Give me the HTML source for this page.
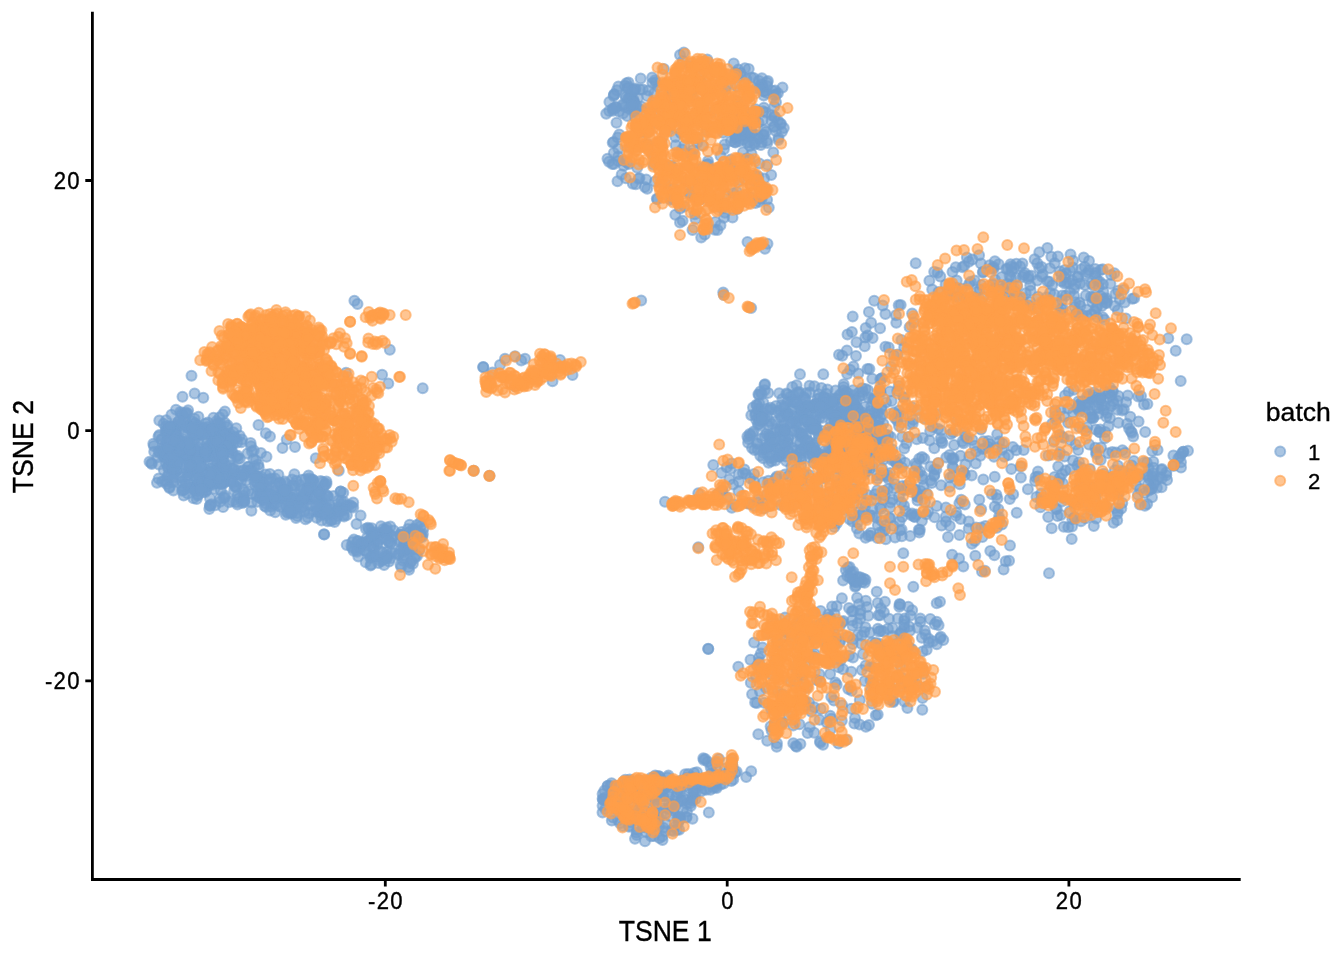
<!DOCTYPE html>
<html><head><meta charset="utf-8"><title>TSNE batch</title>
<style>
html,body{margin:0;padding:0;background:#fff;overflow:hidden;}
svg{display:block;}
text{font-family:"Liberation Sans",sans-serif;fill:#000;stroke:#000;stroke-width:0.35px;}
.tick{font-size:22.1px;}
.title{font-size:26.6px;}
</style></head><body>
<svg width="1344" height="960" viewBox="0 0 1344 960">
<rect width="1344" height="960" fill="#fff"/>
<g fill="#729ECE" fill-opacity="0.6" stroke="#729ECE" stroke-opacity="0.6" stroke-width="2"><circle cx="663.9" cy="68.9" r="5"/><circle cx="682.9" cy="61.1" r="5"/><circle cx="690.0" cy="66.0" r="5"/><circle cx="699.9" cy="75.9" r="5"/><circle cx="707.3" cy="59.6" r="5"/><circle cx="724.3" cy="76.8" r="5"/><circle cx="628.5" cy="82.4" r="5"/><circle cx="655.9" cy="82.3" r="5"/><circle cx="676.5" cy="83.0" r="5"/><circle cx="680.8" cy="84.3" r="5"/><circle cx="701.9" cy="86.0" r="5"/><circle cx="706.4" cy="69.9" r="5"/><circle cx="726.3" cy="86.7" r="5"/><circle cx="740.6" cy="72.9" r="5"/><circle cx="753.7" cy="77.9" r="5"/><circle cx="748.7" cy="68.9" r="5"/><circle cx="767.9" cy="80.9" r="5"/><circle cx="625.0" cy="85.7" r="5"/><circle cx="630.8" cy="95.7" r="5"/><circle cx="635.4" cy="88.4" r="5"/><circle cx="655.0" cy="80.3" r="5"/><circle cx="670.5" cy="89.2" r="5"/><circle cx="670.2" cy="97.4" r="5"/><circle cx="700.3" cy="88.3" r="5"/><circle cx="701.6" cy="82.8" r="5"/><circle cx="707.7" cy="90.8" r="5"/><circle cx="736.9" cy="86.6" r="5"/><circle cx="749.0" cy="97.3" r="5"/><circle cx="756.2" cy="88.2" r="5"/><circle cx="774.0" cy="95.3" r="5"/><circle cx="775.1" cy="90.5" r="5"/><circle cx="609.4" cy="102.1" r="5"/><circle cx="615.9" cy="107.5" r="5"/><circle cx="629.0" cy="108.8" r="5"/><circle cx="652.6" cy="106.1" r="5"/><circle cx="653.5" cy="105.1" r="5"/><circle cx="669.8" cy="91.9" r="5"/><circle cx="692.0" cy="90.8" r="5"/><circle cx="693.4" cy="98.8" r="5"/><circle cx="702.9" cy="103.7" r="5"/><circle cx="725.4" cy="90.1" r="5"/><circle cx="737.3" cy="100.9" r="5"/><circle cx="739.3" cy="106.0" r="5"/><circle cx="763.8" cy="95.4" r="5"/><circle cx="776.0" cy="102.2" r="5"/><circle cx="774.3" cy="106.4" r="5"/><circle cx="622.7" cy="104.4" r="5"/><circle cx="635.2" cy="118.1" r="5"/><circle cx="641.4" cy="106.5" r="5"/><circle cx="662.2" cy="108.2" r="5"/><circle cx="664.4" cy="100.7" r="5"/><circle cx="676.0" cy="113.5" r="5"/><circle cx="694.7" cy="119.0" r="5"/><circle cx="703.4" cy="118.0" r="5"/><circle cx="711.2" cy="112.6" r="5"/><circle cx="727.8" cy="118.5" r="5"/><circle cx="733.6" cy="118.4" r="5"/><circle cx="755.5" cy="109.2" r="5"/><circle cx="755.9" cy="112.2" r="5"/><circle cx="616.5" cy="122.7" r="5"/><circle cx="627.3" cy="115.9" r="5"/><circle cx="645.2" cy="125.8" r="5"/><circle cx="654.7" cy="116.1" r="5"/><circle cx="667.8" cy="127.0" r="5"/><circle cx="679.4" cy="119.9" r="5"/><circle cx="690.4" cy="117.7" r="5"/><circle cx="710.5" cy="127.8" r="5"/><circle cx="730.2" cy="124.2" r="5"/><circle cx="732.8" cy="116.0" r="5"/><circle cx="749.8" cy="117.7" r="5"/><circle cx="751.1" cy="122.0" r="5"/><circle cx="771.9" cy="115.3" r="5"/><circle cx="619.3" cy="134.4" r="5"/><circle cx="638.2" cy="128.0" r="5"/><circle cx="646.6" cy="132.7" r="5"/><circle cx="649.9" cy="125.3" r="5"/><circle cx="675.4" cy="136.9" r="5"/><circle cx="669.9" cy="127.6" r="5"/><circle cx="693.6" cy="137.9" r="5"/><circle cx="706.7" cy="130.2" r="5"/><circle cx="722.1" cy="121.7" r="5"/><circle cx="723.1" cy="132.7" r="5"/><circle cx="735.4" cy="136.1" r="5"/><circle cx="758.7" cy="138.4" r="5"/><circle cx="763.8" cy="134.8" r="5"/><circle cx="781.9" cy="131.7" r="5"/><circle cx="617.7" cy="137.6" r="5"/><circle cx="641.9" cy="132.1" r="5"/><circle cx="642.9" cy="146.3" r="5"/><circle cx="661.5" cy="141.7" r="5"/><circle cx="680.7" cy="133.1" r="5"/><circle cx="693.5" cy="149.9" r="5"/><circle cx="697.9" cy="138.0" r="5"/><circle cx="702.5" cy="145.2" r="5"/><circle cx="723.9" cy="149.2" r="5"/><circle cx="730.9" cy="141.1" r="5"/><circle cx="743.2" cy="139.5" r="5"/><circle cx="749.8" cy="146.1" r="5"/><circle cx="767.3" cy="143.0" r="5"/><circle cx="778.3" cy="140.0" r="5"/><circle cx="609.0" cy="161.7" r="5"/><circle cx="618.3" cy="148.8" r="5"/><circle cx="629.9" cy="147.0" r="5"/><circle cx="648.0" cy="144.4" r="5"/><circle cx="653.2" cy="154.9" r="5"/><circle cx="675.7" cy="145.2" r="5"/><circle cx="681.9" cy="149.5" r="5"/><circle cx="684.5" cy="145.1" r="5"/><circle cx="697.2" cy="142.8" r="5"/><circle cx="724.7" cy="144.6" r="5"/><circle cx="730.8" cy="159.4" r="5"/><circle cx="743.1" cy="152.2" r="5"/><circle cx="749.4" cy="159.3" r="5"/><circle cx="773.3" cy="152.4" r="5"/><circle cx="618.2" cy="156.4" r="5"/><circle cx="627.0" cy="162.6" r="5"/><circle cx="657.9" cy="160.8" r="5"/><circle cx="653.5" cy="164.8" r="5"/><circle cx="672.3" cy="167.0" r="5"/><circle cx="690.1" cy="154.1" r="5"/><circle cx="691.9" cy="154.2" r="5"/><circle cx="708.0" cy="161.0" r="5"/><circle cx="720.5" cy="155.8" r="5"/><circle cx="731.1" cy="164.1" r="5"/><circle cx="745.7" cy="158.8" r="5"/><circle cx="751.5" cy="153.9" r="5"/><circle cx="767.4" cy="164.8" r="5"/><circle cx="621.7" cy="174.5" r="5"/><circle cx="637.2" cy="167.7" r="5"/><circle cx="655.0" cy="181.4" r="5"/><circle cx="671.4" cy="165.8" r="5"/><circle cx="685.6" cy="181.9" r="5"/><circle cx="691.7" cy="183.0" r="5"/><circle cx="702.1" cy="179.7" r="5"/><circle cx="720.6" cy="173.0" r="5"/><circle cx="723.2" cy="178.2" r="5"/><circle cx="732.5" cy="167.7" r="5"/><circle cx="753.7" cy="180.8" r="5"/><circle cx="759.4" cy="163.6" r="5"/><circle cx="646.2" cy="179.6" r="5"/><circle cx="639.5" cy="178.0" r="5"/><circle cx="665.2" cy="183.9" r="5"/><circle cx="674.2" cy="188.7" r="5"/><circle cx="689.7" cy="192.9" r="5"/><circle cx="689.1" cy="193.4" r="5"/><circle cx="705.7" cy="183.1" r="5"/><circle cx="713.3" cy="177.7" r="5"/><circle cx="736.9" cy="191.9" r="5"/><circle cx="739.3" cy="180.5" r="5"/><circle cx="754.7" cy="175.4" r="5"/><circle cx="764.2" cy="178.4" r="5"/><circle cx="644.9" cy="186.9" r="5"/><circle cx="647.2" cy="188.7" r="5"/><circle cx="670.4" cy="199.7" r="5"/><circle cx="672.3" cy="198.8" r="5"/><circle cx="700.3" cy="199.6" r="5"/><circle cx="705.2" cy="197.3" r="5"/><circle cx="725.4" cy="195.4" r="5"/><circle cx="733.3" cy="193.2" r="5"/><circle cx="742.0" cy="201.4" r="5"/><circle cx="750.7" cy="197.5" r="5"/><circle cx="759.4" cy="194.4" r="5"/><circle cx="675.3" cy="214.7" r="5"/><circle cx="680.1" cy="208.6" r="5"/><circle cx="696.4" cy="197.7" r="5"/><circle cx="718.8" cy="201.3" r="5"/><circle cx="721.7" cy="208.2" r="5"/><circle cx="724.9" cy="212.7" r="5"/><circle cx="737.4" cy="209.0" r="5"/><circle cx="761.7" cy="198.9" r="5"/><circle cx="684.4" cy="206.6" r="5"/><circle cx="694.9" cy="214.3" r="5"/><circle cx="695.6" cy="219.0" r="5"/><circle cx="724.0" cy="217.8" r="5"/><circle cx="720.5" cy="225.2" r="5"/><circle cx="682.6" cy="220.7" r="5"/><circle cx="704.8" cy="234.6" r="5"/><circle cx="715.4" cy="222.0" r="5"/><circle cx="714.6" cy="229.8" r="5"/><circle cx="633.7" cy="112.3" r="5"/><circle cx="625.0" cy="95.1" r="5"/><circle cx="647.3" cy="96.1" r="5"/><circle cx="637.7" cy="98.3" r="5"/><circle cx="616.0" cy="106.9" r="5"/><circle cx="652.4" cy="83.0" r="5"/><circle cx="633.0" cy="98.8" r="5"/><circle cx="634.4" cy="111.1" r="5"/><circle cx="625.9" cy="97.0" r="5"/><circle cx="634.0" cy="101.3" r="5"/><circle cx="641.9" cy="110.4" r="5"/><circle cx="613.0" cy="110.7" r="5"/><circle cx="629.5" cy="97.8" r="5"/><circle cx="613.7" cy="95.9" r="5"/><circle cx="618.9" cy="111.5" r="5"/><circle cx="627.7" cy="88.6" r="5"/><circle cx="609.2" cy="111.1" r="5"/><circle cx="630.5" cy="99.5" r="5"/><circle cx="612.7" cy="108.8" r="5"/><circle cx="634.0" cy="89.7" r="5"/><circle cx="626.4" cy="83.2" r="5"/><circle cx="623.2" cy="105.5" r="5"/><circle cx="616.9" cy="90.3" r="5"/><circle cx="613.5" cy="108.5" r="5"/><circle cx="642.8" cy="89.4" r="5"/><circle cx="634.0" cy="102.5" r="5"/><circle cx="639.9" cy="89.6" r="5"/><circle cx="628.4" cy="87.1" r="5"/><circle cx="624.8" cy="107.0" r="5"/><circle cx="632.1" cy="107.4" r="5"/><circle cx="628.0" cy="98.8" r="5"/><circle cx="652.2" cy="77.6" r="5"/><circle cx="634.1" cy="103.8" r="5"/><circle cx="648.5" cy="90.5" r="5"/><circle cx="658.3" cy="86.9" r="5"/><circle cx="618.4" cy="86.5" r="5"/><circle cx="623.0" cy="113.5" r="5"/><circle cx="614.2" cy="94.2" r="5"/><circle cx="654.2" cy="93.2" r="5"/><circle cx="634.8" cy="89.7" r="5"/><circle cx="640.7" cy="78.5" r="5"/><circle cx="614.1" cy="94.8" r="5"/><circle cx="632.7" cy="102.2" r="5"/><circle cx="632.5" cy="91.0" r="5"/><circle cx="636.3" cy="107.1" r="5"/><circle cx="636.9" cy="106.6" r="5"/><circle cx="631.8" cy="105.7" r="5"/><circle cx="758.8" cy="80.8" r="5"/><circle cx="763.8" cy="91.2" r="5"/><circle cx="761.9" cy="78.3" r="5"/><circle cx="746.4" cy="79.2" r="5"/><circle cx="737.0" cy="74.4" r="5"/><circle cx="740.9" cy="76.1" r="5"/><circle cx="761.5" cy="84.2" r="5"/><circle cx="738.3" cy="69.5" r="5"/><circle cx="775.9" cy="94.9" r="5"/><circle cx="762.3" cy="87.3" r="5"/><circle cx="734.9" cy="72.5" r="5"/><circle cx="733.7" cy="63.4" r="5"/><circle cx="766.9" cy="82.6" r="5"/><circle cx="764.0" cy="91.4" r="5"/><circle cx="762.3" cy="85.6" r="5"/><circle cx="767.3" cy="86.3" r="5"/><circle cx="772.7" cy="91.1" r="5"/><circle cx="736.3" cy="74.0" r="5"/><circle cx="759.2" cy="87.9" r="5"/><circle cx="751.2" cy="77.5" r="5"/><circle cx="767.3" cy="93.1" r="5"/><circle cx="777.9" cy="93.2" r="5"/><circle cx="744.9" cy="68.3" r="5"/><circle cx="774.0" cy="126.7" r="5"/><circle cx="733.7" cy="111.8" r="5"/><circle cx="747.2" cy="143.0" r="5"/><circle cx="744.5" cy="110.5" r="5"/><circle cx="742.9" cy="134.6" r="5"/><circle cx="735.6" cy="119.4" r="5"/><circle cx="737.7" cy="131.4" r="5"/><circle cx="732.7" cy="125.2" r="5"/><circle cx="739.1" cy="141.3" r="5"/><circle cx="750.5" cy="116.3" r="5"/><circle cx="735.4" cy="142.5" r="5"/><circle cx="766.0" cy="131.8" r="5"/><circle cx="762.7" cy="120.1" r="5"/><circle cx="740.2" cy="135.3" r="5"/><circle cx="744.8" cy="131.5" r="5"/><circle cx="774.6" cy="117.2" r="5"/><circle cx="765.7" cy="112.5" r="5"/><circle cx="749.5" cy="123.8" r="5"/><circle cx="734.8" cy="142.0" r="5"/><circle cx="744.4" cy="118.6" r="5"/><circle cx="751.5" cy="132.0" r="5"/><circle cx="755.4" cy="134.6" r="5"/><circle cx="739.7" cy="133.8" r="5"/><circle cx="749.6" cy="136.3" r="5"/><circle cx="750.4" cy="125.4" r="5"/><circle cx="741.0" cy="119.1" r="5"/><circle cx="752.5" cy="119.0" r="5"/><circle cx="763.0" cy="135.2" r="5"/><circle cx="754.2" cy="143.1" r="5"/><circle cx="777.9" cy="120.7" r="5"/><circle cx="747.8" cy="133.7" r="5"/><circle cx="747.1" cy="135.9" r="5"/><circle cx="735.5" cy="137.7" r="5"/><circle cx="755.2" cy="117.8" r="5"/><circle cx="734.4" cy="130.6" r="5"/><circle cx="763.0" cy="111.3" r="5"/><circle cx="735.7" cy="139.0" r="5"/><circle cx="739.5" cy="137.0" r="5"/><circle cx="739.6" cy="124.0" r="5"/><circle cx="754.8" cy="144.6" r="5"/><circle cx="732.9" cy="121.7" r="5"/><circle cx="736.9" cy="135.3" r="5"/><circle cx="747.2" cy="130.9" r="5"/><circle cx="749.6" cy="118.6" r="5"/><circle cx="774.8" cy="116.4" r="5"/><circle cx="742.2" cy="130.9" r="5"/><circle cx="740.7" cy="110.3" r="5"/><circle cx="758.6" cy="122.6" r="5"/><circle cx="752.1" cy="134.2" r="5"/><circle cx="758.9" cy="138.6" r="5"/><circle cx="749.4" cy="142.2" r="5"/><circle cx="778.5" cy="137.7" r="5"/><circle cx="774.6" cy="126.7" r="5"/><circle cx="776.0" cy="131.3" r="5"/><circle cx="751.7" cy="131.8" r="5"/><circle cx="771.5" cy="121.1" r="5"/><circle cx="766.8" cy="140.8" r="5"/><circle cx="761.8" cy="142.2" r="5"/><circle cx="763.9" cy="107.8" r="5"/><circle cx="745.8" cy="129.6" r="5"/><circle cx="747.3" cy="131.5" r="5"/><circle cx="780.1" cy="123.5" r="5"/><circle cx="760.7" cy="145.0" r="5"/><circle cx="781.1" cy="124.0" r="5"/><circle cx="740.7" cy="129.2" r="5"/><circle cx="737.0" cy="119.4" r="5"/><circle cx="764.4" cy="129.7" r="5"/><circle cx="713.2" cy="170.3" r="5"/><circle cx="706.1" cy="167.7" r="5"/><circle cx="708.1" cy="170.2" r="5"/><circle cx="708.0" cy="164.0" r="5"/><circle cx="712.8" cy="173.4" r="5"/><circle cx="712.9" cy="170.2" r="5"/><circle cx="707.1" cy="164.7" r="5"/><circle cx="702.0" cy="168.1" r="5"/><circle cx="705.6" cy="168.8" r="5"/><circle cx="612.7" cy="142.8" r="5"/><circle cx="613.6" cy="142.1" r="5"/><circle cx="613.8" cy="152.9" r="5"/><circle cx="623.1" cy="160.6" r="5"/><circle cx="618.1" cy="161.0" r="5"/><circle cx="628.7" cy="163.9" r="5"/><circle cx="614.0" cy="164.0" r="5"/><circle cx="612.3" cy="163.9" r="5"/><circle cx="623.7" cy="165.8" r="5"/><circle cx="625.8" cy="178.2" r="5"/><circle cx="635.9" cy="184.3" r="5"/><circle cx="632.8" cy="183.8" r="5"/><circle cx="638.6" cy="178.8" r="5"/><circle cx="656.8" cy="198.8" r="5"/><circle cx="657.5" cy="199.3" r="5"/><circle cx="758.4" cy="176.6" r="5"/><circle cx="758.6" cy="183.3" r="5"/><circle cx="758.5" cy="187.1" r="5"/><circle cx="760.8" cy="190.9" r="5"/><circle cx="766.4" cy="189.2" r="5"/><circle cx="759.2" cy="201.7" r="5"/><circle cx="760.9" cy="197.6" r="5"/><circle cx="755.3" cy="202.9" r="5"/><circle cx="767.1" cy="199.8" r="5"/><circle cx="747.5" cy="242.0" r="5"/><circle cx="767.5" cy="243.8" r="5"/><circle cx="765.0" cy="248.8" r="5"/><circle cx="680.0" cy="55.0" r="5"/><circle cx="683.8" cy="52.5" r="5"/><circle cx="606.2" cy="113.8" r="5"/><circle cx="607.5" cy="158.8" r="5"/><circle cx="617.5" cy="181.2" r="5"/><circle cx="783.8" cy="128.0" r="5"/><circle cx="782.5" cy="87.5" r="5"/><circle cx="680.0" cy="222.5" r="5"/><circle cx="692.5" cy="230.0" r="5"/><circle cx="701.2" cy="237.5" r="5"/><circle cx="717.5" cy="230.0" r="5"/><circle cx="732.5" cy="217.5" r="5"/><circle cx="768.8" cy="207.5" r="5"/><circle cx="771.2" cy="175.0" r="5"/><circle cx="322.9" cy="482.0" r="5"/><circle cx="187.4" cy="413.7" r="5"/><circle cx="175.9" cy="430.9" r="5"/><circle cx="262.1" cy="489.2" r="5"/><circle cx="256.5" cy="496.0" r="5"/><circle cx="298.4" cy="504.1" r="5"/><circle cx="221.3" cy="484.1" r="5"/><circle cx="287.0" cy="489.5" r="5"/><circle cx="206.6" cy="478.9" r="5"/><circle cx="172.6" cy="461.3" r="5"/><circle cx="222.6" cy="458.4" r="5"/><circle cx="326.4" cy="481.4" r="5"/><circle cx="209.2" cy="456.3" r="5"/><circle cx="320.4" cy="515.3" r="5"/><circle cx="292.0" cy="499.8" r="5"/><circle cx="292.8" cy="485.2" r="5"/><circle cx="232.4" cy="476.7" r="5"/><circle cx="206.7" cy="443.3" r="5"/><circle cx="168.0" cy="434.0" r="5"/><circle cx="177.1" cy="423.7" r="5"/><circle cx="264.0" cy="486.4" r="5"/><circle cx="275.1" cy="478.6" r="5"/><circle cx="235.1" cy="474.3" r="5"/><circle cx="182.6" cy="448.7" r="5"/><circle cx="234.2" cy="490.5" r="5"/><circle cx="233.9" cy="468.5" r="5"/><circle cx="196.0" cy="438.1" r="5"/><circle cx="243.3" cy="469.9" r="5"/><circle cx="192.9" cy="434.4" r="5"/><circle cx="229.5" cy="433.3" r="5"/><circle cx="164.4" cy="446.3" r="5"/><circle cx="176.8" cy="470.7" r="5"/><circle cx="192.5" cy="465.9" r="5"/><circle cx="221.9" cy="431.1" r="5"/><circle cx="222.3" cy="460.3" r="5"/><circle cx="340.6" cy="491.4" r="5"/><circle cx="174.1" cy="453.1" r="5"/><circle cx="222.7" cy="414.5" r="5"/><circle cx="263.0" cy="479.0" r="5"/><circle cx="161.6" cy="439.2" r="5"/><circle cx="248.0" cy="466.7" r="5"/><circle cx="275.2" cy="512.3" r="5"/><circle cx="202.0" cy="466.5" r="5"/><circle cx="218.2" cy="467.9" r="5"/><circle cx="168.3" cy="467.2" r="5"/><circle cx="223.0" cy="482.4" r="5"/><circle cx="239.7" cy="435.8" r="5"/><circle cx="190.4" cy="466.6" r="5"/><circle cx="286.9" cy="499.5" r="5"/><circle cx="316.6" cy="511.5" r="5"/><circle cx="233.3" cy="432.3" r="5"/><circle cx="171.6" cy="482.1" r="5"/><circle cx="163.8" cy="470.0" r="5"/><circle cx="268.8" cy="486.4" r="5"/><circle cx="285.4" cy="492.2" r="5"/><circle cx="329.1" cy="512.8" r="5"/><circle cx="224.9" cy="411.6" r="5"/><circle cx="182.6" cy="450.5" r="5"/><circle cx="211.4" cy="504.2" r="5"/><circle cx="220.7" cy="477.3" r="5"/><circle cx="219.7" cy="480.2" r="5"/><circle cx="337.9" cy="512.1" r="5"/><circle cx="196.7" cy="499.0" r="5"/><circle cx="222.1" cy="467.6" r="5"/><circle cx="282.1" cy="492.2" r="5"/><circle cx="253.5" cy="459.1" r="5"/><circle cx="167.2" cy="432.7" r="5"/><circle cx="196.5" cy="453.6" r="5"/><circle cx="296.0" cy="505.0" r="5"/><circle cx="221.5" cy="433.2" r="5"/><circle cx="224.9" cy="479.3" r="5"/><circle cx="239.8" cy="458.8" r="5"/><circle cx="327.6" cy="521.3" r="5"/><circle cx="248.3" cy="466.9" r="5"/><circle cx="194.0" cy="486.8" r="5"/><circle cx="310.8" cy="487.5" r="5"/><circle cx="278.0" cy="493.0" r="5"/><circle cx="242.1" cy="439.5" r="5"/><circle cx="198.6" cy="448.8" r="5"/><circle cx="220.1" cy="427.1" r="5"/><circle cx="241.3" cy="442.2" r="5"/><circle cx="209.3" cy="509.0" r="5"/><circle cx="185.3" cy="457.1" r="5"/><circle cx="316.6" cy="517.7" r="5"/><circle cx="227.6" cy="435.4" r="5"/><circle cx="292.3" cy="497.9" r="5"/><circle cx="247.0" cy="475.8" r="5"/><circle cx="232.5" cy="453.1" r="5"/><circle cx="174.4" cy="458.7" r="5"/><circle cx="257.6" cy="484.2" r="5"/><circle cx="217.3" cy="481.3" r="5"/><circle cx="199.8" cy="476.8" r="5"/><circle cx="175.7" cy="432.6" r="5"/><circle cx="266.1" cy="503.4" r="5"/><circle cx="259.3" cy="478.0" r="5"/><circle cx="276.5" cy="503.0" r="5"/><circle cx="330.4" cy="512.8" r="5"/><circle cx="337.6" cy="516.0" r="5"/><circle cx="211.6" cy="451.6" r="5"/><circle cx="177.0" cy="470.2" r="5"/><circle cx="236.4" cy="502.2" r="5"/><circle cx="322.5" cy="506.5" r="5"/><circle cx="203.8" cy="456.1" r="5"/><circle cx="282.3" cy="496.0" r="5"/><circle cx="164.6" cy="480.7" r="5"/><circle cx="199.0" cy="479.9" r="5"/><circle cx="188.1" cy="410.3" r="5"/><circle cx="262.0" cy="487.5" r="5"/><circle cx="186.4" cy="412.6" r="5"/><circle cx="287.8" cy="489.4" r="5"/><circle cx="190.8" cy="429.0" r="5"/><circle cx="353.2" cy="502.5" r="5"/><circle cx="260.6" cy="498.6" r="5"/><circle cx="222.4" cy="439.9" r="5"/><circle cx="270.2" cy="494.1" r="5"/><circle cx="342.5" cy="509.4" r="5"/><circle cx="164.4" cy="451.1" r="5"/><circle cx="184.9" cy="421.1" r="5"/><circle cx="317.8" cy="490.2" r="5"/><circle cx="215.1" cy="440.5" r="5"/><circle cx="236.3" cy="428.2" r="5"/><circle cx="192.6" cy="455.5" r="5"/><circle cx="217.6" cy="423.0" r="5"/><circle cx="317.6" cy="491.2" r="5"/><circle cx="230.6" cy="459.0" r="5"/><circle cx="231.2" cy="480.1" r="5"/><circle cx="200.2" cy="478.6" r="5"/><circle cx="189.5" cy="484.1" r="5"/><circle cx="310.8" cy="479.7" r="5"/><circle cx="338.0" cy="510.1" r="5"/><circle cx="183.0" cy="490.1" r="5"/><circle cx="186.0" cy="446.4" r="5"/><circle cx="168.1" cy="436.7" r="5"/><circle cx="192.8" cy="427.4" r="5"/><circle cx="173.3" cy="482.2" r="5"/><circle cx="279.5" cy="482.4" r="5"/><circle cx="212.4" cy="441.3" r="5"/><circle cx="174.6" cy="471.9" r="5"/><circle cx="217.7" cy="445.5" r="5"/><circle cx="203.7" cy="453.8" r="5"/><circle cx="256.3" cy="481.8" r="5"/><circle cx="189.2" cy="445.6" r="5"/><circle cx="190.6" cy="469.7" r="5"/><circle cx="238.0" cy="458.8" r="5"/><circle cx="340.6" cy="491.6" r="5"/><circle cx="310.5" cy="483.0" r="5"/><circle cx="291.6" cy="512.6" r="5"/><circle cx="215.3" cy="505.2" r="5"/><circle cx="208.1" cy="481.5" r="5"/><circle cx="242.4" cy="475.5" r="5"/><circle cx="330.5" cy="506.9" r="5"/><circle cx="220.1" cy="501.7" r="5"/><circle cx="333.5" cy="496.1" r="5"/><circle cx="228.8" cy="480.4" r="5"/><circle cx="233.2" cy="443.7" r="5"/><circle cx="191.1" cy="488.0" r="5"/><circle cx="254.5" cy="466.2" r="5"/><circle cx="280.5" cy="506.7" r="5"/><circle cx="223.1" cy="507.1" r="5"/><circle cx="275.6" cy="483.6" r="5"/><circle cx="226.4" cy="469.1" r="5"/><circle cx="175.4" cy="437.5" r="5"/><circle cx="260.8" cy="488.8" r="5"/><circle cx="237.6" cy="495.6" r="5"/><circle cx="212.9" cy="464.7" r="5"/><circle cx="255.7" cy="475.6" r="5"/><circle cx="226.7" cy="426.9" r="5"/><circle cx="291.4" cy="513.8" r="5"/><circle cx="304.0" cy="498.9" r="5"/><circle cx="247.0" cy="470.6" r="5"/><circle cx="159.4" cy="434.9" r="5"/><circle cx="330.2" cy="509.1" r="5"/><circle cx="235.6" cy="486.6" r="5"/><circle cx="215.7" cy="454.2" r="5"/><circle cx="224.4" cy="482.5" r="5"/><circle cx="164.4" cy="457.7" r="5"/><circle cx="191.2" cy="472.9" r="5"/><circle cx="275.1" cy="490.6" r="5"/><circle cx="201.9" cy="488.6" r="5"/><circle cx="349.8" cy="505.0" r="5"/><circle cx="179.8" cy="423.9" r="5"/><circle cx="205.1" cy="455.8" r="5"/><circle cx="220.8" cy="490.4" r="5"/><circle cx="296.0" cy="518.0" r="5"/><circle cx="185.6" cy="444.7" r="5"/><circle cx="195.9" cy="431.4" r="5"/><circle cx="237.8" cy="474.1" r="5"/><circle cx="166.6" cy="481.3" r="5"/><circle cx="153.3" cy="443.8" r="5"/><circle cx="251.6" cy="502.4" r="5"/><circle cx="237.6" cy="455.7" r="5"/><circle cx="251.6" cy="470.1" r="5"/><circle cx="242.9" cy="471.2" r="5"/><circle cx="246.0" cy="480.6" r="5"/><circle cx="193.5" cy="455.7" r="5"/><circle cx="301.6" cy="508.1" r="5"/><circle cx="278.4" cy="474.8" r="5"/><circle cx="176.2" cy="451.3" r="5"/><circle cx="243.4" cy="498.4" r="5"/><circle cx="308.9" cy="513.2" r="5"/><circle cx="185.6" cy="441.4" r="5"/><circle cx="336.1" cy="518.9" r="5"/><circle cx="236.4" cy="486.8" r="5"/><circle cx="217.8" cy="424.0" r="5"/><circle cx="219.4" cy="456.3" r="5"/><circle cx="320.6" cy="499.8" r="5"/><circle cx="251.8" cy="494.1" r="5"/><circle cx="211.6" cy="433.0" r="5"/><circle cx="188.2" cy="440.8" r="5"/><circle cx="247.5" cy="453.5" r="5"/><circle cx="173.0" cy="431.0" r="5"/><circle cx="237.4" cy="504.4" r="5"/><circle cx="217.6" cy="432.4" r="5"/><circle cx="258.3" cy="464.6" r="5"/><circle cx="168.8" cy="453.8" r="5"/><circle cx="351.5" cy="506.6" r="5"/><circle cx="242.2" cy="502.9" r="5"/><circle cx="314.2" cy="497.6" r="5"/><circle cx="310.7" cy="483.6" r="5"/><circle cx="250.6" cy="443.0" r="5"/><circle cx="217.0" cy="463.4" r="5"/><circle cx="292.2" cy="512.5" r="5"/><circle cx="343.3" cy="492.8" r="5"/><circle cx="239.3" cy="498.1" r="5"/><circle cx="287.9" cy="508.4" r="5"/><circle cx="222.7" cy="483.9" r="5"/><circle cx="223.9" cy="469.8" r="5"/><circle cx="338.1" cy="511.6" r="5"/><circle cx="275.7" cy="495.7" r="5"/><circle cx="286.7" cy="501.2" r="5"/><circle cx="304.3" cy="511.6" r="5"/><circle cx="192.8" cy="441.8" r="5"/><circle cx="213.1" cy="454.4" r="5"/><circle cx="201.1" cy="487.9" r="5"/><circle cx="343.6" cy="501.6" r="5"/><circle cx="173.4" cy="490.4" r="5"/><circle cx="176.0" cy="409.8" r="5"/><circle cx="299.7" cy="501.2" r="5"/><circle cx="163.6" cy="423.7" r="5"/><circle cx="207.3" cy="472.8" r="5"/><circle cx="224.8" cy="469.3" r="5"/><circle cx="235.0" cy="486.7" r="5"/><circle cx="222.3" cy="474.9" r="5"/><circle cx="347.1" cy="505.5" r="5"/><circle cx="232.1" cy="438.7" r="5"/><circle cx="285.9" cy="496.1" r="5"/><circle cx="232.5" cy="481.4" r="5"/><circle cx="187.7" cy="447.4" r="5"/><circle cx="257.2" cy="477.3" r="5"/><circle cx="325.3" cy="484.5" r="5"/><circle cx="271.1" cy="506.5" r="5"/><circle cx="216.1" cy="470.3" r="5"/><circle cx="229.0" cy="441.4" r="5"/><circle cx="258.8" cy="467.4" r="5"/><circle cx="182.3" cy="485.9" r="5"/><circle cx="186.8" cy="450.5" r="5"/><circle cx="217.3" cy="427.9" r="5"/><circle cx="319.7" cy="512.6" r="5"/><circle cx="307.5" cy="495.6" r="5"/><circle cx="158.7" cy="478.6" r="5"/><circle cx="197.9" cy="494.2" r="5"/><circle cx="308.6" cy="475.4" r="5"/><circle cx="346.9" cy="515.0" r="5"/><circle cx="250.3" cy="472.0" r="5"/><circle cx="197.7" cy="495.6" r="5"/><circle cx="206.3" cy="490.5" r="5"/><circle cx="212.1" cy="452.5" r="5"/><circle cx="178.4" cy="421.7" r="5"/><circle cx="200.9" cy="477.2" r="5"/><circle cx="205.6" cy="423.7" r="5"/><circle cx="172.1" cy="468.2" r="5"/><circle cx="211.9" cy="435.6" r="5"/><circle cx="173.8" cy="433.7" r="5"/><circle cx="158.9" cy="464.5" r="5"/><circle cx="313.3" cy="511.5" r="5"/><circle cx="300.7" cy="497.8" r="5"/><circle cx="184.1" cy="489.5" r="5"/><circle cx="226.8" cy="434.3" r="5"/><circle cx="177.6" cy="442.8" r="5"/><circle cx="180.8" cy="442.6" r="5"/><circle cx="309.6" cy="499.3" r="5"/><circle cx="157.0" cy="482.8" r="5"/><circle cx="259.3" cy="497.0" r="5"/><circle cx="251.4" cy="510.7" r="5"/><circle cx="210.2" cy="468.0" r="5"/><circle cx="187.5" cy="451.7" r="5"/><circle cx="294.7" cy="486.3" r="5"/><circle cx="271.9" cy="503.1" r="5"/><circle cx="321.7" cy="520.4" r="5"/><circle cx="248.4" cy="491.3" r="5"/><circle cx="256.0" cy="476.8" r="5"/><circle cx="329.6" cy="514.4" r="5"/><circle cx="297.3" cy="512.9" r="5"/><circle cx="177.2" cy="465.5" r="5"/><circle cx="271.7" cy="478.7" r="5"/><circle cx="254.4" cy="481.5" r="5"/><circle cx="280.6" cy="483.5" r="5"/><circle cx="271.2" cy="498.7" r="5"/><circle cx="151.8" cy="464.0" r="5"/><circle cx="296.4" cy="480.8" r="5"/><circle cx="195.5" cy="487.6" r="5"/><circle cx="224.6" cy="433.1" r="5"/><circle cx="278.9" cy="496.2" r="5"/><circle cx="185.8" cy="458.9" r="5"/><circle cx="196.3" cy="460.5" r="5"/><circle cx="173.7" cy="444.7" r="5"/><circle cx="192.2" cy="421.5" r="5"/><circle cx="224.7" cy="495.6" r="5"/><circle cx="236.3" cy="456.9" r="5"/><circle cx="269.0" cy="496.5" r="5"/><circle cx="200.7" cy="431.8" r="5"/><circle cx="273.9" cy="504.2" r="5"/><circle cx="321.8" cy="502.1" r="5"/><circle cx="211.9" cy="456.6" r="5"/><circle cx="167.4" cy="450.6" r="5"/><circle cx="304.0" cy="498.6" r="5"/><circle cx="313.1" cy="488.3" r="5"/><circle cx="187.7" cy="493.6" r="5"/><circle cx="207.8" cy="427.1" r="5"/><circle cx="319.1" cy="511.5" r="5"/><circle cx="183.1" cy="455.6" r="5"/><circle cx="190.1" cy="472.2" r="5"/><circle cx="240.9" cy="481.4" r="5"/><circle cx="297.2" cy="516.1" r="5"/><circle cx="194.5" cy="451.9" r="5"/><circle cx="323.4" cy="514.0" r="5"/><circle cx="184.4" cy="456.5" r="5"/><circle cx="258.2" cy="489.4" r="5"/><circle cx="197.4" cy="484.7" r="5"/><circle cx="165.8" cy="462.7" r="5"/><circle cx="285.9" cy="506.3" r="5"/><circle cx="244.4" cy="474.6" r="5"/><circle cx="167.6" cy="430.8" r="5"/><circle cx="168.2" cy="428.5" r="5"/><circle cx="344.1" cy="516.5" r="5"/><circle cx="243.2" cy="495.7" r="5"/><circle cx="271.4" cy="493.9" r="5"/><circle cx="263.5" cy="499.7" r="5"/><circle cx="196.6" cy="450.5" r="5"/><circle cx="261.4" cy="476.7" r="5"/><circle cx="168.6" cy="465.3" r="5"/><circle cx="186.8" cy="443.7" r="5"/><circle cx="213.0" cy="484.8" r="5"/><circle cx="192.8" cy="429.0" r="5"/><circle cx="213.4" cy="432.8" r="5"/><circle cx="206.6" cy="455.5" r="5"/><circle cx="162.8" cy="451.0" r="5"/><circle cx="281.8" cy="491.0" r="5"/><circle cx="295.0" cy="497.3" r="5"/><circle cx="224.3" cy="470.0" r="5"/><circle cx="170.6" cy="426.4" r="5"/><circle cx="269.2" cy="479.3" r="5"/><circle cx="278.9" cy="498.4" r="5"/><circle cx="323.3" cy="487.1" r="5"/><circle cx="211.7" cy="483.9" r="5"/><circle cx="234.3" cy="436.7" r="5"/><circle cx="210.3" cy="451.5" r="5"/><circle cx="233.5" cy="439.2" r="5"/><circle cx="321.8" cy="504.1" r="5"/><circle cx="261.8" cy="482.7" r="5"/><circle cx="226.5" cy="447.4" r="5"/><circle cx="182.3" cy="414.8" r="5"/><circle cx="223.7" cy="497.8" r="5"/><circle cx="292.6" cy="485.2" r="5"/><circle cx="289.6" cy="497.0" r="5"/><circle cx="341.4" cy="504.3" r="5"/><circle cx="294.2" cy="498.7" r="5"/><circle cx="154.2" cy="451.7" r="5"/><circle cx="229.6" cy="465.4" r="5"/><circle cx="188.6" cy="467.9" r="5"/><circle cx="266.2" cy="507.0" r="5"/><circle cx="322.4" cy="497.1" r="5"/><circle cx="306.9" cy="499.0" r="5"/><circle cx="207.3" cy="486.0" r="5"/><circle cx="193.6" cy="470.9" r="5"/><circle cx="194.6" cy="418.7" r="5"/><circle cx="212.0" cy="481.3" r="5"/><circle cx="193.4" cy="498.3" r="5"/><circle cx="318.6" cy="492.8" r="5"/><circle cx="177.9" cy="426.3" r="5"/><circle cx="189.4" cy="487.6" r="5"/><circle cx="200.5" cy="485.6" r="5"/><circle cx="341.3" cy="510.6" r="5"/><circle cx="190.9" cy="464.1" r="5"/><circle cx="151.4" cy="463.1" r="5"/><circle cx="251.9" cy="451.4" r="5"/><circle cx="243.9" cy="500.8" r="5"/><circle cx="303.3" cy="489.6" r="5"/><circle cx="223.6" cy="446.4" r="5"/><circle cx="167.8" cy="449.8" r="5"/><circle cx="230.6" cy="446.5" r="5"/><circle cx="187.1" cy="425.3" r="5"/><circle cx="287.2" cy="512.7" r="5"/><circle cx="279.3" cy="484.4" r="5"/><circle cx="166.8" cy="483.9" r="5"/><circle cx="167.9" cy="467.7" r="5"/><circle cx="207.7" cy="422.4" r="5"/><circle cx="304.2" cy="495.1" r="5"/><circle cx="162.8" cy="455.0" r="5"/><circle cx="266.5" cy="487.7" r="5"/><circle cx="192.6" cy="455.0" r="5"/><circle cx="157.6" cy="457.3" r="5"/><circle cx="175.4" cy="460.8" r="5"/><circle cx="291.8" cy="503.4" r="5"/><circle cx="169.4" cy="487.0" r="5"/><circle cx="158.5" cy="436.6" r="5"/><circle cx="238.8" cy="479.6" r="5"/><circle cx="181.9" cy="481.6" r="5"/><circle cx="229.1" cy="438.7" r="5"/><circle cx="251.0" cy="446.2" r="5"/><circle cx="194.8" cy="423.3" r="5"/><circle cx="217.7" cy="441.7" r="5"/><circle cx="311.1" cy="505.3" r="5"/><circle cx="174.2" cy="432.4" r="5"/><circle cx="290.5" cy="505.2" r="5"/><circle cx="303.2" cy="507.1" r="5"/><circle cx="166.1" cy="420.2" r="5"/><circle cx="172.2" cy="457.3" r="5"/><circle cx="213.5" cy="417.7" r="5"/><circle cx="211.7" cy="431.1" r="5"/><circle cx="317.8" cy="500.8" r="5"/><circle cx="244.3" cy="500.8" r="5"/><circle cx="280.6" cy="484.1" r="5"/><circle cx="313.2" cy="480.1" r="5"/><circle cx="171.5" cy="414.8" r="5"/><circle cx="230.7" cy="446.6" r="5"/><circle cx="257.9" cy="477.3" r="5"/><circle cx="327.8" cy="496.2" r="5"/><circle cx="197.1" cy="488.8" r="5"/><circle cx="169.4" cy="487.9" r="5"/><circle cx="331.7" cy="519.4" r="5"/><circle cx="265.7" cy="474.5" r="5"/><circle cx="312.8" cy="480.0" r="5"/><circle cx="209.9" cy="505.6" r="5"/><circle cx="292.1" cy="479.6" r="5"/><circle cx="270.2" cy="510.5" r="5"/><circle cx="329.3" cy="504.7" r="5"/><circle cx="187.4" cy="434.0" r="5"/><circle cx="303.6" cy="495.1" r="5"/><circle cx="153.8" cy="445.9" r="5"/><circle cx="195.4" cy="434.2" r="5"/><circle cx="196.2" cy="468.3" r="5"/><circle cx="229.1" cy="448.6" r="5"/><circle cx="320.7" cy="481.0" r="5"/><circle cx="341.3" cy="501.2" r="5"/><circle cx="183.7" cy="495.6" r="5"/><circle cx="178.9" cy="460.1" r="5"/><circle cx="341.2" cy="509.1" r="5"/><circle cx="227.5" cy="425.3" r="5"/><circle cx="172.5" cy="426.2" r="5"/><circle cx="325.8" cy="506.9" r="5"/><circle cx="197.2" cy="487.0" r="5"/><circle cx="309.5" cy="505.7" r="5"/><circle cx="207.5" cy="447.9" r="5"/><circle cx="180.3" cy="451.4" r="5"/><circle cx="297.5" cy="495.1" r="5"/><circle cx="176.6" cy="435.4" r="5"/><circle cx="189.0" cy="455.2" r="5"/><circle cx="285.8" cy="514.7" r="5"/><circle cx="198.4" cy="470.5" r="5"/><circle cx="280.8" cy="497.3" r="5"/><circle cx="166.7" cy="442.4" r="5"/><circle cx="294.4" cy="474.3" r="5"/><circle cx="312.2" cy="481.3" r="5"/><circle cx="266.5" cy="456.7" r="5"/><circle cx="284.8" cy="481.5" r="5"/><circle cx="320.5" cy="506.7" r="5"/><circle cx="338.6" cy="511.2" r="5"/><circle cx="168.5" cy="475.5" r="5"/><circle cx="194.8" cy="476.3" r="5"/><circle cx="185.5" cy="484.1" r="5"/><circle cx="187.6" cy="472.3" r="5"/><circle cx="261.4" cy="484.1" r="5"/><circle cx="207.3" cy="486.9" r="5"/><circle cx="217.1" cy="458.4" r="5"/><circle cx="219.7" cy="498.4" r="5"/><circle cx="302.2" cy="479.7" r="5"/><circle cx="205.4" cy="491.9" r="5"/><circle cx="210.1" cy="505.7" r="5"/><circle cx="195.1" cy="490.6" r="5"/><circle cx="182.1" cy="477.2" r="5"/><circle cx="182.1" cy="490.7" r="5"/><circle cx="228.7" cy="444.3" r="5"/><circle cx="220.1" cy="441.3" r="5"/><circle cx="162.1" cy="481.4" r="5"/><circle cx="285.5" cy="483.3" r="5"/><circle cx="292.0" cy="498.3" r="5"/><circle cx="242.9" cy="489.3" r="5"/><circle cx="210.0" cy="498.2" r="5"/><circle cx="199.3" cy="434.9" r="5"/><circle cx="315.7" cy="497.9" r="5"/><circle cx="204.6" cy="431.6" r="5"/><circle cx="224.8" cy="497.6" r="5"/><circle cx="307.8" cy="517.5" r="5"/><circle cx="263.3" cy="496.6" r="5"/><circle cx="299.9" cy="485.0" r="5"/><circle cx="309.6" cy="478.3" r="5"/><circle cx="165.8" cy="426.2" r="5"/><circle cx="265.7" cy="486.6" r="5"/><circle cx="260.6" cy="494.7" r="5"/><circle cx="167.7" cy="456.5" r="5"/><circle cx="302.8" cy="498.7" r="5"/><circle cx="158.7" cy="451.3" r="5"/><circle cx="210.6" cy="473.9" r="5"/><circle cx="210.5" cy="428.6" r="5"/><circle cx="210.8" cy="436.5" r="5"/><circle cx="338.8" cy="506.9" r="5"/><circle cx="232.4" cy="501.0" r="5"/><circle cx="267.7" cy="494.6" r="5"/><circle cx="221.6" cy="442.7" r="5"/><circle cx="295.1" cy="506.8" r="5"/><circle cx="180.2" cy="412.0" r="5"/><circle cx="306.9" cy="489.2" r="5"/><circle cx="207.6" cy="439.8" r="5"/><circle cx="205.0" cy="469.3" r="5"/><circle cx="228.3" cy="452.0" r="5"/><circle cx="325.7" cy="515.0" r="5"/><circle cx="244.3" cy="502.2" r="5"/><circle cx="327.6" cy="509.2" r="5"/><circle cx="231.5" cy="449.6" r="5"/><circle cx="159.3" cy="420.5" r="5"/><circle cx="277.5" cy="505.7" r="5"/><circle cx="236.1" cy="438.3" r="5"/><circle cx="195.7" cy="489.7" r="5"/><circle cx="219.6" cy="470.7" r="5"/><circle cx="208.2" cy="446.0" r="5"/><circle cx="255.2" cy="485.3" r="5"/><circle cx="181.6" cy="413.3" r="5"/><circle cx="308.0" cy="487.6" r="5"/><circle cx="324.1" cy="485.1" r="5"/><circle cx="261.5" cy="482.8" r="5"/><circle cx="149.5" cy="461.7" r="5"/><circle cx="218.6" cy="476.0" r="5"/><circle cx="227.0" cy="471.5" r="5"/><circle cx="316.2" cy="505.5" r="5"/><circle cx="205.5" cy="457.5" r="5"/><circle cx="286.2" cy="495.1" r="5"/><circle cx="184.3" cy="417.9" r="5"/><circle cx="238.3" cy="470.8" r="5"/><circle cx="253.8" cy="450.5" r="5"/><circle cx="223.7" cy="477.1" r="5"/><circle cx="224.6" cy="422.6" r="5"/><circle cx="202.7" cy="492.3" r="5"/><circle cx="231.5" cy="439.9" r="5"/><circle cx="159.7" cy="453.2" r="5"/><circle cx="172.9" cy="461.7" r="5"/><circle cx="237.1" cy="442.4" r="5"/><circle cx="185.1" cy="413.4" r="5"/><circle cx="171.8" cy="464.8" r="5"/><circle cx="242.9" cy="475.9" r="5"/><circle cx="260.4" cy="486.0" r="5"/><circle cx="223.7" cy="445.7" r="5"/><circle cx="268.0" cy="480.6" r="5"/><circle cx="320.2" cy="493.2" r="5"/><circle cx="198.4" cy="416.7" r="5"/><circle cx="305.2" cy="479.2" r="5"/><circle cx="214.6" cy="489.0" r="5"/><circle cx="219.5" cy="417.4" r="5"/><circle cx="194.8" cy="477.6" r="5"/><circle cx="338.2" cy="500.6" r="5"/><circle cx="284.2" cy="490.2" r="5"/><circle cx="255.9" cy="460.3" r="5"/><circle cx="232.3" cy="468.2" r="5"/><circle cx="255.4" cy="477.0" r="5"/><circle cx="220.4" cy="424.2" r="5"/><circle cx="198.1" cy="473.2" r="5"/><circle cx="206.7" cy="456.4" r="5"/><circle cx="200.5" cy="488.0" r="5"/><circle cx="307.6" cy="489.1" r="5"/><circle cx="269.9" cy="473.9" r="5"/><circle cx="331.0" cy="520.8" r="5"/><circle cx="344.8" cy="509.9" r="5"/><circle cx="326.3" cy="494.7" r="5"/><circle cx="257.3" cy="501.8" r="5"/><circle cx="194.7" cy="476.4" r="5"/><circle cx="170.9" cy="456.1" r="5"/><circle cx="287.3" cy="511.7" r="5"/><circle cx="170.5" cy="477.1" r="5"/><circle cx="216.5" cy="421.2" r="5"/><circle cx="161.9" cy="439.6" r="5"/><circle cx="185.8" cy="430.4" r="5"/><circle cx="284.8" cy="490.6" r="5"/><circle cx="263.2" cy="500.0" r="5"/><circle cx="260.9" cy="453.0" r="5"/><circle cx="319.6" cy="492.9" r="5"/><circle cx="264.7" cy="506.1" r="5"/><circle cx="226.3" cy="446.3" r="5"/><circle cx="244.8" cy="491.7" r="5"/><circle cx="222.7" cy="458.3" r="5"/><circle cx="195.8" cy="454.1" r="5"/><circle cx="343.2" cy="515.3" r="5"/><circle cx="327.7" cy="496.8" r="5"/><circle cx="232.0" cy="482.5" r="5"/><circle cx="274.9" cy="498.0" r="5"/><circle cx="305.5" cy="519.3" r="5"/><circle cx="172.6" cy="445.2" r="5"/><circle cx="353.2" cy="507.4" r="5"/><circle cx="289.8" cy="505.1" r="5"/><circle cx="189.4" cy="465.5" r="5"/><circle cx="198.2" cy="443.0" r="5"/><circle cx="219.7" cy="437.1" r="5"/><circle cx="229.2" cy="502.3" r="5"/><circle cx="299.0" cy="508.0" r="5"/><circle cx="300.9" cy="490.4" r="5"/><circle cx="326.5" cy="483.7" r="5"/><circle cx="232.9" cy="469.7" r="5"/><circle cx="166.0" cy="429.8" r="5"/><circle cx="289.5" cy="511.3" r="5"/><circle cx="197.3" cy="458.3" r="5"/><circle cx="420.7" cy="534.6" r="5"/><circle cx="423.4" cy="528.4" r="5"/><circle cx="386.1" cy="558.4" r="5"/><circle cx="372.0" cy="535.0" r="5"/><circle cx="352.4" cy="541.9" r="5"/><circle cx="365.7" cy="562.3" r="5"/><circle cx="400.1" cy="534.8" r="5"/><circle cx="357.8" cy="541.0" r="5"/><circle cx="383.1" cy="532.2" r="5"/><circle cx="420.4" cy="534.1" r="5"/><circle cx="400.3" cy="542.7" r="5"/><circle cx="411.2" cy="536.5" r="5"/><circle cx="402.0" cy="534.8" r="5"/><circle cx="353.6" cy="550.7" r="5"/><circle cx="356.8" cy="550.2" r="5"/><circle cx="410.3" cy="562.9" r="5"/><circle cx="420.9" cy="526.1" r="5"/><circle cx="367.9" cy="540.9" r="5"/><circle cx="409.7" cy="524.8" r="5"/><circle cx="359.9" cy="548.0" r="5"/><circle cx="369.1" cy="528.9" r="5"/><circle cx="382.2" cy="560.0" r="5"/><circle cx="401.2" cy="567.1" r="5"/><circle cx="422.3" cy="537.0" r="5"/><circle cx="369.1" cy="540.7" r="5"/><circle cx="420.4" cy="522.5" r="5"/><circle cx="383.4" cy="529.0" r="5"/><circle cx="377.4" cy="544.4" r="5"/><circle cx="419.4" cy="550.0" r="5"/><circle cx="388.9" cy="533.9" r="5"/><circle cx="382.8" cy="559.0" r="5"/><circle cx="387.1" cy="558.0" r="5"/><circle cx="381.0" cy="561.3" r="5"/><circle cx="407.3" cy="549.7" r="5"/><circle cx="414.1" cy="531.8" r="5"/><circle cx="366.1" cy="551.0" r="5"/><circle cx="398.3" cy="554.9" r="5"/><circle cx="413.4" cy="536.4" r="5"/><circle cx="389.3" cy="542.1" r="5"/><circle cx="394.8" cy="553.1" r="5"/><circle cx="390.3" cy="543.8" r="5"/><circle cx="392.2" cy="536.6" r="5"/><circle cx="413.6" cy="540.4" r="5"/><circle cx="371.2" cy="564.6" r="5"/><circle cx="361.0" cy="546.0" r="5"/><circle cx="391.1" cy="542.5" r="5"/><circle cx="390.3" cy="526.6" r="5"/><circle cx="407.9" cy="529.0" r="5"/><circle cx="372.6" cy="556.8" r="5"/><circle cx="407.7" cy="548.6" r="5"/><circle cx="387.0" cy="555.2" r="5"/><circle cx="370.3" cy="558.0" r="5"/><circle cx="358.3" cy="556.5" r="5"/><circle cx="370.9" cy="538.7" r="5"/><circle cx="417.1" cy="555.9" r="5"/><circle cx="374.1" cy="543.5" r="5"/><circle cx="416.9" cy="525.0" r="5"/><circle cx="373.9" cy="548.3" r="5"/><circle cx="403.1" cy="545.9" r="5"/><circle cx="417.2" cy="539.2" r="5"/><circle cx="411.4" cy="560.9" r="5"/><circle cx="400.6" cy="541.3" r="5"/><circle cx="372.7" cy="546.6" r="5"/><circle cx="391.3" cy="552.9" r="5"/><circle cx="404.3" cy="555.2" r="5"/><circle cx="398.5" cy="554.1" r="5"/><circle cx="422.9" cy="533.9" r="5"/><circle cx="408.6" cy="541.7" r="5"/><circle cx="390.3" cy="558.5" r="5"/><circle cx="372.3" cy="531.9" r="5"/><circle cx="400.5" cy="535.1" r="5"/><circle cx="412.2" cy="550.0" r="5"/><circle cx="407.3" cy="547.4" r="5"/><circle cx="364.4" cy="550.3" r="5"/><circle cx="416.5" cy="533.5" r="5"/><circle cx="404.1" cy="540.1" r="5"/><circle cx="410.3" cy="536.3" r="5"/><circle cx="381.4" cy="538.5" r="5"/><circle cx="367.9" cy="527.8" r="5"/><circle cx="377.7" cy="536.8" r="5"/><circle cx="371.7" cy="528.3" r="5"/><circle cx="378.3" cy="563.1" r="5"/><circle cx="408.6" cy="532.5" r="5"/><circle cx="371.1" cy="546.4" r="5"/><circle cx="412.9" cy="563.8" r="5"/><circle cx="401.6" cy="531.9" r="5"/><circle cx="407.9" cy="536.8" r="5"/><circle cx="412.7" cy="529.1" r="5"/><circle cx="412.2" cy="534.2" r="5"/><circle cx="353.9" cy="539.5" r="5"/><circle cx="377.2" cy="543.0" r="5"/><circle cx="376.2" cy="534.3" r="5"/><circle cx="366.9" cy="538.1" r="5"/><circle cx="415.7" cy="555.1" r="5"/><circle cx="388.3" cy="542.1" r="5"/><circle cx="386.4" cy="556.7" r="5"/><circle cx="416.9" cy="531.2" r="5"/><circle cx="404.1" cy="536.3" r="5"/><circle cx="389.1" cy="561.6" r="5"/><circle cx="362.2" cy="542.7" r="5"/><circle cx="403.9" cy="558.3" r="5"/><circle cx="413.8" cy="541.1" r="5"/><circle cx="384.1" cy="564.9" r="5"/><circle cx="362.1" cy="543.7" r="5"/><circle cx="351.5" cy="546.2" r="5"/><circle cx="405.0" cy="544.5" r="5"/><circle cx="402.6" cy="560.4" r="5"/><circle cx="403.4" cy="551.4" r="5"/><circle cx="378.6" cy="539.9" r="5"/><circle cx="414.8" cy="557.9" r="5"/><circle cx="368.6" cy="553.9" r="5"/><circle cx="391.3" cy="535.5" r="5"/><circle cx="400.5" cy="564.6" r="5"/><circle cx="370.5" cy="565.5" r="5"/><circle cx="376.3" cy="532.4" r="5"/><circle cx="414.2" cy="529.2" r="5"/><circle cx="385.2" cy="530.0" r="5"/><circle cx="408.4" cy="567.2" r="5"/><circle cx="359.6" cy="545.2" r="5"/><circle cx="400.7" cy="549.7" r="5"/><circle cx="357.1" cy="551.7" r="5"/><circle cx="386.8" cy="552.0" r="5"/><circle cx="386.8" cy="534.5" r="5"/><circle cx="373.8" cy="555.3" r="5"/><circle cx="382.9" cy="552.3" r="5"/><circle cx="385.2" cy="556.7" r="5"/><circle cx="371.5" cy="557.2" r="5"/><circle cx="412.9" cy="538.5" r="5"/><circle cx="375.3" cy="556.1" r="5"/><circle cx="352.4" cy="548.0" r="5"/><circle cx="380.9" cy="526.3" r="5"/><circle cx="376.8" cy="555.8" r="5"/><circle cx="386.4" cy="530.0" r="5"/><circle cx="372.2" cy="535.2" r="5"/><circle cx="365.9" cy="528.7" r="5"/><circle cx="386.8" cy="539.3" r="5"/><circle cx="380.6" cy="551.6" r="5"/><circle cx="420.5" cy="536.8" r="5"/><circle cx="410.1" cy="541.6" r="5"/><circle cx="412.3" cy="539.5" r="5"/><circle cx="393.7" cy="530.6" r="5"/><circle cx="409.1" cy="569.7" r="5"/><circle cx="408.1" cy="551.1" r="5"/><circle cx="362.7" cy="542.5" r="5"/><circle cx="357.9" cy="541.3" r="5"/><circle cx="386.8" cy="527.6" r="5"/><circle cx="324.2" cy="534.4" r="5"/><circle cx="334.6" cy="521.9" r="5"/><circle cx="360.6" cy="515.6" r="5"/><circle cx="356.5" cy="524.0" r="5"/><circle cx="258.5" cy="425.0" r="5"/><circle cx="265.8" cy="433.3" r="5"/><circle cx="270.0" cy="436.5" r="5"/><circle cx="282.5" cy="447.9" r="5"/><circle cx="286.7" cy="439.6" r="5"/><circle cx="295.0" cy="446.9" r="5"/><circle cx="315.8" cy="458.3" r="5"/><circle cx="338.8" cy="470.8" r="5"/><circle cx="191.5" cy="375.8" r="5"/><circle cx="182.5" cy="396.7" r="5"/><circle cx="194.6" cy="393.5" r="5"/><circle cx="203.3" cy="397.7" r="5"/><circle cx="354.4" cy="300.8" r="5"/><circle cx="357.5" cy="304.0" r="5"/><circle cx="389.8" cy="349.8" r="5"/><circle cx="382.1" cy="374.8" r="5"/><circle cx="388.3" cy="383.5" r="5"/><circle cx="346.0" cy="372.7" r="5"/><circle cx="422.7" cy="388.3" r="5"/><circle cx="324.0" cy="534.3" r="5"/><circle cx="483.3" cy="367.3" r="5"/><circle cx="346.7" cy="545.0" r="5"/><circle cx="167.9" cy="429.3" r="5"/><circle cx="186.7" cy="457.7" r="5"/><circle cx="203.7" cy="458.5" r="5"/><circle cx="217.9" cy="449.4" r="5"/><circle cx="203.3" cy="483.9" r="5"/><circle cx="167.6" cy="476.0" r="5"/><circle cx="216.6" cy="482.6" r="5"/><circle cx="189.9" cy="463.3" r="5"/><circle cx="173.8" cy="448.7" r="5"/><circle cx="211.5" cy="445.0" r="5"/><circle cx="201.9" cy="434.7" r="5"/><circle cx="180.6" cy="476.0" r="5"/><circle cx="189.2" cy="472.5" r="5"/><circle cx="187.5" cy="427.2" r="5"/><circle cx="208.5" cy="472.7" r="5"/><circle cx="202.7" cy="428.7" r="5"/><circle cx="200.6" cy="464.4" r="5"/><circle cx="186.1" cy="427.2" r="5"/><circle cx="220.1" cy="466.3" r="5"/><circle cx="200.1" cy="482.6" r="5"/><circle cx="219.7" cy="483.5" r="5"/><circle cx="195.5" cy="449.8" r="5"/><circle cx="213.2" cy="470.9" r="5"/><circle cx="198.1" cy="446.9" r="5"/><circle cx="197.4" cy="461.4" r="5"/><circle cx="182.6" cy="448.8" r="5"/><circle cx="169.3" cy="427.7" r="5"/><circle cx="195.7" cy="435.8" r="5"/><circle cx="194.6" cy="423.6" r="5"/><circle cx="213.7" cy="441.7" r="5"/><circle cx="204.1" cy="487.4" r="5"/><circle cx="226.1" cy="465.6" r="5"/><circle cx="173.3" cy="473.5" r="5"/><circle cx="212.6" cy="468.6" r="5"/><circle cx="205.5" cy="450.0" r="5"/><circle cx="216.3" cy="456.8" r="5"/><circle cx="218.6" cy="452.4" r="5"/><circle cx="220.2" cy="455.2" r="5"/><circle cx="183.3" cy="464.8" r="5"/><circle cx="221.5" cy="450.2" r="5"/><circle cx="223.3" cy="452.9" r="5"/><circle cx="176.3" cy="436.3" r="5"/><circle cx="186.0" cy="442.9" r="5"/><circle cx="223.2" cy="460.0" r="5"/><circle cx="182.4" cy="424.2" r="5"/><circle cx="203.3" cy="489.5" r="5"/><circle cx="192.9" cy="427.7" r="5"/><circle cx="213.4" cy="483.1" r="5"/><circle cx="197.6" cy="460.1" r="5"/><circle cx="172.2" cy="461.5" r="5"/><circle cx="173.5" cy="477.6" r="5"/><circle cx="198.5" cy="426.1" r="5"/><circle cx="221.4" cy="450.6" r="5"/><circle cx="185.0" cy="479.9" r="5"/><circle cx="161.6" cy="450.5" r="5"/><circle cx="165.4" cy="456.4" r="5"/><circle cx="173.3" cy="468.4" r="5"/><circle cx="192.0" cy="468.2" r="5"/><circle cx="197.7" cy="428.5" r="5"/><circle cx="190.1" cy="428.9" r="5"/><circle cx="180.3" cy="440.7" r="5"/><circle cx="165.7" cy="431.9" r="5"/><circle cx="171.1" cy="450.7" r="5"/><circle cx="201.2" cy="487.0" r="5"/><circle cx="204.3" cy="433.4" r="5"/><circle cx="166.4" cy="444.1" r="5"/><circle cx="202.9" cy="427.6" r="5"/><circle cx="165.0" cy="453.0" r="5"/><circle cx="169.3" cy="428.0" r="5"/><circle cx="181.6" cy="449.5" r="5"/><circle cx="215.7" cy="437.8" r="5"/><circle cx="222.4" cy="453.7" r="5"/><circle cx="193.9" cy="433.8" r="5"/><circle cx="193.2" cy="427.6" r="5"/><circle cx="214.2" cy="471.7" r="5"/><circle cx="202.1" cy="434.1" r="5"/><circle cx="174.4" cy="461.8" r="5"/><circle cx="189.8" cy="449.4" r="5"/><circle cx="179.5" cy="421.3" r="5"/><circle cx="169.2" cy="425.9" r="5"/><circle cx="168.2" cy="441.3" r="5"/><circle cx="216.1" cy="439.2" r="5"/><circle cx="209.7" cy="481.7" r="5"/><circle cx="205.3" cy="452.0" r="5"/><circle cx="199.8" cy="466.6" r="5"/><circle cx="187.7" cy="476.1" r="5"/><circle cx="186.5" cy="466.2" r="5"/><circle cx="178.1" cy="452.4" r="5"/><circle cx="178.8" cy="439.1" r="5"/><circle cx="168.9" cy="458.7" r="5"/><circle cx="218.1" cy="441.2" r="5"/><circle cx="190.5" cy="465.6" r="5"/><circle cx="178.0" cy="462.7" r="5"/><circle cx="212.3" cy="429.5" r="5"/><circle cx="188.8" cy="443.5" r="5"/><circle cx="172.5" cy="455.7" r="5"/><circle cx="178.7" cy="444.5" r="5"/><circle cx="168.6" cy="448.1" r="5"/><circle cx="201.3" cy="489.4" r="5"/><circle cx="218.3" cy="477.9" r="5"/><circle cx="200.1" cy="432.5" r="5"/><circle cx="210.4" cy="473.5" r="5"/><circle cx="174.2" cy="440.3" r="5"/><circle cx="483.2" cy="367.0" r="5"/><circle cx="505.0" cy="358.8" r="5"/><circle cx="515.0" cy="356.2" r="5"/><circle cx="525.0" cy="358.8" r="5"/><circle cx="521.2" cy="360.5" r="5"/><circle cx="500.0" cy="365.0" r="5"/><circle cx="492.5" cy="372.5" r="5"/><circle cx="552.5" cy="381.2" r="5"/><circle cx="572.5" cy="375.0" r="5"/><circle cx="560.0" cy="360.0" r="5"/><circle cx="515.0" cy="386.2" r="5"/><circle cx="641.2" cy="300.5" r="5"/><circle cx="723.2" cy="292.5" r="5"/><circle cx="723.8" cy="295.0" r="5"/><circle cx="751.2" cy="308.0" r="5"/><circle cx="473.8" cy="470.8" r="5"/><circle cx="489.5" cy="475.8" r="5"/><circle cx="764.5" cy="385.0" r="5"/><circle cx="687.8" cy="782.7" r="5"/><circle cx="715.6" cy="787.1" r="5"/><circle cx="674.3" cy="801.2" r="5"/><circle cx="625.8" cy="793.0" r="5"/><circle cx="687.2" cy="777.6" r="5"/><circle cx="719.1" cy="775.5" r="5"/><circle cx="665.8" cy="823.5" r="5"/><circle cx="651.2" cy="836.2" r="5"/><circle cx="610.3" cy="785.8" r="5"/><circle cx="640.9" cy="804.4" r="5"/><circle cx="636.7" cy="835.1" r="5"/><circle cx="627.9" cy="796.6" r="5"/><circle cx="624.4" cy="803.6" r="5"/><circle cx="677.6" cy="782.2" r="5"/><circle cx="659.5" cy="838.1" r="5"/><circle cx="716.7" cy="788.1" r="5"/><circle cx="651.2" cy="777.8" r="5"/><circle cx="657.1" cy="784.5" r="5"/><circle cx="689.5" cy="782.6" r="5"/><circle cx="680.9" cy="801.2" r="5"/><circle cx="613.1" cy="817.6" r="5"/><circle cx="655.6" cy="795.9" r="5"/><circle cx="621.4" cy="807.8" r="5"/><circle cx="693.5" cy="792.8" r="5"/><circle cx="611.5" cy="792.3" r="5"/><circle cx="606.0" cy="797.2" r="5"/><circle cx="681.2" cy="799.8" r="5"/><circle cx="634.4" cy="806.6" r="5"/><circle cx="686.4" cy="817.1" r="5"/><circle cx="653.8" cy="793.4" r="5"/><circle cx="665.8" cy="813.2" r="5"/><circle cx="625.5" cy="787.1" r="5"/><circle cx="605.2" cy="809.0" r="5"/><circle cx="657.5" cy="794.6" r="5"/><circle cx="625.5" cy="809.0" r="5"/><circle cx="658.7" cy="776.0" r="5"/><circle cx="667.9" cy="792.7" r="5"/><circle cx="673.2" cy="810.6" r="5"/><circle cx="678.5" cy="818.1" r="5"/><circle cx="695.6" cy="799.1" r="5"/><circle cx="663.1" cy="796.4" r="5"/><circle cx="733.3" cy="779.5" r="5"/><circle cx="666.5" cy="786.7" r="5"/><circle cx="638.6" cy="815.5" r="5"/><circle cx="669.3" cy="808.0" r="5"/><circle cx="656.8" cy="796.8" r="5"/><circle cx="682.9" cy="809.7" r="5"/><circle cx="657.7" cy="812.8" r="5"/><circle cx="646.7" cy="827.7" r="5"/><circle cx="677.6" cy="817.8" r="5"/><circle cx="689.8" cy="788.6" r="5"/><circle cx="673.0" cy="805.5" r="5"/><circle cx="677.8" cy="784.2" r="5"/><circle cx="646.7" cy="787.6" r="5"/><circle cx="676.5" cy="796.1" r="5"/><circle cx="649.7" cy="799.2" r="5"/><circle cx="642.3" cy="822.2" r="5"/><circle cx="661.9" cy="808.0" r="5"/><circle cx="677.0" cy="829.7" r="5"/><circle cx="691.6" cy="777.0" r="5"/><circle cx="655.2" cy="775.4" r="5"/><circle cx="679.8" cy="783.7" r="5"/><circle cx="636.5" cy="832.6" r="5"/><circle cx="627.4" cy="789.5" r="5"/><circle cx="729.2" cy="769.9" r="5"/><circle cx="710.5" cy="789.8" r="5"/><circle cx="714.6" cy="784.2" r="5"/><circle cx="728.1" cy="773.1" r="5"/><circle cx="655.1" cy="800.4" r="5"/><circle cx="692.2" cy="800.8" r="5"/><circle cx="614.9" cy="786.4" r="5"/><circle cx="649.5" cy="818.7" r="5"/><circle cx="616.4" cy="809.4" r="5"/><circle cx="723.6" cy="783.5" r="5"/><circle cx="661.8" cy="790.4" r="5"/><circle cx="615.5" cy="797.6" r="5"/><circle cx="678.2" cy="822.8" r="5"/><circle cx="678.3" cy="789.6" r="5"/><circle cx="732.2" cy="762.3" r="5"/><circle cx="666.8" cy="808.2" r="5"/><circle cx="626.5" cy="783.8" r="5"/><circle cx="684.5" cy="786.5" r="5"/><circle cx="645.7" cy="810.9" r="5"/><circle cx="711.5" cy="773.0" r="5"/><circle cx="642.8" cy="826.9" r="5"/><circle cx="671.7" cy="830.1" r="5"/><circle cx="638.5" cy="794.2" r="5"/><circle cx="679.2" cy="816.6" r="5"/><circle cx="654.8" cy="824.2" r="5"/><circle cx="692.6" cy="797.2" r="5"/><circle cx="618.0" cy="820.1" r="5"/><circle cx="686.7" cy="803.8" r="5"/><circle cx="656.3" cy="798.9" r="5"/><circle cx="680.8" cy="783.7" r="5"/><circle cx="675.8" cy="805.3" r="5"/><circle cx="611.6" cy="783.3" r="5"/><circle cx="698.4" cy="781.7" r="5"/><circle cx="636.6" cy="817.7" r="5"/><circle cx="714.9" cy="781.6" r="5"/><circle cx="639.3" cy="812.4" r="5"/><circle cx="620.8" cy="805.2" r="5"/><circle cx="638.0" cy="798.0" r="5"/><circle cx="620.0" cy="798.5" r="5"/><circle cx="623.7" cy="785.3" r="5"/><circle cx="656.3" cy="806.2" r="5"/><circle cx="650.4" cy="780.7" r="5"/><circle cx="722.0" cy="778.9" r="5"/><circle cx="656.0" cy="776.4" r="5"/><circle cx="732.3" cy="769.5" r="5"/><circle cx="622.8" cy="826.0" r="5"/><circle cx="715.8" cy="762.5" r="5"/><circle cx="663.5" cy="788.9" r="5"/><circle cx="668.4" cy="775.5" r="5"/><circle cx="659.6" cy="817.9" r="5"/><circle cx="678.5" cy="821.0" r="5"/><circle cx="662.3" cy="836.2" r="5"/><circle cx="660.6" cy="779.1" r="5"/><circle cx="690.6" cy="803.3" r="5"/><circle cx="652.0" cy="789.8" r="5"/><circle cx="705.2" cy="759.0" r="5"/><circle cx="648.7" cy="792.8" r="5"/><circle cx="683.3" cy="797.7" r="5"/><circle cx="656.9" cy="817.9" r="5"/><circle cx="693.1" cy="781.1" r="5"/><circle cx="720.6" cy="784.5" r="5"/><circle cx="674.5" cy="826.9" r="5"/><circle cx="617.2" cy="801.7" r="5"/><circle cx="679.2" cy="829.7" r="5"/><circle cx="664.6" cy="783.3" r="5"/><circle cx="640.1" cy="801.9" r="5"/><circle cx="644.6" cy="792.8" r="5"/><circle cx="669.1" cy="803.7" r="5"/><circle cx="732.5" cy="766.5" r="5"/><circle cx="686.2" cy="799.7" r="5"/><circle cx="603.2" cy="799.6" r="5"/><circle cx="658.3" cy="817.5" r="5"/><circle cx="673.4" cy="831.3" r="5"/><circle cx="730.5" cy="770.4" r="5"/><circle cx="670.2" cy="816.3" r="5"/><circle cx="602.6" cy="798.8" r="5"/><circle cx="713.5" cy="773.6" r="5"/><circle cx="657.3" cy="818.5" r="5"/><circle cx="633.9" cy="811.0" r="5"/><circle cx="624.5" cy="787.1" r="5"/><circle cx="623.8" cy="806.9" r="5"/><circle cx="692.4" cy="799.7" r="5"/><circle cx="639.2" cy="779.9" r="5"/><circle cx="621.3" cy="811.8" r="5"/><circle cx="620.0" cy="823.2" r="5"/><circle cx="659.5" cy="776.8" r="5"/><circle cx="673.6" cy="781.6" r="5"/><circle cx="713.2" cy="787.7" r="5"/><circle cx="667.6" cy="777.4" r="5"/><circle cx="640.4" cy="815.4" r="5"/><circle cx="663.3" cy="827.7" r="5"/><circle cx="716.8" cy="770.0" r="5"/><circle cx="680.3" cy="818.9" r="5"/><circle cx="704.7" cy="789.1" r="5"/><circle cx="700.5" cy="785.1" r="5"/><circle cx="693.5" cy="790.2" r="5"/><circle cx="651.2" cy="786.5" r="5"/><circle cx="623.8" cy="813.7" r="5"/><circle cx="695.7" cy="788.8" r="5"/><circle cx="680.0" cy="791.3" r="5"/><circle cx="708.8" cy="778.5" r="5"/><circle cx="668.0" cy="783.3" r="5"/><circle cx="659.1" cy="826.6" r="5"/><circle cx="630.6" cy="822.2" r="5"/><circle cx="629.8" cy="779.6" r="5"/><circle cx="666.7" cy="786.9" r="5"/><circle cx="671.5" cy="803.7" r="5"/><circle cx="686.5" cy="817.5" r="5"/><circle cx="662.9" cy="796.3" r="5"/><circle cx="696.9" cy="772.2" r="5"/><circle cx="736.7" cy="771.8" r="5"/><circle cx="654.5" cy="821.6" r="5"/><circle cx="694.1" cy="772.9" r="5"/><circle cx="611.8" cy="820.6" r="5"/><circle cx="669.1" cy="796.4" r="5"/><circle cx="649.6" cy="793.6" r="5"/><circle cx="673.5" cy="808.5" r="5"/><circle cx="614.8" cy="794.9" r="5"/><circle cx="681.6" cy="783.7" r="5"/><circle cx="651.1" cy="809.8" r="5"/><circle cx="710.7" cy="767.3" r="5"/><circle cx="626.4" cy="789.2" r="5"/><circle cx="631.7" cy="782.2" r="5"/><circle cx="650.8" cy="795.3" r="5"/><circle cx="645.9" cy="832.1" r="5"/><circle cx="731.3" cy="781.1" r="5"/><circle cx="637.1" cy="829.6" r="5"/><circle cx="707.8" cy="761.8" r="5"/><circle cx="731.8" cy="759.3" r="5"/><circle cx="677.3" cy="791.7" r="5"/><circle cx="660.1" cy="796.2" r="5"/><circle cx="724.9" cy="768.5" r="5"/><circle cx="680.1" cy="817.6" r="5"/><circle cx="671.8" cy="782.4" r="5"/><circle cx="680.4" cy="780.7" r="5"/><circle cx="735.1" cy="773.0" r="5"/><circle cx="630.8" cy="781.3" r="5"/><circle cx="706.3" cy="789.7" r="5"/><circle cx="617.3" cy="786.1" r="5"/><circle cx="614.4" cy="798.8" r="5"/><circle cx="668.9" cy="809.0" r="5"/><circle cx="607.8" cy="785.8" r="5"/><circle cx="695.6" cy="793.0" r="5"/><circle cx="629.0" cy="826.7" r="5"/><circle cx="605.3" cy="799.6" r="5"/><circle cx="711.9" cy="764.9" r="5"/><circle cx="719.0" cy="759.1" r="5"/><circle cx="652.9" cy="813.8" r="5"/><circle cx="602.6" cy="793.9" r="5"/><circle cx="629.3" cy="825.7" r="5"/><circle cx="602.6" cy="805.7" r="5"/><circle cx="640.7" cy="787.7" r="5"/><circle cx="686.9" cy="811.6" r="5"/><circle cx="732.1" cy="770.0" r="5"/><circle cx="628.6" cy="783.1" r="5"/><circle cx="711.8" cy="782.9" r="5"/><circle cx="690.8" cy="805.9" r="5"/><circle cx="621.2" cy="801.5" r="5"/><circle cx="701.0" cy="791.4" r="5"/><circle cx="604.4" cy="790.7" r="5"/><circle cx="641.7" cy="818.8" r="5"/><circle cx="654.1" cy="835.9" r="5"/><circle cx="732.0" cy="768.6" r="5"/><circle cx="631.5" cy="783.1" r="5"/><circle cx="665.1" cy="831.3" r="5"/><circle cx="655.3" cy="826.3" r="5"/><circle cx="603.3" cy="800.1" r="5"/><circle cx="653.6" cy="788.8" r="5"/><circle cx="685.2" cy="774.3" r="5"/><circle cx="625.3" cy="779.7" r="5"/><circle cx="688.4" cy="774.0" r="5"/><circle cx="708.2" cy="648.8" r="5"/><circle cx="708.8" cy="812.5" r="5"/><circle cx="751.2" cy="771.2" r="5"/><circle cx="746.2" cy="777.0" r="5"/><circle cx="703.8" cy="760.0" r="5"/><circle cx="607.5" cy="786.2" r="5"/><circle cx="602.5" cy="812.5" r="5"/><circle cx="692.5" cy="818.8" r="5"/><circle cx="645.0" cy="841.2" r="5"/><circle cx="635.0" cy="838.8" r="5"/><circle cx="662.5" cy="840.0" r="5"/><circle cx="766.5" cy="434.1" r="5"/><circle cx="783.9" cy="452.3" r="5"/><circle cx="857.2" cy="412.9" r="5"/><circle cx="854.2" cy="405.2" r="5"/><circle cx="813.7" cy="447.6" r="5"/><circle cx="787.2" cy="442.0" r="5"/><circle cx="759.2" cy="403.5" r="5"/><circle cx="856.9" cy="454.4" r="5"/><circle cx="844.6" cy="394.7" r="5"/><circle cx="795.2" cy="417.1" r="5"/><circle cx="776.0" cy="405.9" r="5"/><circle cx="787.7" cy="401.8" r="5"/><circle cx="801.0" cy="411.7" r="5"/><circle cx="771.0" cy="447.3" r="5"/><circle cx="857.9" cy="421.1" r="5"/><circle cx="811.0" cy="428.6" r="5"/><circle cx="849.1" cy="462.0" r="5"/><circle cx="818.6" cy="394.3" r="5"/><circle cx="826.3" cy="393.7" r="5"/><circle cx="834.4" cy="398.6" r="5"/><circle cx="829.9" cy="439.2" r="5"/><circle cx="864.6" cy="407.0" r="5"/><circle cx="769.8" cy="439.0" r="5"/><circle cx="823.5" cy="397.6" r="5"/><circle cx="769.4" cy="410.2" r="5"/><circle cx="852.7" cy="449.2" r="5"/><circle cx="764.9" cy="419.0" r="5"/><circle cx="768.2" cy="425.3" r="5"/><circle cx="844.8" cy="458.2" r="5"/><circle cx="818.5" cy="453.5" r="5"/><circle cx="800.7" cy="432.7" r="5"/><circle cx="787.7" cy="443.5" r="5"/><circle cx="758.4" cy="419.0" r="5"/><circle cx="828.6" cy="409.7" r="5"/><circle cx="832.7" cy="411.4" r="5"/><circle cx="747.4" cy="436.6" r="5"/><circle cx="803.6" cy="407.9" r="5"/><circle cx="834.3" cy="448.2" r="5"/><circle cx="862.7" cy="423.7" r="5"/><circle cx="796.6" cy="457.6" r="5"/><circle cx="834.1" cy="420.0" r="5"/><circle cx="862.7" cy="414.9" r="5"/><circle cx="793.8" cy="416.1" r="5"/><circle cx="776.4" cy="432.1" r="5"/><circle cx="825.4" cy="407.2" r="5"/><circle cx="757.5" cy="444.1" r="5"/><circle cx="823.0" cy="412.8" r="5"/><circle cx="877.8" cy="412.9" r="5"/><circle cx="800.8" cy="436.8" r="5"/><circle cx="759.6" cy="414.6" r="5"/><circle cx="858.5" cy="447.9" r="5"/><circle cx="815.2" cy="407.8" r="5"/><circle cx="770.4" cy="407.7" r="5"/><circle cx="786.0" cy="456.6" r="5"/><circle cx="783.7" cy="425.3" r="5"/><circle cx="798.9" cy="393.4" r="5"/><circle cx="839.2" cy="451.7" r="5"/><circle cx="846.6" cy="453.5" r="5"/><circle cx="874.2" cy="412.5" r="5"/><circle cx="803.7" cy="397.0" r="5"/><circle cx="853.5" cy="442.0" r="5"/><circle cx="838.0" cy="434.9" r="5"/><circle cx="828.1" cy="432.7" r="5"/><circle cx="829.7" cy="427.5" r="5"/><circle cx="811.9" cy="423.8" r="5"/><circle cx="762.1" cy="421.1" r="5"/><circle cx="845.2" cy="442.0" r="5"/><circle cx="869.3" cy="469.3" r="5"/><circle cx="770.4" cy="438.2" r="5"/><circle cx="757.9" cy="424.5" r="5"/><circle cx="751.3" cy="415.2" r="5"/><circle cx="875.9" cy="452.1" r="5"/><circle cx="832.9" cy="444.5" r="5"/><circle cx="804.1" cy="410.6" r="5"/><circle cx="865.3" cy="452.1" r="5"/><circle cx="881.0" cy="427.3" r="5"/><circle cx="859.0" cy="396.6" r="5"/><circle cx="817.6" cy="399.0" r="5"/><circle cx="761.6" cy="418.7" r="5"/><circle cx="755.9" cy="413.6" r="5"/><circle cx="838.4" cy="422.0" r="5"/><circle cx="819.8" cy="398.0" r="5"/><circle cx="801.5" cy="434.0" r="5"/><circle cx="829.3" cy="451.6" r="5"/><circle cx="759.5" cy="421.0" r="5"/><circle cx="858.8" cy="410.5" r="5"/><circle cx="824.5" cy="450.8" r="5"/><circle cx="796.6" cy="449.9" r="5"/><circle cx="853.3" cy="399.7" r="5"/><circle cx="861.1" cy="421.2" r="5"/><circle cx="869.1" cy="445.8" r="5"/><circle cx="814.9" cy="450.6" r="5"/><circle cx="866.4" cy="469.5" r="5"/><circle cx="824.8" cy="407.4" r="5"/><circle cx="790.2" cy="396.7" r="5"/><circle cx="768.7" cy="434.9" r="5"/><circle cx="781.3" cy="417.6" r="5"/><circle cx="763.6" cy="452.9" r="5"/><circle cx="796.7" cy="442.1" r="5"/><circle cx="755.2" cy="414.8" r="5"/><circle cx="772.1" cy="409.3" r="5"/><circle cx="784.4" cy="432.1" r="5"/><circle cx="762.5" cy="412.8" r="5"/><circle cx="828.4" cy="449.6" r="5"/><circle cx="752.6" cy="433.5" r="5"/><circle cx="817.1" cy="453.2" r="5"/><circle cx="753.7" cy="431.4" r="5"/><circle cx="787.1" cy="413.1" r="5"/><circle cx="800.0" cy="416.6" r="5"/><circle cx="883.3" cy="423.8" r="5"/><circle cx="834.0" cy="401.3" r="5"/><circle cx="868.9" cy="415.1" r="5"/><circle cx="841.0" cy="447.6" r="5"/><circle cx="844.0" cy="447.0" r="5"/><circle cx="784.5" cy="406.3" r="5"/><circle cx="872.2" cy="431.8" r="5"/><circle cx="859.4" cy="392.0" r="5"/><circle cx="885.3" cy="434.6" r="5"/><circle cx="846.7" cy="418.4" r="5"/><circle cx="768.2" cy="392.9" r="5"/><circle cx="758.4" cy="394.2" r="5"/><circle cx="832.6" cy="414.5" r="5"/><circle cx="800.2" cy="451.3" r="5"/><circle cx="756.2" cy="419.7" r="5"/><circle cx="787.6" cy="413.0" r="5"/><circle cx="783.9" cy="428.6" r="5"/><circle cx="881.7" cy="407.0" r="5"/><circle cx="780.1" cy="410.2" r="5"/><circle cx="776.6" cy="439.8" r="5"/><circle cx="809.0" cy="411.5" r="5"/><circle cx="848.6" cy="443.2" r="5"/><circle cx="838.9" cy="412.4" r="5"/><circle cx="770.2" cy="436.2" r="5"/><circle cx="783.5" cy="414.2" r="5"/><circle cx="846.3" cy="432.2" r="5"/><circle cx="786.4" cy="393.4" r="5"/><circle cx="803.9" cy="407.6" r="5"/><circle cx="775.2" cy="446.9" r="5"/><circle cx="754.4" cy="449.9" r="5"/><circle cx="837.7" cy="420.8" r="5"/><circle cx="826.6" cy="398.8" r="5"/><circle cx="779.7" cy="430.6" r="5"/><circle cx="847.0" cy="419.1" r="5"/><circle cx="872.8" cy="431.4" r="5"/><circle cx="814.7" cy="415.5" r="5"/><circle cx="860.2" cy="424.8" r="5"/><circle cx="848.0" cy="418.0" r="5"/><circle cx="799.4" cy="392.0" r="5"/><circle cx="834.7" cy="443.4" r="5"/><circle cx="847.4" cy="460.0" r="5"/><circle cx="858.7" cy="433.8" r="5"/><circle cx="780.2" cy="430.1" r="5"/><circle cx="806.1" cy="393.2" r="5"/><circle cx="770.1" cy="436.9" r="5"/><circle cx="864.3" cy="425.5" r="5"/><circle cx="796.6" cy="422.7" r="5"/><circle cx="779.2" cy="436.5" r="5"/><circle cx="876.8" cy="433.1" r="5"/><circle cx="796.6" cy="385.2" r="5"/><circle cx="807.6" cy="414.7" r="5"/><circle cx="830.7" cy="454.7" r="5"/><circle cx="809.8" cy="392.4" r="5"/><circle cx="812.4" cy="428.5" r="5"/><circle cx="888.3" cy="435.3" r="5"/><circle cx="841.1" cy="411.8" r="5"/><circle cx="758.2" cy="411.1" r="5"/><circle cx="768.9" cy="447.1" r="5"/><circle cx="837.8" cy="419.1" r="5"/><circle cx="857.4" cy="427.1" r="5"/><circle cx="839.8" cy="420.4" r="5"/><circle cx="833.1" cy="449.8" r="5"/><circle cx="835.9" cy="410.5" r="5"/><circle cx="850.4" cy="436.8" r="5"/><circle cx="846.7" cy="460.8" r="5"/><circle cx="815.1" cy="425.3" r="5"/><circle cx="819.7" cy="412.1" r="5"/><circle cx="881.2" cy="440.0" r="5"/><circle cx="829.9" cy="435.9" r="5"/><circle cx="815.7" cy="404.0" r="5"/><circle cx="792.3" cy="418.7" r="5"/><circle cx="846.4" cy="454.0" r="5"/><circle cx="784.3" cy="429.7" r="5"/><circle cx="787.3" cy="394.5" r="5"/><circle cx="792.3" cy="409.3" r="5"/><circle cx="784.3" cy="431.2" r="5"/><circle cx="876.7" cy="452.7" r="5"/><circle cx="792.3" cy="387.1" r="5"/><circle cx="758.7" cy="408.5" r="5"/><circle cx="782.4" cy="398.9" r="5"/><circle cx="851.7" cy="442.0" r="5"/><circle cx="762.0" cy="438.4" r="5"/><circle cx="862.9" cy="418.6" r="5"/><circle cx="809.5" cy="385.7" r="5"/><circle cx="850.3" cy="448.3" r="5"/><circle cx="758.5" cy="417.6" r="5"/><circle cx="871.3" cy="406.5" r="5"/><circle cx="777.3" cy="448.3" r="5"/><circle cx="801.3" cy="449.8" r="5"/><circle cx="779.0" cy="449.4" r="5"/><circle cx="791.1" cy="423.1" r="5"/><circle cx="781.1" cy="445.5" r="5"/><circle cx="809.1" cy="424.1" r="5"/><circle cx="854.7" cy="404.7" r="5"/><circle cx="838.7" cy="438.0" r="5"/><circle cx="863.1" cy="438.3" r="5"/><circle cx="767.2" cy="454.1" r="5"/><circle cx="836.4" cy="398.7" r="5"/><circle cx="861.5" cy="443.6" r="5"/><circle cx="814.7" cy="426.9" r="5"/><circle cx="765.4" cy="448.3" r="5"/><circle cx="766.9" cy="447.5" r="5"/><circle cx="858.7" cy="416.1" r="5"/><circle cx="793.3" cy="395.1" r="5"/><circle cx="843.8" cy="435.2" r="5"/><circle cx="876.7" cy="407.7" r="5"/><circle cx="856.4" cy="453.5" r="5"/><circle cx="837.8" cy="417.2" r="5"/><circle cx="792.5" cy="405.8" r="5"/><circle cx="811.5" cy="448.3" r="5"/><circle cx="848.3" cy="396.6" r="5"/><circle cx="792.1" cy="447.7" r="5"/><circle cx="786.4" cy="414.8" r="5"/><circle cx="816.3" cy="403.7" r="5"/><circle cx="793.5" cy="399.9" r="5"/><circle cx="834.2" cy="443.8" r="5"/><circle cx="763.6" cy="449.1" r="5"/><circle cx="760.8" cy="425.8" r="5"/><circle cx="798.6" cy="426.0" r="5"/><circle cx="874.7" cy="436.2" r="5"/><circle cx="815.9" cy="425.6" r="5"/><circle cx="853.5" cy="447.9" r="5"/><circle cx="748.1" cy="442.8" r="5"/><circle cx="859.9" cy="456.4" r="5"/><circle cx="872.6" cy="426.4" r="5"/><circle cx="853.9" cy="404.2" r="5"/><circle cx="844.5" cy="410.8" r="5"/><circle cx="814.0" cy="406.8" r="5"/><circle cx="784.4" cy="408.0" r="5"/><circle cx="874.4" cy="431.9" r="5"/><circle cx="842.7" cy="449.4" r="5"/><circle cx="847.4" cy="418.4" r="5"/><circle cx="819.8" cy="417.2" r="5"/><circle cx="878.5" cy="438.9" r="5"/><circle cx="832.8" cy="416.2" r="5"/><circle cx="821.4" cy="387.9" r="5"/><circle cx="839.5" cy="421.7" r="5"/><circle cx="759.1" cy="395.0" r="5"/><circle cx="845.3" cy="460.1" r="5"/><circle cx="870.0" cy="419.2" r="5"/><circle cx="793.3" cy="401.9" r="5"/><circle cx="781.5" cy="425.6" r="5"/><circle cx="812.8" cy="454.1" r="5"/><circle cx="834.3" cy="455.4" r="5"/><circle cx="837.3" cy="416.3" r="5"/><circle cx="787.2" cy="415.7" r="5"/><circle cx="796.4" cy="402.9" r="5"/><circle cx="843.6" cy="387.1" r="5"/><circle cx="796.7" cy="426.7" r="5"/><circle cx="768.8" cy="445.4" r="5"/><circle cx="763.2" cy="458.2" r="5"/><circle cx="874.4" cy="433.9" r="5"/><circle cx="807.3" cy="406.4" r="5"/><circle cx="785.2" cy="437.7" r="5"/><circle cx="800.1" cy="442.9" r="5"/><circle cx="852.4" cy="408.0" r="5"/><circle cx="771.8" cy="423.9" r="5"/><circle cx="763.3" cy="402.5" r="5"/><circle cx="853.8" cy="395.3" r="5"/><circle cx="805.3" cy="399.7" r="5"/><circle cx="760.5" cy="420.4" r="5"/><circle cx="788.2" cy="438.7" r="5"/><circle cx="802.6" cy="412.0" r="5"/><circle cx="831.8" cy="402.3" r="5"/><circle cx="803.9" cy="448.8" r="5"/><circle cx="808.9" cy="425.2" r="5"/><circle cx="756.4" cy="404.7" r="5"/><circle cx="802.4" cy="404.1" r="5"/><circle cx="783.4" cy="439.8" r="5"/><circle cx="830.8" cy="431.4" r="5"/><circle cx="815.9" cy="442.7" r="5"/><circle cx="812.4" cy="455.8" r="5"/><circle cx="840.8" cy="433.6" r="5"/><circle cx="756.9" cy="443.1" r="5"/><circle cx="776.0" cy="429.0" r="5"/><circle cx="837.2" cy="404.3" r="5"/><circle cx="799.1" cy="433.5" r="5"/><circle cx="881.2" cy="408.9" r="5"/><circle cx="757.1" cy="405.6" r="5"/><circle cx="779.6" cy="456.8" r="5"/><circle cx="847.1" cy="445.3" r="5"/><circle cx="753.0" cy="407.6" r="5"/><circle cx="873.3" cy="446.3" r="5"/><circle cx="833.5" cy="436.7" r="5"/><circle cx="759.0" cy="424.0" r="5"/><circle cx="854.1" cy="404.5" r="5"/><circle cx="847.4" cy="398.3" r="5"/><circle cx="863.4" cy="416.7" r="5"/><circle cx="840.9" cy="458.3" r="5"/><circle cx="807.3" cy="440.3" r="5"/><circle cx="860.8" cy="433.0" r="5"/><circle cx="868.5" cy="397.6" r="5"/><circle cx="873.1" cy="435.4" r="5"/><circle cx="762.3" cy="417.2" r="5"/><circle cx="795.0" cy="430.7" r="5"/><circle cx="769.5" cy="421.3" r="5"/><circle cx="752.0" cy="447.9" r="5"/><circle cx="867.6" cy="431.6" r="5"/><circle cx="775.8" cy="441.0" r="5"/><circle cx="844.9" cy="455.9" r="5"/><circle cx="863.4" cy="450.3" r="5"/><circle cx="757.7" cy="449.5" r="5"/><circle cx="766.5" cy="409.1" r="5"/><circle cx="785.6" cy="446.4" r="5"/><circle cx="815.8" cy="420.2" r="5"/><circle cx="867.6" cy="431.3" r="5"/><circle cx="844.8" cy="433.5" r="5"/><circle cx="878.0" cy="444.3" r="5"/><circle cx="854.2" cy="458.7" r="5"/><circle cx="877.9" cy="426.3" r="5"/><circle cx="775.5" cy="421.4" r="5"/><circle cx="812.5" cy="406.4" r="5"/><circle cx="831.2" cy="422.5" r="5"/><circle cx="853.4" cy="434.5" r="5"/><circle cx="841.7" cy="405.2" r="5"/><circle cx="869.8" cy="465.0" r="5"/><circle cx="862.4" cy="395.2" r="5"/><circle cx="847.7" cy="450.4" r="5"/><circle cx="779.2" cy="393.2" r="5"/><circle cx="864.4" cy="437.1" r="5"/><circle cx="835.4" cy="464.0" r="5"/><circle cx="813.9" cy="404.8" r="5"/><circle cx="846.6" cy="408.6" r="5"/><circle cx="834.8" cy="421.3" r="5"/><circle cx="816.5" cy="428.8" r="5"/><circle cx="851.6" cy="417.3" r="5"/><circle cx="825.5" cy="413.4" r="5"/><circle cx="760.3" cy="455.7" r="5"/><circle cx="813.9" cy="444.4" r="5"/><circle cx="862.8" cy="417.8" r="5"/><circle cx="780.4" cy="415.2" r="5"/><circle cx="840.6" cy="413.0" r="5"/><circle cx="861.9" cy="449.5" r="5"/><circle cx="808.4" cy="405.5" r="5"/><circle cx="772.9" cy="441.0" r="5"/><circle cx="865.9" cy="432.8" r="5"/><circle cx="881.2" cy="457.5" r="5"/><circle cx="875.2" cy="440.9" r="5"/><circle cx="805.7" cy="414.8" r="5"/><circle cx="843.5" cy="390.6" r="5"/><circle cx="816.8" cy="459.3" r="5"/><circle cx="803.3" cy="436.9" r="5"/><circle cx="833.8" cy="463.0" r="5"/><circle cx="764.7" cy="390.3" r="5"/><circle cx="847.3" cy="419.0" r="5"/><circle cx="818.7" cy="438.6" r="5"/><circle cx="783.5" cy="453.8" r="5"/><circle cx="851.4" cy="433.1" r="5"/><circle cx="868.9" cy="442.7" r="5"/><circle cx="777.6" cy="411.4" r="5"/><circle cx="833.3" cy="402.0" r="5"/><circle cx="839.5" cy="443.7" r="5"/><circle cx="871.1" cy="418.2" r="5"/><circle cx="809.1" cy="453.3" r="5"/><circle cx="844.6" cy="420.2" r="5"/><circle cx="818.4" cy="434.0" r="5"/><circle cx="817.5" cy="431.2" r="5"/><circle cx="809.8" cy="426.4" r="5"/><circle cx="771.4" cy="461.2" r="5"/><circle cx="788.0" cy="450.5" r="5"/><circle cx="844.4" cy="448.3" r="5"/><circle cx="871.9" cy="438.6" r="5"/><circle cx="868.8" cy="449.0" r="5"/><circle cx="835.8" cy="459.5" r="5"/><circle cx="874.7" cy="455.1" r="5"/><circle cx="857.3" cy="443.8" r="5"/><circle cx="848.9" cy="445.9" r="5"/><circle cx="804.6" cy="446.5" r="5"/><circle cx="802.3" cy="433.8" r="5"/><circle cx="814.4" cy="386.3" r="5"/><circle cx="838.3" cy="451.6" r="5"/><circle cx="750.5" cy="435.8" r="5"/><circle cx="804.0" cy="418.3" r="5"/><circle cx="761.7" cy="394.2" r="5"/><circle cx="805.9" cy="420.8" r="5"/><circle cx="801.2" cy="459.6" r="5"/><circle cx="820.6" cy="454.9" r="5"/><circle cx="857.8" cy="457.2" r="5"/><circle cx="778.5" cy="456.2" r="5"/><circle cx="806.7" cy="420.1" r="5"/><circle cx="788.4" cy="435.4" r="5"/><circle cx="808.9" cy="446.2" r="5"/><circle cx="748.5" cy="438.9" r="5"/><circle cx="773.2" cy="457.6" r="5"/><circle cx="797.5" cy="392.6" r="5"/><circle cx="833.0" cy="450.3" r="5"/><circle cx="781.6" cy="405.2" r="5"/><circle cx="817.0" cy="415.6" r="5"/><circle cx="799.9" cy="407.0" r="5"/><circle cx="862.9" cy="392.1" r="5"/><circle cx="849.5" cy="399.2" r="5"/><circle cx="854.1" cy="445.0" r="5"/><circle cx="842.3" cy="406.4" r="5"/><circle cx="874.8" cy="435.1" r="5"/><circle cx="870.7" cy="456.1" r="5"/><circle cx="749.7" cy="433.9" r="5"/><circle cx="865.8" cy="452.5" r="5"/><circle cx="760.4" cy="391.4" r="5"/><circle cx="875.2" cy="417.0" r="5"/><circle cx="822.2" cy="431.0" r="5"/><circle cx="848.9" cy="410.1" r="5"/><circle cx="828.2" cy="407.2" r="5"/><circle cx="795.8" cy="422.2" r="5"/><circle cx="864.0" cy="442.2" r="5"/><circle cx="872.3" cy="436.8" r="5"/><circle cx="805.6" cy="420.4" r="5"/><circle cx="840.0" cy="395.8" r="5"/><circle cx="867.5" cy="441.6" r="5"/><circle cx="785.3" cy="429.9" r="5"/><circle cx="793.3" cy="421.8" r="5"/><circle cx="791.1" cy="422.5" r="5"/><circle cx="839.9" cy="394.6" r="5"/><circle cx="810.2" cy="450.8" r="5"/><circle cx="793.0" cy="431.4" r="5"/><circle cx="764.9" cy="436.1" r="5"/><circle cx="863.4" cy="463.8" r="5"/><circle cx="849.7" cy="412.5" r="5"/><circle cx="825.7" cy="405.8" r="5"/><circle cx="870.6" cy="446.3" r="5"/><circle cx="767.1" cy="415.9" r="5"/><circle cx="846.3" cy="391.9" r="5"/><circle cx="824.8" cy="463.3" r="5"/><circle cx="804.9" cy="398.4" r="5"/><circle cx="836.8" cy="434.0" r="5"/><circle cx="762.6" cy="418.5" r="5"/><circle cx="801.2" cy="453.2" r="5"/><circle cx="831.9" cy="450.4" r="5"/><circle cx="809.3" cy="448.2" r="5"/><circle cx="810.8" cy="421.0" r="5"/><circle cx="823.8" cy="462.5" r="5"/><circle cx="806.3" cy="435.0" r="5"/><circle cx="847.1" cy="449.4" r="5"/><circle cx="838.0" cy="431.0" r="5"/><circle cx="795.8" cy="402.9" r="5"/><circle cx="824.3" cy="397.3" r="5"/><circle cx="882.7" cy="305.6" r="5"/><circle cx="900.7" cy="304.9" r="5"/><circle cx="868.9" cy="311.9" r="5"/><circle cx="874.2" cy="300.8" r="5"/><circle cx="895.9" cy="315.3" r="5"/><circle cx="898.7" cy="305.2" r="5"/><circle cx="912.1" cy="313.6" r="5"/><circle cx="852.7" cy="316.5" r="5"/><circle cx="865.7" cy="328.0" r="5"/><circle cx="871.1" cy="322.7" r="5"/><circle cx="885.4" cy="313.9" r="5"/><circle cx="896.3" cy="322.8" r="5"/><circle cx="914.0" cy="322.5" r="5"/><circle cx="847.5" cy="334.4" r="5"/><circle cx="851.9" cy="331.9" r="5"/><circle cx="872.6" cy="337.9" r="5"/><circle cx="867.6" cy="335.4" r="5"/><circle cx="880.1" cy="328.2" r="5"/><circle cx="901.4" cy="340.0" r="5"/><circle cx="909.6" cy="327.2" r="5"/><circle cx="856.5" cy="342.2" r="5"/><circle cx="865.3" cy="337.5" r="5"/><circle cx="888.7" cy="347.6" r="5"/><circle cx="904.2" cy="347.3" r="5"/><circle cx="846.9" cy="350.5" r="5"/><circle cx="856.0" cy="355.9" r="5"/><circle cx="864.7" cy="346.3" r="5"/><circle cx="885.4" cy="346.8" r="5"/><circle cx="897.5" cy="354.4" r="5"/><circle cx="894.0" cy="355.5" r="5"/><circle cx="839.0" cy="354.7" r="5"/><circle cx="850.1" cy="369.8" r="5"/><circle cx="853.5" cy="366.5" r="5"/><circle cx="869.4" cy="369.1" r="5"/><circle cx="891.0" cy="366.8" r="5"/><circle cx="847.2" cy="373.9" r="5"/><circle cx="858.3" cy="373.5" r="5"/><circle cx="867.4" cy="369.1" r="5"/><circle cx="872.3" cy="378.8" r="5"/><circle cx="880.3" cy="379.3" r="5"/><circle cx="882.0" cy="378.3" r="5"/><circle cx="915.7" cy="263.3" r="5"/><circle cx="800.0" cy="374.3" r="5"/><circle cx="823.3" cy="374.3" r="5"/><circle cx="765.0" cy="384.3" r="5"/><circle cx="842.3" cy="355.7" r="5"/><circle cx="1168.3" cy="338.3" r="5"/><circle cx="1186.7" cy="339.3" r="5"/><circle cx="1175.7" cy="350.7" r="5"/><circle cx="1180.7" cy="381.0" r="5"/><circle cx="1183.3" cy="451.7" r="5"/><circle cx="1178.3" cy="458.3" r="5"/><circle cx="1047.4" cy="248.0" r="5"/><circle cx="972.4" cy="259.6" r="5"/><circle cx="994.9" cy="261.2" r="5"/><circle cx="1039.3" cy="252.3" r="5"/><circle cx="1051.4" cy="256.7" r="5"/><circle cx="1057.9" cy="256.6" r="5"/><circle cx="1070.5" cy="254.5" r="5"/><circle cx="1089.0" cy="260.9" r="5"/><circle cx="962.4" cy="267.3" r="5"/><circle cx="966.9" cy="257.4" r="5"/><circle cx="968.8" cy="261.8" r="5"/><circle cx="979.1" cy="255.3" r="5"/><circle cx="993.7" cy="268.7" r="5"/><circle cx="1006.3" cy="268.9" r="5"/><circle cx="1016.3" cy="263.7" r="5"/><circle cx="1034.6" cy="259.3" r="5"/><circle cx="1037.3" cy="263.2" r="5"/><circle cx="1049.9" cy="268.3" r="5"/><circle cx="1054.7" cy="263.3" r="5"/><circle cx="1064.7" cy="269.9" r="5"/><circle cx="1073.0" cy="260.8" r="5"/><circle cx="1083.7" cy="257.6" r="5"/><circle cx="1100.7" cy="270.0" r="5"/><circle cx="940.3" cy="276.6" r="5"/><circle cx="952.5" cy="271.9" r="5"/><circle cx="955.8" cy="267.3" r="5"/><circle cx="964.2" cy="266.0" r="5"/><circle cx="980.9" cy="263.6" r="5"/><circle cx="989.6" cy="265.3" r="5"/><circle cx="1001.8" cy="276.9" r="5"/><circle cx="1007.8" cy="268.7" r="5"/><circle cx="1011.6" cy="271.5" r="5"/><circle cx="1022.7" cy="276.9" r="5"/><circle cx="1042.6" cy="274.3" r="5"/><circle cx="1041.7" cy="267.0" r="5"/><circle cx="1060.0" cy="271.6" r="5"/><circle cx="1072.7" cy="267.6" r="5"/><circle cx="1077.8" cy="277.3" r="5"/><circle cx="1088.4" cy="272.6" r="5"/><circle cx="1095.2" cy="269.1" r="5"/><circle cx="1102.7" cy="269.3" r="5"/><circle cx="1114.3" cy="273.2" r="5"/><circle cx="934.2" cy="271.8" r="5"/><circle cx="937.6" cy="272.7" r="5"/><circle cx="945.6" cy="284.7" r="5"/><circle cx="956.7" cy="280.6" r="5"/><circle cx="969.1" cy="284.0" r="5"/><circle cx="974.7" cy="280.5" r="5"/><circle cx="981.3" cy="285.0" r="5"/><circle cx="1001.2" cy="285.8" r="5"/><circle cx="1009.6" cy="275.6" r="5"/><circle cx="1007.2" cy="283.8" r="5"/><circle cx="1023.9" cy="274.9" r="5"/><circle cx="1031.2" cy="275.8" r="5"/><circle cx="1047.5" cy="281.4" r="5"/><circle cx="1049.4" cy="281.8" r="5"/><circle cx="1064.7" cy="277.3" r="5"/><circle cx="1064.6" cy="283.4" r="5"/><circle cx="1080.0" cy="283.4" r="5"/><circle cx="1095.5" cy="272.9" r="5"/><circle cx="1095.3" cy="275.9" r="5"/><circle cx="1102.9" cy="284.2" r="5"/><circle cx="1111.2" cy="274.9" r="5"/><circle cx="929.4" cy="280.8" r="5"/><circle cx="932.2" cy="289.5" r="5"/><circle cx="948.8" cy="290.6" r="5"/><circle cx="955.6" cy="287.7" r="5"/><circle cx="962.2" cy="288.8" r="5"/><circle cx="970.6" cy="281.7" r="5"/><circle cx="976.7" cy="292.0" r="5"/><circle cx="992.9" cy="284.4" r="5"/><circle cx="1003.3" cy="288.5" r="5"/><circle cx="1008.4" cy="292.4" r="5"/><circle cx="1017.3" cy="285.9" r="5"/><circle cx="1030.2" cy="285.4" r="5"/><circle cx="1030.6" cy="290.8" r="5"/><circle cx="1052.1" cy="285.3" r="5"/><circle cx="1054.3" cy="294.4" r="5"/><circle cx="1066.6" cy="282.7" r="5"/><circle cx="1072.2" cy="280.5" r="5"/><circle cx="1091.3" cy="283.3" r="5"/><circle cx="1093.1" cy="285.4" r="5"/><circle cx="1110.4" cy="283.8" r="5"/><circle cx="1118.1" cy="290.7" r="5"/><circle cx="1123.8" cy="289.8" r="5"/><circle cx="938.5" cy="291.9" r="5"/><circle cx="950.1" cy="295.0" r="5"/><circle cx="955.6" cy="296.5" r="5"/><circle cx="965.5" cy="298.1" r="5"/><circle cx="979.8" cy="289.6" r="5"/><circle cx="1006.0" cy="297.5" r="5"/><circle cx="1015.1" cy="291.8" r="5"/><circle cx="1030.1" cy="302.1" r="5"/><circle cx="1038.2" cy="296.7" r="5"/><circle cx="1046.6" cy="297.3" r="5"/><circle cx="1050.1" cy="292.8" r="5"/><circle cx="1062.0" cy="300.2" r="5"/><circle cx="1069.9" cy="292.5" r="5"/><circle cx="1075.2" cy="302.2" r="5"/><circle cx="1091.0" cy="296.7" r="5"/><circle cx="1103.5" cy="298.8" r="5"/><circle cx="1107.0" cy="300.4" r="5"/><circle cx="1115.5" cy="293.7" r="5"/><circle cx="1119.8" cy="299.5" r="5"/><circle cx="1134.2" cy="298.3" r="5"/><circle cx="960.0" cy="297.9" r="5"/><circle cx="973.6" cy="297.3" r="5"/><circle cx="983.4" cy="296.7" r="5"/><circle cx="1014.7" cy="297.1" r="5"/><circle cx="1022.7" cy="298.1" r="5"/><circle cx="1023.7" cy="304.1" r="5"/><circle cx="1042.7" cy="302.0" r="5"/><circle cx="1049.5" cy="301.3" r="5"/><circle cx="1062.9" cy="308.8" r="5"/><circle cx="1061.1" cy="308.7" r="5"/><circle cx="1079.5" cy="302.6" r="5"/><circle cx="1086.8" cy="309.8" r="5"/><circle cx="1093.5" cy="298.6" r="5"/><circle cx="1106.2" cy="298.2" r="5"/><circle cx="1114.7" cy="306.1" r="5"/><circle cx="1124.7" cy="302.5" r="5"/><circle cx="1132.2" cy="298.8" r="5"/><circle cx="1029.6" cy="305.7" r="5"/><circle cx="1037.7" cy="308.8" r="5"/><circle cx="1057.2" cy="305.1" r="5"/><circle cx="1061.5" cy="313.0" r="5"/><circle cx="1075.9" cy="315.4" r="5"/><circle cx="1091.4" cy="314.5" r="5"/><circle cx="1097.4" cy="317.3" r="5"/><circle cx="1102.7" cy="317.3" r="5"/><circle cx="1117.8" cy="310.2" r="5"/><circle cx="1125.9" cy="318.6" r="5"/><circle cx="1077.6" cy="312.4" r="5"/><circle cx="1086.9" cy="316.1" r="5"/><circle cx="1104.5" cy="319.8" r="5"/><circle cx="1084.8" cy="266.9" r="5"/><circle cx="1066.0" cy="273.4" r="5"/><circle cx="1081.3" cy="269.2" r="5"/><circle cx="1089.1" cy="270.2" r="5"/><circle cx="1061.3" cy="275.3" r="5"/><circle cx="1070.2" cy="270.8" r="5"/><circle cx="1078.3" cy="276.4" r="5"/><circle cx="1085.8" cy="274.3" r="5"/><circle cx="1099.5" cy="281.5" r="5"/><circle cx="1061.3" cy="281.3" r="5"/><circle cx="1069.2" cy="282.8" r="5"/><circle cx="1074.1" cy="288.4" r="5"/><circle cx="1085.0" cy="285.1" r="5"/><circle cx="1097.1" cy="280.0" r="5"/><circle cx="1098.7" cy="286.9" r="5"/><circle cx="1062.3" cy="295.4" r="5"/><circle cx="1074.7" cy="284.8" r="5"/><circle cx="1085.8" cy="295.6" r="5"/><circle cx="1093.3" cy="296.7" r="5"/><circle cx="1103.4" cy="292.1" r="5"/><circle cx="1065.7" cy="295.8" r="5"/><circle cx="1074.1" cy="295.8" r="5"/><circle cx="1092.2" cy="302.1" r="5"/><circle cx="1100.4" cy="295.9" r="5"/><circle cx="1106.8" cy="302.9" r="5"/><circle cx="1074.5" cy="307.0" r="5"/><circle cx="1080.4" cy="305.7" r="5"/><circle cx="1096.5" cy="308.0" r="5"/><circle cx="1101.9" cy="306.1" r="5"/><circle cx="1105.8" cy="302.8" r="5"/><circle cx="1075.9" cy="314.0" r="5"/><circle cx="1082.4" cy="315.3" r="5"/><circle cx="1094.7" cy="311.2" r="5"/><circle cx="1097.0" cy="306.6" r="5"/><circle cx="998.7" cy="264.2" r="5"/><circle cx="1022.4" cy="263.4" r="5"/><circle cx="983.2" cy="271.8" r="5"/><circle cx="993.6" cy="267.0" r="5"/><circle cx="1010.6" cy="264.3" r="5"/><circle cx="1014.2" cy="268.0" r="5"/><circle cx="1020.3" cy="266.5" r="5"/><circle cx="1039.3" cy="268.2" r="5"/><circle cx="982.8" cy="272.6" r="5"/><circle cx="991.7" cy="268.4" r="5"/><circle cx="1011.2" cy="266.4" r="5"/><circle cx="1016.0" cy="277.6" r="5"/><circle cx="1024.8" cy="273.0" r="5"/><circle cx="1028.5" cy="276.3" r="5"/><circle cx="1037.3" cy="280.6" r="5"/><circle cx="995.0" cy="279.7" r="5"/><circle cx="994.1" cy="288.4" r="5"/><circle cx="1011.0" cy="278.7" r="5"/><circle cx="1011.2" cy="285.1" r="5"/><circle cx="1028.2" cy="278.8" r="5"/><circle cx="1041.8" cy="276.5" r="5"/><circle cx="994.5" cy="289.0" r="5"/><circle cx="1014.3" cy="292.0" r="5"/><circle cx="1025.7" cy="293.2" r="5"/><circle cx="881.5" cy="378.6" r="5"/><circle cx="898.7" cy="385.9" r="5"/><circle cx="827.5" cy="389.5" r="5"/><circle cx="843.7" cy="384.3" r="5"/><circle cx="865.6" cy="389.1" r="5"/><circle cx="868.1" cy="390.2" r="5"/><circle cx="879.8" cy="388.9" r="5"/><circle cx="880.7" cy="392.6" r="5"/><circle cx="889.9" cy="391.4" r="5"/><circle cx="824.2" cy="401.0" r="5"/><circle cx="835.6" cy="390.4" r="5"/><circle cx="848.6" cy="393.7" r="5"/><circle cx="853.0" cy="390.2" r="5"/><circle cx="862.1" cy="388.3" r="5"/><circle cx="874.1" cy="399.2" r="5"/><circle cx="880.0" cy="391.6" r="5"/><circle cx="886.1" cy="402.4" r="5"/><circle cx="897.2" cy="391.1" r="5"/><circle cx="903.9" cy="397.7" r="5"/><circle cx="826.7" cy="405.5" r="5"/><circle cx="832.2" cy="400.5" r="5"/><circle cx="843.7" cy="400.9" r="5"/><circle cx="854.4" cy="404.1" r="5"/><circle cx="856.4" cy="401.3" r="5"/><circle cx="872.6" cy="399.5" r="5"/><circle cx="874.2" cy="399.0" r="5"/><circle cx="891.6" cy="401.0" r="5"/><circle cx="903.3" cy="396.9" r="5"/><circle cx="899.0" cy="410.6" r="5"/><circle cx="912.1" cy="407.3" r="5"/><circle cx="822.5" cy="417.8" r="5"/><circle cx="820.5" cy="407.3" r="5"/><circle cx="830.2" cy="413.8" r="5"/><circle cx="846.8" cy="416.4" r="5"/><circle cx="857.4" cy="407.9" r="5"/><circle cx="860.5" cy="418.0" r="5"/><circle cx="870.8" cy="410.8" r="5"/><circle cx="880.5" cy="417.6" r="5"/><circle cx="895.0" cy="418.0" r="5"/><circle cx="894.0" cy="412.5" r="5"/><circle cx="917.8" cy="410.3" r="5"/><circle cx="924.6" cy="418.4" r="5"/><circle cx="936.1" cy="414.0" r="5"/><circle cx="835.4" cy="416.1" r="5"/><circle cx="847.2" cy="425.3" r="5"/><circle cx="850.9" cy="415.2" r="5"/><circle cx="861.0" cy="425.0" r="5"/><circle cx="862.3" cy="412.6" r="5"/><circle cx="876.8" cy="425.9" r="5"/><circle cx="882.8" cy="414.3" r="5"/><circle cx="898.4" cy="414.4" r="5"/><circle cx="903.3" cy="416.6" r="5"/><circle cx="913.3" cy="419.8" r="5"/><circle cx="931.3" cy="417.4" r="5"/><circle cx="931.7" cy="420.6" r="5"/><circle cx="957.2" cy="421.1" r="5"/><circle cx="814.4" cy="429.0" r="5"/><circle cx="829.0" cy="433.3" r="5"/><circle cx="836.4" cy="421.0" r="5"/><circle cx="841.0" cy="423.2" r="5"/><circle cx="856.3" cy="421.5" r="5"/><circle cx="863.6" cy="422.9" r="5"/><circle cx="878.5" cy="420.7" r="5"/><circle cx="877.2" cy="426.3" r="5"/><circle cx="897.3" cy="420.7" r="5"/><circle cx="899.0" cy="426.1" r="5"/><circle cx="909.8" cy="424.3" r="5"/><circle cx="912.7" cy="423.4" r="5"/><circle cx="933.0" cy="427.0" r="5"/><circle cx="938.0" cy="428.7" r="5"/><circle cx="941.0" cy="430.6" r="5"/><circle cx="953.1" cy="432.3" r="5"/><circle cx="808.6" cy="441.8" r="5"/><circle cx="825.2" cy="434.0" r="5"/><circle cx="830.0" cy="431.7" r="5"/><circle cx="835.6" cy="430.3" r="5"/><circle cx="854.4" cy="430.8" r="5"/><circle cx="856.8" cy="437.3" r="5"/><circle cx="868.1" cy="430.4" r="5"/><circle cx="875.9" cy="437.0" r="5"/><circle cx="890.8" cy="437.0" r="5"/><circle cx="902.2" cy="436.8" r="5"/><circle cx="908.6" cy="436.9" r="5"/><circle cx="922.7" cy="438.0" r="5"/><circle cx="930.2" cy="430.9" r="5"/><circle cx="941.5" cy="441.6" r="5"/><circle cx="940.8" cy="438.5" r="5"/><circle cx="951.0" cy="434.1" r="5"/><circle cx="964.7" cy="432.1" r="5"/><circle cx="965.2" cy="435.9" r="5"/><circle cx="980.9" cy="429.6" r="5"/><circle cx="988.2" cy="441.1" r="5"/><circle cx="997.2" cy="434.2" r="5"/><circle cx="1002.7" cy="443.4" r="5"/><circle cx="805.7" cy="441.5" r="5"/><circle cx="810.1" cy="447.0" r="5"/><circle cx="831.6" cy="438.8" r="5"/><circle cx="835.6" cy="450.9" r="5"/><circle cx="847.8" cy="446.8" r="5"/><circle cx="861.5" cy="439.6" r="5"/><circle cx="866.9" cy="438.1" r="5"/><circle cx="873.7" cy="439.7" r="5"/><circle cx="880.7" cy="439.1" r="5"/><circle cx="886.1" cy="438.6" r="5"/><circle cx="904.2" cy="448.5" r="5"/><circle cx="906.4" cy="443.5" r="5"/><circle cx="916.8" cy="439.2" r="5"/><circle cx="929.6" cy="440.4" r="5"/><circle cx="942.5" cy="443.1" r="5"/><circle cx="954.1" cy="445.0" r="5"/><circle cx="963.6" cy="443.2" r="5"/><circle cx="974.5" cy="445.7" r="5"/><circle cx="982.8" cy="449.1" r="5"/><circle cx="983.5" cy="441.3" r="5"/><circle cx="989.5" cy="444.0" r="5"/><circle cx="1002.1" cy="449.8" r="5"/><circle cx="1012.8" cy="447.0" r="5"/><circle cx="769.8" cy="457.9" r="5"/><circle cx="779.7" cy="453.5" r="5"/><circle cx="799.5" cy="457.9" r="5"/><circle cx="815.0" cy="450.5" r="5"/><circle cx="822.8" cy="458.0" r="5"/><circle cx="827.4" cy="455.0" r="5"/><circle cx="840.7" cy="446.2" r="5"/><circle cx="853.9" cy="453.6" r="5"/><circle cx="852.7" cy="459.2" r="5"/><circle cx="865.3" cy="454.1" r="5"/><circle cx="883.3" cy="459.8" r="5"/><circle cx="887.8" cy="445.7" r="5"/><circle cx="892.4" cy="449.6" r="5"/><circle cx="900.3" cy="459.2" r="5"/><circle cx="919.2" cy="458.8" r="5"/><circle cx="924.3" cy="458.7" r="5"/><circle cx="934.3" cy="448.3" r="5"/><circle cx="949.5" cy="455.1" r="5"/><circle cx="946.3" cy="457.5" r="5"/><circle cx="960.4" cy="455.8" r="5"/><circle cx="969.3" cy="456.4" r="5"/><circle cx="980.4" cy="455.8" r="5"/><circle cx="994.0" cy="456.7" r="5"/><circle cx="1004.5" cy="456.8" r="5"/><circle cx="1016.3" cy="450.3" r="5"/><circle cx="1023.7" cy="450.1" r="5"/><circle cx="778.0" cy="456.1" r="5"/><circle cx="794.1" cy="455.9" r="5"/><circle cx="790.8" cy="453.7" r="5"/><circle cx="809.6" cy="457.4" r="5"/><circle cx="829.4" cy="455.5" r="5"/><circle cx="838.6" cy="453.2" r="5"/><circle cx="839.8" cy="458.1" r="5"/><circle cx="866.8" cy="458.9" r="5"/><circle cx="880.8" cy="453.1" r="5"/><circle cx="922.0" cy="457.1" r="5"/><circle cx="951.9" cy="458.3" r="5"/><circle cx="952.9" cy="459.4" r="5"/><circle cx="1008.5" cy="455.0" r="5"/><circle cx="1112.9" cy="401.3" r="5"/><circle cx="1079.6" cy="411.4" r="5"/><circle cx="1078.4" cy="401.6" r="5"/><circle cx="1112.3" cy="391.1" r="5"/><circle cx="1091.3" cy="398.6" r="5"/><circle cx="1098.5" cy="413.7" r="5"/><circle cx="1118.5" cy="395.9" r="5"/><circle cx="1087.2" cy="403.0" r="5"/><circle cx="1104.4" cy="405.7" r="5"/><circle cx="1088.8" cy="393.9" r="5"/><circle cx="1107.3" cy="413.0" r="5"/><circle cx="1108.7" cy="393.0" r="5"/><circle cx="1100.4" cy="398.6" r="5"/><circle cx="1091.2" cy="414.3" r="5"/><circle cx="1096.7" cy="408.1" r="5"/><circle cx="1094.5" cy="396.9" r="5"/><circle cx="1106.6" cy="398.8" r="5"/><circle cx="1106.3" cy="416.8" r="5"/><circle cx="1117.5" cy="409.7" r="5"/><circle cx="1090.4" cy="398.4" r="5"/><circle cx="1091.0" cy="417.3" r="5"/><circle cx="1113.9" cy="404.1" r="5"/><circle cx="1077.6" cy="409.0" r="5"/><circle cx="1103.9" cy="410.1" r="5"/><circle cx="1088.4" cy="404.3" r="5"/><circle cx="1104.8" cy="390.9" r="5"/><circle cx="1079.1" cy="406.0" r="5"/><circle cx="1085.4" cy="405.5" r="5"/><circle cx="1082.2" cy="401.3" r="5"/><circle cx="1092.9" cy="418.2" r="5"/><circle cx="1112.9" cy="391.2" r="5"/><circle cx="1110.8" cy="406.3" r="5"/><circle cx="1073.2" cy="412.6" r="5"/><circle cx="1085.0" cy="411.9" r="5"/><circle cx="1089.5" cy="395.7" r="5"/><circle cx="1098.6" cy="403.0" r="5"/><circle cx="1101.1" cy="396.7" r="5"/><circle cx="1102.1" cy="405.0" r="5"/><circle cx="1093.2" cy="417.7" r="5"/><circle cx="1077.4" cy="407.6" r="5"/><circle cx="1088.8" cy="410.7" r="5"/><circle cx="1090.5" cy="399.2" r="5"/><circle cx="1094.1" cy="392.4" r="5"/><circle cx="1109.7" cy="387.2" r="5"/><circle cx="1073.9" cy="389.8" r="5"/><circle cx="1068.6" cy="391.7" r="5"/><circle cx="1087.0" cy="396.8" r="5"/><circle cx="1096.1" cy="394.4" r="5"/><circle cx="1108.8" cy="392.9" r="5"/><circle cx="1111.3" cy="395.9" r="5"/><circle cx="1127.8" cy="395.5" r="5"/><circle cx="1141.0" cy="396.0" r="5"/><circle cx="1055.1" cy="410.5" r="5"/><circle cx="1065.0" cy="395.4" r="5"/><circle cx="1078.6" cy="404.7" r="5"/><circle cx="1080.6" cy="407.6" r="5"/><circle cx="1100.0" cy="398.7" r="5"/><circle cx="1100.1" cy="399.1" r="5"/><circle cx="1117.4" cy="400.8" r="5"/><circle cx="1122.2" cy="410.5" r="5"/><circle cx="1126.1" cy="402.2" r="5"/><circle cx="1138.2" cy="396.5" r="5"/><circle cx="1147.4" cy="404.0" r="5"/><circle cx="1055.2" cy="416.2" r="5"/><circle cx="1060.6" cy="410.1" r="5"/><circle cx="1068.1" cy="408.4" r="5"/><circle cx="1091.1" cy="417.8" r="5"/><circle cx="1098.9" cy="408.1" r="5"/><circle cx="1109.9" cy="418.0" r="5"/><circle cx="1123.9" cy="409.2" r="5"/><circle cx="1130.3" cy="416.7" r="5"/><circle cx="1144.0" cy="404.4" r="5"/><circle cx="1056.3" cy="419.7" r="5"/><circle cx="1068.1" cy="422.8" r="5"/><circle cx="1064.0" cy="416.6" r="5"/><circle cx="1087.3" cy="427.3" r="5"/><circle cx="1095.7" cy="429.6" r="5"/><circle cx="1100.2" cy="429.4" r="5"/><circle cx="1108.4" cy="426.3" r="5"/><circle cx="1127.1" cy="423.7" r="5"/><circle cx="1129.1" cy="428.5" r="5"/><circle cx="1138.6" cy="421.4" r="5"/><circle cx="1052.1" cy="423.8" r="5"/><circle cx="1059.8" cy="434.8" r="5"/><circle cx="1063.7" cy="437.8" r="5"/><circle cx="1079.3" cy="427.1" r="5"/><circle cx="1086.0" cy="431.1" r="5"/><circle cx="1099.4" cy="431.9" r="5"/><circle cx="1105.2" cy="432.0" r="5"/><circle cx="1118.4" cy="422.7" r="5"/><circle cx="1130.9" cy="431.3" r="5"/><circle cx="1145.2" cy="432.0" r="5"/><circle cx="1053.8" cy="441.7" r="5"/><circle cx="1062.1" cy="436.8" r="5"/><circle cx="1070.4" cy="440.3" r="5"/><circle cx="1089.1" cy="444.6" r="5"/><circle cx="1099.4" cy="432.1" r="5"/><circle cx="1095.3" cy="447.8" r="5"/><circle cx="1104.8" cy="438.2" r="5"/><circle cx="1131.9" cy="432.8" r="5"/><circle cx="1133.2" cy="436.5" r="5"/><circle cx="1059.8" cy="452.2" r="5"/><circle cx="1064.6" cy="456.6" r="5"/><circle cx="1075.6" cy="444.4" r="5"/><circle cx="1078.2" cy="450.1" r="5"/><circle cx="1096.3" cy="454.2" r="5"/><circle cx="1101.0" cy="447.6" r="5"/><circle cx="1122.4" cy="450.2" r="5"/><circle cx="1125.2" cy="452.7" r="5"/><circle cx="1173.4" cy="455.4" r="5"/><circle cx="1188.0" cy="450.8" r="5"/><circle cx="1048.4" cy="455.6" r="5"/><circle cx="1058.9" cy="454.4" r="5"/><circle cx="1077.3" cy="465.7" r="5"/><circle cx="1073.0" cy="460.6" r="5"/><circle cx="1096.2" cy="452.3" r="5"/><circle cx="1108.3" cy="453.2" r="5"/><circle cx="1112.3" cy="452.0" r="5"/><circle cx="1116.1" cy="452.4" r="5"/><circle cx="1131.9" cy="465.4" r="5"/><circle cx="1146.9" cy="462.7" r="5"/><circle cx="1152.3" cy="451.1" r="5"/><circle cx="1157.6" cy="449.9" r="5"/><circle cx="1181.6" cy="453.7" r="5"/><circle cx="1181.0" cy="462.2" r="5"/><circle cx="1038.0" cy="471.5" r="5"/><circle cx="1058.2" cy="466.6" r="5"/><circle cx="1065.5" cy="470.6" r="5"/><circle cx="1070.2" cy="469.3" r="5"/><circle cx="1079.0" cy="462.3" r="5"/><circle cx="1100.7" cy="459.9" r="5"/><circle cx="1114.8" cy="470.3" r="5"/><circle cx="1117.9" cy="465.8" r="5"/><circle cx="1129.3" cy="474.4" r="5"/><circle cx="1133.9" cy="461.1" r="5"/><circle cx="1144.5" cy="462.3" r="5"/><circle cx="1166.3" cy="475.3" r="5"/><circle cx="1173.6" cy="466.0" r="5"/><circle cx="1181.0" cy="467.6" r="5"/><circle cx="1038.0" cy="476.5" r="5"/><circle cx="1054.5" cy="477.0" r="5"/><circle cx="1062.0" cy="474.1" r="5"/><circle cx="1062.8" cy="483.4" r="5"/><circle cx="1081.2" cy="467.7" r="5"/><circle cx="1089.8" cy="468.9" r="5"/><circle cx="1103.9" cy="473.8" r="5"/><circle cx="1107.6" cy="477.6" r="5"/><circle cx="1123.3" cy="471.2" r="5"/><circle cx="1138.8" cy="474.3" r="5"/><circle cx="1148.1" cy="476.8" r="5"/><circle cx="1148.6" cy="468.5" r="5"/><circle cx="1167.1" cy="479.9" r="5"/><circle cx="1035.1" cy="481.1" r="5"/><circle cx="1041.2" cy="493.5" r="5"/><circle cx="1058.6" cy="482.1" r="5"/><circle cx="1059.6" cy="477.9" r="5"/><circle cx="1079.8" cy="486.5" r="5"/><circle cx="1087.2" cy="489.3" r="5"/><circle cx="1093.6" cy="487.3" r="5"/><circle cx="1115.6" cy="477.5" r="5"/><circle cx="1118.3" cy="493.3" r="5"/><circle cx="1136.2" cy="484.8" r="5"/><circle cx="1138.9" cy="477.0" r="5"/><circle cx="1144.5" cy="493.1" r="5"/><circle cx="1159.7" cy="476.9" r="5"/><circle cx="1036.5" cy="496.9" r="5"/><circle cx="1053.9" cy="490.0" r="5"/><circle cx="1061.8" cy="501.4" r="5"/><circle cx="1063.7" cy="497.6" r="5"/><circle cx="1080.5" cy="502.6" r="5"/><circle cx="1095.6" cy="496.9" r="5"/><circle cx="1094.2" cy="491.4" r="5"/><circle cx="1117.9" cy="493.4" r="5"/><circle cx="1116.8" cy="488.2" r="5"/><circle cx="1140.0" cy="489.1" r="5"/><circle cx="1137.9" cy="494.8" r="5"/><circle cx="1152.0" cy="497.2" r="5"/><circle cx="1161.6" cy="487.3" r="5"/><circle cx="1041.0" cy="499.9" r="5"/><circle cx="1055.8" cy="508.9" r="5"/><circle cx="1070.0" cy="511.0" r="5"/><circle cx="1073.8" cy="503.0" r="5"/><circle cx="1085.0" cy="502.1" r="5"/><circle cx="1090.4" cy="510.0" r="5"/><circle cx="1115.3" cy="508.2" r="5"/><circle cx="1122.3" cy="503.1" r="5"/><circle cx="1121.3" cy="508.6" r="5"/><circle cx="1147.2" cy="504.0" r="5"/><circle cx="1144.9" cy="505.8" r="5"/><circle cx="1040.5" cy="507.3" r="5"/><circle cx="1057.5" cy="516.1" r="5"/><circle cx="1056.8" cy="509.1" r="5"/><circle cx="1074.9" cy="516.9" r="5"/><circle cx="1074.6" cy="518.0" r="5"/><circle cx="1085.7" cy="518.3" r="5"/><circle cx="1106.0" cy="506.2" r="5"/><circle cx="1117.2" cy="520.3" r="5"/><circle cx="1117.8" cy="511.5" r="5"/><circle cx="1139.8" cy="504.4" r="5"/><circle cx="1048.2" cy="517.1" r="5"/><circle cx="1060.9" cy="515.0" r="5"/><circle cx="1072.3" cy="519.3" r="5"/><circle cx="1072.0" cy="526.4" r="5"/><circle cx="1081.0" cy="521.2" r="5"/><circle cx="1096.2" cy="518.5" r="5"/><circle cx="1113.6" cy="522.7" r="5"/><circle cx="1117.4" cy="513.7" r="5"/><circle cx="1063.8" cy="526.8" r="5"/><circle cx="1093.8" cy="525.9" r="5"/><circle cx="962.5" cy="441.4" r="5"/><circle cx="967.1" cy="438.3" r="5"/><circle cx="972.4" cy="439.9" r="5"/><circle cx="988.3" cy="446.9" r="5"/><circle cx="999.3" cy="441.6" r="5"/><circle cx="953.6" cy="458.3" r="5"/><circle cx="976.0" cy="451.5" r="5"/><circle cx="985.3" cy="448.4" r="5"/><circle cx="996.8" cy="447.4" r="5"/><circle cx="1020.5" cy="466.6" r="5"/><circle cx="963.3" cy="472.2" r="5"/><circle cx="975.7" cy="463.5" r="5"/><circle cx="983.3" cy="479.4" r="5"/><circle cx="1011.3" cy="468.9" r="5"/><circle cx="1020.9" cy="477.5" r="5"/><circle cx="965.0" cy="475.0" r="5"/><circle cx="961.2" cy="499.7" r="5"/><circle cx="994.7" cy="476.8" r="5"/><circle cx="996.4" cy="494.7" r="5"/><circle cx="1009.8" cy="498.9" r="5"/><circle cx="1035.6" cy="476.9" r="5"/><circle cx="956.3" cy="512.8" r="5"/><circle cx="964.8" cy="504.4" r="5"/><circle cx="991.9" cy="494.3" r="5"/><circle cx="998.4" cy="509.3" r="5"/><circle cx="1013.2" cy="494.3" r="5"/><circle cx="1027.9" cy="489.2" r="5"/><circle cx="941.6" cy="525.6" r="5"/><circle cx="949.8" cy="525.9" r="5"/><circle cx="959.4" cy="503.3" r="5"/><circle cx="999.0" cy="517.1" r="5"/><circle cx="945.9" cy="521.4" r="5"/><circle cx="968.7" cy="528.7" r="5"/><circle cx="985.4" cy="526.1" r="5"/><circle cx="730.5" cy="468.8" r="5"/><circle cx="744.4" cy="469.4" r="5"/><circle cx="768.6" cy="462.7" r="5"/><circle cx="775.5" cy="460.4" r="5"/><circle cx="786.1" cy="461.0" r="5"/><circle cx="801.1" cy="465.2" r="5"/><circle cx="795.7" cy="469.6" r="5"/><circle cx="813.6" cy="462.9" r="5"/><circle cx="831.1" cy="463.8" r="5"/><circle cx="872.3" cy="465.4" r="5"/><circle cx="895.3" cy="460.8" r="5"/><circle cx="897.1" cy="464.0" r="5"/><circle cx="916.5" cy="465.5" r="5"/><circle cx="936.3" cy="469.4" r="5"/><circle cx="938.2" cy="462.9" r="5"/><circle cx="952.6" cy="466.8" r="5"/><circle cx="965.4" cy="464.6" r="5"/><circle cx="726.7" cy="467.3" r="5"/><circle cx="731.6" cy="463.4" r="5"/><circle cx="742.9" cy="473.1" r="5"/><circle cx="745.8" cy="473.9" r="5"/><circle cx="754.1" cy="474.0" r="5"/><circle cx="775.6" cy="478.2" r="5"/><circle cx="776.8" cy="476.6" r="5"/><circle cx="784.9" cy="474.6" r="5"/><circle cx="791.4" cy="466.6" r="5"/><circle cx="804.0" cy="474.0" r="5"/><circle cx="825.4" cy="478.5" r="5"/><circle cx="822.0" cy="472.3" r="5"/><circle cx="845.3" cy="474.0" r="5"/><circle cx="851.5" cy="466.9" r="5"/><circle cx="862.5" cy="471.3" r="5"/><circle cx="865.6" cy="471.4" r="5"/><circle cx="877.0" cy="475.2" r="5"/><circle cx="881.7" cy="475.2" r="5"/><circle cx="902.0" cy="467.4" r="5"/><circle cx="905.1" cy="462.8" r="5"/><circle cx="915.5" cy="463.5" r="5"/><circle cx="922.4" cy="476.1" r="5"/><circle cx="934.3" cy="474.7" r="5"/><circle cx="953.3" cy="468.1" r="5"/><circle cx="950.1" cy="477.5" r="5"/><circle cx="971.7" cy="475.5" r="5"/><circle cx="721.4" cy="473.0" r="5"/><circle cx="729.4" cy="479.4" r="5"/><circle cx="738.8" cy="474.2" r="5"/><circle cx="738.9" cy="481.4" r="5"/><circle cx="750.1" cy="478.2" r="5"/><circle cx="768.4" cy="480.8" r="5"/><circle cx="768.7" cy="484.2" r="5"/><circle cx="788.5" cy="475.9" r="5"/><circle cx="794.8" cy="481.4" r="5"/><circle cx="796.5" cy="482.2" r="5"/><circle cx="809.0" cy="475.1" r="5"/><circle cx="822.4" cy="477.4" r="5"/><circle cx="834.6" cy="476.1" r="5"/><circle cx="850.1" cy="472.5" r="5"/><circle cx="846.8" cy="480.0" r="5"/><circle cx="865.8" cy="471.5" r="5"/><circle cx="877.6" cy="478.6" r="5"/><circle cx="887.6" cy="475.1" r="5"/><circle cx="890.1" cy="473.0" r="5"/><circle cx="902.6" cy="486.0" r="5"/><circle cx="918.1" cy="473.0" r="5"/><circle cx="920.1" cy="471.6" r="5"/><circle cx="934.1" cy="476.1" r="5"/><circle cx="941.1" cy="485.3" r="5"/><circle cx="952.7" cy="476.2" r="5"/><circle cx="963.8" cy="472.5" r="5"/><circle cx="722.5" cy="490.2" r="5"/><circle cx="722.1" cy="490.7" r="5"/><circle cx="733.1" cy="484.4" r="5"/><circle cx="753.8" cy="481.2" r="5"/><circle cx="763.2" cy="482.2" r="5"/><circle cx="771.3" cy="488.3" r="5"/><circle cx="786.3" cy="494.6" r="5"/><circle cx="796.6" cy="493.4" r="5"/><circle cx="803.8" cy="486.0" r="5"/><circle cx="802.0" cy="479.9" r="5"/><circle cx="817.4" cy="487.5" r="5"/><circle cx="829.3" cy="492.1" r="5"/><circle cx="843.5" cy="483.6" r="5"/><circle cx="842.0" cy="482.6" r="5"/><circle cx="854.1" cy="489.5" r="5"/><circle cx="862.1" cy="492.8" r="5"/><circle cx="875.0" cy="494.2" r="5"/><circle cx="884.7" cy="495.3" r="5"/><circle cx="894.9" cy="484.0" r="5"/><circle cx="914.1" cy="488.8" r="5"/><circle cx="920.5" cy="490.8" r="5"/><circle cx="923.5" cy="486.4" r="5"/><circle cx="930.6" cy="480.5" r="5"/><circle cx="949.6" cy="486.7" r="5"/><circle cx="959.8" cy="484.2" r="5"/><circle cx="718.7" cy="500.1" r="5"/><circle cx="717.0" cy="494.4" r="5"/><circle cx="738.6" cy="491.2" r="5"/><circle cx="747.5" cy="503.3" r="5"/><circle cx="758.4" cy="499.6" r="5"/><circle cx="758.4" cy="502.4" r="5"/><circle cx="767.0" cy="494.2" r="5"/><circle cx="787.3" cy="496.3" r="5"/><circle cx="801.0" cy="495.6" r="5"/><circle cx="796.5" cy="491.2" r="5"/><circle cx="815.3" cy="492.5" r="5"/><circle cx="820.8" cy="500.0" r="5"/><circle cx="840.5" cy="499.5" r="5"/><circle cx="841.1" cy="495.4" r="5"/><circle cx="847.5" cy="494.0" r="5"/><circle cx="865.2" cy="502.7" r="5"/><circle cx="867.1" cy="494.7" r="5"/><circle cx="887.7" cy="489.3" r="5"/><circle cx="892.6" cy="499.5" r="5"/><circle cx="899.0" cy="496.4" r="5"/><circle cx="917.3" cy="496.2" r="5"/><circle cx="917.5" cy="496.8" r="5"/><circle cx="926.8" cy="493.4" r="5"/><circle cx="726.7" cy="497.3" r="5"/><circle cx="734.1" cy="504.6" r="5"/><circle cx="731.8" cy="507.8" r="5"/><circle cx="749.5" cy="503.7" r="5"/><circle cx="763.1" cy="503.5" r="5"/><circle cx="764.5" cy="508.3" r="5"/><circle cx="780.7" cy="504.9" r="5"/><circle cx="791.2" cy="506.0" r="5"/><circle cx="810.0" cy="509.9" r="5"/><circle cx="823.7" cy="503.3" r="5"/><circle cx="827.3" cy="506.1" r="5"/><circle cx="836.2" cy="500.8" r="5"/><circle cx="854.4" cy="497.5" r="5"/><circle cx="853.9" cy="503.6" r="5"/><circle cx="872.2" cy="509.0" r="5"/><circle cx="876.0" cy="499.3" r="5"/><circle cx="883.6" cy="499.5" r="5"/><circle cx="890.0" cy="507.6" r="5"/><circle cx="901.4" cy="502.2" r="5"/><circle cx="917.5" cy="500.5" r="5"/><circle cx="925.0" cy="502.3" r="5"/><circle cx="753.9" cy="505.9" r="5"/><circle cx="809.5" cy="509.4" r="5"/><circle cx="817.6" cy="509.4" r="5"/><circle cx="832.3" cy="506.1" r="5"/><circle cx="836.2" cy="515.0" r="5"/><circle cx="849.6" cy="519.3" r="5"/><circle cx="869.9" cy="515.3" r="5"/><circle cx="872.3" cy="515.7" r="5"/><circle cx="876.2" cy="517.7" r="5"/><circle cx="889.2" cy="517.8" r="5"/><circle cx="905.4" cy="511.1" r="5"/><circle cx="916.5" cy="514.5" r="5"/><circle cx="928.1" cy="511.5" r="5"/><circle cx="823.7" cy="523.0" r="5"/><circle cx="832.5" cy="523.1" r="5"/><circle cx="854.0" cy="514.9" r="5"/><circle cx="852.6" cy="521.4" r="5"/><circle cx="861.0" cy="515.2" r="5"/><circle cx="877.9" cy="525.2" r="5"/><circle cx="885.1" cy="530.1" r="5"/><circle cx="902.2" cy="517.1" r="5"/><circle cx="911.1" cy="514.9" r="5"/><circle cx="921.9" cy="521.0" r="5"/><circle cx="834.4" cy="526.9" r="5"/><circle cx="836.8" cy="523.3" r="5"/><circle cx="856.9" cy="528.4" r="5"/><circle cx="865.6" cy="537.7" r="5"/><circle cx="879.7" cy="532.6" r="5"/><circle cx="893.6" cy="526.1" r="5"/><circle cx="895.1" cy="537.5" r="5"/><circle cx="919.9" cy="529.8" r="5"/><circle cx="918.8" cy="529.7" r="5"/><circle cx="870.9" cy="532.9" r="5"/><circle cx="885.7" cy="539.3" r="5"/><circle cx="882.6" cy="531.7" r="5"/><circle cx="901.8" cy="536.3" r="5"/><circle cx="910.2" cy="536.0" r="5"/><circle cx="919.3" cy="532.6" r="5"/><circle cx="842.9" cy="465.9" r="5"/><circle cx="882.1" cy="468.6" r="5"/><circle cx="896.7" cy="464.0" r="5"/><circle cx="930.5" cy="466.5" r="5"/><circle cx="838.6" cy="468.8" r="5"/><circle cx="842.8" cy="462.6" r="5"/><circle cx="861.9" cy="469.0" r="5"/><circle cx="858.6" cy="463.7" r="5"/><circle cx="888.6" cy="479.0" r="5"/><circle cx="892.0" cy="460.1" r="5"/><circle cx="894.6" cy="460.9" r="5"/><circle cx="914.3" cy="472.1" r="5"/><circle cx="922.6" cy="479.1" r="5"/><circle cx="934.2" cy="469.4" r="5"/><circle cx="840.2" cy="483.2" r="5"/><circle cx="852.5" cy="484.4" r="5"/><circle cx="866.2" cy="471.4" r="5"/><circle cx="864.4" cy="474.7" r="5"/><circle cx="886.7" cy="476.4" r="5"/><circle cx="903.5" cy="489.5" r="5"/><circle cx="908.8" cy="489.2" r="5"/><circle cx="915.3" cy="489.7" r="5"/><circle cx="841.2" cy="488.2" r="5"/><circle cx="847.1" cy="498.2" r="5"/><circle cx="877.3" cy="490.3" r="5"/><circle cx="883.9" cy="490.9" r="5"/><circle cx="893.7" cy="488.2" r="5"/><circle cx="905.0" cy="490.2" r="5"/><circle cx="907.0" cy="485.4" r="5"/><circle cx="931.6" cy="483.1" r="5"/><circle cx="844.0" cy="509.7" r="5"/><circle cx="865.1" cy="506.5" r="5"/><circle cx="880.1" cy="507.6" r="5"/><circle cx="881.2" cy="509.1" r="5"/><circle cx="890.5" cy="502.4" r="5"/><circle cx="904.0" cy="505.6" r="5"/><circle cx="918.0" cy="493.9" r="5"/><circle cx="845.0" cy="504.4" r="5"/><circle cx="859.0" cy="512.3" r="5"/><circle cx="863.0" cy="512.7" r="5"/><circle cx="881.5" cy="520.8" r="5"/><circle cx="890.4" cy="518.3" r="5"/><circle cx="912.1" cy="513.5" r="5"/><circle cx="913.9" cy="516.5" r="5"/><circle cx="926.4" cy="514.3" r="5"/><circle cx="857.6" cy="522.6" r="5"/><circle cx="866.0" cy="518.0" r="5"/><circle cx="884.9" cy="525.4" r="5"/><circle cx="899.6" cy="521.3" r="5"/><circle cx="914.9" cy="517.1" r="5"/><circle cx="859.3" cy="533.4" r="5"/><circle cx="870.7" cy="535.8" r="5"/><circle cx="877.4" cy="537.9" r="5"/><circle cx="900.0" cy="530.5" r="5"/><circle cx="901.6" cy="529.5" r="5"/><circle cx="868.3" cy="535.4" r="5"/><circle cx="852.8" cy="579.6" r="5"/><circle cx="849.6" cy="567.1" r="5"/><circle cx="851.9" cy="572.6" r="5"/><circle cx="854.8" cy="582.0" r="5"/><circle cx="847.9" cy="567.4" r="5"/><circle cx="850.7" cy="573.4" r="5"/><circle cx="847.2" cy="575.9" r="5"/><circle cx="843.1" cy="580.4" r="5"/><circle cx="862.2" cy="582.1" r="5"/><circle cx="853.4" cy="571.7" r="5"/><circle cx="865.5" cy="579.7" r="5"/><circle cx="855.9" cy="585.7" r="5"/><circle cx="855.1" cy="586.7" r="5"/><circle cx="860.8" cy="577.6" r="5"/><circle cx="863.8" cy="578.8" r="5"/><circle cx="845.8" cy="569.9" r="5"/><circle cx="864.7" cy="582.8" r="5"/><circle cx="858.5" cy="576.9" r="5"/><circle cx="859.9" cy="579.2" r="5"/><circle cx="853.9" cy="580.4" r="5"/><circle cx="857.1" cy="582.3" r="5"/><circle cx="849.9" cy="577.5" r="5"/><circle cx="841.9" cy="598.3" r="5"/><circle cx="832.1" cy="606.6" r="5"/><circle cx="849.0" cy="607.9" r="5"/><circle cx="857.1" cy="597.7" r="5"/><circle cx="865.8" cy="600.7" r="5"/><circle cx="877.7" cy="603.0" r="5"/><circle cx="884.9" cy="601.8" r="5"/><circle cx="899.6" cy="603.9" r="5"/><circle cx="900.2" cy="604.7" r="5"/><circle cx="820.6" cy="611.0" r="5"/><circle cx="828.4" cy="614.6" r="5"/><circle cx="834.5" cy="613.8" r="5"/><circle cx="836.7" cy="606.2" r="5"/><circle cx="851.9" cy="611.2" r="5"/><circle cx="859.0" cy="604.3" r="5"/><circle cx="860.2" cy="614.2" r="5"/><circle cx="867.0" cy="606.9" r="5"/><circle cx="880.8" cy="608.2" r="5"/><circle cx="883.9" cy="612.3" r="5"/><circle cx="899.3" cy="606.8" r="5"/><circle cx="908.3" cy="606.7" r="5"/><circle cx="912.2" cy="610.2" r="5"/><circle cx="799.5" cy="620.5" r="5"/><circle cx="802.8" cy="621.9" r="5"/><circle cx="806.8" cy="621.3" r="5"/><circle cx="813.1" cy="612.4" r="5"/><circle cx="830.8" cy="619.0" r="5"/><circle cx="829.8" cy="617.1" r="5"/><circle cx="843.4" cy="621.0" r="5"/><circle cx="853.2" cy="610.9" r="5"/><circle cx="860.4" cy="610.3" r="5"/><circle cx="868.3" cy="615.8" r="5"/><circle cx="880.1" cy="615.3" r="5"/><circle cx="878.5" cy="615.3" r="5"/><circle cx="889.0" cy="618.8" r="5"/><circle cx="904.3" cy="620.8" r="5"/><circle cx="904.7" cy="618.6" r="5"/><circle cx="910.5" cy="615.5" r="5"/><circle cx="920.3" cy="618.5" r="5"/><circle cx="794.7" cy="626.4" r="5"/><circle cx="797.3" cy="622.2" r="5"/><circle cx="805.3" cy="618.9" r="5"/><circle cx="820.8" cy="623.9" r="5"/><circle cx="823.2" cy="622.1" r="5"/><circle cx="828.6" cy="619.9" r="5"/><circle cx="842.1" cy="622.3" r="5"/><circle cx="852.0" cy="620.5" r="5"/><circle cx="860.2" cy="618.8" r="5"/><circle cx="857.4" cy="623.6" r="5"/><circle cx="865.4" cy="627.3" r="5"/><circle cx="877.9" cy="628.7" r="5"/><circle cx="887.9" cy="628.7" r="5"/><circle cx="897.9" cy="618.4" r="5"/><circle cx="904.1" cy="624.8" r="5"/><circle cx="909.1" cy="626.4" r="5"/><circle cx="920.4" cy="621.7" r="5"/><circle cx="930.3" cy="619.0" r="5"/><circle cx="938.6" cy="625.3" r="5"/><circle cx="803.4" cy="630.8" r="5"/><circle cx="810.1" cy="632.2" r="5"/><circle cx="815.4" cy="626.2" r="5"/><circle cx="827.1" cy="633.4" r="5"/><circle cx="831.1" cy="626.7" r="5"/><circle cx="839.9" cy="626.0" r="5"/><circle cx="852.5" cy="625.7" r="5"/><circle cx="864.3" cy="632.0" r="5"/><circle cx="869.8" cy="632.6" r="5"/><circle cx="880.9" cy="630.7" r="5"/><circle cx="883.5" cy="631.6" r="5"/><circle cx="892.6" cy="628.1" r="5"/><circle cx="900.3" cy="633.6" r="5"/><circle cx="904.3" cy="628.3" r="5"/><circle cx="909.9" cy="630.7" r="5"/><circle cx="917.3" cy="627.7" r="5"/><circle cx="924.7" cy="630.5" r="5"/><circle cx="934.8" cy="624.2" r="5"/><circle cx="813.2" cy="637.1" r="5"/><circle cx="817.2" cy="638.1" r="5"/><circle cx="827.4" cy="632.0" r="5"/><circle cx="836.6" cy="637.8" r="5"/><circle cx="833.9" cy="632.8" r="5"/><circle cx="852.9" cy="639.4" r="5"/><circle cx="857.8" cy="634.7" r="5"/><circle cx="861.7" cy="635.7" r="5"/><circle cx="871.8" cy="642.6" r="5"/><circle cx="878.9" cy="631.5" r="5"/><circle cx="892.4" cy="636.0" r="5"/><circle cx="900.4" cy="634.1" r="5"/><circle cx="901.6" cy="631.4" r="5"/><circle cx="906.4" cy="642.1" r="5"/><circle cx="921.9" cy="637.7" r="5"/><circle cx="925.5" cy="634.6" r="5"/><circle cx="928.9" cy="642.5" r="5"/><circle cx="940.8" cy="636.7" r="5"/><circle cx="832.2" cy="638.4" r="5"/><circle cx="839.8" cy="642.4" r="5"/><circle cx="852.6" cy="644.0" r="5"/><circle cx="875.5" cy="642.7" r="5"/><circle cx="886.2" cy="648.0" r="5"/><circle cx="889.4" cy="648.4" r="5"/><circle cx="901.9" cy="648.6" r="5"/><circle cx="905.2" cy="640.8" r="5"/><circle cx="908.9" cy="647.1" r="5"/><circle cx="928.6" cy="638.8" r="5"/><circle cx="926.7" cy="649.7" r="5"/><circle cx="933.0" cy="641.3" r="5"/><circle cx="880.7" cy="646.4" r="5"/><circle cx="889.8" cy="645.9" r="5"/><circle cx="896.4" cy="644.1" r="5"/><circle cx="911.7" cy="648.9" r="5"/><circle cx="922.6" cy="651.4" r="5"/><circle cx="936.8" cy="644.3" r="5"/><circle cx="785.1" cy="617.5" r="5"/><circle cx="775.1" cy="623.5" r="5"/><circle cx="767.3" cy="634.0" r="5"/><circle cx="782.8" cy="637.6" r="5"/><circle cx="791.5" cy="633.6" r="5"/><circle cx="808.8" cy="625.3" r="5"/><circle cx="817.3" cy="626.2" r="5"/><circle cx="754.1" cy="642.4" r="5"/><circle cx="762.5" cy="647.5" r="5"/><circle cx="787.0" cy="632.2" r="5"/><circle cx="800.8" cy="639.7" r="5"/><circle cx="814.1" cy="639.0" r="5"/><circle cx="826.2" cy="643.0" r="5"/><circle cx="826.8" cy="647.4" r="5"/><circle cx="832.0" cy="636.3" r="5"/><circle cx="847.6" cy="636.8" r="5"/><circle cx="758.8" cy="657.7" r="5"/><circle cx="776.9" cy="642.8" r="5"/><circle cx="778.8" cy="646.2" r="5"/><circle cx="792.5" cy="642.4" r="5"/><circle cx="813.2" cy="656.0" r="5"/><circle cx="814.6" cy="653.8" r="5"/><circle cx="829.6" cy="648.0" r="5"/><circle cx="839.6" cy="641.5" r="5"/><circle cx="849.0" cy="655.8" r="5"/><circle cx="861.3" cy="643.7" r="5"/><circle cx="879.1" cy="643.8" r="5"/><circle cx="897.5" cy="657.3" r="5"/><circle cx="750.5" cy="659.7" r="5"/><circle cx="760.9" cy="668.0" r="5"/><circle cx="760.9" cy="653.5" r="5"/><circle cx="775.5" cy="660.1" r="5"/><circle cx="800.2" cy="667.4" r="5"/><circle cx="804.0" cy="657.6" r="5"/><circle cx="812.7" cy="659.1" r="5"/><circle cx="828.6" cy="662.7" r="5"/><circle cx="840.5" cy="660.6" r="5"/><circle cx="853.0" cy="657.5" r="5"/><circle cx="863.0" cy="654.0" r="5"/><circle cx="883.7" cy="663.8" r="5"/><circle cx="878.6" cy="654.7" r="5"/><circle cx="893.6" cy="653.8" r="5"/><circle cx="902.1" cy="658.8" r="5"/><circle cx="921.9" cy="667.5" r="5"/><circle cx="759.1" cy="662.2" r="5"/><circle cx="757.0" cy="665.8" r="5"/><circle cx="772.0" cy="675.0" r="5"/><circle cx="796.4" cy="670.1" r="5"/><circle cx="797.6" cy="663.7" r="5"/><circle cx="805.3" cy="664.6" r="5"/><circle cx="830.1" cy="673.9" r="5"/><circle cx="838.6" cy="667.2" r="5"/><circle cx="843.1" cy="669.3" r="5"/><circle cx="865.7" cy="665.5" r="5"/><circle cx="871.2" cy="667.0" r="5"/><circle cx="873.3" cy="667.4" r="5"/><circle cx="900.4" cy="665.9" r="5"/><circle cx="897.5" cy="676.5" r="5"/><circle cx="923.3" cy="673.8" r="5"/><circle cx="750.8" cy="682.8" r="5"/><circle cx="756.1" cy="676.7" r="5"/><circle cx="778.0" cy="673.3" r="5"/><circle cx="790.4" cy="681.7" r="5"/><circle cx="802.3" cy="675.0" r="5"/><circle cx="802.6" cy="678.2" r="5"/><circle cx="816.6" cy="680.1" r="5"/><circle cx="819.4" cy="674.3" r="5"/><circle cx="836.7" cy="684.7" r="5"/><circle cx="851.3" cy="671.7" r="5"/><circle cx="861.9" cy="670.1" r="5"/><circle cx="870.5" cy="680.3" r="5"/><circle cx="888.6" cy="687.8" r="5"/><circle cx="902.2" cy="677.9" r="5"/><circle cx="916.6" cy="684.3" r="5"/><circle cx="913.0" cy="677.7" r="5"/><circle cx="759.9" cy="691.6" r="5"/><circle cx="765.7" cy="687.4" r="5"/><circle cx="782.3" cy="694.2" r="5"/><circle cx="796.7" cy="681.7" r="5"/><circle cx="806.8" cy="687.7" r="5"/><circle cx="820.0" cy="681.5" r="5"/><circle cx="831.3" cy="697.0" r="5"/><circle cx="835.3" cy="682.4" r="5"/><circle cx="848.3" cy="689.0" r="5"/><circle cx="864.8" cy="680.9" r="5"/><circle cx="873.5" cy="682.7" r="5"/><circle cx="889.2" cy="684.6" r="5"/><circle cx="900.4" cy="687.0" r="5"/><circle cx="909.3" cy="684.7" r="5"/><circle cx="925.5" cy="687.0" r="5"/><circle cx="752.1" cy="694.3" r="5"/><circle cx="755.1" cy="702.6" r="5"/><circle cx="764.2" cy="702.8" r="5"/><circle cx="777.8" cy="691.4" r="5"/><circle cx="787.7" cy="703.6" r="5"/><circle cx="809.0" cy="702.4" r="5"/><circle cx="814.3" cy="707.3" r="5"/><circle cx="833.9" cy="700.6" r="5"/><circle cx="842.2" cy="705.3" r="5"/><circle cx="851.7" cy="690.7" r="5"/><circle cx="859.8" cy="699.9" r="5"/><circle cx="870.8" cy="690.8" r="5"/><circle cx="889.8" cy="699.8" r="5"/><circle cx="893.5" cy="700.8" r="5"/><circle cx="907.4" cy="708.0" r="5"/><circle cx="922.5" cy="697.9" r="5"/><circle cx="756.9" cy="703.1" r="5"/><circle cx="771.2" cy="709.6" r="5"/><circle cx="784.5" cy="704.0" r="5"/><circle cx="788.8" cy="715.2" r="5"/><circle cx="804.4" cy="701.0" r="5"/><circle cx="805.3" cy="705.9" r="5"/><circle cx="820.7" cy="709.1" r="5"/><circle cx="830.2" cy="715.7" r="5"/><circle cx="855.0" cy="718.1" r="5"/><circle cx="851.3" cy="708.7" r="5"/><circle cx="875.8" cy="715.2" r="5"/><circle cx="872.2" cy="703.7" r="5"/><circle cx="893.4" cy="702.0" r="5"/><circle cx="904.4" cy="701.4" r="5"/><circle cx="922.3" cy="709.7" r="5"/><circle cx="775.1" cy="723.3" r="5"/><circle cx="782.5" cy="722.9" r="5"/><circle cx="793.1" cy="725.5" r="5"/><circle cx="811.4" cy="711.8" r="5"/><circle cx="809.7" cy="727.1" r="5"/><circle cx="819.5" cy="719.8" r="5"/><circle cx="831.5" cy="718.8" r="5"/><circle cx="854.4" cy="723.6" r="5"/><circle cx="859.6" cy="724.6" r="5"/><circle cx="869.0" cy="725.0" r="5"/><circle cx="877.7" cy="714.6" r="5"/><circle cx="771.6" cy="730.6" r="5"/><circle cx="770.6" cy="726.6" r="5"/><circle cx="781.5" cy="723.1" r="5"/><circle cx="799.5" cy="724.3" r="5"/><circle cx="814.2" cy="732.8" r="5"/><circle cx="830.6" cy="729.5" r="5"/><circle cx="826.8" cy="722.6" r="5"/><circle cx="841.8" cy="720.8" r="5"/><circle cx="865.9" cy="726.7" r="5"/><circle cx="767.2" cy="740.8" r="5"/><circle cx="777.0" cy="743.3" r="5"/><circle cx="795.8" cy="746.1" r="5"/><circle cx="807.6" cy="733.1" r="5"/><circle cx="820.3" cy="742.8" r="5"/><circle cx="820.0" cy="741.2" r="5"/><circle cx="846.2" cy="740.0" r="5"/><circle cx="800.4" cy="743.9" r="5"/><circle cx="823.0" cy="744.7" r="5"/><circle cx="838.5" cy="743.6" r="5"/><circle cx="945.9" cy="507.6" r="5"/><circle cx="979.3" cy="499.8" r="5"/><circle cx="994.8" cy="506.5" r="5"/><circle cx="997.4" cy="498.4" r="5"/><circle cx="936.7" cy="506.1" r="5"/><circle cx="945.8" cy="516.5" r="5"/><circle cx="960.6" cy="518.9" r="5"/><circle cx="981.2" cy="509.2" r="5"/><circle cx="934.6" cy="517.3" r="5"/><circle cx="956.0" cy="515.7" r="5"/><circle cx="968.7" cy="521.6" r="5"/><circle cx="981.2" cy="527.5" r="5"/><circle cx="996.9" cy="527.8" r="5"/><circle cx="999.4" cy="519.4" r="5"/><circle cx="948.0" cy="537.0" r="5"/><circle cx="959.4" cy="535.1" r="5"/><circle cx="974.9" cy="541.0" r="5"/><circle cx="975.9" cy="527.6" r="5"/><circle cx="1001.9" cy="524.6" r="5"/><circle cx="952.1" cy="554.7" r="5"/><circle cx="972.0" cy="543.7" r="5"/><circle cx="982.4" cy="537.1" r="5"/><circle cx="990.3" cy="550.9" r="5"/><circle cx="1010.0" cy="545.6" r="5"/><circle cx="959.1" cy="558.6" r="5"/><circle cx="975.3" cy="555.8" r="5"/><circle cx="994.4" cy="555.2" r="5"/><circle cx="1009.1" cy="560.7" r="5"/><circle cx="963.3" cy="566.4" r="5"/><circle cx="984.9" cy="570.8" r="5"/><circle cx="982.0" cy="571.6" r="5"/><circle cx="1005.7" cy="561.2" r="5"/><circle cx="1003.6" cy="569.6" r="5"/><circle cx="708.3" cy="649.0" r="5"/><circle cx="1049.0" cy="573.3" r="5"/><circle cx="665.0" cy="501.7" r="5"/><circle cx="698.3" cy="493.3" r="5"/><circle cx="698.3" cy="547.3" r="5"/><circle cx="713.3" cy="465.0" r="5"/><circle cx="738.3" cy="666.7" r="5"/><circle cx="758.3" cy="734.3" r="5"/><circle cx="776.7" cy="746.7" r="5"/><circle cx="796.7" cy="746.7" r="5"/><circle cx="793.3" cy="743.3" r="5"/><circle cx="703.3" cy="758.3" r="5"/><circle cx="936.7" cy="603.3" r="5"/><circle cx="940.0" cy="601.7" r="5"/><circle cx="936.7" cy="621.7" r="5"/><circle cx="940.0" cy="638.3" r="5"/><circle cx="943.3" cy="640.0" r="5"/><circle cx="913.3" cy="586.7" r="5"/><circle cx="876.7" cy="591.7" r="5"/><circle cx="903.3" cy="553.3" r="5"/><circle cx="1016.7" cy="512.7" r="5"/><circle cx="1071.7" cy="539.0" r="5"/><circle cx="1051.7" cy="528.3" r="5"/><circle cx="1068.3" cy="527.3" r="5"/><circle cx="1148.9" cy="490.5" r="5"/><circle cx="1166.3" cy="472.5" r="5"/><circle cx="1161.4" cy="470.1" r="5"/><circle cx="1161.9" cy="469.1" r="5"/><circle cx="1152.7" cy="478.0" r="5"/><circle cx="1153.6" cy="467.8" r="5"/><circle cx="1156.6" cy="480.1" r="5"/><circle cx="1153.1" cy="473.3" r="5"/><circle cx="1161.9" cy="478.2" r="5"/><circle cx="1150.0" cy="488.6" r="5"/><circle cx="1151.8" cy="488.4" r="5"/><circle cx="1151.6" cy="488.7" r="5"/><circle cx="1154.1" cy="483.8" r="5"/><circle cx="1156.9" cy="487.8" r="5"/><circle cx="1149.4" cy="478.7" r="5"/><circle cx="1147.4" cy="474.7" r="5"/><circle cx="1152.5" cy="476.2" r="5"/><circle cx="1147.7" cy="484.7" r="5"/><circle cx="1183.3" cy="451.7" r="5"/><circle cx="1180.0" cy="456.7" r="5"/><circle cx="1174.2" cy="465.0" r="5"/><circle cx="1153.3" cy="461.7" r="5"/></g>
<g fill="#FF9E4A" fill-opacity="0.6" stroke="#FF9E4A" stroke-opacity="0.6" stroke-width="2"><circle cx="721.0" cy="110.3" r="5"/><circle cx="750.0" cy="115.1" r="5"/><circle cx="746.8" cy="95.4" r="5"/><circle cx="660.3" cy="123.0" r="5"/><circle cx="700.6" cy="103.6" r="5"/><circle cx="700.8" cy="81.7" r="5"/><circle cx="704.9" cy="87.1" r="5"/><circle cx="671.3" cy="119.5" r="5"/><circle cx="714.3" cy="114.5" r="5"/><circle cx="715.2" cy="107.3" r="5"/><circle cx="724.9" cy="129.5" r="5"/><circle cx="692.3" cy="62.7" r="5"/><circle cx="717.6" cy="121.5" r="5"/><circle cx="734.9" cy="107.3" r="5"/><circle cx="704.1" cy="61.2" r="5"/><circle cx="707.5" cy="63.5" r="5"/><circle cx="662.4" cy="116.0" r="5"/><circle cx="732.4" cy="119.4" r="5"/><circle cx="691.5" cy="68.2" r="5"/><circle cx="696.4" cy="110.8" r="5"/><circle cx="723.7" cy="80.3" r="5"/><circle cx="716.7" cy="67.5" r="5"/><circle cx="711.2" cy="84.7" r="5"/><circle cx="700.3" cy="115.3" r="5"/><circle cx="732.7" cy="78.7" r="5"/><circle cx="721.0" cy="81.3" r="5"/><circle cx="689.8" cy="104.8" r="5"/><circle cx="648.7" cy="109.1" r="5"/><circle cx="726.3" cy="119.2" r="5"/><circle cx="710.9" cy="119.6" r="5"/><circle cx="714.1" cy="84.1" r="5"/><circle cx="671.8" cy="117.2" r="5"/><circle cx="723.6" cy="74.0" r="5"/><circle cx="681.4" cy="110.4" r="5"/><circle cx="713.3" cy="127.5" r="5"/><circle cx="701.4" cy="103.9" r="5"/><circle cx="722.8" cy="97.9" r="5"/><circle cx="709.4" cy="125.9" r="5"/><circle cx="748.1" cy="86.3" r="5"/><circle cx="717.3" cy="126.6" r="5"/><circle cx="706.9" cy="95.3" r="5"/><circle cx="690.0" cy="122.9" r="5"/><circle cx="717.9" cy="124.5" r="5"/><circle cx="664.1" cy="118.6" r="5"/><circle cx="692.1" cy="121.7" r="5"/><circle cx="651.0" cy="117.4" r="5"/><circle cx="683.4" cy="104.2" r="5"/><circle cx="729.7" cy="116.9" r="5"/><circle cx="683.8" cy="112.6" r="5"/><circle cx="684.4" cy="108.7" r="5"/><circle cx="687.1" cy="98.0" r="5"/><circle cx="696.0" cy="116.6" r="5"/><circle cx="742.9" cy="108.0" r="5"/><circle cx="699.1" cy="110.8" r="5"/><circle cx="727.5" cy="79.7" r="5"/><circle cx="722.3" cy="124.8" r="5"/><circle cx="664.7" cy="102.4" r="5"/><circle cx="722.5" cy="104.8" r="5"/><circle cx="694.4" cy="76.9" r="5"/><circle cx="674.2" cy="122.2" r="5"/><circle cx="697.4" cy="84.3" r="5"/><circle cx="718.1" cy="107.9" r="5"/><circle cx="693.1" cy="138.4" r="5"/><circle cx="699.0" cy="64.2" r="5"/><circle cx="705.3" cy="70.6" r="5"/><circle cx="728.8" cy="130.0" r="5"/><circle cx="729.2" cy="101.2" r="5"/><circle cx="690.3" cy="136.4" r="5"/><circle cx="739.4" cy="107.6" r="5"/><circle cx="700.7" cy="107.4" r="5"/><circle cx="681.6" cy="117.3" r="5"/><circle cx="711.6" cy="126.9" r="5"/><circle cx="700.5" cy="84.2" r="5"/><circle cx="656.0" cy="106.8" r="5"/><circle cx="736.2" cy="127.0" r="5"/><circle cx="719.7" cy="106.2" r="5"/><circle cx="681.8" cy="84.1" r="5"/><circle cx="717.1" cy="85.7" r="5"/><circle cx="664.4" cy="83.7" r="5"/><circle cx="708.1" cy="76.5" r="5"/><circle cx="740.6" cy="111.6" r="5"/><circle cx="662.2" cy="99.8" r="5"/><circle cx="680.4" cy="84.2" r="5"/><circle cx="731.3" cy="122.7" r="5"/><circle cx="723.6" cy="99.1" r="5"/><circle cx="722.2" cy="125.7" r="5"/><circle cx="660.9" cy="101.1" r="5"/><circle cx="652.7" cy="106.6" r="5"/><circle cx="715.8" cy="91.6" r="5"/><circle cx="661.8" cy="125.8" r="5"/><circle cx="683.6" cy="114.0" r="5"/><circle cx="722.5" cy="117.4" r="5"/><circle cx="688.6" cy="102.1" r="5"/><circle cx="663.8" cy="97.2" r="5"/><circle cx="750.1" cy="101.2" r="5"/><circle cx="686.6" cy="117.3" r="5"/><circle cx="676.1" cy="89.4" r="5"/><circle cx="677.9" cy="90.4" r="5"/><circle cx="693.3" cy="87.0" r="5"/><circle cx="735.9" cy="108.7" r="5"/><circle cx="693.4" cy="70.0" r="5"/><circle cx="678.3" cy="101.7" r="5"/><circle cx="704.2" cy="70.0" r="5"/><circle cx="754.0" cy="111.4" r="5"/><circle cx="657.0" cy="106.2" r="5"/><circle cx="722.6" cy="117.2" r="5"/><circle cx="670.3" cy="84.5" r="5"/><circle cx="693.2" cy="134.7" r="5"/><circle cx="647.0" cy="108.0" r="5"/><circle cx="727.0" cy="128.8" r="5"/><circle cx="683.0" cy="116.1" r="5"/><circle cx="703.5" cy="103.8" r="5"/><circle cx="721.7" cy="111.1" r="5"/><circle cx="660.8" cy="94.9" r="5"/><circle cx="730.6" cy="113.3" r="5"/><circle cx="668.8" cy="119.7" r="5"/><circle cx="675.2" cy="69.5" r="5"/><circle cx="656.7" cy="121.6" r="5"/><circle cx="724.0" cy="105.3" r="5"/><circle cx="692.4" cy="67.8" r="5"/><circle cx="682.4" cy="79.0" r="5"/><circle cx="723.2" cy="112.5" r="5"/><circle cx="714.3" cy="94.3" r="5"/><circle cx="743.6" cy="117.6" r="5"/><circle cx="679.2" cy="68.1" r="5"/><circle cx="695.5" cy="89.0" r="5"/><circle cx="755.4" cy="123.0" r="5"/><circle cx="753.0" cy="124.1" r="5"/><circle cx="738.1" cy="95.7" r="5"/><circle cx="692.5" cy="135.1" r="5"/><circle cx="753.9" cy="91.5" r="5"/><circle cx="715.9" cy="75.9" r="5"/><circle cx="754.9" cy="111.6" r="5"/><circle cx="676.8" cy="103.2" r="5"/><circle cx="704.2" cy="101.5" r="5"/><circle cx="711.1" cy="84.0" r="5"/><circle cx="758.5" cy="112.1" r="5"/><circle cx="664.4" cy="85.8" r="5"/><circle cx="646.5" cy="113.8" r="5"/><circle cx="747.1" cy="90.1" r="5"/><circle cx="669.7" cy="84.6" r="5"/><circle cx="659.3" cy="102.9" r="5"/><circle cx="685.8" cy="127.0" r="5"/><circle cx="718.7" cy="91.4" r="5"/><circle cx="674.9" cy="102.0" r="5"/><circle cx="677.4" cy="99.6" r="5"/><circle cx="687.4" cy="92.4" r="5"/><circle cx="665.8" cy="128.5" r="5"/><circle cx="716.3" cy="108.1" r="5"/><circle cx="696.9" cy="61.3" r="5"/><circle cx="725.4" cy="122.7" r="5"/><circle cx="745.0" cy="110.9" r="5"/><circle cx="734.1" cy="115.7" r="5"/><circle cx="701.0" cy="125.6" r="5"/><circle cx="676.3" cy="96.5" r="5"/><circle cx="684.6" cy="136.6" r="5"/><circle cx="741.6" cy="118.9" r="5"/><circle cx="682.9" cy="94.6" r="5"/><circle cx="705.7" cy="115.1" r="5"/><circle cx="722.2" cy="129.6" r="5"/><circle cx="711.1" cy="110.2" r="5"/><circle cx="703.5" cy="120.8" r="5"/><circle cx="716.2" cy="128.0" r="5"/><circle cx="678.9" cy="93.3" r="5"/><circle cx="673.1" cy="84.2" r="5"/><circle cx="710.6" cy="75.0" r="5"/><circle cx="683.0" cy="80.4" r="5"/><circle cx="691.3" cy="79.4" r="5"/><circle cx="699.2" cy="93.5" r="5"/><circle cx="701.8" cy="88.6" r="5"/><circle cx="694.9" cy="125.7" r="5"/><circle cx="734.5" cy="99.4" r="5"/><circle cx="710.4" cy="90.0" r="5"/><circle cx="691.6" cy="68.6" r="5"/><circle cx="664.7" cy="84.2" r="5"/><circle cx="671.7" cy="120.9" r="5"/><circle cx="683.3" cy="83.1" r="5"/><circle cx="698.1" cy="82.1" r="5"/><circle cx="715.4" cy="132.8" r="5"/><circle cx="707.5" cy="132.6" r="5"/><circle cx="672.7" cy="89.0" r="5"/><circle cx="739.9" cy="90.0" r="5"/><circle cx="738.4" cy="108.6" r="5"/><circle cx="728.5" cy="128.3" r="5"/><circle cx="734.9" cy="75.9" r="5"/><circle cx="720.0" cy="74.3" r="5"/><circle cx="690.6" cy="61.6" r="5"/><circle cx="720.5" cy="89.5" r="5"/><circle cx="672.3" cy="107.9" r="5"/><circle cx="706.9" cy="65.7" r="5"/><circle cx="713.6" cy="99.4" r="5"/><circle cx="659.3" cy="124.1" r="5"/><circle cx="681.4" cy="64.8" r="5"/><circle cx="708.4" cy="62.0" r="5"/><circle cx="668.5" cy="94.5" r="5"/><circle cx="701.9" cy="117.8" r="5"/><circle cx="685.8" cy="94.7" r="5"/><circle cx="688.0" cy="75.9" r="5"/><circle cx="664.9" cy="100.3" r="5"/><circle cx="693.4" cy="106.1" r="5"/><circle cx="732.0" cy="125.5" r="5"/><circle cx="682.9" cy="131.3" r="5"/><circle cx="670.3" cy="131.2" r="5"/><circle cx="686.3" cy="96.9" r="5"/><circle cx="699.1" cy="120.3" r="5"/><circle cx="696.8" cy="137.9" r="5"/><circle cx="710.5" cy="74.3" r="5"/><circle cx="684.3" cy="82.5" r="5"/><circle cx="681.1" cy="87.4" r="5"/><circle cx="695.3" cy="114.3" r="5"/><circle cx="674.7" cy="87.7" r="5"/><circle cx="670.4" cy="77.5" r="5"/><circle cx="686.1" cy="96.9" r="5"/><circle cx="729.4" cy="129.4" r="5"/><circle cx="701.6" cy="89.4" r="5"/><circle cx="672.2" cy="87.2" r="5"/><circle cx="722.5" cy="74.6" r="5"/><circle cx="661.7" cy="122.8" r="5"/><circle cx="720.8" cy="68.1" r="5"/><circle cx="675.0" cy="72.0" r="5"/><circle cx="692.1" cy="138.1" r="5"/><circle cx="662.3" cy="94.0" r="5"/><circle cx="655.5" cy="106.1" r="5"/><circle cx="691.4" cy="101.0" r="5"/><circle cx="696.3" cy="117.6" r="5"/><circle cx="652.3" cy="102.8" r="5"/><circle cx="695.0" cy="99.9" r="5"/><circle cx="718.2" cy="97.4" r="5"/><circle cx="665.3" cy="118.5" r="5"/><circle cx="708.9" cy="91.1" r="5"/><circle cx="688.4" cy="90.7" r="5"/><circle cx="662.6" cy="111.8" r="5"/><circle cx="679.5" cy="105.8" r="5"/><circle cx="705.9" cy="69.0" r="5"/><circle cx="668.0" cy="82.0" r="5"/><circle cx="676.0" cy="87.0" r="5"/><circle cx="684.7" cy="120.0" r="5"/><circle cx="698.6" cy="73.5" r="5"/><circle cx="650.1" cy="113.4" r="5"/><circle cx="711.9" cy="69.5" r="5"/><circle cx="694.6" cy="138.1" r="5"/><circle cx="744.9" cy="85.1" r="5"/><circle cx="718.1" cy="86.1" r="5"/><circle cx="701.4" cy="62.0" r="5"/><circle cx="694.1" cy="81.8" r="5"/><circle cx="684.9" cy="100.8" r="5"/><circle cx="735.6" cy="107.8" r="5"/><circle cx="733.1" cy="77.9" r="5"/><circle cx="735.6" cy="84.0" r="5"/><circle cx="664.9" cy="109.5" r="5"/><circle cx="679.7" cy="115.7" r="5"/><circle cx="675.8" cy="108.8" r="5"/><circle cx="694.0" cy="118.9" r="5"/><circle cx="710.6" cy="95.9" r="5"/><circle cx="685.4" cy="123.5" r="5"/><circle cx="672.1" cy="114.3" r="5"/><circle cx="737.2" cy="127.9" r="5"/><circle cx="684.0" cy="132.2" r="5"/><circle cx="692.7" cy="117.0" r="5"/><circle cx="692.3" cy="115.9" r="5"/><circle cx="696.9" cy="123.8" r="5"/><circle cx="703.4" cy="109.8" r="5"/><circle cx="686.7" cy="129.3" r="5"/><circle cx="684.5" cy="66.5" r="5"/><circle cx="689.0" cy="84.2" r="5"/><circle cx="679.3" cy="103.8" r="5"/><circle cx="718.9" cy="115.6" r="5"/><circle cx="662.8" cy="112.6" r="5"/><circle cx="705.9" cy="93.2" r="5"/><circle cx="699.9" cy="87.0" r="5"/><circle cx="673.4" cy="117.7" r="5"/><circle cx="665.5" cy="104.1" r="5"/><circle cx="680.6" cy="80.8" r="5"/><circle cx="742.7" cy="118.9" r="5"/><circle cx="723.2" cy="123.6" r="5"/><circle cx="682.2" cy="120.2" r="5"/><circle cx="662.8" cy="82.6" r="5"/><circle cx="673.1" cy="98.5" r="5"/><circle cx="662.9" cy="97.7" r="5"/><circle cx="698.8" cy="98.6" r="5"/><circle cx="696.9" cy="79.0" r="5"/><circle cx="674.5" cy="109.5" r="5"/><circle cx="678.4" cy="97.2" r="5"/><circle cx="706.6" cy="94.0" r="5"/><circle cx="744.7" cy="88.7" r="5"/><circle cx="718.8" cy="125.3" r="5"/><circle cx="723.8" cy="78.6" r="5"/><circle cx="672.5" cy="81.2" r="5"/><circle cx="683.9" cy="95.2" r="5"/><circle cx="676.4" cy="71.9" r="5"/><circle cx="660.8" cy="120.2" r="5"/><circle cx="678.3" cy="79.3" r="5"/><circle cx="717.2" cy="63.4" r="5"/><circle cx="722.5" cy="108.4" r="5"/><circle cx="691.8" cy="89.0" r="5"/><circle cx="708.9" cy="126.5" r="5"/><circle cx="690.2" cy="63.5" r="5"/><circle cx="681.0" cy="116.8" r="5"/><circle cx="732.4" cy="107.1" r="5"/><circle cx="732.2" cy="108.0" r="5"/><circle cx="689.1" cy="132.0" r="5"/><circle cx="725.5" cy="74.0" r="5"/><circle cx="727.6" cy="130.1" r="5"/><circle cx="755.8" cy="111.6" r="5"/><circle cx="677.7" cy="106.3" r="5"/><circle cx="703.7" cy="108.3" r="5"/><circle cx="692.6" cy="67.7" r="5"/><circle cx="686.7" cy="122.9" r="5"/><circle cx="679.4" cy="128.9" r="5"/><circle cx="706.5" cy="82.0" r="5"/><circle cx="675.0" cy="113.8" r="5"/><circle cx="694.5" cy="113.8" r="5"/><circle cx="749.8" cy="112.7" r="5"/><circle cx="720.2" cy="64.3" r="5"/><circle cx="665.2" cy="115.2" r="5"/><circle cx="679.9" cy="122.2" r="5"/><circle cx="651.7" cy="117.6" r="5"/><circle cx="724.6" cy="80.1" r="5"/><circle cx="662.2" cy="121.5" r="5"/><circle cx="707.0" cy="85.2" r="5"/><circle cx="701.2" cy="106.6" r="5"/><circle cx="672.8" cy="112.3" r="5"/><circle cx="700.0" cy="110.8" r="5"/><circle cx="698.1" cy="103.2" r="5"/><circle cx="692.1" cy="79.2" r="5"/><circle cx="749.8" cy="120.5" r="5"/><circle cx="682.5" cy="88.0" r="5"/><circle cx="681.3" cy="84.1" r="5"/><circle cx="705.9" cy="131.6" r="5"/><circle cx="678.0" cy="105.9" r="5"/><circle cx="668.8" cy="84.0" r="5"/><circle cx="727.6" cy="69.1" r="5"/><circle cx="731.4" cy="127.0" r="5"/><circle cx="707.3" cy="116.5" r="5"/><circle cx="743.5" cy="117.0" r="5"/><circle cx="679.9" cy="74.5" r="5"/><circle cx="660.1" cy="98.7" r="5"/><circle cx="677.3" cy="67.4" r="5"/><circle cx="675.2" cy="74.7" r="5"/><circle cx="695.8" cy="71.8" r="5"/><circle cx="704.2" cy="123.6" r="5"/><circle cx="650.9" cy="118.2" r="5"/><circle cx="703.6" cy="111.7" r="5"/><circle cx="711.1" cy="132.1" r="5"/><circle cx="685.1" cy="129.3" r="5"/><circle cx="718.2" cy="126.7" r="5"/><circle cx="748.9" cy="93.5" r="5"/><circle cx="737.3" cy="113.7" r="5"/><circle cx="707.5" cy="117.8" r="5"/><circle cx="668.2" cy="113.8" r="5"/><circle cx="691.3" cy="71.5" r="5"/><circle cx="690.3" cy="116.9" r="5"/><circle cx="668.7" cy="107.7" r="5"/><circle cx="699.3" cy="122.3" r="5"/><circle cx="706.8" cy="72.7" r="5"/><circle cx="744.8" cy="118.9" r="5"/><circle cx="679.2" cy="64.8" r="5"/><circle cx="708.1" cy="98.8" r="5"/><circle cx="716.3" cy="79.9" r="5"/><circle cx="731.7" cy="110.3" r="5"/><circle cx="743.7" cy="90.4" r="5"/><circle cx="686.4" cy="138.2" r="5"/><circle cx="668.0" cy="115.1" r="5"/><circle cx="716.5" cy="67.8" r="5"/><circle cx="755.1" cy="93.4" r="5"/><circle cx="703.2" cy="65.0" r="5"/><circle cx="665.9" cy="106.5" r="5"/><circle cx="700.9" cy="72.9" r="5"/><circle cx="716.0" cy="72.2" r="5"/><circle cx="735.1" cy="96.2" r="5"/><circle cx="675.3" cy="72.8" r="5"/><circle cx="702.9" cy="118.8" r="5"/><circle cx="752.2" cy="120.5" r="5"/><circle cx="703.7" cy="136.3" r="5"/><circle cx="711.5" cy="126.0" r="5"/><circle cx="717.0" cy="133.6" r="5"/><circle cx="653.0" cy="119.7" r="5"/><circle cx="751.9" cy="99.2" r="5"/><circle cx="735.1" cy="121.2" r="5"/><circle cx="685.7" cy="82.1" r="5"/><circle cx="716.3" cy="110.6" r="5"/><circle cx="732.4" cy="120.4" r="5"/><circle cx="673.7" cy="93.9" r="5"/><circle cx="720.0" cy="73.1" r="5"/><circle cx="728.6" cy="74.3" r="5"/><circle cx="689.7" cy="135.6" r="5"/><circle cx="726.4" cy="95.6" r="5"/><circle cx="742.8" cy="106.3" r="5"/><circle cx="651.2" cy="115.3" r="5"/><circle cx="660.7" cy="125.1" r="5"/><circle cx="662.2" cy="103.0" r="5"/><circle cx="713.5" cy="98.7" r="5"/><circle cx="657.3" cy="117.0" r="5"/><circle cx="736.3" cy="74.0" r="5"/><circle cx="704.5" cy="102.2" r="5"/><circle cx="681.9" cy="72.0" r="5"/><circle cx="680.7" cy="106.2" r="5"/><circle cx="705.1" cy="123.7" r="5"/><circle cx="731.1" cy="96.0" r="5"/><circle cx="657.1" cy="119.9" r="5"/><circle cx="653.6" cy="100.5" r="5"/><circle cx="742.6" cy="85.8" r="5"/><circle cx="671.1" cy="124.2" r="5"/><circle cx="701.0" cy="89.5" r="5"/><circle cx="662.6" cy="74.7" r="5"/><circle cx="688.9" cy="96.9" r="5"/><circle cx="686.5" cy="120.6" r="5"/><circle cx="749.3" cy="89.5" r="5"/><circle cx="745.0" cy="83.1" r="5"/><circle cx="717.8" cy="67.5" r="5"/><circle cx="720.9" cy="70.4" r="5"/><circle cx="671.5" cy="107.9" r="5"/><circle cx="665.9" cy="105.2" r="5"/><circle cx="703.4" cy="107.7" r="5"/><circle cx="701.9" cy="88.2" r="5"/><circle cx="729.3" cy="126.6" r="5"/><circle cx="722.8" cy="82.7" r="5"/><circle cx="744.6" cy="121.5" r="5"/><circle cx="690.5" cy="72.8" r="5"/><circle cx="694.4" cy="129.4" r="5"/><circle cx="674.7" cy="125.5" r="5"/><circle cx="689.6" cy="89.3" r="5"/><circle cx="748.0" cy="97.6" r="5"/><circle cx="755.2" cy="121.7" r="5"/><circle cx="697.3" cy="137.6" r="5"/><circle cx="743.9" cy="104.8" r="5"/><circle cx="699.1" cy="104.1" r="5"/><circle cx="715.6" cy="71.2" r="5"/><circle cx="730.6" cy="85.3" r="5"/><circle cx="726.8" cy="108.0" r="5"/><circle cx="696.2" cy="66.3" r="5"/><circle cx="739.5" cy="101.6" r="5"/><circle cx="702.1" cy="59.0" r="5"/><circle cx="749.0" cy="96.3" r="5"/><circle cx="705.1" cy="118.0" r="5"/><circle cx="686.7" cy="138.0" r="5"/><circle cx="721.5" cy="94.2" r="5"/><circle cx="666.8" cy="84.6" r="5"/><circle cx="713.8" cy="132.3" r="5"/><circle cx="745.6" cy="99.8" r="5"/><circle cx="708.4" cy="108.9" r="5"/><circle cx="729.5" cy="97.3" r="5"/><circle cx="688.5" cy="80.8" r="5"/><circle cx="696.8" cy="129.0" r="5"/><circle cx="661.6" cy="90.2" r="5"/><circle cx="727.5" cy="122.9" r="5"/><circle cx="655.8" cy="102.4" r="5"/><circle cx="708.3" cy="99.7" r="5"/><circle cx="670.9" cy="124.4" r="5"/><circle cx="727.6" cy="130.3" r="5"/><circle cx="638.1" cy="132.7" r="5"/><circle cx="648.5" cy="121.7" r="5"/><circle cx="628.5" cy="154.7" r="5"/><circle cx="635.9" cy="147.1" r="5"/><circle cx="652.6" cy="135.2" r="5"/><circle cx="639.0" cy="159.5" r="5"/><circle cx="643.3" cy="125.1" r="5"/><circle cx="653.0" cy="157.3" r="5"/><circle cx="662.7" cy="137.2" r="5"/><circle cx="631.4" cy="127.7" r="5"/><circle cx="648.1" cy="132.5" r="5"/><circle cx="655.8" cy="158.9" r="5"/><circle cx="642.3" cy="140.3" r="5"/><circle cx="629.0" cy="141.7" r="5"/><circle cx="639.4" cy="129.8" r="5"/><circle cx="646.8" cy="125.2" r="5"/><circle cx="639.1" cy="131.4" r="5"/><circle cx="656.5" cy="145.4" r="5"/><circle cx="645.8" cy="121.0" r="5"/><circle cx="634.2" cy="139.9" r="5"/><circle cx="644.5" cy="116.8" r="5"/><circle cx="653.2" cy="166.8" r="5"/><circle cx="638.8" cy="164.5" r="5"/><circle cx="626.2" cy="137.6" r="5"/><circle cx="659.0" cy="142.6" r="5"/><circle cx="632.1" cy="157.4" r="5"/><circle cx="636.2" cy="124.0" r="5"/><circle cx="646.7" cy="121.9" r="5"/><circle cx="648.3" cy="145.3" r="5"/><circle cx="645.5" cy="143.5" r="5"/><circle cx="653.5" cy="128.4" r="5"/><circle cx="652.2" cy="120.4" r="5"/><circle cx="648.4" cy="150.5" r="5"/><circle cx="649.0" cy="130.4" r="5"/><circle cx="636.0" cy="132.6" r="5"/><circle cx="646.8" cy="119.5" r="5"/><circle cx="665.2" cy="130.7" r="5"/><circle cx="649.8" cy="137.5" r="5"/><circle cx="640.3" cy="119.7" r="5"/><circle cx="647.5" cy="129.3" r="5"/><circle cx="653.8" cy="121.1" r="5"/><circle cx="635.2" cy="150.9" r="5"/><circle cx="641.0" cy="136.2" r="5"/><circle cx="643.0" cy="162.6" r="5"/><circle cx="664.8" cy="132.2" r="5"/><circle cx="655.6" cy="123.7" r="5"/><circle cx="654.6" cy="162.4" r="5"/><circle cx="649.1" cy="150.5" r="5"/><circle cx="661.9" cy="155.2" r="5"/><circle cx="645.5" cy="127.4" r="5"/><circle cx="628.4" cy="138.2" r="5"/><circle cx="638.5" cy="131.5" r="5"/><circle cx="662.3" cy="146.9" r="5"/><circle cx="635.5" cy="126.3" r="5"/><circle cx="659.0" cy="141.0" r="5"/><circle cx="660.0" cy="144.0" r="5"/><circle cx="664.8" cy="143.3" r="5"/><circle cx="634.6" cy="140.8" r="5"/><circle cx="627.7" cy="137.9" r="5"/><circle cx="659.5" cy="150.1" r="5"/><circle cx="627.8" cy="138.1" r="5"/><circle cx="633.8" cy="157.1" r="5"/><circle cx="633.8" cy="147.3" r="5"/><circle cx="632.7" cy="124.8" r="5"/><circle cx="661.9" cy="144.7" r="5"/><circle cx="664.3" cy="134.5" r="5"/><circle cx="644.3" cy="126.7" r="5"/><circle cx="640.0" cy="143.3" r="5"/><circle cx="662.0" cy="147.6" r="5"/><circle cx="651.6" cy="153.9" r="5"/><circle cx="657.7" cy="155.6" r="5"/><circle cx="625.6" cy="146.2" r="5"/><circle cx="639.7" cy="147.7" r="5"/><circle cx="657.1" cy="141.9" r="5"/><circle cx="636.2" cy="127.0" r="5"/><circle cx="629.5" cy="136.2" r="5"/><circle cx="632.0" cy="138.8" r="5"/><circle cx="646.7" cy="146.4" r="5"/><circle cx="656.8" cy="156.1" r="5"/><circle cx="649.4" cy="131.5" r="5"/><circle cx="628.7" cy="152.2" r="5"/><circle cx="639.5" cy="146.6" r="5"/><circle cx="660.2" cy="130.0" r="5"/><circle cx="663.2" cy="151.3" r="5"/><circle cx="644.2" cy="160.3" r="5"/><circle cx="659.2" cy="147.9" r="5"/><circle cx="661.3" cy="155.2" r="5"/><circle cx="655.1" cy="149.0" r="5"/><circle cx="636.6" cy="123.5" r="5"/><circle cx="637.2" cy="150.3" r="5"/><circle cx="628.4" cy="147.4" r="5"/><circle cx="642.9" cy="122.5" r="5"/><circle cx="625.4" cy="142.0" r="5"/><circle cx="632.4" cy="142.3" r="5"/><circle cx="626.1" cy="136.9" r="5"/><circle cx="633.7" cy="134.7" r="5"/><circle cx="646.3" cy="148.3" r="5"/><circle cx="660.9" cy="142.7" r="5"/><circle cx="630.8" cy="161.8" r="5"/><circle cx="665.5" cy="131.2" r="5"/><circle cx="637.9" cy="127.0" r="5"/><circle cx="690.7" cy="212.7" r="5"/><circle cx="677.3" cy="198.4" r="5"/><circle cx="691.1" cy="179.8" r="5"/><circle cx="693.8" cy="185.5" r="5"/><circle cx="720.9" cy="181.5" r="5"/><circle cx="711.9" cy="173.7" r="5"/><circle cx="708.0" cy="186.6" r="5"/><circle cx="716.5" cy="184.3" r="5"/><circle cx="760.6" cy="185.1" r="5"/><circle cx="720.1" cy="167.4" r="5"/><circle cx="675.8" cy="198.1" r="5"/><circle cx="718.1" cy="179.3" r="5"/><circle cx="749.7" cy="174.8" r="5"/><circle cx="665.6" cy="163.9" r="5"/><circle cx="715.4" cy="176.7" r="5"/><circle cx="721.7" cy="204.2" r="5"/><circle cx="719.8" cy="171.5" r="5"/><circle cx="730.0" cy="161.4" r="5"/><circle cx="699.3" cy="199.5" r="5"/><circle cx="715.1" cy="207.0" r="5"/><circle cx="692.9" cy="160.8" r="5"/><circle cx="670.9" cy="172.8" r="5"/><circle cx="690.5" cy="176.0" r="5"/><circle cx="747.4" cy="163.7" r="5"/><circle cx="736.9" cy="158.6" r="5"/><circle cx="704.3" cy="192.5" r="5"/><circle cx="703.9" cy="181.0" r="5"/><circle cx="708.4" cy="192.3" r="5"/><circle cx="744.5" cy="178.9" r="5"/><circle cx="695.3" cy="200.4" r="5"/><circle cx="706.5" cy="184.7" r="5"/><circle cx="688.1" cy="157.0" r="5"/><circle cx="723.0" cy="175.2" r="5"/><circle cx="747.4" cy="175.5" r="5"/><circle cx="710.5" cy="177.5" r="5"/><circle cx="698.3" cy="200.5" r="5"/><circle cx="766.1" cy="192.0" r="5"/><circle cx="659.0" cy="187.0" r="5"/><circle cx="662.6" cy="165.4" r="5"/><circle cx="752.5" cy="192.4" r="5"/><circle cx="742.6" cy="201.9" r="5"/><circle cx="672.1" cy="193.0" r="5"/><circle cx="677.8" cy="202.8" r="5"/><circle cx="731.9" cy="172.1" r="5"/><circle cx="716.3" cy="194.4" r="5"/><circle cx="689.7" cy="147.8" r="5"/><circle cx="679.5" cy="155.2" r="5"/><circle cx="760.6" cy="192.3" r="5"/><circle cx="703.2" cy="183.7" r="5"/><circle cx="725.0" cy="171.6" r="5"/><circle cx="679.7" cy="206.3" r="5"/><circle cx="685.1" cy="188.5" r="5"/><circle cx="759.9" cy="196.1" r="5"/><circle cx="698.9" cy="184.9" r="5"/><circle cx="680.7" cy="192.0" r="5"/><circle cx="723.8" cy="187.5" r="5"/><circle cx="739.9" cy="200.6" r="5"/><circle cx="697.2" cy="195.0" r="5"/><circle cx="743.9" cy="164.3" r="5"/><circle cx="693.3" cy="209.3" r="5"/><circle cx="744.1" cy="205.8" r="5"/><circle cx="701.7" cy="191.4" r="5"/><circle cx="670.6" cy="188.2" r="5"/><circle cx="671.0" cy="187.7" r="5"/><circle cx="666.8" cy="171.7" r="5"/><circle cx="724.1" cy="161.6" r="5"/><circle cx="725.8" cy="176.5" r="5"/><circle cx="703.4" cy="193.8" r="5"/><circle cx="665.4" cy="189.3" r="5"/><circle cx="731.5" cy="207.3" r="5"/><circle cx="677.8" cy="176.1" r="5"/><circle cx="675.7" cy="174.4" r="5"/><circle cx="675.1" cy="169.6" r="5"/><circle cx="696.7" cy="171.5" r="5"/><circle cx="655.6" cy="163.6" r="5"/><circle cx="708.8" cy="169.5" r="5"/><circle cx="693.9" cy="171.9" r="5"/><circle cx="683.1" cy="154.1" r="5"/><circle cx="673.1" cy="202.5" r="5"/><circle cx="753.8" cy="191.4" r="5"/><circle cx="718.2" cy="199.0" r="5"/><circle cx="726.7" cy="185.3" r="5"/><circle cx="674.7" cy="176.0" r="5"/><circle cx="674.8" cy="190.5" r="5"/><circle cx="755.2" cy="161.5" r="5"/><circle cx="724.9" cy="174.0" r="5"/><circle cx="697.9" cy="178.9" r="5"/><circle cx="723.6" cy="161.9" r="5"/><circle cx="666.5" cy="191.8" r="5"/><circle cx="704.7" cy="197.3" r="5"/><circle cx="718.0" cy="209.8" r="5"/><circle cx="750.1" cy="184.7" r="5"/><circle cx="763.4" cy="191.0" r="5"/><circle cx="663.3" cy="168.7" r="5"/><circle cx="734.0" cy="168.8" r="5"/><circle cx="727.6" cy="166.1" r="5"/><circle cx="721.7" cy="206.4" r="5"/><circle cx="763.6" cy="194.1" r="5"/><circle cx="658.9" cy="168.7" r="5"/><circle cx="677.8" cy="203.3" r="5"/><circle cx="750.0" cy="178.5" r="5"/><circle cx="747.7" cy="159.0" r="5"/><circle cx="680.2" cy="184.9" r="5"/><circle cx="665.6" cy="156.3" r="5"/><circle cx="716.6" cy="211.4" r="5"/><circle cx="661.3" cy="194.9" r="5"/><circle cx="698.5" cy="198.5" r="5"/><circle cx="726.6" cy="193.9" r="5"/><circle cx="735.2" cy="197.0" r="5"/><circle cx="759.6" cy="196.8" r="5"/><circle cx="737.3" cy="161.1" r="5"/><circle cx="679.0" cy="168.0" r="5"/><circle cx="660.4" cy="187.3" r="5"/><circle cx="668.0" cy="172.3" r="5"/><circle cx="711.4" cy="172.9" r="5"/><circle cx="737.4" cy="202.7" r="5"/><circle cx="659.8" cy="176.6" r="5"/><circle cx="745.4" cy="173.5" r="5"/><circle cx="742.3" cy="190.3" r="5"/><circle cx="693.0" cy="160.0" r="5"/><circle cx="685.1" cy="165.2" r="5"/><circle cx="710.1" cy="202.0" r="5"/><circle cx="671.2" cy="169.3" r="5"/><circle cx="700.9" cy="213.0" r="5"/><circle cx="662.2" cy="164.9" r="5"/><circle cx="662.7" cy="193.2" r="5"/><circle cx="711.4" cy="196.1" r="5"/><circle cx="740.7" cy="171.2" r="5"/><circle cx="750.8" cy="167.3" r="5"/><circle cx="758.7" cy="192.5" r="5"/><circle cx="684.8" cy="181.6" r="5"/><circle cx="711.9" cy="199.1" r="5"/><circle cx="710.1" cy="194.0" r="5"/><circle cx="675.2" cy="178.6" r="5"/><circle cx="734.5" cy="180.7" r="5"/><circle cx="702.0" cy="171.5" r="5"/><circle cx="663.1" cy="178.9" r="5"/><circle cx="724.0" cy="170.3" r="5"/><circle cx="677.1" cy="156.6" r="5"/><circle cx="707.2" cy="172.9" r="5"/><circle cx="694.2" cy="154.4" r="5"/><circle cx="684.0" cy="201.1" r="5"/><circle cx="678.8" cy="181.6" r="5"/><circle cx="694.8" cy="171.2" r="5"/><circle cx="738.6" cy="197.8" r="5"/><circle cx="705.9" cy="167.6" r="5"/><circle cx="695.2" cy="199.2" r="5"/><circle cx="705.9" cy="173.3" r="5"/><circle cx="753.2" cy="173.1" r="5"/><circle cx="752.4" cy="201.1" r="5"/><circle cx="678.0" cy="200.8" r="5"/><circle cx="663.7" cy="197.9" r="5"/><circle cx="724.2" cy="198.7" r="5"/><circle cx="677.9" cy="174.0" r="5"/><circle cx="684.4" cy="202.7" r="5"/><circle cx="675.3" cy="193.4" r="5"/><circle cx="721.7" cy="183.2" r="5"/><circle cx="691.9" cy="184.3" r="5"/><circle cx="762.5" cy="186.7" r="5"/><circle cx="747.7" cy="194.2" r="5"/><circle cx="709.6" cy="175.9" r="5"/><circle cx="679.8" cy="175.6" r="5"/><circle cx="671.6" cy="196.3" r="5"/><circle cx="733.9" cy="198.0" r="5"/><circle cx="750.0" cy="203.9" r="5"/><circle cx="695.5" cy="169.2" r="5"/><circle cx="747.4" cy="188.0" r="5"/><circle cx="675.3" cy="165.5" r="5"/><circle cx="739.5" cy="170.7" r="5"/><circle cx="666.2" cy="177.0" r="5"/><circle cx="729.8" cy="173.1" r="5"/><circle cx="739.2" cy="158.2" r="5"/><circle cx="723.3" cy="170.4" r="5"/><circle cx="749.1" cy="203.1" r="5"/><circle cx="722.2" cy="181.0" r="5"/><circle cx="730.5" cy="176.7" r="5"/><circle cx="705.7" cy="210.5" r="5"/><circle cx="702.7" cy="177.3" r="5"/><circle cx="726.2" cy="204.7" r="5"/><circle cx="750.8" cy="184.5" r="5"/><circle cx="681.4" cy="156.0" r="5"/><circle cx="683.3" cy="189.1" r="5"/><circle cx="662.9" cy="177.5" r="5"/><circle cx="765.9" cy="187.5" r="5"/><circle cx="661.0" cy="166.1" r="5"/><circle cx="732.7" cy="181.7" r="5"/><circle cx="721.2" cy="188.6" r="5"/><circle cx="658.0" cy="178.9" r="5"/><circle cx="701.3" cy="166.5" r="5"/><circle cx="709.7" cy="200.5" r="5"/><circle cx="732.4" cy="176.3" r="5"/><circle cx="713.6" cy="201.6" r="5"/><circle cx="747.8" cy="197.4" r="5"/><circle cx="744.6" cy="165.2" r="5"/><circle cx="738.0" cy="182.3" r="5"/><circle cx="756.3" cy="174.5" r="5"/><circle cx="692.9" cy="196.5" r="5"/><circle cx="741.3" cy="169.0" r="5"/><circle cx="713.6" cy="206.8" r="5"/><circle cx="677.9" cy="153.4" r="5"/><circle cx="735.3" cy="157.8" r="5"/><circle cx="719.3" cy="193.6" r="5"/><circle cx="686.3" cy="164.5" r="5"/><circle cx="719.5" cy="166.8" r="5"/><circle cx="696.2" cy="210.3" r="5"/><circle cx="731.3" cy="173.9" r="5"/><circle cx="681.0" cy="175.5" r="5"/><circle cx="722.1" cy="167.0" r="5"/><circle cx="690.7" cy="177.2" r="5"/><circle cx="666.0" cy="179.9" r="5"/><circle cx="690.7" cy="167.5" r="5"/><circle cx="714.7" cy="168.3" r="5"/><circle cx="687.0" cy="166.1" r="5"/><circle cx="659.3" cy="170.7" r="5"/><circle cx="736.4" cy="174.8" r="5"/><circle cx="745.6" cy="179.8" r="5"/><circle cx="731.5" cy="179.0" r="5"/><circle cx="675.7" cy="177.7" r="5"/><circle cx="694.4" cy="187.9" r="5"/><circle cx="714.6" cy="197.4" r="5"/><circle cx="714.2" cy="199.5" r="5"/><circle cx="677.0" cy="169.5" r="5"/><circle cx="678.4" cy="199.9" r="5"/><circle cx="707.0" cy="187.0" r="5"/><circle cx="757.8" cy="179.7" r="5"/><circle cx="713.7" cy="171.4" r="5"/><circle cx="731.6" cy="189.0" r="5"/><circle cx="728.7" cy="206.0" r="5"/><circle cx="689.0" cy="181.7" r="5"/><circle cx="707.9" cy="209.0" r="5"/><circle cx="697.2" cy="210.1" r="5"/><circle cx="667.2" cy="165.9" r="5"/><circle cx="748.8" cy="175.8" r="5"/><circle cx="672.9" cy="154.6" r="5"/><circle cx="710.7" cy="187.1" r="5"/><circle cx="761.8" cy="191.8" r="5"/><circle cx="767.8" cy="190.0" r="5"/><circle cx="666.2" cy="179.0" r="5"/><circle cx="706.1" cy="177.0" r="5"/><circle cx="677.7" cy="183.5" r="5"/><circle cx="677.0" cy="193.3" r="5"/><circle cx="659.9" cy="190.4" r="5"/><circle cx="681.4" cy="190.6" r="5"/><circle cx="699.4" cy="184.2" r="5"/><circle cx="677.3" cy="198.1" r="5"/><circle cx="738.5" cy="206.6" r="5"/><circle cx="668.2" cy="165.5" r="5"/><circle cx="745.1" cy="169.7" r="5"/><circle cx="717.3" cy="205.2" r="5"/><circle cx="747.0" cy="200.5" r="5"/><circle cx="694.8" cy="154.0" r="5"/><circle cx="736.9" cy="208.6" r="5"/><circle cx="717.7" cy="183.3" r="5"/><circle cx="751.5" cy="185.3" r="5"/><circle cx="754.4" cy="159.0" r="5"/><circle cx="758.4" cy="180.4" r="5"/><circle cx="663.3" cy="197.2" r="5"/><circle cx="740.8" cy="196.6" r="5"/><circle cx="716.9" cy="181.1" r="5"/><circle cx="723.6" cy="187.5" r="5"/><circle cx="718.8" cy="167.2" r="5"/><circle cx="684.6" cy="168.2" r="5"/><circle cx="660.6" cy="183.1" r="5"/><circle cx="765.4" cy="193.4" r="5"/><circle cx="705.9" cy="200.4" r="5"/><circle cx="732.8" cy="209.9" r="5"/><circle cx="694.2" cy="173.7" r="5"/><circle cx="741.1" cy="165.9" r="5"/><circle cx="727.3" cy="203.0" r="5"/><circle cx="755.0" cy="179.7" r="5"/><circle cx="682.9" cy="177.3" r="5"/><circle cx="743.0" cy="169.1" r="5"/><circle cx="719.5" cy="175.3" r="5"/><circle cx="661.9" cy="158.6" r="5"/><circle cx="698.0" cy="200.5" r="5"/><circle cx="709.3" cy="199.6" r="5"/><circle cx="737.2" cy="198.0" r="5"/><circle cx="689.2" cy="179.4" r="5"/><circle cx="729.2" cy="176.0" r="5"/><circle cx="742.1" cy="171.3" r="5"/><circle cx="697.2" cy="208.6" r="5"/><circle cx="686.1" cy="157.2" r="5"/><circle cx="728.3" cy="170.3" r="5"/><circle cx="719.2" cy="194.4" r="5"/><circle cx="705.8" cy="185.5" r="5"/><circle cx="744.7" cy="194.8" r="5"/><circle cx="688.3" cy="167.3" r="5"/><circle cx="726.5" cy="207.3" r="5"/><circle cx="711.3" cy="189.6" r="5"/><circle cx="759.8" cy="187.9" r="5"/><circle cx="688.8" cy="204.4" r="5"/><circle cx="737.7" cy="208.4" r="5"/><circle cx="738.9" cy="204.0" r="5"/><circle cx="724.9" cy="204.3" r="5"/><circle cx="716.1" cy="179.8" r="5"/><circle cx="703.8" cy="167.8" r="5"/><circle cx="695.6" cy="160.0" r="5"/><circle cx="676.3" cy="152.5" r="5"/><circle cx="699.3" cy="188.9" r="5"/><circle cx="701.7" cy="176.4" r="5"/><circle cx="710.8" cy="140.3" r="5"/><circle cx="703.3" cy="145.9" r="5"/><circle cx="707.9" cy="151.5" r="5"/><circle cx="717.2" cy="148.5" r="5"/><circle cx="716.8" cy="150.0" r="5"/><circle cx="707.4" cy="229.3" r="5"/><circle cx="706.1" cy="228.3" r="5"/><circle cx="705.6" cy="219.4" r="5"/><circle cx="703.6" cy="228.4" r="5"/><circle cx="703.5" cy="229.4" r="5"/><circle cx="708.1" cy="223.3" r="5"/><circle cx="704.4" cy="224.7" r="5"/><circle cx="703.8" cy="230.1" r="5"/><circle cx="705.7" cy="223.9" r="5"/><circle cx="706.5" cy="219.5" r="5"/><circle cx="752.3" cy="248.8" r="5"/><circle cx="754.7" cy="246.6" r="5"/><circle cx="760.9" cy="243.0" r="5"/><circle cx="757.0" cy="243.1" r="5"/><circle cx="763.2" cy="242.2" r="5"/><circle cx="749.6" cy="251.3" r="5"/><circle cx="761.1" cy="244.0" r="5"/><circle cx="756.3" cy="245.9" r="5"/><circle cx="751.5" cy="249.4" r="5"/><circle cx="755.9" cy="247.5" r="5"/><circle cx="751.6" cy="247.2" r="5"/><circle cx="754.8" cy="245.2" r="5"/><circle cx="756.4" cy="244.8" r="5"/><circle cx="761.1" cy="244.6" r="5"/><circle cx="657.5" cy="67.5" r="5"/><circle cx="662.5" cy="68.8" r="5"/><circle cx="685.0" cy="53.8" r="5"/><circle cx="697.5" cy="58.8" r="5"/><circle cx="780.0" cy="111.2" r="5"/><circle cx="787.5" cy="108.0" r="5"/><circle cx="773.8" cy="99.2" r="5"/><circle cx="781.2" cy="143.8" r="5"/><circle cx="776.2" cy="160.0" r="5"/><circle cx="766.2" cy="166.2" r="5"/><circle cx="766.2" cy="210.0" r="5"/><circle cx="655.0" cy="207.5" r="5"/><circle cx="662.5" cy="203.8" r="5"/><circle cx="680.0" cy="235.0" r="5"/><circle cx="693.8" cy="227.5" r="5"/><circle cx="630.0" cy="177.5" r="5"/><circle cx="623.8" cy="160.0" r="5"/><circle cx="636.2" cy="116.2" r="5"/><circle cx="755.0" cy="127.5" r="5"/><circle cx="765.0" cy="190.0" r="5"/><circle cx="772.5" cy="190.0" r="5"/><circle cx="314.4" cy="409.7" r="5"/><circle cx="372.4" cy="461.4" r="5"/><circle cx="231.2" cy="383.2" r="5"/><circle cx="213.5" cy="364.3" r="5"/><circle cx="257.6" cy="369.3" r="5"/><circle cx="335.3" cy="449.5" r="5"/><circle cx="300.1" cy="342.3" r="5"/><circle cx="311.2" cy="431.1" r="5"/><circle cx="243.0" cy="352.5" r="5"/><circle cx="220.2" cy="374.0" r="5"/><circle cx="319.7" cy="341.7" r="5"/><circle cx="267.2" cy="380.0" r="5"/><circle cx="251.6" cy="325.5" r="5"/><circle cx="317.4" cy="436.5" r="5"/><circle cx="313.3" cy="425.3" r="5"/><circle cx="293.8" cy="339.8" r="5"/><circle cx="266.6" cy="330.1" r="5"/><circle cx="352.9" cy="446.1" r="5"/><circle cx="362.8" cy="441.3" r="5"/><circle cx="362.1" cy="405.1" r="5"/><circle cx="295.4" cy="351.2" r="5"/><circle cx="309.7" cy="398.0" r="5"/><circle cx="336.2" cy="378.3" r="5"/><circle cx="342.2" cy="413.5" r="5"/><circle cx="312.8" cy="422.5" r="5"/><circle cx="329.8" cy="409.8" r="5"/><circle cx="332.1" cy="367.5" r="5"/><circle cx="298.7" cy="317.0" r="5"/><circle cx="347.9" cy="418.2" r="5"/><circle cx="375.3" cy="446.8" r="5"/><circle cx="368.8" cy="448.5" r="5"/><circle cx="260.2" cy="406.5" r="5"/><circle cx="260.1" cy="400.3" r="5"/><circle cx="313.8" cy="410.8" r="5"/><circle cx="320.3" cy="420.0" r="5"/><circle cx="266.2" cy="357.2" r="5"/><circle cx="311.9" cy="380.9" r="5"/><circle cx="356.2" cy="417.2" r="5"/><circle cx="285.2" cy="405.8" r="5"/><circle cx="309.5" cy="345.2" r="5"/><circle cx="309.9" cy="320.5" r="5"/><circle cx="308.4" cy="345.0" r="5"/><circle cx="260.6" cy="408.9" r="5"/><circle cx="340.8" cy="386.3" r="5"/><circle cx="284.7" cy="395.3" r="5"/><circle cx="266.3" cy="406.9" r="5"/><circle cx="239.6" cy="358.8" r="5"/><circle cx="223.0" cy="383.4" r="5"/><circle cx="305.3" cy="340.6" r="5"/><circle cx="321.9" cy="378.7" r="5"/><circle cx="308.1" cy="405.9" r="5"/><circle cx="231.3" cy="325.3" r="5"/><circle cx="333.8" cy="418.4" r="5"/><circle cx="297.7" cy="367.0" r="5"/><circle cx="253.4" cy="322.8" r="5"/><circle cx="333.3" cy="420.0" r="5"/><circle cx="284.6" cy="381.5" r="5"/><circle cx="376.9" cy="392.1" r="5"/><circle cx="291.3" cy="356.4" r="5"/><circle cx="270.4" cy="358.4" r="5"/><circle cx="374.3" cy="424.1" r="5"/><circle cx="281.1" cy="364.5" r="5"/><circle cx="315.9" cy="432.5" r="5"/><circle cx="370.5" cy="436.3" r="5"/><circle cx="338.1" cy="405.8" r="5"/><circle cx="289.1" cy="336.2" r="5"/><circle cx="249.5" cy="315.2" r="5"/><circle cx="347.4" cy="377.1" r="5"/><circle cx="372.8" cy="428.6" r="5"/><circle cx="283.3" cy="411.8" r="5"/><circle cx="260.1" cy="333.1" r="5"/><circle cx="300.9" cy="377.8" r="5"/><circle cx="364.1" cy="434.7" r="5"/><circle cx="362.5" cy="449.4" r="5"/><circle cx="360.6" cy="444.8" r="5"/><circle cx="358.6" cy="452.7" r="5"/><circle cx="317.2" cy="358.0" r="5"/><circle cx="267.2" cy="408.6" r="5"/><circle cx="284.3" cy="321.5" r="5"/><circle cx="299.3" cy="399.7" r="5"/><circle cx="336.0" cy="395.2" r="5"/><circle cx="255.6" cy="315.5" r="5"/><circle cx="282.9" cy="344.8" r="5"/><circle cx="274.1" cy="371.4" r="5"/><circle cx="312.5" cy="409.1" r="5"/><circle cx="241.2" cy="373.8" r="5"/><circle cx="366.8" cy="462.5" r="5"/><circle cx="329.2" cy="454.7" r="5"/><circle cx="254.1" cy="330.4" r="5"/><circle cx="293.2" cy="381.4" r="5"/><circle cx="282.9" cy="419.1" r="5"/><circle cx="252.3" cy="377.6" r="5"/><circle cx="260.7" cy="403.9" r="5"/><circle cx="207.3" cy="353.9" r="5"/><circle cx="240.8" cy="337.0" r="5"/><circle cx="319.4" cy="351.9" r="5"/><circle cx="278.4" cy="380.6" r="5"/><circle cx="248.8" cy="398.2" r="5"/><circle cx="341.5" cy="415.9" r="5"/><circle cx="313.2" cy="391.7" r="5"/><circle cx="315.6" cy="389.4" r="5"/><circle cx="251.3" cy="358.2" r="5"/><circle cx="261.9" cy="392.4" r="5"/><circle cx="275.6" cy="328.4" r="5"/><circle cx="267.4" cy="319.4" r="5"/><circle cx="365.4" cy="419.6" r="5"/><circle cx="275.4" cy="398.1" r="5"/><circle cx="294.4" cy="375.0" r="5"/><circle cx="275.1" cy="314.9" r="5"/><circle cx="248.3" cy="316.7" r="5"/><circle cx="368.7" cy="413.2" r="5"/><circle cx="366.4" cy="461.0" r="5"/><circle cx="251.8" cy="369.1" r="5"/><circle cx="237.2" cy="323.9" r="5"/><circle cx="351.0" cy="462.1" r="5"/><circle cx="302.2" cy="421.0" r="5"/><circle cx="309.9" cy="341.1" r="5"/><circle cx="331.8" cy="384.7" r="5"/><circle cx="332.5" cy="441.4" r="5"/><circle cx="356.8" cy="408.7" r="5"/><circle cx="246.8" cy="329.5" r="5"/><circle cx="280.0" cy="343.3" r="5"/><circle cx="249.3" cy="397.5" r="5"/><circle cx="305.3" cy="391.0" r="5"/><circle cx="258.4" cy="358.4" r="5"/><circle cx="336.4" cy="371.9" r="5"/><circle cx="323.1" cy="340.0" r="5"/><circle cx="327.4" cy="368.6" r="5"/><circle cx="357.1" cy="466.0" r="5"/><circle cx="284.9" cy="412.9" r="5"/><circle cx="315.1" cy="418.1" r="5"/><circle cx="349.8" cy="393.8" r="5"/><circle cx="270.2" cy="313.9" r="5"/><circle cx="206.6" cy="360.0" r="5"/><circle cx="321.8" cy="367.2" r="5"/><circle cx="256.2" cy="326.3" r="5"/><circle cx="363.3" cy="467.9" r="5"/><circle cx="260.7" cy="336.2" r="5"/><circle cx="298.9" cy="406.8" r="5"/><circle cx="322.5" cy="391.3" r="5"/><circle cx="267.7" cy="325.1" r="5"/><circle cx="375.6" cy="436.2" r="5"/><circle cx="274.8" cy="368.1" r="5"/><circle cx="360.3" cy="409.4" r="5"/><circle cx="264.8" cy="333.9" r="5"/><circle cx="300.6" cy="345.0" r="5"/><circle cx="355.4" cy="409.1" r="5"/><circle cx="258.9" cy="384.1" r="5"/><circle cx="335.3" cy="420.3" r="5"/><circle cx="211.5" cy="371.0" r="5"/><circle cx="266.1" cy="391.7" r="5"/><circle cx="229.1" cy="386.8" r="5"/><circle cx="306.8" cy="400.3" r="5"/><circle cx="286.3" cy="374.3" r="5"/><circle cx="293.0" cy="375.0" r="5"/><circle cx="307.3" cy="363.8" r="5"/><circle cx="304.7" cy="436.6" r="5"/><circle cx="347.5" cy="432.4" r="5"/><circle cx="357.0" cy="389.7" r="5"/><circle cx="283.9" cy="395.9" r="5"/><circle cx="262.3" cy="366.5" r="5"/><circle cx="274.2" cy="346.5" r="5"/><circle cx="296.8" cy="349.8" r="5"/><circle cx="255.3" cy="381.1" r="5"/><circle cx="282.9" cy="339.3" r="5"/><circle cx="371.4" cy="458.0" r="5"/><circle cx="257.0" cy="375.1" r="5"/><circle cx="362.3" cy="399.8" r="5"/><circle cx="327.1" cy="372.3" r="5"/><circle cx="343.0" cy="394.5" r="5"/><circle cx="371.5" cy="395.7" r="5"/><circle cx="315.3" cy="352.5" r="5"/><circle cx="326.1" cy="408.5" r="5"/><circle cx="240.8" cy="349.6" r="5"/><circle cx="233.5" cy="353.8" r="5"/><circle cx="261.2" cy="360.3" r="5"/><circle cx="287.2" cy="376.7" r="5"/><circle cx="268.1" cy="372.3" r="5"/><circle cx="234.2" cy="355.2" r="5"/><circle cx="299.6" cy="343.8" r="5"/><circle cx="379.2" cy="453.3" r="5"/><circle cx="223.1" cy="388.8" r="5"/><circle cx="328.9" cy="400.6" r="5"/><circle cx="371.3" cy="421.9" r="5"/><circle cx="270.2" cy="347.9" r="5"/><circle cx="284.8" cy="367.3" r="5"/><circle cx="359.3" cy="435.1" r="5"/><circle cx="295.6" cy="422.6" r="5"/><circle cx="365.6" cy="419.2" r="5"/><circle cx="270.8" cy="403.3" r="5"/><circle cx="294.9" cy="323.3" r="5"/><circle cx="255.5" cy="370.0" r="5"/><circle cx="235.8" cy="398.1" r="5"/><circle cx="322.3" cy="421.6" r="5"/><circle cx="330.4" cy="366.0" r="5"/><circle cx="269.1" cy="338.6" r="5"/><circle cx="322.6" cy="421.7" r="5"/><circle cx="265.3" cy="326.2" r="5"/><circle cx="264.5" cy="398.0" r="5"/><circle cx="322.7" cy="436.3" r="5"/><circle cx="244.6" cy="345.9" r="5"/><circle cx="319.3" cy="404.8" r="5"/><circle cx="264.2" cy="342.6" r="5"/><circle cx="256.2" cy="399.0" r="5"/><circle cx="241.8" cy="368.1" r="5"/><circle cx="266.6" cy="329.3" r="5"/><circle cx="315.8" cy="423.3" r="5"/><circle cx="333.5" cy="420.4" r="5"/><circle cx="326.2" cy="430.9" r="5"/><circle cx="299.2" cy="428.7" r="5"/><circle cx="219.6" cy="355.2" r="5"/><circle cx="232.4" cy="346.3" r="5"/><circle cx="294.8" cy="369.4" r="5"/><circle cx="343.4" cy="376.9" r="5"/><circle cx="274.3" cy="327.6" r="5"/><circle cx="306.6" cy="388.9" r="5"/><circle cx="324.2" cy="365.4" r="5"/><circle cx="239.4" cy="340.3" r="5"/><circle cx="246.3" cy="355.2" r="5"/><circle cx="324.1" cy="349.9" r="5"/><circle cx="322.2" cy="416.3" r="5"/><circle cx="312.8" cy="407.6" r="5"/><circle cx="272.3" cy="380.1" r="5"/><circle cx="291.3" cy="376.7" r="5"/><circle cx="338.1" cy="432.6" r="5"/><circle cx="305.7" cy="425.4" r="5"/><circle cx="333.4" cy="338.3" r="5"/><circle cx="293.7" cy="409.0" r="5"/><circle cx="346.8" cy="431.6" r="5"/><circle cx="351.6" cy="422.5" r="5"/><circle cx="362.3" cy="466.1" r="5"/><circle cx="306.9" cy="399.0" r="5"/><circle cx="283.6" cy="394.9" r="5"/><circle cx="228.7" cy="346.0" r="5"/><circle cx="362.7" cy="406.4" r="5"/><circle cx="267.4" cy="404.2" r="5"/><circle cx="355.1" cy="420.8" r="5"/><circle cx="311.6" cy="433.3" r="5"/><circle cx="317.2" cy="342.3" r="5"/><circle cx="293.2" cy="418.6" r="5"/><circle cx="259.7" cy="350.8" r="5"/><circle cx="277.2" cy="313.4" r="5"/><circle cx="234.6" cy="371.2" r="5"/><circle cx="282.8" cy="315.9" r="5"/><circle cx="307.1" cy="326.6" r="5"/><circle cx="302.3" cy="399.1" r="5"/><circle cx="228.7" cy="334.6" r="5"/><circle cx="224.7" cy="376.1" r="5"/><circle cx="298.2" cy="421.4" r="5"/><circle cx="285.5" cy="312.3" r="5"/><circle cx="250.9" cy="363.9" r="5"/><circle cx="298.4" cy="369.0" r="5"/><circle cx="309.1" cy="443.5" r="5"/><circle cx="272.8" cy="394.0" r="5"/><circle cx="294.8" cy="379.3" r="5"/><circle cx="285.7" cy="401.1" r="5"/><circle cx="319.3" cy="348.2" r="5"/><circle cx="363.6" cy="439.7" r="5"/><circle cx="300.8" cy="357.1" r="5"/><circle cx="377.8" cy="428.9" r="5"/><circle cx="324.0" cy="369.5" r="5"/><circle cx="270.9" cy="375.0" r="5"/><circle cx="209.6" cy="352.3" r="5"/><circle cx="251.5" cy="351.3" r="5"/><circle cx="208.0" cy="355.5" r="5"/><circle cx="373.1" cy="438.6" r="5"/><circle cx="291.7" cy="384.9" r="5"/><circle cx="268.7" cy="416.5" r="5"/><circle cx="258.1" cy="373.8" r="5"/><circle cx="209.8" cy="357.9" r="5"/><circle cx="306.4" cy="344.4" r="5"/><circle cx="232.5" cy="327.2" r="5"/><circle cx="260.5" cy="328.8" r="5"/><circle cx="344.9" cy="427.1" r="5"/><circle cx="252.0" cy="337.6" r="5"/><circle cx="287.0" cy="414.6" r="5"/><circle cx="326.4" cy="371.5" r="5"/><circle cx="308.0" cy="354.2" r="5"/><circle cx="243.4" cy="360.1" r="5"/><circle cx="308.2" cy="354.7" r="5"/><circle cx="323.8" cy="450.9" r="5"/><circle cx="223.0" cy="378.4" r="5"/><circle cx="284.8" cy="412.6" r="5"/><circle cx="304.9" cy="373.4" r="5"/><circle cx="325.5" cy="358.8" r="5"/><circle cx="222.9" cy="348.7" r="5"/><circle cx="323.1" cy="436.4" r="5"/><circle cx="207.5" cy="359.0" r="5"/><circle cx="312.0" cy="334.0" r="5"/><circle cx="281.6" cy="332.6" r="5"/><circle cx="277.7" cy="414.3" r="5"/><circle cx="292.0" cy="383.0" r="5"/><circle cx="262.6" cy="410.3" r="5"/><circle cx="299.1" cy="367.3" r="5"/><circle cx="333.0" cy="370.4" r="5"/><circle cx="347.3" cy="442.8" r="5"/><circle cx="340.3" cy="399.3" r="5"/><circle cx="339.3" cy="399.3" r="5"/><circle cx="371.4" cy="446.6" r="5"/><circle cx="331.1" cy="365.6" r="5"/><circle cx="327.0" cy="383.7" r="5"/><circle cx="316.3" cy="419.6" r="5"/><circle cx="249.3" cy="344.0" r="5"/><circle cx="265.5" cy="367.8" r="5"/><circle cx="264.7" cy="356.5" r="5"/><circle cx="352.8" cy="446.4" r="5"/><circle cx="239.2" cy="395.9" r="5"/><circle cx="284.1" cy="395.3" r="5"/><circle cx="227.3" cy="355.5" r="5"/><circle cx="330.7" cy="342.3" r="5"/><circle cx="344.7" cy="413.4" r="5"/><circle cx="277.5" cy="353.8" r="5"/><circle cx="248.8" cy="361.7" r="5"/><circle cx="343.1" cy="394.2" r="5"/><circle cx="348.6" cy="421.3" r="5"/><circle cx="257.9" cy="374.7" r="5"/><circle cx="299.1" cy="316.0" r="5"/><circle cx="346.9" cy="419.6" r="5"/><circle cx="287.3" cy="401.5" r="5"/><circle cx="257.8" cy="328.4" r="5"/><circle cx="284.6" cy="379.6" r="5"/><circle cx="343.4" cy="420.9" r="5"/><circle cx="267.2" cy="399.4" r="5"/><circle cx="242.3" cy="376.9" r="5"/><circle cx="272.5" cy="337.6" r="5"/><circle cx="363.6" cy="451.3" r="5"/><circle cx="306.1" cy="414.4" r="5"/><circle cx="289.5" cy="346.4" r="5"/><circle cx="339.7" cy="401.2" r="5"/><circle cx="270.5" cy="345.3" r="5"/><circle cx="219.5" cy="331.1" r="5"/><circle cx="377.4" cy="446.0" r="5"/><circle cx="284.1" cy="350.3" r="5"/><circle cx="275.9" cy="407.0" r="5"/><circle cx="309.2" cy="428.9" r="5"/><circle cx="264.8" cy="412.1" r="5"/><circle cx="366.3" cy="423.2" r="5"/><circle cx="351.5" cy="465.1" r="5"/><circle cx="311.2" cy="442.5" r="5"/><circle cx="331.8" cy="458.4" r="5"/><circle cx="276.3" cy="360.3" r="5"/><circle cx="285.8" cy="388.3" r="5"/><circle cx="339.5" cy="443.1" r="5"/><circle cx="276.7" cy="394.2" r="5"/><circle cx="290.1" cy="359.8" r="5"/><circle cx="322.1" cy="413.2" r="5"/><circle cx="273.4" cy="369.4" r="5"/><circle cx="258.3" cy="359.5" r="5"/><circle cx="279.3" cy="355.6" r="5"/><circle cx="358.5" cy="409.3" r="5"/><circle cx="278.4" cy="330.7" r="5"/><circle cx="286.8" cy="399.9" r="5"/><circle cx="272.9" cy="409.0" r="5"/><circle cx="304.0" cy="416.7" r="5"/><circle cx="357.3" cy="413.1" r="5"/><circle cx="255.5" cy="326.4" r="5"/><circle cx="311.7" cy="441.4" r="5"/><circle cx="223.2" cy="359.7" r="5"/><circle cx="332.1" cy="415.9" r="5"/><circle cx="320.0" cy="364.3" r="5"/><circle cx="361.5" cy="429.2" r="5"/><circle cx="258.6" cy="356.5" r="5"/><circle cx="249.9" cy="354.4" r="5"/><circle cx="309.2" cy="391.1" r="5"/><circle cx="222.3" cy="382.7" r="5"/><circle cx="345.9" cy="383.1" r="5"/><circle cx="301.6" cy="410.9" r="5"/><circle cx="245.6" cy="352.3" r="5"/><circle cx="229.9" cy="333.3" r="5"/><circle cx="367.2" cy="420.3" r="5"/><circle cx="236.3" cy="334.5" r="5"/><circle cx="305.1" cy="425.6" r="5"/><circle cx="342.7" cy="446.5" r="5"/><circle cx="272.2" cy="316.5" r="5"/><circle cx="264.2" cy="347.3" r="5"/><circle cx="321.4" cy="397.7" r="5"/><circle cx="292.1" cy="364.5" r="5"/><circle cx="346.7" cy="450.3" r="5"/><circle cx="241.0" cy="350.8" r="5"/><circle cx="243.8" cy="389.9" r="5"/><circle cx="277.6" cy="353.5" r="5"/><circle cx="229.8" cy="380.5" r="5"/><circle cx="347.2" cy="415.5" r="5"/><circle cx="342.7" cy="455.3" r="5"/><circle cx="354.5" cy="435.9" r="5"/><circle cx="300.4" cy="424.3" r="5"/><circle cx="325.5" cy="404.8" r="5"/><circle cx="351.5" cy="394.4" r="5"/><circle cx="262.4" cy="381.2" r="5"/><circle cx="236.9" cy="367.5" r="5"/><circle cx="226.6" cy="355.3" r="5"/><circle cx="231.0" cy="371.0" r="5"/><circle cx="369.0" cy="406.1" r="5"/><circle cx="321.7" cy="423.2" r="5"/><circle cx="294.0" cy="389.9" r="5"/><circle cx="244.2" cy="341.0" r="5"/><circle cx="238.2" cy="332.6" r="5"/><circle cx="227.9" cy="370.6" r="5"/><circle cx="315.2" cy="405.9" r="5"/><circle cx="317.1" cy="413.2" r="5"/><circle cx="278.2" cy="411.2" r="5"/><circle cx="315.2" cy="387.7" r="5"/><circle cx="294.5" cy="391.2" r="5"/><circle cx="364.9" cy="423.8" r="5"/><circle cx="257.0" cy="360.9" r="5"/><circle cx="338.1" cy="407.7" r="5"/><circle cx="372.2" cy="457.6" r="5"/><circle cx="383.8" cy="441.3" r="5"/><circle cx="311.2" cy="334.8" r="5"/><circle cx="244.8" cy="372.0" r="5"/><circle cx="290.8" cy="350.5" r="5"/><circle cx="292.0" cy="324.3" r="5"/><circle cx="283.1" cy="395.8" r="5"/><circle cx="252.4" cy="373.5" r="5"/><circle cx="296.2" cy="378.1" r="5"/><circle cx="278.0" cy="408.5" r="5"/><circle cx="343.5" cy="432.1" r="5"/><circle cx="291.2" cy="362.4" r="5"/><circle cx="283.8" cy="407.9" r="5"/><circle cx="313.9" cy="353.8" r="5"/><circle cx="275.3" cy="321.1" r="5"/><circle cx="231.0" cy="327.1" r="5"/><circle cx="256.8" cy="344.0" r="5"/><circle cx="379.3" cy="447.2" r="5"/><circle cx="294.4" cy="395.0" r="5"/><circle cx="291.9" cy="355.8" r="5"/><circle cx="318.0" cy="355.2" r="5"/><circle cx="360.3" cy="438.4" r="5"/><circle cx="276.4" cy="310.0" r="5"/><circle cx="363.7" cy="458.3" r="5"/><circle cx="336.3" cy="451.7" r="5"/><circle cx="361.9" cy="454.3" r="5"/><circle cx="212.1" cy="347.0" r="5"/><circle cx="316.9" cy="424.9" r="5"/><circle cx="276.0" cy="408.4" r="5"/><circle cx="351.3" cy="403.5" r="5"/><circle cx="341.5" cy="455.1" r="5"/><circle cx="310.3" cy="393.8" r="5"/><circle cx="251.0" cy="354.5" r="5"/><circle cx="257.0" cy="374.3" r="5"/><circle cx="233.1" cy="336.2" r="5"/><circle cx="270.7" cy="343.6" r="5"/><circle cx="235.9" cy="362.0" r="5"/><circle cx="303.7" cy="385.5" r="5"/><circle cx="231.6" cy="374.8" r="5"/><circle cx="284.4" cy="389.7" r="5"/><circle cx="333.3" cy="387.4" r="5"/><circle cx="231.5" cy="380.8" r="5"/><circle cx="361.7" cy="399.1" r="5"/><circle cx="285.6" cy="367.8" r="5"/><circle cx="323.5" cy="424.1" r="5"/><circle cx="337.5" cy="427.4" r="5"/><circle cx="349.5" cy="398.2" r="5"/><circle cx="234.2" cy="395.5" r="5"/><circle cx="291.5" cy="343.4" r="5"/><circle cx="367.9" cy="413.2" r="5"/><circle cx="358.8" cy="400.8" r="5"/><circle cx="363.6" cy="381.7" r="5"/><circle cx="230.4" cy="349.5" r="5"/><circle cx="389.7" cy="435.0" r="5"/><circle cx="358.4" cy="458.5" r="5"/><circle cx="320.0" cy="332.3" r="5"/><circle cx="319.1" cy="405.5" r="5"/><circle cx="320.9" cy="437.8" r="5"/><circle cx="270.9" cy="404.1" r="5"/><circle cx="244.7" cy="402.0" r="5"/><circle cx="238.0" cy="343.2" r="5"/><circle cx="362.8" cy="429.2" r="5"/><circle cx="337.2" cy="437.4" r="5"/><circle cx="311.1" cy="390.1" r="5"/><circle cx="370.0" cy="451.9" r="5"/><circle cx="295.6" cy="412.7" r="5"/><circle cx="319.8" cy="367.8" r="5"/><circle cx="318.0" cy="384.9" r="5"/><circle cx="275.0" cy="396.2" r="5"/><circle cx="363.6" cy="450.2" r="5"/><circle cx="271.0" cy="391.2" r="5"/><circle cx="329.4" cy="386.5" r="5"/><circle cx="325.4" cy="406.4" r="5"/><circle cx="336.4" cy="372.6" r="5"/><circle cx="325.2" cy="403.1" r="5"/><circle cx="367.5" cy="437.9" r="5"/><circle cx="287.4" cy="354.6" r="5"/><circle cx="289.7" cy="379.7" r="5"/><circle cx="361.6" cy="430.8" r="5"/><circle cx="353.3" cy="382.3" r="5"/><circle cx="338.3" cy="336.8" r="5"/><circle cx="334.9" cy="463.7" r="5"/><circle cx="324.0" cy="380.9" r="5"/><circle cx="368.3" cy="448.3" r="5"/><circle cx="247.3" cy="395.4" r="5"/><circle cx="266.3" cy="339.6" r="5"/><circle cx="334.7" cy="434.3" r="5"/><circle cx="340.2" cy="431.8" r="5"/><circle cx="228.0" cy="338.1" r="5"/><circle cx="256.1" cy="356.0" r="5"/><circle cx="229.9" cy="347.1" r="5"/><circle cx="367.7" cy="447.3" r="5"/><circle cx="316.5" cy="426.5" r="5"/><circle cx="230.4" cy="378.3" r="5"/><circle cx="267.0" cy="336.5" r="5"/><circle cx="315.4" cy="428.0" r="5"/><circle cx="300.6" cy="332.1" r="5"/><circle cx="338.5" cy="438.9" r="5"/><circle cx="256.3" cy="341.4" r="5"/><circle cx="256.3" cy="353.5" r="5"/><circle cx="278.3" cy="372.7" r="5"/><circle cx="360.5" cy="470.5" r="5"/><circle cx="266.9" cy="379.2" r="5"/><circle cx="250.8" cy="358.2" r="5"/><circle cx="333.2" cy="394.4" r="5"/><circle cx="333.6" cy="420.0" r="5"/><circle cx="284.9" cy="388.7" r="5"/><circle cx="314.4" cy="381.6" r="5"/><circle cx="272.9" cy="355.0" r="5"/><circle cx="262.6" cy="343.4" r="5"/><circle cx="346.2" cy="424.4" r="5"/><circle cx="370.5" cy="424.7" r="5"/><circle cx="226.8" cy="350.8" r="5"/><circle cx="324.5" cy="456.1" r="5"/><circle cx="327.0" cy="360.2" r="5"/><circle cx="326.1" cy="429.6" r="5"/><circle cx="317.4" cy="396.2" r="5"/><circle cx="326.4" cy="399.9" r="5"/><circle cx="316.6" cy="410.1" r="5"/><circle cx="262.4" cy="380.5" r="5"/><circle cx="277.5" cy="346.3" r="5"/><circle cx="387.2" cy="447.4" r="5"/><circle cx="264.5" cy="379.2" r="5"/><circle cx="275.5" cy="410.9" r="5"/><circle cx="290.2" cy="398.2" r="5"/><circle cx="336.5" cy="447.6" r="5"/><circle cx="390.2" cy="438.5" r="5"/><circle cx="265.5" cy="414.1" r="5"/><circle cx="252.2" cy="331.3" r="5"/><circle cx="312.8" cy="343.3" r="5"/><circle cx="290.6" cy="344.2" r="5"/><circle cx="299.4" cy="384.3" r="5"/><circle cx="217.8" cy="360.0" r="5"/><circle cx="381.1" cy="433.7" r="5"/><circle cx="280.7" cy="408.6" r="5"/><circle cx="245.8" cy="401.0" r="5"/><circle cx="330.2" cy="415.8" r="5"/><circle cx="303.9" cy="346.1" r="5"/><circle cx="356.3" cy="386.7" r="5"/><circle cx="283.7" cy="412.6" r="5"/><circle cx="238.8" cy="391.9" r="5"/><circle cx="246.9" cy="375.9" r="5"/><circle cx="387.1" cy="439.4" r="5"/><circle cx="325.2" cy="416.6" r="5"/><circle cx="283.3" cy="402.6" r="5"/><circle cx="372.0" cy="455.7" r="5"/><circle cx="280.2" cy="334.0" r="5"/><circle cx="206.4" cy="361.0" r="5"/><circle cx="266.4" cy="377.5" r="5"/><circle cx="344.6" cy="458.1" r="5"/><circle cx="317.3" cy="335.8" r="5"/><circle cx="248.5" cy="332.7" r="5"/><circle cx="348.9" cy="399.7" r="5"/><circle cx="373.1" cy="387.9" r="5"/><circle cx="271.2" cy="348.2" r="5"/><circle cx="293.0" cy="379.8" r="5"/><circle cx="287.2" cy="370.1" r="5"/><circle cx="336.4" cy="461.9" r="5"/><circle cx="319.4" cy="381.1" r="5"/><circle cx="338.0" cy="422.2" r="5"/><circle cx="305.9" cy="367.8" r="5"/><circle cx="291.4" cy="410.0" r="5"/><circle cx="238.2" cy="402.9" r="5"/><circle cx="363.7" cy="402.8" r="5"/><circle cx="254.7" cy="364.3" r="5"/><circle cx="317.8" cy="376.8" r="5"/><circle cx="276.9" cy="349.3" r="5"/><circle cx="232.2" cy="336.7" r="5"/><circle cx="294.6" cy="325.8" r="5"/><circle cx="220.5" cy="357.5" r="5"/><circle cx="264.7" cy="400.1" r="5"/><circle cx="263.5" cy="377.2" r="5"/><circle cx="289.0" cy="324.1" r="5"/><circle cx="260.6" cy="381.2" r="5"/><circle cx="226.4" cy="376.6" r="5"/><circle cx="281.3" cy="397.1" r="5"/><circle cx="357.8" cy="456.2" r="5"/><circle cx="295.2" cy="407.6" r="5"/><circle cx="322.2" cy="341.5" r="5"/><circle cx="294.2" cy="336.2" r="5"/><circle cx="277.4" cy="346.9" r="5"/><circle cx="249.6" cy="375.6" r="5"/><circle cx="298.4" cy="382.3" r="5"/><circle cx="260.7" cy="388.5" r="5"/><circle cx="302.8" cy="348.0" r="5"/><circle cx="223.8" cy="337.1" r="5"/><circle cx="300.6" cy="349.9" r="5"/><circle cx="256.1" cy="405.2" r="5"/><circle cx="221.1" cy="345.9" r="5"/><circle cx="287.2" cy="336.3" r="5"/><circle cx="353.9" cy="400.3" r="5"/><circle cx="320.3" cy="368.7" r="5"/><circle cx="279.0" cy="418.7" r="5"/><circle cx="315.2" cy="424.6" r="5"/><circle cx="315.3" cy="410.6" r="5"/><circle cx="309.6" cy="361.7" r="5"/><circle cx="355.0" cy="457.8" r="5"/><circle cx="347.3" cy="435.8" r="5"/><circle cx="252.4" cy="371.8" r="5"/><circle cx="360.9" cy="380.6" r="5"/><circle cx="372.8" cy="432.9" r="5"/><circle cx="303.5" cy="351.0" r="5"/><circle cx="343.0" cy="405.2" r="5"/><circle cx="252.8" cy="366.7" r="5"/><circle cx="341.9" cy="420.0" r="5"/><circle cx="286.2" cy="338.7" r="5"/><circle cx="312.3" cy="332.5" r="5"/><circle cx="320.3" cy="423.1" r="5"/><circle cx="294.9" cy="327.1" r="5"/><circle cx="308.8" cy="369.6" r="5"/><circle cx="360.8" cy="432.4" r="5"/><circle cx="347.9" cy="459.4" r="5"/><circle cx="295.1" cy="345.4" r="5"/><circle cx="314.5" cy="354.3" r="5"/><circle cx="334.2" cy="456.7" r="5"/><circle cx="321.2" cy="377.0" r="5"/><circle cx="351.6" cy="464.2" r="5"/><circle cx="272.5" cy="408.6" r="5"/><circle cx="251.0" cy="400.7" r="5"/><circle cx="279.1" cy="372.2" r="5"/><circle cx="286.1" cy="314.7" r="5"/><circle cx="329.2" cy="398.5" r="5"/><circle cx="298.7" cy="331.6" r="5"/><circle cx="277.9" cy="374.9" r="5"/><circle cx="376.4" cy="389.5" r="5"/><circle cx="241.2" cy="395.6" r="5"/><circle cx="281.4" cy="331.2" r="5"/><circle cx="307.1" cy="378.9" r="5"/><circle cx="258.7" cy="382.1" r="5"/><circle cx="322.8" cy="457.1" r="5"/><circle cx="347.0" cy="438.2" r="5"/><circle cx="296.0" cy="379.4" r="5"/><circle cx="228.1" cy="323.9" r="5"/><circle cx="367.1" cy="443.8" r="5"/><circle cx="319.4" cy="410.3" r="5"/><circle cx="310.2" cy="384.8" r="5"/><circle cx="282.9" cy="403.3" r="5"/><circle cx="366.9" cy="467.9" r="5"/><circle cx="302.7" cy="400.9" r="5"/><circle cx="373.8" cy="458.9" r="5"/><circle cx="219.9" cy="362.7" r="5"/><circle cx="249.5" cy="377.7" r="5"/><circle cx="316.7" cy="398.7" r="5"/><circle cx="289.9" cy="377.9" r="5"/><circle cx="213.7" cy="365.5" r="5"/><circle cx="297.3" cy="339.8" r="5"/><circle cx="366.0" cy="410.7" r="5"/><circle cx="325.8" cy="403.3" r="5"/><circle cx="270.6" cy="375.7" r="5"/><circle cx="252.9" cy="328.9" r="5"/><circle cx="250.9" cy="314.3" r="5"/><circle cx="261.6" cy="395.0" r="5"/><circle cx="357.7" cy="450.1" r="5"/><circle cx="285.6" cy="402.3" r="5"/><circle cx="272.4" cy="331.1" r="5"/><circle cx="242.9" cy="328.0" r="5"/><circle cx="326.3" cy="344.5" r="5"/><circle cx="378.7" cy="442.5" r="5"/><circle cx="247.1" cy="362.1" r="5"/><circle cx="339.5" cy="435.0" r="5"/><circle cx="298.2" cy="316.6" r="5"/><circle cx="324.1" cy="381.0" r="5"/><circle cx="258.9" cy="324.6" r="5"/><circle cx="293.3" cy="412.3" r="5"/><circle cx="274.1" cy="367.4" r="5"/><circle cx="359.2" cy="408.6" r="5"/><circle cx="268.3" cy="389.2" r="5"/><circle cx="318.3" cy="436.0" r="5"/><circle cx="291.6" cy="328.2" r="5"/><circle cx="225.3" cy="357.7" r="5"/><circle cx="246.3" cy="346.8" r="5"/><circle cx="246.4" cy="382.7" r="5"/><circle cx="346.4" cy="435.6" r="5"/><circle cx="319.3" cy="329.6" r="5"/><circle cx="363.6" cy="404.1" r="5"/><circle cx="379.0" cy="428.6" r="5"/><circle cx="238.3" cy="381.1" r="5"/><circle cx="303.7" cy="393.6" r="5"/><circle cx="234.7" cy="369.0" r="5"/><circle cx="362.9" cy="415.4" r="5"/><circle cx="254.6" cy="351.8" r="5"/><circle cx="342.7" cy="431.3" r="5"/><circle cx="357.0" cy="456.2" r="5"/><circle cx="268.9" cy="344.1" r="5"/><circle cx="316.3" cy="366.6" r="5"/><circle cx="305.6" cy="316.6" r="5"/><circle cx="267.6" cy="347.6" r="5"/><circle cx="309.6" cy="333.7" r="5"/><circle cx="324.6" cy="424.1" r="5"/><circle cx="296.8" cy="424.0" r="5"/><circle cx="301.1" cy="332.6" r="5"/><circle cx="275.2" cy="415.3" r="5"/><circle cx="233.0" cy="341.4" r="5"/><circle cx="373.9" cy="455.0" r="5"/><circle cx="307.3" cy="333.4" r="5"/><circle cx="304.2" cy="344.8" r="5"/><circle cx="256.7" cy="406.7" r="5"/><circle cx="247.6" cy="337.9" r="5"/><circle cx="232.2" cy="327.7" r="5"/><circle cx="218.3" cy="372.7" r="5"/><circle cx="241.6" cy="395.4" r="5"/><circle cx="302.7" cy="422.7" r="5"/><circle cx="261.3" cy="365.1" r="5"/><circle cx="232.3" cy="394.0" r="5"/><circle cx="273.0" cy="355.9" r="5"/><circle cx="290.3" cy="328.6" r="5"/><circle cx="315.1" cy="429.9" r="5"/><circle cx="362.3" cy="417.5" r="5"/><circle cx="305.9" cy="338.4" r="5"/><circle cx="250.8" cy="343.8" r="5"/><circle cx="300.5" cy="394.8" r="5"/><circle cx="297.2" cy="387.1" r="5"/><circle cx="259.3" cy="386.1" r="5"/><circle cx="345.8" cy="429.4" r="5"/><circle cx="327.2" cy="362.3" r="5"/><circle cx="293.1" cy="351.4" r="5"/><circle cx="296.1" cy="399.7" r="5"/><circle cx="326.2" cy="369.7" r="5"/><circle cx="269.6" cy="407.6" r="5"/><circle cx="285.5" cy="323.0" r="5"/><circle cx="361.4" cy="388.2" r="5"/><circle cx="293.3" cy="328.4" r="5"/><circle cx="369.1" cy="465.9" r="5"/><circle cx="348.6" cy="373.7" r="5"/><circle cx="361.5" cy="420.7" r="5"/><circle cx="350.8" cy="431.2" r="5"/><circle cx="255.4" cy="335.6" r="5"/><circle cx="246.4" cy="389.4" r="5"/><circle cx="249.4" cy="351.0" r="5"/><circle cx="251.5" cy="360.8" r="5"/><circle cx="328.6" cy="380.0" r="5"/><circle cx="357.5" cy="442.3" r="5"/><circle cx="325.0" cy="370.3" r="5"/><circle cx="267.8" cy="387.6" r="5"/><circle cx="254.7" cy="378.5" r="5"/><circle cx="262.6" cy="405.3" r="5"/><circle cx="303.8" cy="367.3" r="5"/><circle cx="294.1" cy="393.8" r="5"/><circle cx="260.3" cy="406.3" r="5"/><circle cx="306.6" cy="325.6" r="5"/><circle cx="324.8" cy="412.1" r="5"/><circle cx="316.6" cy="379.8" r="5"/><circle cx="262.8" cy="341.1" r="5"/><circle cx="357.2" cy="423.0" r="5"/><circle cx="272.3" cy="372.2" r="5"/><circle cx="342.8" cy="375.7" r="5"/><circle cx="339.2" cy="437.0" r="5"/><circle cx="321.7" cy="344.8" r="5"/><circle cx="292.2" cy="320.4" r="5"/><circle cx="356.0" cy="456.5" r="5"/><circle cx="354.4" cy="431.1" r="5"/><circle cx="317.2" cy="371.5" r="5"/><circle cx="216.2" cy="360.8" r="5"/><circle cx="308.5" cy="391.1" r="5"/><circle cx="339.3" cy="384.7" r="5"/><circle cx="349.2" cy="451.8" r="5"/><circle cx="374.4" cy="444.1" r="5"/><circle cx="282.3" cy="319.2" r="5"/><circle cx="245.5" cy="345.3" r="5"/><circle cx="284.9" cy="387.5" r="5"/><circle cx="260.9" cy="328.0" r="5"/><circle cx="278.6" cy="353.8" r="5"/><circle cx="351.8" cy="465.0" r="5"/><circle cx="335.9" cy="452.1" r="5"/><circle cx="322.3" cy="336.4" r="5"/><circle cx="271.7" cy="372.5" r="5"/><circle cx="245.8" cy="372.4" r="5"/><circle cx="273.7" cy="328.2" r="5"/><circle cx="376.1" cy="440.3" r="5"/><circle cx="230.3" cy="365.4" r="5"/><circle cx="260.7" cy="319.9" r="5"/><circle cx="362.3" cy="448.7" r="5"/><circle cx="223.5" cy="382.1" r="5"/><circle cx="336.3" cy="385.1" r="5"/><circle cx="345.6" cy="382.2" r="5"/><circle cx="318.8" cy="352.2" r="5"/><circle cx="304.0" cy="349.8" r="5"/><circle cx="236.3" cy="396.8" r="5"/><circle cx="292.6" cy="344.2" r="5"/><circle cx="365.9" cy="401.9" r="5"/><circle cx="364.7" cy="420.2" r="5"/><circle cx="362.5" cy="424.5" r="5"/><circle cx="362.2" cy="440.1" r="5"/><circle cx="278.9" cy="381.0" r="5"/><circle cx="349.6" cy="388.2" r="5"/><circle cx="247.0" cy="339.1" r="5"/><circle cx="351.1" cy="412.0" r="5"/><circle cx="340.7" cy="402.2" r="5"/><circle cx="264.3" cy="343.9" r="5"/><circle cx="349.4" cy="440.9" r="5"/><circle cx="312.6" cy="348.9" r="5"/><circle cx="377.2" cy="428.0" r="5"/><circle cx="376.9" cy="447.3" r="5"/><circle cx="325.2" cy="379.5" r="5"/><circle cx="318.7" cy="327.6" r="5"/><circle cx="343.7" cy="388.5" r="5"/><circle cx="267.1" cy="417.3" r="5"/><circle cx="297.8" cy="319.3" r="5"/><circle cx="239.0" cy="333.2" r="5"/><circle cx="261.3" cy="371.3" r="5"/><circle cx="239.9" cy="327.9" r="5"/><circle cx="268.8" cy="320.3" r="5"/><circle cx="221.8" cy="335.4" r="5"/><circle cx="292.8" cy="325.0" r="5"/><circle cx="347.0" cy="440.2" r="5"/><circle cx="308.4" cy="406.4" r="5"/><circle cx="361.8" cy="466.5" r="5"/><circle cx="270.4" cy="356.9" r="5"/><circle cx="359.8" cy="411.7" r="5"/><circle cx="347.5" cy="382.9" r="5"/><circle cx="330.2" cy="343.6" r="5"/><circle cx="330.8" cy="377.2" r="5"/><circle cx="340.0" cy="390.3" r="5"/><circle cx="312.5" cy="369.9" r="5"/><circle cx="319.9" cy="381.6" r="5"/><circle cx="252.7" cy="361.2" r="5"/><circle cx="240.0" cy="345.5" r="5"/><circle cx="331.1" cy="342.2" r="5"/><circle cx="315.3" cy="391.8" r="5"/><circle cx="307.0" cy="358.7" r="5"/><circle cx="302.8" cy="328.6" r="5"/><circle cx="256.9" cy="397.8" r="5"/><circle cx="241.9" cy="398.0" r="5"/><circle cx="281.4" cy="323.6" r="5"/><circle cx="262.0" cy="387.0" r="5"/><circle cx="246.7" cy="369.3" r="5"/><circle cx="295.3" cy="328.0" r="5"/><circle cx="356.6" cy="450.7" r="5"/><circle cx="229.9" cy="370.2" r="5"/><circle cx="385.5" cy="439.0" r="5"/><circle cx="231.4" cy="361.8" r="5"/><circle cx="297.9" cy="339.0" r="5"/><circle cx="347.5" cy="437.2" r="5"/><circle cx="227.0" cy="371.5" r="5"/><circle cx="344.3" cy="433.0" r="5"/><circle cx="218.3" cy="380.3" r="5"/><circle cx="248.7" cy="390.9" r="5"/><circle cx="273.7" cy="363.2" r="5"/><circle cx="241.5" cy="326.9" r="5"/><circle cx="255.3" cy="317.6" r="5"/><circle cx="323.1" cy="448.8" r="5"/><circle cx="357.4" cy="429.8" r="5"/><circle cx="320.5" cy="415.8" r="5"/><circle cx="289.8" cy="405.9" r="5"/><circle cx="266.1" cy="315.1" r="5"/><circle cx="311.5" cy="391.5" r="5"/><circle cx="291.1" cy="370.9" r="5"/><circle cx="294.2" cy="356.7" r="5"/><circle cx="256.0" cy="338.8" r="5"/><circle cx="285.2" cy="330.7" r="5"/><circle cx="296.7" cy="424.2" r="5"/><circle cx="277.2" cy="347.5" r="5"/><circle cx="295.2" cy="387.8" r="5"/><circle cx="310.4" cy="391.3" r="5"/><circle cx="286.4" cy="340.4" r="5"/><circle cx="296.4" cy="363.1" r="5"/><circle cx="236.4" cy="329.7" r="5"/><circle cx="272.8" cy="333.0" r="5"/><circle cx="302.6" cy="384.4" r="5"/><circle cx="255.4" cy="347.4" r="5"/><circle cx="330.8" cy="412.5" r="5"/><circle cx="301.5" cy="382.4" r="5"/><circle cx="235.9" cy="377.2" r="5"/><circle cx="295.8" cy="314.8" r="5"/><circle cx="364.6" cy="422.8" r="5"/><circle cx="222.1" cy="347.2" r="5"/><circle cx="210.9" cy="353.6" r="5"/><circle cx="294.7" cy="360.1" r="5"/><circle cx="348.9" cy="428.3" r="5"/><circle cx="357.3" cy="414.4" r="5"/><circle cx="351.9" cy="431.6" r="5"/><circle cx="242.9" cy="376.4" r="5"/><circle cx="259.0" cy="325.7" r="5"/><circle cx="335.8" cy="384.3" r="5"/><circle cx="310.5" cy="430.2" r="5"/><circle cx="309.2" cy="336.3" r="5"/><circle cx="237.2" cy="323.8" r="5"/><circle cx="343.9" cy="448.2" r="5"/><circle cx="303.3" cy="362.0" r="5"/><circle cx="309.0" cy="409.5" r="5"/><circle cx="377.5" cy="450.9" r="5"/><circle cx="305.4" cy="403.7" r="5"/><circle cx="304.4" cy="394.3" r="5"/><circle cx="243.2" cy="350.8" r="5"/><circle cx="279.6" cy="366.9" r="5"/><circle cx="293.2" cy="369.8" r="5"/><circle cx="272.4" cy="394.5" r="5"/><circle cx="267.2" cy="366.0" r="5"/><circle cx="264.2" cy="336.4" r="5"/><circle cx="303.3" cy="423.5" r="5"/><circle cx="309.6" cy="373.8" r="5"/><circle cx="304.2" cy="326.9" r="5"/><circle cx="284.0" cy="339.4" r="5"/><circle cx="263.4" cy="398.8" r="5"/><circle cx="266.7" cy="359.7" r="5"/><circle cx="347.7" cy="424.5" r="5"/><circle cx="313.9" cy="438.2" r="5"/><circle cx="305.6" cy="399.2" r="5"/><circle cx="218.2" cy="350.7" r="5"/><circle cx="306.3" cy="421.7" r="5"/><circle cx="285.9" cy="389.8" r="5"/><circle cx="347.8" cy="443.3" r="5"/><circle cx="292.6" cy="418.2" r="5"/><circle cx="353.1" cy="470.2" r="5"/><circle cx="325.5" cy="377.6" r="5"/><circle cx="319.3" cy="424.6" r="5"/><circle cx="266.3" cy="357.8" r="5"/><circle cx="288.9" cy="328.3" r="5"/><circle cx="328.4" cy="374.7" r="5"/><circle cx="375.0" cy="465.2" r="5"/><circle cx="275.1" cy="378.0" r="5"/><circle cx="276.9" cy="349.7" r="5"/><circle cx="288.7" cy="387.4" r="5"/><circle cx="230.6" cy="345.4" r="5"/><circle cx="244.9" cy="336.2" r="5"/><circle cx="320.5" cy="384.1" r="5"/><circle cx="359.3" cy="463.6" r="5"/><circle cx="321.5" cy="330.4" r="5"/><circle cx="295.3" cy="389.4" r="5"/><circle cx="247.7" cy="402.5" r="5"/><circle cx="365.9" cy="391.9" r="5"/><circle cx="266.2" cy="410.4" r="5"/><circle cx="367.7" cy="448.0" r="5"/><circle cx="289.2" cy="356.0" r="5"/><circle cx="339.4" cy="396.3" r="5"/><circle cx="303.2" cy="369.2" r="5"/><circle cx="347.4" cy="434.3" r="5"/><circle cx="296.2" cy="353.8" r="5"/><circle cx="282.9" cy="400.0" r="5"/><circle cx="231.2" cy="381.6" r="5"/><circle cx="259.9" cy="398.8" r="5"/><circle cx="286.1" cy="385.9" r="5"/><circle cx="368.8" cy="465.9" r="5"/><circle cx="354.4" cy="391.4" r="5"/><circle cx="218.1" cy="355.7" r="5"/><circle cx="242.3" cy="379.4" r="5"/><circle cx="243.9" cy="345.0" r="5"/><circle cx="275.3" cy="379.7" r="5"/><circle cx="318.2" cy="410.1" r="5"/><circle cx="258.8" cy="312.8" r="5"/><circle cx="304.6" cy="347.4" r="5"/><circle cx="292.1" cy="315.8" r="5"/><circle cx="285.4" cy="349.9" r="5"/><circle cx="223.1" cy="387.3" r="5"/><circle cx="241.1" cy="326.8" r="5"/><circle cx="255.6" cy="367.6" r="5"/><circle cx="271.5" cy="368.1" r="5"/><circle cx="318.9" cy="423.5" r="5"/><circle cx="267.9" cy="357.1" r="5"/><circle cx="230.5" cy="371.3" r="5"/><circle cx="245.8" cy="392.4" r="5"/><circle cx="261.7" cy="337.3" r="5"/><circle cx="262.0" cy="320.8" r="5"/><circle cx="385.0" cy="447.6" r="5"/><circle cx="289.5" cy="360.2" r="5"/><circle cx="367.9" cy="453.2" r="5"/><circle cx="280.9" cy="392.3" r="5"/><circle cx="336.2" cy="344.2" r="5"/><circle cx="261.1" cy="362.0" r="5"/><circle cx="240.4" cy="378.2" r="5"/><circle cx="333.0" cy="383.4" r="5"/><circle cx="273.9" cy="382.4" r="5"/><circle cx="220.5" cy="363.6" r="5"/><circle cx="317.5" cy="335.5" r="5"/><circle cx="312.1" cy="330.0" r="5"/><circle cx="339.3" cy="421.5" r="5"/><circle cx="249.4" cy="383.1" r="5"/><circle cx="286.3" cy="369.6" r="5"/><circle cx="293.6" cy="387.5" r="5"/><circle cx="217.4" cy="350.7" r="5"/><circle cx="360.4" cy="420.3" r="5"/><circle cx="307.3" cy="351.6" r="5"/><circle cx="352.4" cy="391.0" r="5"/><circle cx="336.6" cy="393.6" r="5"/><circle cx="254.4" cy="355.0" r="5"/><circle cx="381.9" cy="438.2" r="5"/><circle cx="329.8" cy="439.7" r="5"/><circle cx="280.3" cy="320.0" r="5"/><circle cx="344.3" cy="414.9" r="5"/><circle cx="277.8" cy="403.5" r="5"/><circle cx="240.0" cy="360.5" r="5"/><circle cx="248.2" cy="367.0" r="5"/><circle cx="289.8" cy="324.3" r="5"/><circle cx="271.5" cy="348.8" r="5"/><circle cx="291.2" cy="352.4" r="5"/><circle cx="263.3" cy="325.9" r="5"/><circle cx="278.4" cy="341.6" r="5"/><circle cx="288.1" cy="345.3" r="5"/><circle cx="260.4" cy="359.3" r="5"/><circle cx="263.0" cy="319.2" r="5"/><circle cx="261.9" cy="375.1" r="5"/><circle cx="274.1" cy="339.8" r="5"/><circle cx="258.2" cy="339.4" r="5"/><circle cx="321.8" cy="383.6" r="5"/><circle cx="255.7" cy="359.9" r="5"/><circle cx="264.8" cy="370.2" r="5"/><circle cx="284.5" cy="348.4" r="5"/><circle cx="271.4" cy="318.1" r="5"/><circle cx="294.2" cy="330.7" r="5"/><circle cx="233.5" cy="335.7" r="5"/><circle cx="259.4" cy="344.9" r="5"/><circle cx="275.4" cy="361.3" r="5"/><circle cx="236.4" cy="334.6" r="5"/><circle cx="293.5" cy="383.8" r="5"/><circle cx="322.7" cy="380.5" r="5"/><circle cx="238.0" cy="373.7" r="5"/><circle cx="227.1" cy="345.6" r="5"/><circle cx="263.6" cy="395.7" r="5"/><circle cx="234.4" cy="374.0" r="5"/><circle cx="246.5" cy="353.7" r="5"/><circle cx="313.8" cy="382.5" r="5"/><circle cx="276.6" cy="342.8" r="5"/><circle cx="245.7" cy="334.6" r="5"/><circle cx="299.0" cy="329.0" r="5"/><circle cx="287.3" cy="337.0" r="5"/><circle cx="234.9" cy="331.7" r="5"/><circle cx="273.0" cy="388.9" r="5"/><circle cx="232.8" cy="365.2" r="5"/><circle cx="253.7" cy="377.5" r="5"/><circle cx="278.2" cy="337.6" r="5"/><circle cx="305.2" cy="353.9" r="5"/><circle cx="253.0" cy="366.8" r="5"/><circle cx="301.9" cy="351.5" r="5"/><circle cx="265.2" cy="340.1" r="5"/><circle cx="269.1" cy="333.4" r="5"/><circle cx="272.7" cy="327.0" r="5"/><circle cx="287.3" cy="383.4" r="5"/><circle cx="288.8" cy="376.6" r="5"/><circle cx="272.1" cy="362.5" r="5"/><circle cx="310.2" cy="384.3" r="5"/><circle cx="279.2" cy="384.1" r="5"/><circle cx="297.6" cy="325.5" r="5"/><circle cx="290.8" cy="351.3" r="5"/><circle cx="283.2" cy="375.0" r="5"/><circle cx="258.5" cy="374.6" r="5"/><circle cx="276.0" cy="345.6" r="5"/><circle cx="304.7" cy="349.2" r="5"/><circle cx="283.0" cy="386.8" r="5"/><circle cx="266.6" cy="328.3" r="5"/><circle cx="245.0" cy="335.7" r="5"/><circle cx="310.7" cy="351.9" r="5"/><circle cx="307.3" cy="333.3" r="5"/><circle cx="307.2" cy="377.2" r="5"/><circle cx="292.0" cy="365.8" r="5"/><circle cx="281.0" cy="330.7" r="5"/><circle cx="275.0" cy="318.6" r="5"/><circle cx="294.4" cy="405.1" r="5"/><circle cx="305.5" cy="392.9" r="5"/><circle cx="273.3" cy="373.2" r="5"/><circle cx="269.7" cy="357.3" r="5"/><circle cx="323.0" cy="386.0" r="5"/><circle cx="281.1" cy="362.3" r="5"/><circle cx="244.9" cy="335.1" r="5"/><circle cx="254.8" cy="340.2" r="5"/><circle cx="300.2" cy="368.4" r="5"/><circle cx="278.4" cy="369.7" r="5"/><circle cx="273.7" cy="388.3" r="5"/><circle cx="253.6" cy="367.6" r="5"/><circle cx="282.9" cy="401.5" r="5"/><circle cx="307.4" cy="404.3" r="5"/><circle cx="273.1" cy="331.0" r="5"/><circle cx="263.6" cy="371.0" r="5"/><circle cx="236.1" cy="333.0" r="5"/><circle cx="295.0" cy="385.8" r="5"/><circle cx="242.0" cy="363.0" r="5"/><circle cx="232.4" cy="353.2" r="5"/><circle cx="241.3" cy="347.4" r="5"/><circle cx="305.6" cy="388.1" r="5"/><circle cx="289.3" cy="373.0" r="5"/><circle cx="281.5" cy="362.8" r="5"/><circle cx="305.7" cy="331.9" r="5"/><circle cx="271.1" cy="364.5" r="5"/><circle cx="258.3" cy="356.1" r="5"/><circle cx="294.3" cy="377.1" r="5"/><circle cx="253.1" cy="328.9" r="5"/><circle cx="316.7" cy="376.3" r="5"/><circle cx="307.5" cy="405.0" r="5"/><circle cx="249.2" cy="352.9" r="5"/><circle cx="263.8" cy="386.9" r="5"/><circle cx="251.8" cy="323.2" r="5"/><circle cx="290.6" cy="360.2" r="5"/><circle cx="295.3" cy="332.6" r="5"/><circle cx="291.2" cy="319.4" r="5"/><circle cx="242.6" cy="369.7" r="5"/><circle cx="303.7" cy="342.6" r="5"/><circle cx="244.0" cy="340.5" r="5"/><circle cx="267.1" cy="366.9" r="5"/><circle cx="288.4" cy="364.4" r="5"/><circle cx="277.9" cy="368.9" r="5"/><circle cx="247.5" cy="382.4" r="5"/><circle cx="263.5" cy="363.0" r="5"/><circle cx="311.3" cy="373.2" r="5"/><circle cx="278.6" cy="375.8" r="5"/><circle cx="250.4" cy="367.0" r="5"/><circle cx="230.3" cy="334.4" r="5"/><circle cx="243.8" cy="354.0" r="5"/><circle cx="292.6" cy="340.8" r="5"/><circle cx="266.2" cy="399.5" r="5"/><circle cx="226.5" cy="346.3" r="5"/><circle cx="320.5" cy="381.4" r="5"/><circle cx="273.1" cy="362.6" r="5"/><circle cx="284.7" cy="343.8" r="5"/><circle cx="292.9" cy="352.2" r="5"/><circle cx="294.5" cy="407.3" r="5"/><circle cx="263.4" cy="341.0" r="5"/><circle cx="257.6" cy="395.7" r="5"/><circle cx="261.5" cy="346.2" r="5"/><circle cx="290.6" cy="326.0" r="5"/><circle cx="264.9" cy="358.9" r="5"/><circle cx="288.5" cy="382.0" r="5"/><circle cx="313.0" cy="397.7" r="5"/><circle cx="286.7" cy="369.6" r="5"/><circle cx="291.1" cy="341.7" r="5"/><circle cx="312.6" cy="403.9" r="5"/><circle cx="300.9" cy="366.7" r="5"/><circle cx="320.1" cy="407.1" r="5"/><circle cx="293.2" cy="363.7" r="5"/><circle cx="248.2" cy="364.7" r="5"/><circle cx="287.1" cy="367.8" r="5"/><circle cx="240.2" cy="344.3" r="5"/><circle cx="275.9" cy="322.7" r="5"/><circle cx="307.1" cy="338.1" r="5"/><circle cx="270.7" cy="384.3" r="5"/><circle cx="251.4" cy="351.1" r="5"/><circle cx="296.4" cy="384.4" r="5"/><circle cx="312.8" cy="373.9" r="5"/><circle cx="241.7" cy="367.8" r="5"/><circle cx="260.6" cy="344.3" r="5"/><circle cx="316.9" cy="394.5" r="5"/><circle cx="270.7" cy="321.0" r="5"/><circle cx="311.6" cy="350.1" r="5"/><circle cx="295.7" cy="335.1" r="5"/><circle cx="301.6" cy="374.0" r="5"/><circle cx="311.6" cy="364.5" r="5"/><circle cx="271.4" cy="362.5" r="5"/><circle cx="316.4" cy="383.8" r="5"/><circle cx="265.6" cy="397.3" r="5"/><circle cx="245.4" cy="334.4" r="5"/><circle cx="271.7" cy="399.5" r="5"/><circle cx="267.6" cy="344.4" r="5"/><circle cx="313.9" cy="386.8" r="5"/><circle cx="303.6" cy="369.9" r="5"/><circle cx="253.5" cy="353.0" r="5"/><circle cx="277.2" cy="384.2" r="5"/><circle cx="322.3" cy="384.7" r="5"/><circle cx="247.6" cy="388.6" r="5"/><circle cx="303.0" cy="380.5" r="5"/><circle cx="296.7" cy="401.3" r="5"/><circle cx="264.4" cy="364.6" r="5"/><circle cx="231.6" cy="351.8" r="5"/><circle cx="283.0" cy="322.1" r="5"/><circle cx="315.0" cy="397.2" r="5"/><circle cx="286.7" cy="332.5" r="5"/><circle cx="265.1" cy="376.3" r="5"/><circle cx="285.7" cy="356.2" r="5"/><circle cx="237.0" cy="341.1" r="5"/><circle cx="283.8" cy="333.5" r="5"/><circle cx="276.1" cy="347.6" r="5"/><circle cx="235.7" cy="353.0" r="5"/><circle cx="266.8" cy="341.6" r="5"/><circle cx="252.0" cy="328.9" r="5"/><circle cx="280.4" cy="359.8" r="5"/><circle cx="307.5" cy="383.1" r="5"/><circle cx="314.3" cy="404.0" r="5"/><circle cx="295.6" cy="389.1" r="5"/><circle cx="302.4" cy="380.4" r="5"/><circle cx="293.5" cy="362.2" r="5"/><circle cx="306.1" cy="390.1" r="5"/><circle cx="306.9" cy="375.0" r="5"/><circle cx="245.8" cy="389.9" r="5"/><circle cx="259.1" cy="338.0" r="5"/><circle cx="280.4" cy="342.8" r="5"/><circle cx="283.1" cy="366.5" r="5"/><circle cx="280.3" cy="397.2" r="5"/><circle cx="304.3" cy="386.3" r="5"/><circle cx="293.3" cy="378.3" r="5"/><circle cx="317.6" cy="380.3" r="5"/><circle cx="282.0" cy="395.9" r="5"/><circle cx="377.2" cy="314.4" r="5"/><circle cx="368.8" cy="312.1" r="5"/><circle cx="380.0" cy="312.6" r="5"/><circle cx="379.8" cy="317.8" r="5"/><circle cx="389.7" cy="314.9" r="5"/><circle cx="373.7" cy="314.9" r="5"/><circle cx="365.6" cy="317.3" r="5"/><circle cx="380.7" cy="318.8" r="5"/><circle cx="378.8" cy="313.5" r="5"/><circle cx="372.3" cy="315.5" r="5"/><circle cx="370.1" cy="317.9" r="5"/><circle cx="383.1" cy="315.2" r="5"/><circle cx="371.2" cy="316.1" r="5"/><circle cx="382.9" cy="313.2" r="5"/><circle cx="372.5" cy="320.7" r="5"/><circle cx="383.9" cy="314.1" r="5"/><circle cx="374.7" cy="341.6" r="5"/><circle cx="382.4" cy="340.7" r="5"/><circle cx="377.8" cy="342.2" r="5"/><circle cx="372.9" cy="344.0" r="5"/><circle cx="376.4" cy="344.3" r="5"/><circle cx="368.5" cy="338.6" r="5"/><circle cx="368.2" cy="342.4" r="5"/><circle cx="385.0" cy="343.0" r="5"/><circle cx="377.0" cy="498.6" r="5"/><circle cx="375.0" cy="491.8" r="5"/><circle cx="380.1" cy="481.0" r="5"/><circle cx="380.2" cy="481.2" r="5"/><circle cx="375.3" cy="493.9" r="5"/><circle cx="377.6" cy="483.1" r="5"/><circle cx="382.3" cy="489.1" r="5"/><circle cx="373.6" cy="487.7" r="5"/><circle cx="380.6" cy="481.5" r="5"/><circle cx="383.4" cy="491.4" r="5"/><circle cx="428.6" cy="519.9" r="5"/><circle cx="423.2" cy="515.4" r="5"/><circle cx="397.9" cy="499.2" r="5"/><circle cx="430.1" cy="522.2" r="5"/><circle cx="420.6" cy="514.2" r="5"/><circle cx="401.5" cy="498.7" r="5"/><circle cx="395.3" cy="498.3" r="5"/><circle cx="430.9" cy="524.2" r="5"/><circle cx="408.7" cy="502.3" r="5"/><circle cx="423.8" cy="516.2" r="5"/><circle cx="444.6" cy="560.3" r="5"/><circle cx="439.7" cy="558.6" r="5"/><circle cx="438.8" cy="549.4" r="5"/><circle cx="413.0" cy="542.5" r="5"/><circle cx="442.4" cy="549.3" r="5"/><circle cx="434.9" cy="547.3" r="5"/><circle cx="449.1" cy="552.6" r="5"/><circle cx="434.4" cy="552.1" r="5"/><circle cx="437.5" cy="554.0" r="5"/><circle cx="419.5" cy="548.2" r="5"/><circle cx="446.2" cy="556.6" r="5"/><circle cx="442.5" cy="556.0" r="5"/><circle cx="403.4" cy="536.7" r="5"/><circle cx="415.4" cy="535.8" r="5"/><circle cx="436.1" cy="556.5" r="5"/><circle cx="447.2" cy="558.2" r="5"/><circle cx="440.9" cy="557.1" r="5"/><circle cx="438.7" cy="552.7" r="5"/><circle cx="436.1" cy="547.0" r="5"/><circle cx="442.0" cy="551.0" r="5"/><circle cx="444.3" cy="556.9" r="5"/><circle cx="443.1" cy="544.1" r="5"/><circle cx="430.7" cy="554.8" r="5"/><circle cx="431.2" cy="547.3" r="5"/><circle cx="449.1" cy="558.8" r="5"/><circle cx="449.1" cy="556.3" r="5"/><circle cx="431.4" cy="554.1" r="5"/><circle cx="423.7" cy="543.1" r="5"/><circle cx="423.2" cy="551.3" r="5"/><circle cx="449.0" cy="556.4" r="5"/><circle cx="418.8" cy="537.7" r="5"/><circle cx="435.3" cy="568.8" r="5"/><circle cx="428.0" cy="564.7" r="5"/><circle cx="413.8" cy="544.4" r="5"/><circle cx="450.2" cy="558.9" r="5"/><circle cx="405.7" cy="315.0" r="5"/><circle cx="350.0" cy="321.7" r="5"/><circle cx="340.0" cy="333.3" r="5"/><circle cx="346.7" cy="343.3" r="5"/><circle cx="350.0" cy="353.3" r="5"/><circle cx="361.7" cy="356.7" r="5"/><circle cx="371.7" cy="376.7" r="5"/><circle cx="400.0" cy="376.7" r="5"/><circle cx="380.0" cy="386.7" r="5"/><circle cx="378.3" cy="393.3" r="5"/><circle cx="393.3" cy="436.7" r="5"/><circle cx="391.7" cy="441.7" r="5"/><circle cx="353.3" cy="485.7" r="5"/><circle cx="400.0" cy="575.0" r="5"/><circle cx="450.0" cy="460.0" r="5"/><circle cx="449.3" cy="470.7" r="5"/><circle cx="458.3" cy="464.0" r="5"/><circle cx="460.7" cy="465.0" r="5"/><circle cx="473.3" cy="470.7" r="5"/><circle cx="489.3" cy="476.0" r="5"/><circle cx="290.0" cy="435.0" r="5"/><circle cx="200.2" cy="360.2" r="5"/><circle cx="204.4" cy="351.9" r="5"/><circle cx="350.2" cy="321.7" r="5"/><circle cx="361.7" cy="356.0" r="5"/><circle cx="350.2" cy="354.0" r="5"/><circle cx="344.0" cy="346.7" r="5"/><circle cx="345.0" cy="338.3" r="5"/><circle cx="399.2" cy="376.9" r="5"/><circle cx="240.8" cy="408.1" r="5"/><circle cx="290.8" cy="435.2" r="5"/><circle cx="320.0" cy="463.3" r="5"/><circle cx="337.7" cy="469.6" r="5"/><circle cx="529.9" cy="374.0" r="5"/><circle cx="487.1" cy="385.4" r="5"/><circle cx="533.7" cy="364.2" r="5"/><circle cx="570.9" cy="369.0" r="5"/><circle cx="546.8" cy="362.6" r="5"/><circle cx="533.5" cy="378.7" r="5"/><circle cx="518.1" cy="383.4" r="5"/><circle cx="566.0" cy="367.6" r="5"/><circle cx="571.5" cy="363.6" r="5"/><circle cx="511.5" cy="384.0" r="5"/><circle cx="524.2" cy="377.5" r="5"/><circle cx="538.9" cy="373.9" r="5"/><circle cx="575.9" cy="366.8" r="5"/><circle cx="576.2" cy="365.2" r="5"/><circle cx="551.4" cy="374.5" r="5"/><circle cx="522.9" cy="378.4" r="5"/><circle cx="539.6" cy="360.2" r="5"/><circle cx="550.6" cy="356.3" r="5"/><circle cx="560.4" cy="368.4" r="5"/><circle cx="489.8" cy="376.5" r="5"/><circle cx="560.2" cy="367.0" r="5"/><circle cx="516.8" cy="385.6" r="5"/><circle cx="503.9" cy="377.0" r="5"/><circle cx="565.6" cy="366.0" r="5"/><circle cx="529.4" cy="379.1" r="5"/><circle cx="532.8" cy="371.9" r="5"/><circle cx="485.4" cy="377.5" r="5"/><circle cx="562.0" cy="367.6" r="5"/><circle cx="517.9" cy="388.2" r="5"/><circle cx="514.4" cy="389.6" r="5"/><circle cx="551.2" cy="359.6" r="5"/><circle cx="547.4" cy="367.3" r="5"/><circle cx="499.2" cy="373.6" r="5"/><circle cx="525.9" cy="380.9" r="5"/><circle cx="527.8" cy="377.6" r="5"/><circle cx="544.2" cy="354.3" r="5"/><circle cx="529.7" cy="375.7" r="5"/><circle cx="543.7" cy="370.0" r="5"/><circle cx="551.1" cy="376.0" r="5"/><circle cx="524.0" cy="386.6" r="5"/><circle cx="566.7" cy="369.9" r="5"/><circle cx="548.1" cy="374.1" r="5"/><circle cx="559.3" cy="371.5" r="5"/><circle cx="505.4" cy="378.7" r="5"/><circle cx="515.5" cy="376.4" r="5"/><circle cx="515.3" cy="386.3" r="5"/><circle cx="534.8" cy="376.8" r="5"/><circle cx="499.9" cy="373.3" r="5"/><circle cx="521.9" cy="384.2" r="5"/><circle cx="500.7" cy="377.0" r="5"/><circle cx="552.0" cy="368.0" r="5"/><circle cx="550.3" cy="357.8" r="5"/><circle cx="517.8" cy="379.8" r="5"/><circle cx="574.9" cy="364.6" r="5"/><circle cx="543.7" cy="358.2" r="5"/><circle cx="510.7" cy="373.0" r="5"/><circle cx="491.3" cy="388.5" r="5"/><circle cx="509.5" cy="372.7" r="5"/><circle cx="537.5" cy="369.8" r="5"/><circle cx="486.9" cy="386.1" r="5"/><circle cx="541.9" cy="356.2" r="5"/><circle cx="514.1" cy="375.4" r="5"/><circle cx="524.6" cy="381.2" r="5"/><circle cx="537.0" cy="382.3" r="5"/><circle cx="522.8" cy="382.5" r="5"/><circle cx="485.2" cy="381.3" r="5"/><circle cx="550.3" cy="360.7" r="5"/><circle cx="543.4" cy="368.5" r="5"/><circle cx="486.2" cy="381.2" r="5"/><circle cx="537.8" cy="379.7" r="5"/><circle cx="506.6" cy="383.3" r="5"/><circle cx="553.2" cy="367.4" r="5"/><circle cx="545.0" cy="354.6" r="5"/><circle cx="543.5" cy="362.3" r="5"/><circle cx="540.3" cy="379.9" r="5"/><circle cx="567.8" cy="364.1" r="5"/><circle cx="519.0" cy="382.8" r="5"/><circle cx="548.8" cy="374.1" r="5"/><circle cx="543.7" cy="377.1" r="5"/><circle cx="527.3" cy="385.9" r="5"/><circle cx="491.2" cy="383.7" r="5"/><circle cx="504.0" cy="376.7" r="5"/><circle cx="537.4" cy="380.9" r="5"/><circle cx="557.7" cy="367.3" r="5"/><circle cx="486.7" cy="386.4" r="5"/><circle cx="531.9" cy="370.6" r="5"/><circle cx="528.2" cy="383.2" r="5"/><circle cx="549.2" cy="374.5" r="5"/><circle cx="496.7" cy="381.7" r="5"/><circle cx="556.4" cy="363.4" r="5"/><circle cx="490.6" cy="381.0" r="5"/><circle cx="553.3" cy="368.3" r="5"/><circle cx="524.1" cy="384.1" r="5"/><circle cx="497.7" cy="390.4" r="5"/><circle cx="507.2" cy="375.7" r="5"/><circle cx="540.9" cy="363.7" r="5"/><circle cx="504.5" cy="377.2" r="5"/><circle cx="548.0" cy="368.1" r="5"/><circle cx="544.7" cy="373.1" r="5"/><circle cx="502.7" cy="389.2" r="5"/><circle cx="489.7" cy="383.9" r="5"/><circle cx="522.9" cy="385.6" r="5"/><circle cx="501.5" cy="376.8" r="5"/><circle cx="510.2" cy="384.0" r="5"/><circle cx="492.3" cy="387.3" r="5"/><circle cx="562.0" cy="366.4" r="5"/><circle cx="560.6" cy="374.7" r="5"/><circle cx="518.4" cy="381.9" r="5"/><circle cx="534.0" cy="372.9" r="5"/><circle cx="488.1" cy="387.6" r="5"/><circle cx="561.0" cy="373.6" r="5"/><circle cx="492.7" cy="375.1" r="5"/><circle cx="512.2" cy="379.6" r="5"/><circle cx="486.0" cy="384.6" r="5"/><circle cx="506.2" cy="360.5" r="5"/><circle cx="515.0" cy="356.8" r="5"/><circle cx="580.8" cy="362.0" r="5"/><circle cx="540.0" cy="353.8" r="5"/><circle cx="535.0" cy="385.0" r="5"/><circle cx="505.0" cy="392.5" r="5"/><circle cx="486.2" cy="392.0" r="5"/><circle cx="632.5" cy="303.8" r="5"/><circle cx="633.8" cy="303.0" r="5"/><circle cx="635.0" cy="302.5" r="5"/><circle cx="723.8" cy="295.0" r="5"/><circle cx="728.8" cy="298.0" r="5"/><circle cx="747.5" cy="306.5" r="5"/><circle cx="748.5" cy="307.2" r="5"/><circle cx="749.5" cy="307.5" r="5"/><circle cx="450.0" cy="460.5" r="5"/><circle cx="455.0" cy="463.0" r="5"/><circle cx="461.2" cy="465.5" r="5"/><circle cx="452.5" cy="462.0" r="5"/><circle cx="458.8" cy="464.5" r="5"/><circle cx="450.0" cy="470.8" r="5"/><circle cx="473.8" cy="470.8" r="5"/><circle cx="489.5" cy="475.8" r="5"/><circle cx="642.1" cy="815.7" r="5"/><circle cx="634.4" cy="779.6" r="5"/><circle cx="622.8" cy="782.5" r="5"/><circle cx="649.0" cy="784.6" r="5"/><circle cx="625.4" cy="789.9" r="5"/><circle cx="631.7" cy="798.3" r="5"/><circle cx="647.0" cy="827.0" r="5"/><circle cx="624.2" cy="781.0" r="5"/><circle cx="624.4" cy="805.9" r="5"/><circle cx="629.5" cy="820.0" r="5"/><circle cx="631.1" cy="792.4" r="5"/><circle cx="609.9" cy="803.8" r="5"/><circle cx="650.3" cy="781.4" r="5"/><circle cx="633.8" cy="785.7" r="5"/><circle cx="636.2" cy="807.5" r="5"/><circle cx="647.6" cy="793.8" r="5"/><circle cx="652.3" cy="793.7" r="5"/><circle cx="652.2" cy="822.8" r="5"/><circle cx="637.3" cy="808.8" r="5"/><circle cx="618.7" cy="810.3" r="5"/><circle cx="631.8" cy="818.0" r="5"/><circle cx="654.5" cy="823.8" r="5"/><circle cx="612.0" cy="808.1" r="5"/><circle cx="653.1" cy="832.5" r="5"/><circle cx="638.8" cy="796.9" r="5"/><circle cx="639.8" cy="826.9" r="5"/><circle cx="640.4" cy="796.0" r="5"/><circle cx="625.0" cy="810.2" r="5"/><circle cx="645.2" cy="779.4" r="5"/><circle cx="643.0" cy="803.9" r="5"/><circle cx="627.0" cy="797.3" r="5"/><circle cx="651.2" cy="824.2" r="5"/><circle cx="626.1" cy="805.5" r="5"/><circle cx="613.0" cy="797.0" r="5"/><circle cx="634.7" cy="816.0" r="5"/><circle cx="614.1" cy="791.4" r="5"/><circle cx="618.5" cy="801.9" r="5"/><circle cx="640.9" cy="777.9" r="5"/><circle cx="623.0" cy="781.8" r="5"/><circle cx="611.1" cy="801.9" r="5"/><circle cx="637.4" cy="797.7" r="5"/><circle cx="645.7" cy="780.4" r="5"/><circle cx="643.7" cy="783.6" r="5"/><circle cx="643.6" cy="791.8" r="5"/><circle cx="651.2" cy="789.8" r="5"/><circle cx="631.8" cy="786.5" r="5"/><circle cx="649.7" cy="783.1" r="5"/><circle cx="618.1" cy="808.8" r="5"/><circle cx="635.7" cy="796.9" r="5"/><circle cx="626.9" cy="799.1" r="5"/><circle cx="649.6" cy="788.9" r="5"/><circle cx="625.7" cy="816.4" r="5"/><circle cx="613.3" cy="792.5" r="5"/><circle cx="655.9" cy="779.6" r="5"/><circle cx="655.6" cy="790.9" r="5"/><circle cx="623.5" cy="791.5" r="5"/><circle cx="642.9" cy="821.9" r="5"/><circle cx="653.9" cy="792.2" r="5"/><circle cx="644.7" cy="812.5" r="5"/><circle cx="634.1" cy="792.0" r="5"/><circle cx="652.3" cy="814.6" r="5"/><circle cx="651.6" cy="819.4" r="5"/><circle cx="651.1" cy="824.8" r="5"/><circle cx="654.5" cy="829.7" r="5"/><circle cx="633.3" cy="785.9" r="5"/><circle cx="626.1" cy="819.0" r="5"/><circle cx="639.8" cy="783.7" r="5"/><circle cx="618.8" cy="807.3" r="5"/><circle cx="625.0" cy="808.0" r="5"/><circle cx="643.5" cy="792.9" r="5"/><circle cx="642.0" cy="820.3" r="5"/><circle cx="628.4" cy="780.9" r="5"/><circle cx="649.5" cy="827.9" r="5"/><circle cx="619.7" cy="795.6" r="5"/><circle cx="651.7" cy="780.0" r="5"/><circle cx="630.2" cy="789.4" r="5"/><circle cx="651.9" cy="783.5" r="5"/><circle cx="628.3" cy="818.9" r="5"/><circle cx="641.4" cy="800.0" r="5"/><circle cx="629.4" cy="804.1" r="5"/><circle cx="636.7" cy="777.7" r="5"/><circle cx="629.0" cy="814.0" r="5"/><circle cx="656.7" cy="821.6" r="5"/><circle cx="614.6" cy="807.2" r="5"/><circle cx="623.9" cy="816.9" r="5"/><circle cx="638.2" cy="820.0" r="5"/><circle cx="636.9" cy="797.7" r="5"/><circle cx="657.3" cy="789.3" r="5"/><circle cx="621.5" cy="813.5" r="5"/><circle cx="646.3" cy="818.2" r="5"/><circle cx="637.8" cy="780.4" r="5"/><circle cx="646.4" cy="825.2" r="5"/><circle cx="617.7" cy="785.9" r="5"/><circle cx="629.8" cy="783.3" r="5"/><circle cx="647.1" cy="796.1" r="5"/><circle cx="615.5" cy="785.4" r="5"/><circle cx="611.4" cy="803.1" r="5"/><circle cx="616.2" cy="801.5" r="5"/><circle cx="607.5" cy="811.7" r="5"/><circle cx="624.6" cy="818.1" r="5"/><circle cx="624.1" cy="809.3" r="5"/><circle cx="628.4" cy="814.6" r="5"/><circle cx="623.4" cy="795.0" r="5"/><circle cx="639.2" cy="781.5" r="5"/><circle cx="647.8" cy="781.1" r="5"/><circle cx="629.0" cy="788.2" r="5"/><circle cx="647.6" cy="807.2" r="5"/><circle cx="642.4" cy="818.4" r="5"/><circle cx="645.5" cy="819.7" r="5"/><circle cx="642.6" cy="786.3" r="5"/><circle cx="636.8" cy="818.9" r="5"/><circle cx="626.6" cy="812.2" r="5"/><circle cx="623.0" cy="807.7" r="5"/><circle cx="643.4" cy="820.8" r="5"/><circle cx="641.9" cy="800.7" r="5"/><circle cx="627.7" cy="798.6" r="5"/><circle cx="653.8" cy="777.0" r="5"/><circle cx="611.2" cy="813.5" r="5"/><circle cx="652.6" cy="812.6" r="5"/><circle cx="644.4" cy="799.7" r="5"/><circle cx="719.1" cy="775.3" r="5"/><circle cx="708.7" cy="776.2" r="5"/><circle cx="688.7" cy="782.4" r="5"/><circle cx="673.5" cy="779.0" r="5"/><circle cx="704.1" cy="777.8" r="5"/><circle cx="716.3" cy="776.3" r="5"/><circle cx="709.5" cy="781.8" r="5"/><circle cx="700.2" cy="778.8" r="5"/><circle cx="695.5" cy="778.1" r="5"/><circle cx="671.7" cy="781.2" r="5"/><circle cx="671.6" cy="781.2" r="5"/><circle cx="675.1" cy="781.4" r="5"/><circle cx="657.5" cy="781.8" r="5"/><circle cx="690.9" cy="779.7" r="5"/><circle cx="681.7" cy="780.6" r="5"/><circle cx="711.6" cy="780.4" r="5"/><circle cx="725.7" cy="779.4" r="5"/><circle cx="718.4" cy="776.5" r="5"/><circle cx="702.9" cy="779.5" r="5"/><circle cx="692.9" cy="778.7" r="5"/><circle cx="720.9" cy="777.4" r="5"/><circle cx="669.5" cy="782.2" r="5"/><circle cx="669.5" cy="782.9" r="5"/><circle cx="671.8" cy="783.0" r="5"/><circle cx="664.2" cy="782.2" r="5"/><circle cx="671.4" cy="780.3" r="5"/><circle cx="704.1" cy="780.1" r="5"/><circle cx="673.4" cy="781.2" r="5"/><circle cx="663.0" cy="783.5" r="5"/><circle cx="693.2" cy="779.9" r="5"/><circle cx="716.6" cy="778.7" r="5"/><circle cx="687.2" cy="778.6" r="5"/><circle cx="677.3" cy="786.3" r="5"/><circle cx="696.7" cy="778.6" r="5"/><circle cx="683.3" cy="780.7" r="5"/><circle cx="660.7" cy="781.9" r="5"/><circle cx="706.6" cy="779.8" r="5"/><circle cx="681.6" cy="784.9" r="5"/><circle cx="704.0" cy="778.3" r="5"/><circle cx="708.8" cy="778.0" r="5"/><circle cx="726.7" cy="762.6" r="5"/><circle cx="728.1" cy="777.5" r="5"/><circle cx="730.0" cy="774.6" r="5"/><circle cx="731.7" cy="755.1" r="5"/><circle cx="733.3" cy="758.1" r="5"/><circle cx="730.3" cy="765.4" r="5"/><circle cx="732.1" cy="770.2" r="5"/><circle cx="725.2" cy="775.4" r="5"/><circle cx="732.4" cy="765.6" r="5"/><circle cx="717.6" cy="758.3" r="5"/><circle cx="731.6" cy="763.0" r="5"/><circle cx="732.7" cy="758.8" r="5"/><circle cx="716.8" cy="761.6" r="5"/><circle cx="717.8" cy="765.3" r="5"/><circle cx="665.0" cy="802.5" r="5"/><circle cx="673.8" cy="806.2" r="5"/><circle cx="665.0" cy="815.0" r="5"/><circle cx="675.0" cy="823.8" r="5"/><circle cx="683.8" cy="826.2" r="5"/><circle cx="672.5" cy="833.8" r="5"/><circle cx="622.5" cy="827.5" r="5"/><circle cx="700.8" cy="802.0" r="5"/><circle cx="656.2" cy="802.5" r="5"/><circle cx="652.5" cy="812.5" r="5"/><circle cx="972.5" cy="407.1" r="5"/><circle cx="1009.9" cy="404.7" r="5"/><circle cx="926.7" cy="413.7" r="5"/><circle cx="1006.1" cy="308.9" r="5"/><circle cx="991.3" cy="291.9" r="5"/><circle cx="1041.7" cy="319.2" r="5"/><circle cx="986.7" cy="325.0" r="5"/><circle cx="917.5" cy="365.6" r="5"/><circle cx="989.3" cy="309.7" r="5"/><circle cx="960.2" cy="312.6" r="5"/><circle cx="1001.1" cy="409.1" r="5"/><circle cx="980.4" cy="404.4" r="5"/><circle cx="1048.3" cy="341.6" r="5"/><circle cx="1031.5" cy="396.1" r="5"/><circle cx="1066.5" cy="349.3" r="5"/><circle cx="1013.1" cy="360.7" r="5"/><circle cx="921.1" cy="349.0" r="5"/><circle cx="951.3" cy="345.6" r="5"/><circle cx="1099.2" cy="352.6" r="5"/><circle cx="1050.4" cy="348.8" r="5"/><circle cx="1128.2" cy="352.9" r="5"/><circle cx="1031.3" cy="323.2" r="5"/><circle cx="945.0" cy="330.0" r="5"/><circle cx="981.6" cy="370.4" r="5"/><circle cx="976.8" cy="303.8" r="5"/><circle cx="897.7" cy="393.4" r="5"/><circle cx="1019.2" cy="367.0" r="5"/><circle cx="939.6" cy="348.4" r="5"/><circle cx="1132.0" cy="342.9" r="5"/><circle cx="1000.8" cy="321.3" r="5"/><circle cx="1054.2" cy="361.1" r="5"/><circle cx="1045.6" cy="354.7" r="5"/><circle cx="954.3" cy="364.0" r="5"/><circle cx="1022.8" cy="358.4" r="5"/><circle cx="1052.3" cy="351.5" r="5"/><circle cx="975.7" cy="359.4" r="5"/><circle cx="1054.2" cy="365.0" r="5"/><circle cx="1024.1" cy="381.9" r="5"/><circle cx="964.3" cy="365.5" r="5"/><circle cx="1122.4" cy="378.8" r="5"/><circle cx="1068.6" cy="337.6" r="5"/><circle cx="1097.9" cy="382.2" r="5"/><circle cx="1020.3" cy="296.7" r="5"/><circle cx="924.3" cy="311.9" r="5"/><circle cx="926.9" cy="401.6" r="5"/><circle cx="1049.4" cy="300.1" r="5"/><circle cx="1052.7" cy="386.1" r="5"/><circle cx="936.1" cy="300.7" r="5"/><circle cx="971.9" cy="430.7" r="5"/><circle cx="1115.5" cy="348.4" r="5"/><circle cx="1015.1" cy="319.2" r="5"/><circle cx="1119.5" cy="363.6" r="5"/><circle cx="1015.8" cy="401.9" r="5"/><circle cx="952.3" cy="340.5" r="5"/><circle cx="992.2" cy="314.2" r="5"/><circle cx="931.4" cy="366.0" r="5"/><circle cx="1040.7" cy="380.6" r="5"/><circle cx="1031.7" cy="309.4" r="5"/><circle cx="955.1" cy="290.5" r="5"/><circle cx="1111.6" cy="347.1" r="5"/><circle cx="929.2" cy="385.8" r="5"/><circle cx="1094.8" cy="358.0" r="5"/><circle cx="958.1" cy="398.1" r="5"/><circle cx="951.0" cy="329.1" r="5"/><circle cx="936.5" cy="394.5" r="5"/><circle cx="949.4" cy="362.3" r="5"/><circle cx="1080.3" cy="370.3" r="5"/><circle cx="964.3" cy="326.4" r="5"/><circle cx="940.8" cy="375.3" r="5"/><circle cx="1041.9" cy="326.3" r="5"/><circle cx="967.4" cy="331.3" r="5"/><circle cx="944.1" cy="300.8" r="5"/><circle cx="1110.6" cy="323.5" r="5"/><circle cx="934.4" cy="339.3" r="5"/><circle cx="965.9" cy="344.4" r="5"/><circle cx="952.4" cy="283.3" r="5"/><circle cx="1003.1" cy="335.5" r="5"/><circle cx="988.3" cy="337.0" r="5"/><circle cx="984.4" cy="288.8" r="5"/><circle cx="964.0" cy="319.4" r="5"/><circle cx="975.4" cy="387.8" r="5"/><circle cx="1094.3" cy="362.4" r="5"/><circle cx="1041.2" cy="302.0" r="5"/><circle cx="1000.5" cy="337.7" r="5"/><circle cx="975.3" cy="388.3" r="5"/><circle cx="1020.8" cy="316.4" r="5"/><circle cx="1112.0" cy="327.8" r="5"/><circle cx="957.2" cy="396.5" r="5"/><circle cx="1130.7" cy="344.0" r="5"/><circle cx="1106.6" cy="348.1" r="5"/><circle cx="982.7" cy="354.7" r="5"/><circle cx="991.6" cy="377.4" r="5"/><circle cx="1010.3" cy="396.3" r="5"/><circle cx="950.2" cy="363.4" r="5"/><circle cx="1029.4" cy="368.9" r="5"/><circle cx="951.8" cy="357.5" r="5"/><circle cx="956.6" cy="348.7" r="5"/><circle cx="1052.1" cy="327.5" r="5"/><circle cx="1004.4" cy="301.7" r="5"/><circle cx="954.4" cy="321.4" r="5"/><circle cx="995.4" cy="350.1" r="5"/><circle cx="1073.5" cy="348.1" r="5"/><circle cx="936.9" cy="368.9" r="5"/><circle cx="940.9" cy="398.0" r="5"/><circle cx="957.9" cy="290.9" r="5"/><circle cx="1034.9" cy="390.4" r="5"/><circle cx="1035.4" cy="394.2" r="5"/><circle cx="1008.5" cy="404.8" r="5"/><circle cx="972.8" cy="344.2" r="5"/><circle cx="931.6" cy="317.1" r="5"/><circle cx="1002.2" cy="308.1" r="5"/><circle cx="1009.9" cy="329.0" r="5"/><circle cx="907.3" cy="372.9" r="5"/><circle cx="956.4" cy="387.9" r="5"/><circle cx="957.9" cy="336.1" r="5"/><circle cx="987.2" cy="317.7" r="5"/><circle cx="1063.9" cy="351.8" r="5"/><circle cx="934.4" cy="395.2" r="5"/><circle cx="891.0" cy="377.9" r="5"/><circle cx="911.4" cy="388.9" r="5"/><circle cx="1084.8" cy="381.1" r="5"/><circle cx="1106.8" cy="369.5" r="5"/><circle cx="957.2" cy="359.8" r="5"/><circle cx="981.9" cy="317.6" r="5"/><circle cx="995.4" cy="362.6" r="5"/><circle cx="1143.6" cy="358.3" r="5"/><circle cx="1008.6" cy="358.4" r="5"/><circle cx="988.8" cy="285.7" r="5"/><circle cx="954.3" cy="335.1" r="5"/><circle cx="979.4" cy="405.1" r="5"/><circle cx="1045.1" cy="346.1" r="5"/><circle cx="1094.8" cy="370.9" r="5"/><circle cx="1102.0" cy="347.8" r="5"/><circle cx="1132.1" cy="339.4" r="5"/><circle cx="1014.8" cy="288.1" r="5"/><circle cx="909.2" cy="385.1" r="5"/><circle cx="1010.7" cy="408.6" r="5"/><circle cx="955.8" cy="428.8" r="5"/><circle cx="949.9" cy="306.4" r="5"/><circle cx="1084.3" cy="345.7" r="5"/><circle cx="939.9" cy="423.8" r="5"/><circle cx="1051.0" cy="304.2" r="5"/><circle cx="962.8" cy="422.2" r="5"/><circle cx="1026.3" cy="387.0" r="5"/><circle cx="922.5" cy="365.1" r="5"/><circle cx="995.9" cy="415.8" r="5"/><circle cx="921.8" cy="337.8" r="5"/><circle cx="955.3" cy="316.0" r="5"/><circle cx="982.2" cy="313.6" r="5"/><circle cx="909.2" cy="366.0" r="5"/><circle cx="1021.6" cy="323.7" r="5"/><circle cx="944.2" cy="409.6" r="5"/><circle cx="1117.2" cy="377.6" r="5"/><circle cx="953.6" cy="310.5" r="5"/><circle cx="920.0" cy="339.9" r="5"/><circle cx="967.1" cy="424.6" r="5"/><circle cx="1002.2" cy="297.4" r="5"/><circle cx="1020.0" cy="349.9" r="5"/><circle cx="1000.4" cy="377.6" r="5"/><circle cx="1047.1" cy="379.3" r="5"/><circle cx="1144.0" cy="366.3" r="5"/><circle cx="937.1" cy="337.8" r="5"/><circle cx="904.8" cy="356.1" r="5"/><circle cx="929.8" cy="314.5" r="5"/><circle cx="1040.9" cy="360.8" r="5"/><circle cx="1051.6" cy="317.1" r="5"/><circle cx="1034.6" cy="402.6" r="5"/><circle cx="990.4" cy="297.6" r="5"/><circle cx="930.3" cy="365.6" r="5"/><circle cx="1071.6" cy="310.7" r="5"/><circle cx="1025.4" cy="399.0" r="5"/><circle cx="1099.3" cy="386.9" r="5"/><circle cx="1026.9" cy="305.4" r="5"/><circle cx="1131.7" cy="352.8" r="5"/><circle cx="1048.0" cy="343.4" r="5"/><circle cx="1028.3" cy="402.6" r="5"/><circle cx="920.5" cy="393.0" r="5"/><circle cx="979.5" cy="378.3" r="5"/><circle cx="1026.3" cy="328.0" r="5"/><circle cx="1044.3" cy="346.4" r="5"/><circle cx="969.9" cy="361.9" r="5"/><circle cx="1009.4" cy="368.9" r="5"/><circle cx="928.7" cy="323.7" r="5"/><circle cx="1064.0" cy="329.0" r="5"/><circle cx="1045.0" cy="307.8" r="5"/><circle cx="1000.7" cy="305.0" r="5"/><circle cx="982.4" cy="424.8" r="5"/><circle cx="949.3" cy="371.2" r="5"/><circle cx="998.4" cy="298.9" r="5"/><circle cx="948.8" cy="345.4" r="5"/><circle cx="993.3" cy="411.6" r="5"/><circle cx="999.0" cy="315.5" r="5"/><circle cx="940.1" cy="317.3" r="5"/><circle cx="1099.3" cy="364.0" r="5"/><circle cx="998.3" cy="336.7" r="5"/><circle cx="1013.1" cy="337.5" r="5"/><circle cx="1074.0" cy="343.7" r="5"/><circle cx="1149.0" cy="366.7" r="5"/><circle cx="1000.5" cy="316.0" r="5"/><circle cx="1056.3" cy="363.3" r="5"/><circle cx="1150.4" cy="373.3" r="5"/><circle cx="980.3" cy="373.8" r="5"/><circle cx="1053.2" cy="348.1" r="5"/><circle cx="1046.0" cy="340.8" r="5"/><circle cx="912.9" cy="382.0" r="5"/><circle cx="909.8" cy="337.4" r="5"/><circle cx="1027.1" cy="313.0" r="5"/><circle cx="993.0" cy="283.3" r="5"/><circle cx="950.1" cy="296.1" r="5"/><circle cx="1080.9" cy="371.5" r="5"/><circle cx="1111.1" cy="352.1" r="5"/><circle cx="1013.0" cy="398.7" r="5"/><circle cx="939.6" cy="338.5" r="5"/><circle cx="928.9" cy="299.7" r="5"/><circle cx="946.9" cy="323.4" r="5"/><circle cx="962.5" cy="396.2" r="5"/><circle cx="1016.2" cy="400.5" r="5"/><circle cx="996.1" cy="346.8" r="5"/><circle cx="975.3" cy="305.2" r="5"/><circle cx="1031.6" cy="369.2" r="5"/><circle cx="983.4" cy="306.8" r="5"/><circle cx="1043.8" cy="361.5" r="5"/><circle cx="941.0" cy="387.0" r="5"/><circle cx="1058.9" cy="367.9" r="5"/><circle cx="1055.6" cy="318.7" r="5"/><circle cx="1010.9" cy="366.4" r="5"/><circle cx="992.4" cy="395.7" r="5"/><circle cx="901.5" cy="362.3" r="5"/><circle cx="1009.3" cy="287.8" r="5"/><circle cx="1113.0" cy="373.1" r="5"/><circle cx="1038.4" cy="393.9" r="5"/><circle cx="914.5" cy="334.7" r="5"/><circle cx="975.6" cy="419.0" r="5"/><circle cx="913.2" cy="351.3" r="5"/><circle cx="1087.6" cy="361.8" r="5"/><circle cx="997.8" cy="325.6" r="5"/><circle cx="1100.2" cy="332.6" r="5"/><circle cx="1081.2" cy="359.5" r="5"/><circle cx="1136.3" cy="369.1" r="5"/><circle cx="1010.3" cy="379.1" r="5"/><circle cx="1055.5" cy="316.3" r="5"/><circle cx="976.6" cy="328.4" r="5"/><circle cx="1017.7" cy="412.5" r="5"/><circle cx="974.4" cy="337.7" r="5"/><circle cx="1054.4" cy="361.6" r="5"/><circle cx="1080.5" cy="332.1" r="5"/><circle cx="1116.8" cy="334.9" r="5"/><circle cx="1008.3" cy="333.8" r="5"/><circle cx="1089.1" cy="357.9" r="5"/><circle cx="973.9" cy="368.2" r="5"/><circle cx="1016.8" cy="322.0" r="5"/><circle cx="1124.0" cy="360.7" r="5"/><circle cx="1032.6" cy="392.6" r="5"/><circle cx="949.6" cy="313.5" r="5"/><circle cx="979.3" cy="298.4" r="5"/><circle cx="1073.5" cy="339.7" r="5"/><circle cx="970.6" cy="417.0" r="5"/><circle cx="987.8" cy="367.9" r="5"/><circle cx="961.2" cy="311.6" r="5"/><circle cx="1015.8" cy="343.6" r="5"/><circle cx="931.4" cy="393.6" r="5"/><circle cx="1041.1" cy="353.1" r="5"/><circle cx="931.4" cy="405.8" r="5"/><circle cx="965.7" cy="395.7" r="5"/><circle cx="931.2" cy="355.3" r="5"/><circle cx="1013.4" cy="353.8" r="5"/><circle cx="985.3" cy="332.7" r="5"/><circle cx="976.0" cy="359.6" r="5"/><circle cx="974.0" cy="315.2" r="5"/><circle cx="1016.6" cy="373.0" r="5"/><circle cx="950.7" cy="366.5" r="5"/><circle cx="1024.0" cy="385.4" r="5"/><circle cx="960.6" cy="419.6" r="5"/><circle cx="918.5" cy="383.4" r="5"/><circle cx="1032.0" cy="331.7" r="5"/><circle cx="963.6" cy="378.4" r="5"/><circle cx="936.9" cy="410.6" r="5"/><circle cx="950.7" cy="354.6" r="5"/><circle cx="929.1" cy="308.6" r="5"/><circle cx="1004.5" cy="394.8" r="5"/><circle cx="965.3" cy="360.4" r="5"/><circle cx="1141.3" cy="370.4" r="5"/><circle cx="923.2" cy="339.5" r="5"/><circle cx="926.2" cy="411.6" r="5"/><circle cx="968.9" cy="396.7" r="5"/><circle cx="1033.4" cy="338.6" r="5"/><circle cx="963.3" cy="355.8" r="5"/><circle cx="941.8" cy="307.1" r="5"/><circle cx="908.9" cy="342.8" r="5"/><circle cx="1142.6" cy="372.5" r="5"/><circle cx="1071.4" cy="372.5" r="5"/><circle cx="939.5" cy="375.6" r="5"/><circle cx="944.8" cy="363.8" r="5"/><circle cx="1119.8" cy="351.4" r="5"/><circle cx="1051.2" cy="313.0" r="5"/><circle cx="1038.9" cy="381.2" r="5"/><circle cx="980.8" cy="326.8" r="5"/><circle cx="936.4" cy="402.2" r="5"/><circle cx="1116.2" cy="361.9" r="5"/><circle cx="1115.9" cy="332.9" r="5"/><circle cx="958.1" cy="301.4" r="5"/><circle cx="1159.0" cy="354.9" r="5"/><circle cx="944.8" cy="371.4" r="5"/><circle cx="1009.4" cy="342.8" r="5"/><circle cx="941.8" cy="385.5" r="5"/><circle cx="1061.4" cy="323.8" r="5"/><circle cx="973.3" cy="310.9" r="5"/><circle cx="936.9" cy="369.0" r="5"/><circle cx="969.3" cy="419.1" r="5"/><circle cx="988.1" cy="402.2" r="5"/><circle cx="933.2" cy="385.1" r="5"/><circle cx="999.5" cy="404.1" r="5"/><circle cx="925.0" cy="321.8" r="5"/><circle cx="931.6" cy="412.5" r="5"/><circle cx="1034.9" cy="365.1" r="5"/><circle cx="1088.3" cy="370.6" r="5"/><circle cx="1005.5" cy="308.2" r="5"/><circle cx="971.2" cy="329.9" r="5"/><circle cx="941.8" cy="292.3" r="5"/><circle cx="964.2" cy="363.4" r="5"/><circle cx="965.3" cy="329.9" r="5"/><circle cx="907.9" cy="363.5" r="5"/><circle cx="972.5" cy="341.7" r="5"/><circle cx="958.4" cy="397.8" r="5"/><circle cx="1057.1" cy="369.5" r="5"/><circle cx="920.7" cy="371.6" r="5"/><circle cx="1001.3" cy="309.6" r="5"/><circle cx="1019.1" cy="341.9" r="5"/><circle cx="1061.0" cy="346.2" r="5"/><circle cx="1058.8" cy="361.2" r="5"/><circle cx="940.1" cy="292.4" r="5"/><circle cx="964.6" cy="352.9" r="5"/><circle cx="1023.8" cy="310.3" r="5"/><circle cx="961.7" cy="333.3" r="5"/><circle cx="942.4" cy="376.5" r="5"/><circle cx="987.0" cy="345.9" r="5"/><circle cx="1098.3" cy="363.8" r="5"/><circle cx="1033.8" cy="368.8" r="5"/><circle cx="954.0" cy="343.0" r="5"/><circle cx="1008.2" cy="385.0" r="5"/><circle cx="1144.1" cy="361.2" r="5"/><circle cx="924.5" cy="331.1" r="5"/><circle cx="1029.1" cy="336.8" r="5"/><circle cx="1004.0" cy="369.1" r="5"/><circle cx="948.3" cy="411.1" r="5"/><circle cx="949.5" cy="411.6" r="5"/><circle cx="1002.2" cy="355.9" r="5"/><circle cx="991.6" cy="406.2" r="5"/><circle cx="1068.8" cy="359.4" r="5"/><circle cx="1084.8" cy="334.1" r="5"/><circle cx="912.2" cy="377.2" r="5"/><circle cx="1093.9" cy="334.7" r="5"/><circle cx="1113.2" cy="384.3" r="5"/><circle cx="1097.7" cy="347.6" r="5"/><circle cx="976.7" cy="363.1" r="5"/><circle cx="1101.9" cy="350.1" r="5"/><circle cx="924.6" cy="336.0" r="5"/><circle cx="1014.9" cy="337.1" r="5"/><circle cx="936.6" cy="353.2" r="5"/><circle cx="1114.9" cy="336.3" r="5"/><circle cx="943.1" cy="387.0" r="5"/><circle cx="981.8" cy="350.5" r="5"/><circle cx="945.6" cy="350.0" r="5"/><circle cx="1046.9" cy="344.1" r="5"/><circle cx="1131.6" cy="378.5" r="5"/><circle cx="1062.9" cy="349.0" r="5"/><circle cx="1062.5" cy="352.2" r="5"/><circle cx="1142.9" cy="349.5" r="5"/><circle cx="1077.5" cy="342.3" r="5"/><circle cx="974.2" cy="319.8" r="5"/><circle cx="1037.4" cy="382.1" r="5"/><circle cx="1047.7" cy="320.2" r="5"/><circle cx="1101.7" cy="342.9" r="5"/><circle cx="939.9" cy="384.6" r="5"/><circle cx="1100.2" cy="329.7" r="5"/><circle cx="986.9" cy="321.1" r="5"/><circle cx="955.3" cy="381.0" r="5"/><circle cx="994.4" cy="325.1" r="5"/><circle cx="945.1" cy="327.5" r="5"/><circle cx="961.8" cy="350.1" r="5"/><circle cx="913.6" cy="350.5" r="5"/><circle cx="957.6" cy="410.5" r="5"/><circle cx="1010.4" cy="333.4" r="5"/><circle cx="991.7" cy="347.0" r="5"/><circle cx="983.2" cy="362.9" r="5"/><circle cx="927.5" cy="400.2" r="5"/><circle cx="1061.7" cy="370.1" r="5"/><circle cx="1133.8" cy="349.7" r="5"/><circle cx="1064.1" cy="347.4" r="5"/><circle cx="934.4" cy="415.8" r="5"/><circle cx="1108.9" cy="362.9" r="5"/><circle cx="979.5" cy="411.4" r="5"/><circle cx="994.5" cy="374.4" r="5"/><circle cx="1038.3" cy="338.5" r="5"/><circle cx="939.7" cy="385.9" r="5"/><circle cx="989.3" cy="358.8" r="5"/><circle cx="944.6" cy="335.2" r="5"/><circle cx="1134.0" cy="322.1" r="5"/><circle cx="899.5" cy="382.9" r="5"/><circle cx="941.8" cy="306.2" r="5"/><circle cx="1105.1" cy="338.2" r="5"/><circle cx="991.3" cy="341.3" r="5"/><circle cx="946.9" cy="408.8" r="5"/><circle cx="998.5" cy="392.1" r="5"/><circle cx="1121.7" cy="353.5" r="5"/><circle cx="1004.4" cy="313.4" r="5"/><circle cx="960.5" cy="377.8" r="5"/><circle cx="969.8" cy="364.8" r="5"/><circle cx="924.6" cy="309.8" r="5"/><circle cx="996.2" cy="401.3" r="5"/><circle cx="941.5" cy="330.1" r="5"/><circle cx="1016.7" cy="396.0" r="5"/><circle cx="1006.6" cy="404.7" r="5"/><circle cx="1023.5" cy="339.2" r="5"/><circle cx="1110.7" cy="342.6" r="5"/><circle cx="930.4" cy="311.9" r="5"/><circle cx="1030.5" cy="388.7" r="5"/><circle cx="1011.2" cy="331.8" r="5"/><circle cx="1119.3" cy="335.1" r="5"/><circle cx="1041.6" cy="330.8" r="5"/><circle cx="915.6" cy="338.6" r="5"/><circle cx="937.1" cy="389.6" r="5"/><circle cx="942.3" cy="348.0" r="5"/><circle cx="1147.8" cy="349.7" r="5"/><circle cx="1127.7" cy="367.4" r="5"/><circle cx="1050.2" cy="336.9" r="5"/><circle cx="955.8" cy="335.7" r="5"/><circle cx="1073.1" cy="374.0" r="5"/><circle cx="954.4" cy="409.5" r="5"/><circle cx="1160.1" cy="365.1" r="5"/><circle cx="1046.2" cy="302.2" r="5"/><circle cx="967.9" cy="398.0" r="5"/><circle cx="961.5" cy="374.3" r="5"/><circle cx="1045.4" cy="332.0" r="5"/><circle cx="934.4" cy="320.8" r="5"/><circle cx="1046.3" cy="343.5" r="5"/><circle cx="959.5" cy="334.3" r="5"/><circle cx="1042.3" cy="304.8" r="5"/><circle cx="996.1" cy="381.8" r="5"/><circle cx="988.6" cy="317.9" r="5"/><circle cx="1042.2" cy="358.8" r="5"/><circle cx="929.4" cy="405.0" r="5"/><circle cx="1007.1" cy="424.6" r="5"/><circle cx="1052.2" cy="318.4" r="5"/><circle cx="934.2" cy="365.1" r="5"/><circle cx="970.8" cy="297.3" r="5"/><circle cx="966.8" cy="289.2" r="5"/><circle cx="941.0" cy="344.0" r="5"/><circle cx="895.2" cy="369.5" r="5"/><circle cx="950.2" cy="365.5" r="5"/><circle cx="1019.8" cy="306.6" r="5"/><circle cx="975.2" cy="419.2" r="5"/><circle cx="914.1" cy="378.9" r="5"/><circle cx="1122.9" cy="364.5" r="5"/><circle cx="1123.7" cy="327.8" r="5"/><circle cx="906.9" cy="342.2" r="5"/><circle cx="1069.4" cy="362.8" r="5"/><circle cx="959.5" cy="312.8" r="5"/><circle cx="1042.5" cy="395.6" r="5"/><circle cx="968.0" cy="299.8" r="5"/><circle cx="986.4" cy="317.6" r="5"/><circle cx="1087.9" cy="344.0" r="5"/><circle cx="1045.8" cy="373.6" r="5"/><circle cx="1026.1" cy="320.1" r="5"/><circle cx="911.3" cy="409.6" r="5"/><circle cx="1065.7" cy="356.4" r="5"/><circle cx="1008.6" cy="408.6" r="5"/><circle cx="921.4" cy="382.4" r="5"/><circle cx="893.7" cy="373.2" r="5"/><circle cx="958.6" cy="308.6" r="5"/><circle cx="952.5" cy="389.2" r="5"/><circle cx="929.1" cy="361.9" r="5"/><circle cx="1120.3" cy="359.7" r="5"/><circle cx="1082.5" cy="342.7" r="5"/><circle cx="990.9" cy="343.8" r="5"/><circle cx="1054.2" cy="378.4" r="5"/><circle cx="1010.9" cy="302.2" r="5"/><circle cx="980.1" cy="337.7" r="5"/><circle cx="919.7" cy="299.5" r="5"/><circle cx="1014.1" cy="410.5" r="5"/><circle cx="1034.9" cy="322.6" r="5"/><circle cx="1137.0" cy="372.3" r="5"/><circle cx="935.1" cy="361.3" r="5"/><circle cx="1006.5" cy="343.0" r="5"/><circle cx="1111.0" cy="344.1" r="5"/><circle cx="999.4" cy="322.8" r="5"/><circle cx="984.3" cy="393.5" r="5"/><circle cx="1071.3" cy="334.1" r="5"/><circle cx="949.6" cy="283.0" r="5"/><circle cx="1063.2" cy="335.3" r="5"/><circle cx="998.3" cy="337.9" r="5"/><circle cx="936.4" cy="305.5" r="5"/><circle cx="1046.0" cy="344.4" r="5"/><circle cx="952.9" cy="407.9" r="5"/><circle cx="1074.5" cy="373.9" r="5"/><circle cx="1103.8" cy="366.4" r="5"/><circle cx="1108.3" cy="378.4" r="5"/><circle cx="978.0" cy="318.0" r="5"/><circle cx="933.2" cy="314.3" r="5"/><circle cx="940.9" cy="311.2" r="5"/><circle cx="1063.1" cy="365.5" r="5"/><circle cx="907.4" cy="350.3" r="5"/><circle cx="1086.4" cy="362.3" r="5"/><circle cx="976.5" cy="349.1" r="5"/><circle cx="1031.4" cy="328.7" r="5"/><circle cx="979.7" cy="311.8" r="5"/><circle cx="1065.8" cy="314.5" r="5"/><circle cx="979.1" cy="313.4" r="5"/><circle cx="993.2" cy="309.4" r="5"/><circle cx="936.9" cy="313.3" r="5"/><circle cx="1035.1" cy="372.2" r="5"/><circle cx="989.3" cy="389.5" r="5"/><circle cx="957.2" cy="309.3" r="5"/><circle cx="1089.5" cy="376.3" r="5"/><circle cx="1054.9" cy="358.2" r="5"/><circle cx="1072.5" cy="379.1" r="5"/><circle cx="1004.0" cy="387.6" r="5"/><circle cx="1036.9" cy="347.6" r="5"/><circle cx="998.6" cy="303.3" r="5"/><circle cx="1099.9" cy="344.3" r="5"/><circle cx="907.4" cy="361.5" r="5"/><circle cx="1042.2" cy="315.6" r="5"/><circle cx="1013.4" cy="305.4" r="5"/><circle cx="1118.3" cy="376.1" r="5"/><circle cx="1079.4" cy="359.5" r="5"/><circle cx="990.2" cy="370.5" r="5"/><circle cx="927.3" cy="316.6" r="5"/><circle cx="958.7" cy="374.7" r="5"/><circle cx="968.1" cy="355.8" r="5"/><circle cx="1113.0" cy="329.0" r="5"/><circle cx="1049.2" cy="361.3" r="5"/><circle cx="923.8" cy="327.3" r="5"/><circle cx="962.4" cy="381.1" r="5"/><circle cx="964.4" cy="380.6" r="5"/><circle cx="975.1" cy="302.3" r="5"/><circle cx="1073.0" cy="346.0" r="5"/><circle cx="1013.8" cy="339.2" r="5"/><circle cx="919.7" cy="383.4" r="5"/><circle cx="998.0" cy="395.8" r="5"/><circle cx="1135.0" cy="335.5" r="5"/><circle cx="1113.4" cy="346.1" r="5"/><circle cx="1053.6" cy="347.4" r="5"/><circle cx="1018.0" cy="382.8" r="5"/><circle cx="924.1" cy="299.9" r="5"/><circle cx="1033.9" cy="368.5" r="5"/><circle cx="1013.5" cy="402.9" r="5"/><circle cx="1059.1" cy="342.0" r="5"/><circle cx="1045.5" cy="372.1" r="5"/><circle cx="968.8" cy="313.3" r="5"/><circle cx="933.5" cy="297.2" r="5"/><circle cx="979.1" cy="378.7" r="5"/><circle cx="992.8" cy="307.7" r="5"/><circle cx="950.1" cy="286.0" r="5"/><circle cx="989.8" cy="404.8" r="5"/><circle cx="898.7" cy="380.8" r="5"/><circle cx="1048.1" cy="310.2" r="5"/><circle cx="1059.4" cy="343.9" r="5"/><circle cx="948.6" cy="314.7" r="5"/><circle cx="948.5" cy="401.7" r="5"/><circle cx="1085.4" cy="373.8" r="5"/><circle cx="1010.4" cy="325.4" r="5"/><circle cx="959.6" cy="362.5" r="5"/><circle cx="993.0" cy="304.3" r="5"/><circle cx="961.4" cy="388.5" r="5"/><circle cx="1088.9" cy="329.9" r="5"/><circle cx="1039.1" cy="391.1" r="5"/><circle cx="997.0" cy="294.1" r="5"/><circle cx="956.0" cy="315.0" r="5"/><circle cx="963.5" cy="364.1" r="5"/><circle cx="1001.1" cy="391.8" r="5"/><circle cx="1025.5" cy="397.4" r="5"/><circle cx="962.4" cy="307.7" r="5"/><circle cx="925.1" cy="419.6" r="5"/><circle cx="988.6" cy="323.7" r="5"/><circle cx="1008.6" cy="339.0" r="5"/><circle cx="934.0" cy="356.8" r="5"/><circle cx="945.6" cy="417.6" r="5"/><circle cx="967.0" cy="324.3" r="5"/><circle cx="1052.6" cy="328.5" r="5"/><circle cx="1010.7" cy="368.0" r="5"/><circle cx="1021.0" cy="351.1" r="5"/><circle cx="994.3" cy="390.1" r="5"/><circle cx="1073.8" cy="336.4" r="5"/><circle cx="1010.1" cy="364.6" r="5"/><circle cx="985.7" cy="313.8" r="5"/><circle cx="944.7" cy="407.5" r="5"/><circle cx="991.4" cy="346.6" r="5"/><circle cx="997.7" cy="299.1" r="5"/><circle cx="948.4" cy="320.3" r="5"/><circle cx="1009.8" cy="392.6" r="5"/><circle cx="958.1" cy="413.2" r="5"/><circle cx="970.2" cy="410.6" r="5"/><circle cx="993.4" cy="311.7" r="5"/><circle cx="955.8" cy="361.7" r="5"/><circle cx="960.0" cy="344.5" r="5"/><circle cx="1016.0" cy="348.0" r="5"/><circle cx="923.8" cy="357.1" r="5"/><circle cx="962.6" cy="376.1" r="5"/><circle cx="930.7" cy="387.5" r="5"/><circle cx="1131.0" cy="367.5" r="5"/><circle cx="1040.6" cy="361.3" r="5"/><circle cx="958.9" cy="348.0" r="5"/><circle cx="1046.0" cy="359.2" r="5"/><circle cx="941.9" cy="332.5" r="5"/><circle cx="1047.2" cy="309.5" r="5"/><circle cx="939.6" cy="378.7" r="5"/><circle cx="1001.0" cy="284.9" r="5"/><circle cx="1053.2" cy="382.9" r="5"/><circle cx="992.1" cy="386.9" r="5"/><circle cx="987.7" cy="290.6" r="5"/><circle cx="1079.2" cy="376.7" r="5"/><circle cx="962.3" cy="392.2" r="5"/><circle cx="969.2" cy="382.2" r="5"/><circle cx="1109.4" cy="339.5" r="5"/><circle cx="915.0" cy="376.3" r="5"/><circle cx="1075.8" cy="332.4" r="5"/><circle cx="988.9" cy="319.6" r="5"/><circle cx="972.7" cy="329.9" r="5"/><circle cx="998.6" cy="320.0" r="5"/><circle cx="1050.2" cy="326.1" r="5"/><circle cx="1031.1" cy="404.6" r="5"/><circle cx="1046.5" cy="352.5" r="5"/><circle cx="945.8" cy="405.7" r="5"/><circle cx="912.4" cy="391.1" r="5"/><circle cx="1003.0" cy="368.7" r="5"/><circle cx="913.9" cy="381.4" r="5"/><circle cx="1120.4" cy="361.7" r="5"/><circle cx="1085.8" cy="325.2" r="5"/><circle cx="986.4" cy="371.7" r="5"/><circle cx="1049.9" cy="360.1" r="5"/><circle cx="931.5" cy="394.6" r="5"/><circle cx="1013.1" cy="403.3" r="5"/><circle cx="931.8" cy="309.5" r="5"/><circle cx="1037.4" cy="320.3" r="5"/><circle cx="1087.9" cy="391.2" r="5"/><circle cx="995.1" cy="340.2" r="5"/><circle cx="991.3" cy="391.5" r="5"/><circle cx="949.7" cy="363.4" r="5"/><circle cx="1019.2" cy="394.0" r="5"/><circle cx="926.0" cy="371.2" r="5"/><circle cx="1039.3" cy="333.1" r="5"/><circle cx="958.6" cy="347.0" r="5"/><circle cx="1020.8" cy="402.3" r="5"/><circle cx="1049.4" cy="353.7" r="5"/><circle cx="1028.8" cy="322.0" r="5"/><circle cx="1076.4" cy="354.1" r="5"/><circle cx="979.2" cy="335.7" r="5"/><circle cx="1021.7" cy="323.6" r="5"/><circle cx="919.9" cy="296.3" r="5"/><circle cx="998.6" cy="292.4" r="5"/><circle cx="976.3" cy="407.9" r="5"/><circle cx="1016.9" cy="379.7" r="5"/><circle cx="949.0" cy="411.4" r="5"/><circle cx="998.9" cy="354.7" r="5"/><circle cx="1015.2" cy="380.8" r="5"/><circle cx="1038.3" cy="322.1" r="5"/><circle cx="973.8" cy="313.7" r="5"/><circle cx="1124.0" cy="346.9" r="5"/><circle cx="1014.1" cy="352.2" r="5"/><circle cx="1133.0" cy="355.4" r="5"/><circle cx="1035.0" cy="341.1" r="5"/><circle cx="1043.8" cy="318.0" r="5"/><circle cx="1102.9" cy="379.4" r="5"/><circle cx="1039.7" cy="340.0" r="5"/><circle cx="913.2" cy="316.1" r="5"/><circle cx="1008.2" cy="356.9" r="5"/><circle cx="1121.3" cy="337.9" r="5"/><circle cx="944.9" cy="376.0" r="5"/><circle cx="1029.5" cy="351.8" r="5"/><circle cx="1078.1" cy="327.8" r="5"/><circle cx="925.9" cy="405.0" r="5"/><circle cx="969.9" cy="392.0" r="5"/><circle cx="1005.4" cy="318.6" r="5"/><circle cx="1111.2" cy="334.0" r="5"/><circle cx="1068.6" cy="319.3" r="5"/><circle cx="989.0" cy="316.1" r="5"/><circle cx="1026.8" cy="392.7" r="5"/><circle cx="1026.0" cy="392.3" r="5"/><circle cx="1125.8" cy="363.3" r="5"/><circle cx="983.9" cy="307.6" r="5"/><circle cx="971.0" cy="364.4" r="5"/><circle cx="977.9" cy="332.2" r="5"/><circle cx="1133.0" cy="352.8" r="5"/><circle cx="998.1" cy="343.9" r="5"/><circle cx="1092.2" cy="344.2" r="5"/><circle cx="1059.7" cy="329.0" r="5"/><circle cx="1098.5" cy="371.7" r="5"/><circle cx="1143.7" cy="369.3" r="5"/><circle cx="938.0" cy="299.6" r="5"/><circle cx="1092.0" cy="379.6" r="5"/><circle cx="1118.6" cy="339.5" r="5"/><circle cx="915.8" cy="344.8" r="5"/><circle cx="981.0" cy="309.9" r="5"/><circle cx="1061.6" cy="357.0" r="5"/><circle cx="971.0" cy="329.5" r="5"/><circle cx="926.5" cy="348.5" r="5"/><circle cx="967.9" cy="391.1" r="5"/><circle cx="990.7" cy="397.1" r="5"/><circle cx="963.3" cy="366.3" r="5"/><circle cx="1056.2" cy="302.7" r="5"/><circle cx="994.6" cy="359.1" r="5"/><circle cx="1075.1" cy="364.5" r="5"/><circle cx="967.5" cy="426.4" r="5"/><circle cx="943.7" cy="380.3" r="5"/><circle cx="1002.0" cy="378.0" r="5"/><circle cx="1148.2" cy="355.3" r="5"/><circle cx="1086.2" cy="368.9" r="5"/><circle cx="948.7" cy="362.6" r="5"/><circle cx="990.3" cy="349.7" r="5"/><circle cx="953.8" cy="326.6" r="5"/><circle cx="942.5" cy="363.2" r="5"/><circle cx="1099.0" cy="330.9" r="5"/><circle cx="1084.0" cy="356.5" r="5"/><circle cx="1036.7" cy="321.3" r="5"/><circle cx="916.1" cy="352.3" r="5"/><circle cx="975.4" cy="426.1" r="5"/><circle cx="929.6" cy="305.8" r="5"/><circle cx="1051.7" cy="323.7" r="5"/><circle cx="925.4" cy="320.7" r="5"/><circle cx="946.0" cy="331.8" r="5"/><circle cx="1025.0" cy="362.1" r="5"/><circle cx="1005.0" cy="379.7" r="5"/><circle cx="962.7" cy="388.4" r="5"/><circle cx="1038.7" cy="309.3" r="5"/><circle cx="1076.9" cy="337.4" r="5"/><circle cx="1023.2" cy="391.7" r="5"/><circle cx="1062.8" cy="345.5" r="5"/><circle cx="946.5" cy="413.3" r="5"/><circle cx="955.6" cy="336.0" r="5"/><circle cx="1021.0" cy="411.0" r="5"/><circle cx="979.6" cy="356.6" r="5"/><circle cx="1128.1" cy="364.7" r="5"/><circle cx="954.1" cy="371.6" r="5"/><circle cx="1025.2" cy="389.3" r="5"/><circle cx="1076.5" cy="368.2" r="5"/><circle cx="1104.5" cy="362.0" r="5"/><circle cx="931.6" cy="408.5" r="5"/><circle cx="996.5" cy="363.7" r="5"/><circle cx="1010.8" cy="398.5" r="5"/><circle cx="920.4" cy="417.2" r="5"/><circle cx="995.7" cy="370.4" r="5"/><circle cx="970.3" cy="394.9" r="5"/><circle cx="1009.8" cy="350.8" r="5"/><circle cx="1001.2" cy="357.7" r="5"/><circle cx="994.2" cy="386.1" r="5"/><circle cx="1064.8" cy="360.0" r="5"/><circle cx="1101.0" cy="364.0" r="5"/><circle cx="913.1" cy="359.1" r="5"/><circle cx="999.8" cy="408.1" r="5"/><circle cx="1071.8" cy="349.0" r="5"/><circle cx="929.2" cy="343.7" r="5"/><circle cx="959.1" cy="351.3" r="5"/><circle cx="944.5" cy="326.0" r="5"/><circle cx="919.4" cy="381.7" r="5"/><circle cx="978.8" cy="324.5" r="5"/><circle cx="1034.5" cy="307.8" r="5"/><circle cx="975.2" cy="374.9" r="5"/><circle cx="1008.8" cy="322.5" r="5"/><circle cx="1020.1" cy="342.2" r="5"/><circle cx="959.7" cy="385.7" r="5"/><circle cx="1010.1" cy="381.1" r="5"/><circle cx="994.0" cy="393.3" r="5"/><circle cx="965.0" cy="291.6" r="5"/><circle cx="955.9" cy="420.0" r="5"/><circle cx="1082.1" cy="336.0" r="5"/><circle cx="1079.3" cy="338.4" r="5"/><circle cx="1056.9" cy="327.2" r="5"/><circle cx="1000.4" cy="331.8" r="5"/><circle cx="953.4" cy="301.7" r="5"/><circle cx="1011.8" cy="401.3" r="5"/><circle cx="1111.5" cy="366.1" r="5"/><circle cx="973.1" cy="420.9" r="5"/><circle cx="985.2" cy="357.1" r="5"/><circle cx="921.0" cy="372.0" r="5"/><circle cx="969.3" cy="370.7" r="5"/><circle cx="978.0" cy="392.0" r="5"/><circle cx="1021.7" cy="309.1" r="5"/><circle cx="948.0" cy="326.7" r="5"/><circle cx="927.9" cy="381.1" r="5"/><circle cx="1026.8" cy="355.0" r="5"/><circle cx="1058.3" cy="321.7" r="5"/><circle cx="971.0" cy="320.4" r="5"/><circle cx="1045.2" cy="300.7" r="5"/><circle cx="1149.3" cy="353.6" r="5"/><circle cx="1025.2" cy="347.1" r="5"/><circle cx="943.0" cy="385.6" r="5"/><circle cx="953.8" cy="398.0" r="5"/><circle cx="917.9" cy="344.4" r="5"/><circle cx="954.7" cy="350.1" r="5"/><circle cx="992.3" cy="404.3" r="5"/><circle cx="953.4" cy="350.9" r="5"/><circle cx="930.0" cy="419.4" r="5"/><circle cx="993.8" cy="387.4" r="5"/><circle cx="932.9" cy="413.1" r="5"/><circle cx="1085.7" cy="322.2" r="5"/><circle cx="973.1" cy="297.3" r="5"/><circle cx="1001.6" cy="355.5" r="5"/><circle cx="1091.8" cy="367.4" r="5"/><circle cx="936.2" cy="357.8" r="5"/><circle cx="992.3" cy="292.6" r="5"/><circle cx="988.5" cy="403.8" r="5"/><circle cx="1122.0" cy="318.3" r="5"/><circle cx="948.3" cy="288.7" r="5"/><circle cx="1040.3" cy="352.2" r="5"/><circle cx="1096.5" cy="357.2" r="5"/><circle cx="950.8" cy="352.7" r="5"/><circle cx="1035.5" cy="336.8" r="5"/><circle cx="936.6" cy="348.6" r="5"/><circle cx="1029.1" cy="316.5" r="5"/><circle cx="1073.3" cy="322.7" r="5"/><circle cx="1062.1" cy="340.2" r="5"/><circle cx="976.6" cy="347.9" r="5"/><circle cx="963.4" cy="362.2" r="5"/><circle cx="990.7" cy="326.8" r="5"/><circle cx="1090.6" cy="348.5" r="5"/><circle cx="1086.5" cy="371.3" r="5"/><circle cx="920.0" cy="386.2" r="5"/><circle cx="1015.1" cy="317.7" r="5"/><circle cx="924.0" cy="382.9" r="5"/><circle cx="943.9" cy="340.0" r="5"/><circle cx="1067.2" cy="379.3" r="5"/><circle cx="1052.8" cy="377.5" r="5"/><circle cx="1138.1" cy="326.8" r="5"/><circle cx="964.7" cy="355.2" r="5"/><circle cx="937.0" cy="370.7" r="5"/><circle cx="1058.1" cy="356.1" r="5"/><circle cx="1009.5" cy="327.1" r="5"/><circle cx="1075.6" cy="361.7" r="5"/><circle cx="1113.8" cy="376.3" r="5"/><circle cx="964.6" cy="361.3" r="5"/><circle cx="924.9" cy="392.8" r="5"/><circle cx="939.7" cy="399.7" r="5"/><circle cx="965.0" cy="305.3" r="5"/><circle cx="990.9" cy="311.2" r="5"/><circle cx="935.9" cy="366.0" r="5"/><circle cx="976.7" cy="400.3" r="5"/><circle cx="945.3" cy="367.7" r="5"/><circle cx="1131.2" cy="356.0" r="5"/><circle cx="1012.9" cy="400.5" r="5"/><circle cx="920.8" cy="398.0" r="5"/><circle cx="1084.1" cy="321.8" r="5"/><circle cx="989.2" cy="322.5" r="5"/><circle cx="950.3" cy="333.7" r="5"/><circle cx="973.5" cy="304.6" r="5"/><circle cx="938.8" cy="306.6" r="5"/><circle cx="1033.6" cy="359.4" r="5"/><circle cx="1011.9" cy="368.0" r="5"/><circle cx="1091.0" cy="356.6" r="5"/><circle cx="1038.5" cy="319.8" r="5"/><circle cx="1063.6" cy="371.0" r="5"/><circle cx="969.0" cy="409.0" r="5"/><circle cx="925.6" cy="400.5" r="5"/><circle cx="1043.2" cy="331.2" r="5"/><circle cx="1014.3" cy="324.5" r="5"/><circle cx="966.3" cy="328.5" r="5"/><circle cx="1090.9" cy="352.7" r="5"/><circle cx="914.2" cy="405.8" r="5"/><circle cx="1094.9" cy="368.9" r="5"/><circle cx="962.7" cy="420.9" r="5"/><circle cx="1071.5" cy="351.9" r="5"/><circle cx="1056.2" cy="332.2" r="5"/><circle cx="929.8" cy="379.5" r="5"/><circle cx="1016.0" cy="330.9" r="5"/><circle cx="1114.4" cy="371.5" r="5"/><circle cx="983.9" cy="284.0" r="5"/><circle cx="983.2" cy="402.0" r="5"/><circle cx="995.6" cy="340.8" r="5"/><circle cx="1012.2" cy="322.9" r="5"/><circle cx="932.8" cy="391.7" r="5"/><circle cx="1004.5" cy="417.4" r="5"/><circle cx="980.3" cy="350.8" r="5"/><circle cx="1037.0" cy="355.2" r="5"/><circle cx="1077.3" cy="328.2" r="5"/><circle cx="1084.9" cy="354.0" r="5"/><circle cx="1049.4" cy="325.1" r="5"/><circle cx="1015.5" cy="346.3" r="5"/><circle cx="907.5" cy="348.5" r="5"/><circle cx="1133.6" cy="341.4" r="5"/><circle cx="1011.7" cy="354.0" r="5"/><circle cx="1104.5" cy="337.5" r="5"/><circle cx="983.4" cy="358.7" r="5"/><circle cx="1003.0" cy="328.1" r="5"/><circle cx="1119.0" cy="359.3" r="5"/><circle cx="1137.3" cy="323.5" r="5"/><circle cx="1001.9" cy="323.8" r="5"/><circle cx="962.5" cy="419.2" r="5"/><circle cx="973.2" cy="311.7" r="5"/><circle cx="923.8" cy="369.6" r="5"/><circle cx="966.7" cy="400.7" r="5"/><circle cx="998.2" cy="321.2" r="5"/><circle cx="1051.3" cy="353.1" r="5"/><circle cx="905.7" cy="364.4" r="5"/><circle cx="1105.8" cy="370.6" r="5"/><circle cx="995.9" cy="391.1" r="5"/><circle cx="1008.6" cy="304.8" r="5"/><circle cx="995.9" cy="411.5" r="5"/><circle cx="1000.3" cy="386.8" r="5"/><circle cx="1140.5" cy="345.8" r="5"/><circle cx="975.1" cy="348.0" r="5"/><circle cx="1065.7" cy="359.1" r="5"/><circle cx="1016.0" cy="340.2" r="5"/><circle cx="1087.3" cy="353.2" r="5"/><circle cx="1059.6" cy="365.7" r="5"/><circle cx="1142.4" cy="355.4" r="5"/><circle cx="1094.1" cy="341.3" r="5"/><circle cx="1033.0" cy="392.4" r="5"/><circle cx="995.2" cy="357.8" r="5"/><circle cx="958.2" cy="362.3" r="5"/><circle cx="1142.6" cy="352.6" r="5"/><circle cx="994.2" cy="364.1" r="5"/><circle cx="1105.1" cy="384.0" r="5"/><circle cx="957.7" cy="342.3" r="5"/><circle cx="1123.8" cy="356.1" r="5"/><circle cx="1056.1" cy="359.6" r="5"/><circle cx="977.5" cy="315.8" r="5"/><circle cx="972.7" cy="402.3" r="5"/><circle cx="1117.8" cy="347.6" r="5"/><circle cx="916.7" cy="377.9" r="5"/><circle cx="982.3" cy="323.2" r="5"/><circle cx="984.8" cy="342.8" r="5"/><circle cx="910.6" cy="363.8" r="5"/><circle cx="1011.9" cy="359.2" r="5"/><circle cx="905.1" cy="408.3" r="5"/><circle cx="988.1" cy="346.2" r="5"/><circle cx="996.6" cy="381.3" r="5"/><circle cx="938.8" cy="355.7" r="5"/><circle cx="1036.8" cy="298.9" r="5"/><circle cx="1020.7" cy="340.3" r="5"/><circle cx="1099.5" cy="379.8" r="5"/><circle cx="989.1" cy="376.3" r="5"/><circle cx="968.3" cy="309.5" r="5"/><circle cx="1059.3" cy="345.0" r="5"/><circle cx="1107.6" cy="370.3" r="5"/><circle cx="969.6" cy="332.4" r="5"/><circle cx="964.8" cy="297.5" r="5"/><circle cx="930.5" cy="371.9" r="5"/><circle cx="910.0" cy="374.8" r="5"/><circle cx="963.4" cy="404.6" r="5"/><circle cx="999.6" cy="411.4" r="5"/><circle cx="970.4" cy="324.2" r="5"/><circle cx="950.6" cy="392.2" r="5"/><circle cx="1000.5" cy="350.5" r="5"/><circle cx="1003.7" cy="389.4" r="5"/><circle cx="991.7" cy="383.1" r="5"/><circle cx="926.3" cy="378.6" r="5"/><circle cx="947.9" cy="387.8" r="5"/><circle cx="984.0" cy="379.2" r="5"/><circle cx="1117.3" cy="370.2" r="5"/><circle cx="1053.8" cy="317.7" r="5"/><circle cx="955.5" cy="411.8" r="5"/><circle cx="1063.7" cy="323.6" r="5"/><circle cx="1127.0" cy="356.9" r="5"/><circle cx="968.7" cy="392.3" r="5"/><circle cx="1044.2" cy="371.9" r="5"/><circle cx="979.3" cy="327.5" r="5"/><circle cx="947.7" cy="316.1" r="5"/><circle cx="1052.9" cy="336.0" r="5"/><circle cx="982.8" cy="387.9" r="5"/><circle cx="996.4" cy="357.7" r="5"/><circle cx="1158.0" cy="360.4" r="5"/><circle cx="991.9" cy="388.5" r="5"/><circle cx="1027.3" cy="338.6" r="5"/><circle cx="1000.4" cy="396.5" r="5"/><circle cx="1002.2" cy="386.1" r="5"/><circle cx="941.5" cy="342.1" r="5"/><circle cx="1075.7" cy="386.5" r="5"/><circle cx="990.1" cy="316.4" r="5"/><circle cx="945.8" cy="358.8" r="5"/><circle cx="965.1" cy="310.4" r="5"/><circle cx="951.8" cy="401.4" r="5"/><circle cx="1109.4" cy="367.0" r="5"/><circle cx="995.4" cy="309.8" r="5"/><circle cx="965.1" cy="344.5" r="5"/><circle cx="1085.3" cy="331.8" r="5"/><circle cx="1022.6" cy="306.5" r="5"/><circle cx="922.0" cy="352.6" r="5"/><circle cx="1000.1" cy="330.5" r="5"/><circle cx="1090.5" cy="367.1" r="5"/><circle cx="1043.5" cy="355.7" r="5"/><circle cx="988.8" cy="368.7" r="5"/><circle cx="945.9" cy="295.9" r="5"/><circle cx="1086.4" cy="381.3" r="5"/><circle cx="950.1" cy="362.9" r="5"/><circle cx="1074.0" cy="357.8" r="5"/><circle cx="976.7" cy="394.5" r="5"/><circle cx="1093.4" cy="321.9" r="5"/><circle cx="1092.5" cy="341.8" r="5"/><circle cx="1052.9" cy="366.9" r="5"/><circle cx="962.9" cy="321.9" r="5"/><circle cx="940.0" cy="358.7" r="5"/><circle cx="1119.6" cy="333.9" r="5"/><circle cx="1038.6" cy="312.1" r="5"/><circle cx="1077.2" cy="339.4" r="5"/><circle cx="1059.2" cy="359.3" r="5"/><circle cx="1063.5" cy="369.3" r="5"/><circle cx="936.4" cy="318.6" r="5"/><circle cx="1153.0" cy="365.5" r="5"/><circle cx="944.1" cy="314.4" r="5"/><circle cx="999.5" cy="386.0" r="5"/><circle cx="969.9" cy="373.9" r="5"/><circle cx="1113.1" cy="328.4" r="5"/><circle cx="1028.6" cy="326.4" r="5"/><circle cx="1038.3" cy="370.4" r="5"/><circle cx="998.7" cy="351.0" r="5"/><circle cx="1040.8" cy="359.6" r="5"/><circle cx="1136.8" cy="350.8" r="5"/><circle cx="949.6" cy="394.5" r="5"/><circle cx="1058.9" cy="314.1" r="5"/><circle cx="983.8" cy="329.1" r="5"/><circle cx="996.7" cy="344.1" r="5"/><circle cx="948.2" cy="398.1" r="5"/><circle cx="961.4" cy="323.2" r="5"/><circle cx="1047.3" cy="394.3" r="5"/><circle cx="917.0" cy="335.8" r="5"/><circle cx="1114.6" cy="360.1" r="5"/><circle cx="1079.7" cy="339.9" r="5"/><circle cx="974.1" cy="331.0" r="5"/><circle cx="967.8" cy="419.7" r="5"/><circle cx="937.3" cy="298.3" r="5"/><circle cx="1038.5" cy="325.9" r="5"/><circle cx="934.8" cy="381.8" r="5"/><circle cx="1022.4" cy="309.7" r="5"/><circle cx="965.2" cy="320.8" r="5"/><circle cx="980.7" cy="347.5" r="5"/><circle cx="915.7" cy="365.2" r="5"/><circle cx="1081.6" cy="339.7" r="5"/><circle cx="974.9" cy="345.9" r="5"/><circle cx="992.7" cy="402.4" r="5"/><circle cx="954.9" cy="385.3" r="5"/><circle cx="1063.7" cy="326.6" r="5"/><circle cx="987.0" cy="337.4" r="5"/><circle cx="941.8" cy="376.2" r="5"/><circle cx="1060.4" cy="360.0" r="5"/><circle cx="1152.7" cy="361.8" r="5"/><circle cx="1101.8" cy="349.0" r="5"/><circle cx="1003.4" cy="330.3" r="5"/><circle cx="983.8" cy="398.0" r="5"/><circle cx="1084.2" cy="382.5" r="5"/><circle cx="948.9" cy="393.0" r="5"/><circle cx="1111.1" cy="328.4" r="5"/><circle cx="1036.0" cy="360.2" r="5"/><circle cx="989.6" cy="393.2" r="5"/><circle cx="925.6" cy="307.2" r="5"/><circle cx="957.2" cy="336.7" r="5"/><circle cx="1004.8" cy="411.0" r="5"/><circle cx="979.8" cy="389.5" r="5"/><circle cx="933.5" cy="307.0" r="5"/><circle cx="1046.2" cy="310.4" r="5"/><circle cx="1044.5" cy="388.5" r="5"/><circle cx="1108.2" cy="334.5" r="5"/><circle cx="940.1" cy="359.5" r="5"/><circle cx="1125.1" cy="345.9" r="5"/><circle cx="958.3" cy="288.3" r="5"/><circle cx="980.4" cy="307.9" r="5"/><circle cx="1021.8" cy="318.7" r="5"/><circle cx="1013.9" cy="292.6" r="5"/><circle cx="1026.0" cy="360.7" r="5"/><circle cx="1059.9" cy="361.9" r="5"/><circle cx="1087.4" cy="370.9" r="5"/><circle cx="928.4" cy="350.0" r="5"/><circle cx="957.5" cy="333.8" r="5"/><circle cx="1027.5" cy="360.5" r="5"/><circle cx="990.0" cy="353.6" r="5"/><circle cx="1021.6" cy="376.8" r="5"/><circle cx="1019.3" cy="302.6" r="5"/><circle cx="990.0" cy="345.2" r="5"/><circle cx="991.1" cy="302.1" r="5"/><circle cx="1014.7" cy="404.9" r="5"/><circle cx="1059.2" cy="340.4" r="5"/><circle cx="957.1" cy="362.6" r="5"/><circle cx="999.2" cy="412.8" r="5"/><circle cx="1118.3" cy="336.3" r="5"/><circle cx="1082.8" cy="365.0" r="5"/><circle cx="1153.3" cy="357.7" r="5"/><circle cx="1111.2" cy="337.3" r="5"/><circle cx="933.7" cy="356.7" r="5"/><circle cx="946.1" cy="417.3" r="5"/><circle cx="980.2" cy="327.3" r="5"/><circle cx="995.6" cy="413.8" r="5"/><circle cx="1015.1" cy="382.7" r="5"/><circle cx="1009.8" cy="364.4" r="5"/><circle cx="1049.5" cy="332.4" r="5"/><circle cx="1119.1" cy="357.3" r="5"/><circle cx="932.3" cy="305.0" r="5"/><circle cx="917.6" cy="380.4" r="5"/><circle cx="962.7" cy="322.2" r="5"/><circle cx="933.6" cy="418.0" r="5"/><circle cx="959.0" cy="390.9" r="5"/><circle cx="1130.5" cy="351.1" r="5"/><circle cx="972.1" cy="341.2" r="5"/><circle cx="969.8" cy="359.2" r="5"/><circle cx="1087.6" cy="334.9" r="5"/><circle cx="1010.7" cy="356.3" r="5"/><circle cx="978.5" cy="363.8" r="5"/><circle cx="964.5" cy="319.5" r="5"/><circle cx="937.6" cy="400.2" r="5"/><circle cx="949.9" cy="370.2" r="5"/><circle cx="1013.7" cy="350.7" r="5"/><circle cx="1059.3" cy="350.5" r="5"/><circle cx="1133.1" cy="361.8" r="5"/><circle cx="979.8" cy="350.6" r="5"/><circle cx="934.2" cy="398.2" r="5"/><circle cx="948.9" cy="314.4" r="5"/><circle cx="984.0" cy="317.8" r="5"/><circle cx="1067.9" cy="350.1" r="5"/><circle cx="1046.7" cy="330.3" r="5"/><circle cx="1080.2" cy="378.3" r="5"/><circle cx="1045.0" cy="376.2" r="5"/><circle cx="1142.9" cy="340.1" r="5"/><circle cx="949.3" cy="284.3" r="5"/><circle cx="922.4" cy="346.0" r="5"/><circle cx="1011.3" cy="317.4" r="5"/><circle cx="1049.4" cy="355.8" r="5"/><circle cx="1130.7" cy="338.1" r="5"/><circle cx="947.9" cy="373.8" r="5"/><circle cx="929.5" cy="343.6" r="5"/><circle cx="947.2" cy="351.0" r="5"/><circle cx="968.7" cy="415.7" r="5"/><circle cx="921.3" cy="349.4" r="5"/><circle cx="976.0" cy="416.4" r="5"/><circle cx="933.9" cy="354.9" r="5"/><circle cx="932.7" cy="368.2" r="5"/><circle cx="984.3" cy="419.6" r="5"/><circle cx="928.9" cy="377.6" r="5"/><circle cx="991.0" cy="419.3" r="5"/><circle cx="987.3" cy="321.0" r="5"/><circle cx="986.0" cy="309.7" r="5"/><circle cx="957.9" cy="387.5" r="5"/><circle cx="951.3" cy="314.5" r="5"/><circle cx="1066.7" cy="334.2" r="5"/><circle cx="993.0" cy="350.7" r="5"/><circle cx="981.5" cy="427.8" r="5"/><circle cx="1122.8" cy="333.4" r="5"/><circle cx="981.6" cy="329.7" r="5"/><circle cx="1105.4" cy="377.7" r="5"/><circle cx="1014.1" cy="305.0" r="5"/><circle cx="1081.5" cy="319.7" r="5"/><circle cx="950.4" cy="362.3" r="5"/><circle cx="1001.3" cy="389.1" r="5"/><circle cx="951.3" cy="407.6" r="5"/><circle cx="1050.3" cy="364.1" r="5"/><circle cx="924.9" cy="355.8" r="5"/><circle cx="929.1" cy="380.1" r="5"/><circle cx="1013.0" cy="346.2" r="5"/><circle cx="940.6" cy="310.2" r="5"/><circle cx="999.9" cy="368.5" r="5"/><circle cx="1052.6" cy="323.8" r="5"/><circle cx="959.9" cy="401.8" r="5"/><circle cx="1039.9" cy="338.3" r="5"/><circle cx="974.9" cy="311.0" r="5"/><circle cx="1004.7" cy="387.5" r="5"/><circle cx="1083.1" cy="331.6" r="5"/><circle cx="954.7" cy="311.4" r="5"/><circle cx="925.5" cy="392.0" r="5"/><circle cx="991.5" cy="363.2" r="5"/><circle cx="1030.6" cy="356.0" r="5"/><circle cx="1092.2" cy="328.6" r="5"/><circle cx="944.6" cy="375.3" r="5"/><circle cx="982.2" cy="382.2" r="5"/><circle cx="917.0" cy="350.7" r="5"/><circle cx="1080.0" cy="378.3" r="5"/><circle cx="924.6" cy="383.9" r="5"/><circle cx="1006.3" cy="344.5" r="5"/><circle cx="1106.0" cy="357.5" r="5"/><circle cx="983.5" cy="324.9" r="5"/><circle cx="949.0" cy="367.6" r="5"/><circle cx="1000.2" cy="403.1" r="5"/><circle cx="1006.4" cy="393.2" r="5"/><circle cx="936.7" cy="298.3" r="5"/><circle cx="999.4" cy="315.1" r="5"/><circle cx="989.4" cy="386.2" r="5"/><circle cx="966.3" cy="392.2" r="5"/><circle cx="990.2" cy="321.9" r="5"/><circle cx="963.3" cy="426.2" r="5"/><circle cx="1054.5" cy="331.9" r="5"/><circle cx="1140.7" cy="341.5" r="5"/><circle cx="1001.2" cy="308.7" r="5"/><circle cx="969.7" cy="376.9" r="5"/><circle cx="967.4" cy="408.3" r="5"/><circle cx="967.6" cy="361.8" r="5"/><circle cx="962.5" cy="311.5" r="5"/><circle cx="1060.0" cy="349.9" r="5"/><circle cx="965.0" cy="408.1" r="5"/><circle cx="989.1" cy="377.2" r="5"/><circle cx="974.5" cy="379.1" r="5"/><circle cx="994.0" cy="346.8" r="5"/><circle cx="1084.2" cy="332.2" r="5"/><circle cx="921.3" cy="388.2" r="5"/><circle cx="987.9" cy="416.6" r="5"/><circle cx="979.3" cy="425.2" r="5"/><circle cx="1136.2" cy="359.5" r="5"/><circle cx="1049.9" cy="301.9" r="5"/><circle cx="1015.6" cy="385.5" r="5"/><circle cx="944.9" cy="325.1" r="5"/><circle cx="1147.1" cy="372.6" r="5"/><circle cx="982.7" cy="341.1" r="5"/><circle cx="911.3" cy="325.6" r="5"/><circle cx="945.0" cy="398.1" r="5"/><circle cx="1018.9" cy="362.7" r="5"/><circle cx="979.4" cy="368.9" r="5"/><circle cx="997.5" cy="423.1" r="5"/><circle cx="1079.9" cy="386.6" r="5"/><circle cx="1071.6" cy="383.0" r="5"/><circle cx="1032.1" cy="363.8" r="5"/><circle cx="977.8" cy="353.4" r="5"/><circle cx="1087.1" cy="376.1" r="5"/><circle cx="995.2" cy="390.7" r="5"/><circle cx="922.9" cy="323.0" r="5"/><circle cx="1029.0" cy="331.2" r="5"/><circle cx="985.1" cy="331.6" r="5"/><circle cx="1141.5" cy="363.7" r="5"/><circle cx="1017.7" cy="367.0" r="5"/><circle cx="961.5" cy="338.5" r="5"/><circle cx="1039.5" cy="355.5" r="5"/><circle cx="1077.1" cy="325.0" r="5"/><circle cx="993.6" cy="330.5" r="5"/><circle cx="957.7" cy="387.2" r="5"/><circle cx="952.4" cy="312.1" r="5"/><circle cx="980.6" cy="373.2" r="5"/><circle cx="999.2" cy="290.7" r="5"/><circle cx="971.1" cy="331.0" r="5"/><circle cx="1056.0" cy="353.1" r="5"/><circle cx="1102.9" cy="334.4" r="5"/><circle cx="1026.4" cy="394.0" r="5"/><circle cx="967.7" cy="304.4" r="5"/><circle cx="971.4" cy="339.7" r="5"/><circle cx="1087.5" cy="338.3" r="5"/><circle cx="996.9" cy="374.7" r="5"/><circle cx="1110.2" cy="339.2" r="5"/><circle cx="933.2" cy="354.5" r="5"/><circle cx="966.6" cy="366.9" r="5"/><circle cx="906.3" cy="381.4" r="5"/><circle cx="912.1" cy="392.4" r="5"/><circle cx="930.3" cy="419.3" r="5"/><circle cx="1071.4" cy="366.9" r="5"/><circle cx="1020.5" cy="380.3" r="5"/><circle cx="956.9" cy="321.7" r="5"/><circle cx="1108.2" cy="378.1" r="5"/><circle cx="983.9" cy="398.8" r="5"/><circle cx="1099.8" cy="349.9" r="5"/><circle cx="919.9" cy="360.7" r="5"/><circle cx="997.9" cy="308.8" r="5"/><circle cx="1093.9" cy="372.3" r="5"/><circle cx="928.2" cy="373.0" r="5"/><circle cx="1010.8" cy="303.3" r="5"/><circle cx="957.9" cy="412.8" r="5"/><circle cx="962.7" cy="381.3" r="5"/><circle cx="1105.7" cy="385.2" r="5"/><circle cx="1018.9" cy="407.4" r="5"/><circle cx="935.7" cy="400.1" r="5"/><circle cx="1056.4" cy="346.9" r="5"/><circle cx="1012.8" cy="321.7" r="5"/><circle cx="1012.9" cy="383.5" r="5"/><circle cx="937.7" cy="318.8" r="5"/><circle cx="1087.5" cy="364.6" r="5"/><circle cx="1108.6" cy="354.6" r="5"/><circle cx="1148.9" cy="372.4" r="5"/><circle cx="966.6" cy="389.9" r="5"/><circle cx="960.1" cy="317.1" r="5"/><circle cx="1130.0" cy="333.0" r="5"/><circle cx="1046.6" cy="343.9" r="5"/><circle cx="928.7" cy="359.1" r="5"/><circle cx="948.4" cy="394.1" r="5"/><circle cx="1007.4" cy="402.6" r="5"/><circle cx="1114.5" cy="376.8" r="5"/><circle cx="929.9" cy="353.0" r="5"/><circle cx="1105.9" cy="359.8" r="5"/><circle cx="950.1" cy="311.6" r="5"/><circle cx="1067.6" cy="318.0" r="5"/><circle cx="1082.2" cy="374.0" r="5"/><circle cx="912.2" cy="337.2" r="5"/><circle cx="935.7" cy="376.9" r="5"/><circle cx="943.4" cy="379.0" r="5"/><circle cx="1116.1" cy="339.6" r="5"/><circle cx="1051.6" cy="317.8" r="5"/><circle cx="934.4" cy="402.9" r="5"/><circle cx="1071.9" cy="341.6" r="5"/><circle cx="932.0" cy="305.3" r="5"/><circle cx="986.2" cy="377.6" r="5"/><circle cx="1003.7" cy="363.4" r="5"/><circle cx="1021.1" cy="362.7" r="5"/><circle cx="1099.6" cy="368.3" r="5"/><circle cx="1018.0" cy="337.5" r="5"/><circle cx="1076.8" cy="358.3" r="5"/><circle cx="1096.9" cy="343.3" r="5"/><circle cx="1095.9" cy="319.9" r="5"/><circle cx="1038.4" cy="387.6" r="5"/><circle cx="1119.9" cy="351.0" r="5"/><circle cx="915.2" cy="328.3" r="5"/><circle cx="981.8" cy="308.4" r="5"/><circle cx="934.4" cy="336.0" r="5"/><circle cx="948.4" cy="301.7" r="5"/><circle cx="959.7" cy="396.1" r="5"/><circle cx="970.3" cy="385.6" r="5"/><circle cx="983.8" cy="392.2" r="5"/><circle cx="996.7" cy="316.7" r="5"/><circle cx="1102.4" cy="382.1" r="5"/><circle cx="1033.2" cy="341.8" r="5"/><circle cx="1020.2" cy="361.5" r="5"/><circle cx="938.1" cy="354.2" r="5"/><circle cx="1014.4" cy="356.1" r="5"/><circle cx="977.7" cy="382.7" r="5"/><circle cx="919.3" cy="362.4" r="5"/><circle cx="1061.8" cy="326.3" r="5"/><circle cx="1151.3" cy="368.4" r="5"/><circle cx="943.1" cy="297.6" r="5"/><circle cx="985.8" cy="319.1" r="5"/><circle cx="967.7" cy="305.3" r="5"/><circle cx="1044.2" cy="340.5" r="5"/><circle cx="938.3" cy="360.0" r="5"/><circle cx="979.7" cy="305.6" r="5"/><circle cx="963.8" cy="346.8" r="5"/><circle cx="977.0" cy="339.3" r="5"/><circle cx="982.4" cy="344.6" r="5"/><circle cx="942.7" cy="302.4" r="5"/><circle cx="991.6" cy="295.1" r="5"/><circle cx="1001.4" cy="381.1" r="5"/><circle cx="1118.6" cy="351.6" r="5"/><circle cx="1105.0" cy="367.0" r="5"/><circle cx="1009.0" cy="384.3" r="5"/><circle cx="921.0" cy="404.8" r="5"/><circle cx="1043.3" cy="330.8" r="5"/><circle cx="1134.9" cy="349.0" r="5"/><circle cx="1147.3" cy="353.8" r="5"/><circle cx="964.0" cy="326.1" r="5"/><circle cx="1032.2" cy="323.9" r="5"/><circle cx="1136.7" cy="341.7" r="5"/><circle cx="926.6" cy="303.9" r="5"/><circle cx="1063.1" cy="353.5" r="5"/><circle cx="955.7" cy="419.4" r="5"/><circle cx="1058.4" cy="342.0" r="5"/><circle cx="981.7" cy="302.8" r="5"/><circle cx="980.8" cy="301.0" r="5"/><circle cx="1012.4" cy="303.4" r="5"/><circle cx="970.4" cy="299.9" r="5"/><circle cx="974.8" cy="305.9" r="5"/><circle cx="987.8" cy="309.7" r="5"/><circle cx="996.8" cy="306.6" r="5"/><circle cx="997.0" cy="304.6" r="5"/><circle cx="1016.6" cy="305.3" r="5"/><circle cx="943.7" cy="316.8" r="5"/><circle cx="953.2" cy="312.7" r="5"/><circle cx="962.5" cy="306.6" r="5"/><circle cx="965.9" cy="313.7" r="5"/><circle cx="980.3" cy="319.8" r="5"/><circle cx="993.2" cy="318.5" r="5"/><circle cx="993.9" cy="320.6" r="5"/><circle cx="1000.4" cy="312.7" r="5"/><circle cx="1009.3" cy="307.8" r="5"/><circle cx="1018.0" cy="307.9" r="5"/><circle cx="931.3" cy="323.1" r="5"/><circle cx="936.9" cy="321.3" r="5"/><circle cx="958.7" cy="324.5" r="5"/><circle cx="957.4" cy="319.1" r="5"/><circle cx="972.2" cy="317.7" r="5"/><circle cx="974.8" cy="320.1" r="5"/><circle cx="996.1" cy="318.9" r="5"/><circle cx="1006.6" cy="325.2" r="5"/><circle cx="1006.5" cy="320.6" r="5"/><circle cx="1025.2" cy="320.2" r="5"/><circle cx="924.7" cy="330.6" r="5"/><circle cx="937.3" cy="332.8" r="5"/><circle cx="937.0" cy="326.3" r="5"/><circle cx="948.9" cy="322.1" r="5"/><circle cx="951.1" cy="327.2" r="5"/><circle cx="968.4" cy="324.4" r="5"/><circle cx="974.5" cy="335.4" r="5"/><circle cx="987.3" cy="333.4" r="5"/><circle cx="992.4" cy="322.5" r="5"/><circle cx="1006.8" cy="322.9" r="5"/><circle cx="1009.3" cy="328.8" r="5"/><circle cx="939.5" cy="339.5" r="5"/><circle cx="944.5" cy="342.9" r="5"/><circle cx="947.6" cy="332.6" r="5"/><circle cx="965.5" cy="334.6" r="5"/><circle cx="977.2" cy="342.8" r="5"/><circle cx="986.3" cy="344.1" r="5"/><circle cx="993.2" cy="341.0" r="5"/><circle cx="1006.7" cy="339.7" r="5"/><circle cx="1007.9" cy="344.1" r="5"/><circle cx="1015.3" cy="330.1" r="5"/><circle cx="926.0" cy="341.1" r="5"/><circle cx="934.8" cy="348.1" r="5"/><circle cx="949.7" cy="338.3" r="5"/><circle cx="965.1" cy="347.9" r="5"/><circle cx="961.1" cy="343.8" r="5"/><circle cx="983.3" cy="348.9" r="5"/><circle cx="983.6" cy="340.6" r="5"/><circle cx="992.3" cy="343.1" r="5"/><circle cx="1008.1" cy="343.1" r="5"/><circle cx="1008.2" cy="341.9" r="5"/><circle cx="932.2" cy="353.7" r="5"/><circle cx="932.4" cy="348.2" r="5"/><circle cx="940.1" cy="359.9" r="5"/><circle cx="957.0" cy="355.3" r="5"/><circle cx="958.4" cy="349.8" r="5"/><circle cx="978.5" cy="356.9" r="5"/><circle cx="979.2" cy="353.3" r="5"/><circle cx="984.8" cy="351.4" r="5"/><circle cx="1001.0" cy="350.5" r="5"/><circle cx="1008.7" cy="358.3" r="5"/><circle cx="920.2" cy="364.9" r="5"/><circle cx="927.8" cy="368.2" r="5"/><circle cx="944.5" cy="362.9" r="5"/><circle cx="953.2" cy="355.6" r="5"/><circle cx="961.0" cy="362.2" r="5"/><circle cx="970.5" cy="365.0" r="5"/><circle cx="984.2" cy="355.7" r="5"/><circle cx="993.8" cy="354.8" r="5"/><circle cx="991.8" cy="361.4" r="5"/><circle cx="1005.4" cy="356.8" r="5"/><circle cx="931.5" cy="368.0" r="5"/><circle cx="931.4" cy="369.2" r="5"/><circle cx="939.4" cy="363.4" r="5"/><circle cx="949.8" cy="364.5" r="5"/><circle cx="956.7" cy="377.3" r="5"/><circle cx="965.7" cy="363.9" r="5"/><circle cx="975.6" cy="374.8" r="5"/><circle cx="985.4" cy="373.4" r="5"/><circle cx="1003.1" cy="369.0" r="5"/><circle cx="919.9" cy="370.8" r="5"/><circle cx="934.8" cy="381.4" r="5"/><circle cx="942.0" cy="383.7" r="5"/><circle cx="942.9" cy="385.1" r="5"/><circle cx="963.6" cy="385.8" r="5"/><circle cx="974.1" cy="374.6" r="5"/><circle cx="984.7" cy="381.0" r="5"/><circle cx="986.6" cy="385.2" r="5"/><circle cx="999.9" cy="383.1" r="5"/><circle cx="944.0" cy="380.2" r="5"/><circle cx="956.4" cy="379.5" r="5"/><circle cx="967.8" cy="385.1" r="5"/><circle cx="978.3" cy="384.5" r="5"/><circle cx="979.2" cy="385.3" r="5"/><circle cx="987.1" cy="379.4" r="5"/><circle cx="954.9" cy="393.6" r="5"/><circle cx="969.8" cy="392.3" r="5"/><circle cx="989.1" cy="388.7" r="5"/><circle cx="953.4" cy="399.1" r="5"/><circle cx="968.9" cy="397.5" r="5"/><circle cx="983.5" cy="396.6" r="5"/><circle cx="945.1" cy="258.5" r="5"/><circle cx="977.5" cy="249.0" r="5"/><circle cx="956.5" cy="250.4" r="5"/><circle cx="969.1" cy="275.5" r="5"/><circle cx="991.0" cy="272.5" r="5"/><circle cx="1016.8" cy="285.2" r="5"/><circle cx="1095.3" cy="285.0" r="5"/><circle cx="1117.4" cy="276.3" r="5"/><circle cx="1129.1" cy="283.6" r="5"/><circle cx="915.4" cy="286.2" r="5"/><circle cx="957.9" cy="298.6" r="5"/><circle cx="967.9" cy="291.6" r="5"/><circle cx="986.9" cy="269.7" r="5"/><circle cx="1000.8" cy="300.4" r="5"/><circle cx="1042.9" cy="291.4" r="5"/><circle cx="1058.6" cy="276.4" r="5"/><circle cx="1096.4" cy="298.2" r="5"/><circle cx="1121.4" cy="294.2" r="5"/><circle cx="1123.4" cy="288.0" r="5"/><circle cx="1146.1" cy="292.3" r="5"/><circle cx="899.1" cy="313.8" r="5"/><circle cx="915.7" cy="299.8" r="5"/><circle cx="945.6" cy="307.2" r="5"/><circle cx="974.5" cy="304.8" r="5"/><circle cx="976.0" cy="310.8" r="5"/><circle cx="1018.3" cy="311.6" r="5"/><circle cx="1020.1" cy="320.3" r="5"/><circle cx="1067.2" cy="299.6" r="5"/><circle cx="1077.1" cy="314.6" r="5"/><circle cx="1104.2" cy="325.1" r="5"/><circle cx="1138.4" cy="327.3" r="5"/><circle cx="1148.6" cy="328.7" r="5"/><circle cx="914.4" cy="318.3" r="5"/><circle cx="928.9" cy="316.1" r="5"/><circle cx="940.4" cy="321.7" r="5"/><circle cx="959.9" cy="328.8" r="5"/><circle cx="998.0" cy="319.9" r="5"/><circle cx="1000.7" cy="320.8" r="5"/><circle cx="1045.3" cy="339.6" r="5"/><circle cx="1068.8" cy="342.0" r="5"/><circle cx="1103.8" cy="341.4" r="5"/><circle cx="1116.6" cy="317.3" r="5"/><circle cx="1150.1" cy="324.6" r="5"/><circle cx="1152.4" cy="335.1" r="5"/><circle cx="897.8" cy="338.5" r="5"/><circle cx="889.9" cy="354.1" r="5"/><circle cx="941.7" cy="364.4" r="5"/><circle cx="949.8" cy="371.0" r="5"/><circle cx="991.7" cy="335.7" r="5"/><circle cx="1020.0" cy="365.8" r="5"/><circle cx="1036.6" cy="358.6" r="5"/><circle cx="1063.2" cy="352.9" r="5"/><circle cx="1065.9" cy="350.3" r="5"/><circle cx="1091.5" cy="357.2" r="5"/><circle cx="1127.2" cy="342.0" r="5"/><circle cx="1159.7" cy="339.5" r="5"/><circle cx="882.4" cy="360.7" r="5"/><circle cx="896.5" cy="354.9" r="5"/><circle cx="907.0" cy="391.8" r="5"/><circle cx="947.2" cy="355.8" r="5"/><circle cx="968.1" cy="370.0" r="5"/><circle cx="1007.6" cy="354.9" r="5"/><circle cx="1019.8" cy="391.2" r="5"/><circle cx="1049.1" cy="380.3" r="5"/><circle cx="1071.0" cy="379.9" r="5"/><circle cx="1093.9" cy="376.6" r="5"/><circle cx="1119.9" cy="368.9" r="5"/><circle cx="1139.1" cy="390.1" r="5"/><circle cx="1158.2" cy="378.8" r="5"/><circle cx="905.1" cy="399.8" r="5"/><circle cx="918.5" cy="409.5" r="5"/><circle cx="959.9" cy="399.2" r="5"/><circle cx="986.8" cy="386.3" r="5"/><circle cx="1010.0" cy="383.6" r="5"/><circle cx="1011.5" cy="402.6" r="5"/><circle cx="1057.0" cy="402.1" r="5"/><circle cx="1082.4" cy="394.6" r="5"/><circle cx="1092.1" cy="378.8" r="5"/><circle cx="1136.3" cy="385.8" r="5"/><circle cx="1154.6" cy="393.9" r="5"/><circle cx="907.3" cy="405.2" r="5"/><circle cx="930.4" cy="426.0" r="5"/><circle cx="925.2" cy="415.0" r="5"/><circle cx="956.9" cy="430.8" r="5"/><circle cx="1004.8" cy="419.8" r="5"/><circle cx="1004.7" cy="428.6" r="5"/><circle cx="1023.6" cy="426.1" r="5"/><circle cx="951.3" cy="423.2" r="5"/><circle cx="950.0" cy="429.7" r="5"/><circle cx="998.0" cy="424.6" r="5"/><circle cx="1034.8" cy="418.9" r="5"/><circle cx="1004.3" cy="442.2" r="5"/><circle cx="894.9" cy="362.0" r="5"/><circle cx="887.3" cy="372.3" r="5"/><circle cx="893.5" cy="361.3" r="5"/><circle cx="880.4" cy="386.1" r="5"/><circle cx="884.9" cy="381.3" r="5"/><circle cx="879.2" cy="390.7" r="5"/><circle cx="878.8" cy="391.6" r="5"/><circle cx="899.2" cy="389.8" r="5"/><circle cx="878.2" cy="401.8" r="5"/><circle cx="883.8" cy="398.7" r="5"/><circle cx="902.9" cy="404.9" r="5"/><circle cx="853.2" cy="416.0" r="5"/><circle cx="865.6" cy="418.6" r="5"/><circle cx="877.8" cy="403.1" r="5"/><circle cx="893.7" cy="415.8" r="5"/><circle cx="909.7" cy="415.4" r="5"/><circle cx="840.8" cy="425.2" r="5"/><circle cx="847.4" cy="427.8" r="5"/><circle cx="859.2" cy="427.1" r="5"/><circle cx="886.8" cy="428.9" r="5"/><circle cx="890.3" cy="413.8" r="5"/><circle cx="901.9" cy="422.4" r="5"/><circle cx="907.1" cy="415.1" r="5"/><circle cx="834.4" cy="435.0" r="5"/><circle cx="840.6" cy="427.7" r="5"/><circle cx="842.2" cy="427.9" r="5"/><circle cx="868.9" cy="428.9" r="5"/><circle cx="868.2" cy="422.5" r="5"/><circle cx="881.2" cy="430.5" r="5"/><circle cx="901.5" cy="427.8" r="5"/><circle cx="914.5" cy="432.4" r="5"/><circle cx="838.8" cy="442.6" r="5"/><circle cx="847.0" cy="441.8" r="5"/><circle cx="866.5" cy="437.8" r="5"/><circle cx="877.8" cy="431.5" r="5"/><circle cx="908.6" cy="437.1" r="5"/><circle cx="836.5" cy="444.5" r="5"/><circle cx="857.4" cy="444.6" r="5"/><circle cx="891.5" cy="443.7" r="5"/><circle cx="853.5" cy="443.2" r="5"/><circle cx="843.9" cy="438.6" r="5"/><circle cx="848.3" cy="427.9" r="5"/><circle cx="833.7" cy="434.7" r="5"/><circle cx="847.3" cy="434.1" r="5"/><circle cx="846.3" cy="434.2" r="5"/><circle cx="840.5" cy="435.1" r="5"/><circle cx="822.8" cy="439.9" r="5"/><circle cx="841.3" cy="439.4" r="5"/><circle cx="824.7" cy="435.5" r="5"/><circle cx="828.4" cy="429.7" r="5"/><circle cx="857.5" cy="443.3" r="5"/><circle cx="825.0" cy="440.8" r="5"/><circle cx="843.5" cy="435.6" r="5"/><circle cx="835.9" cy="432.1" r="5"/><circle cx="836.2" cy="431.4" r="5"/><circle cx="855.9" cy="437.8" r="5"/><circle cx="825.7" cy="437.0" r="5"/><circle cx="837.2" cy="441.2" r="5"/><circle cx="856.6" cy="429.0" r="5"/><circle cx="835.6" cy="443.0" r="5"/><circle cx="855.2" cy="426.7" r="5"/><circle cx="841.5" cy="438.6" r="5"/><circle cx="849.4" cy="435.6" r="5"/><circle cx="839.3" cy="441.8" r="5"/><circle cx="1097.9" cy="492.1" r="5"/><circle cx="1074.2" cy="501.9" r="5"/><circle cx="1076.8" cy="504.6" r="5"/><circle cx="1097.2" cy="486.0" r="5"/><circle cx="1111.1" cy="492.0" r="5"/><circle cx="1114.2" cy="480.9" r="5"/><circle cx="1115.7" cy="479.7" r="5"/><circle cx="1137.3" cy="473.9" r="5"/><circle cx="1088.6" cy="492.0" r="5"/><circle cx="1089.7" cy="502.5" r="5"/><circle cx="1117.5" cy="490.0" r="5"/><circle cx="1084.1" cy="476.9" r="5"/><circle cx="1094.3" cy="490.7" r="5"/><circle cx="1101.6" cy="511.8" r="5"/><circle cx="1110.1" cy="485.6" r="5"/><circle cx="1103.6" cy="487.7" r="5"/><circle cx="1102.3" cy="475.6" r="5"/><circle cx="1115.1" cy="475.9" r="5"/><circle cx="1053.0" cy="493.1" r="5"/><circle cx="1128.9" cy="480.0" r="5"/><circle cx="1072.5" cy="499.4" r="5"/><circle cx="1049.4" cy="501.8" r="5"/><circle cx="1046.6" cy="492.7" r="5"/><circle cx="1109.7" cy="487.8" r="5"/><circle cx="1117.8" cy="478.6" r="5"/><circle cx="1119.5" cy="476.5" r="5"/><circle cx="1065.8" cy="495.5" r="5"/><circle cx="1075.8" cy="483.9" r="5"/><circle cx="1042.3" cy="497.8" r="5"/><circle cx="1067.2" cy="490.1" r="5"/><circle cx="1116.0" cy="488.3" r="5"/><circle cx="1081.0" cy="493.0" r="5"/><circle cx="1099.0" cy="474.9" r="5"/><circle cx="1079.8" cy="497.0" r="5"/><circle cx="1134.7" cy="477.9" r="5"/><circle cx="1133.6" cy="472.4" r="5"/><circle cx="1091.9" cy="489.6" r="5"/><circle cx="1049.8" cy="486.4" r="5"/><circle cx="1097.5" cy="512.0" r="5"/><circle cx="1081.8" cy="473.2" r="5"/><circle cx="1113.3" cy="494.0" r="5"/><circle cx="1107.7" cy="507.0" r="5"/><circle cx="1075.8" cy="518.6" r="5"/><circle cx="1052.6" cy="497.5" r="5"/><circle cx="1088.3" cy="485.2" r="5"/><circle cx="1094.3" cy="485.1" r="5"/><circle cx="1040.2" cy="480.6" r="5"/><circle cx="1041.2" cy="485.7" r="5"/><circle cx="1118.7" cy="494.6" r="5"/><circle cx="1088.0" cy="473.6" r="5"/><circle cx="1095.2" cy="507.7" r="5"/><circle cx="1079.8" cy="477.2" r="5"/><circle cx="1044.3" cy="496.8" r="5"/><circle cx="1094.1" cy="502.2" r="5"/><circle cx="1091.0" cy="515.2" r="5"/><circle cx="1104.1" cy="503.9" r="5"/><circle cx="1084.9" cy="498.4" r="5"/><circle cx="1077.7" cy="504.9" r="5"/><circle cx="1080.0" cy="474.7" r="5"/><circle cx="1088.4" cy="490.1" r="5"/><circle cx="1095.5" cy="490.0" r="5"/><circle cx="1133.6" cy="478.1" r="5"/><circle cx="1101.1" cy="506.1" r="5"/><circle cx="1119.1" cy="503.6" r="5"/><circle cx="1051.1" cy="487.0" r="5"/><circle cx="1120.2" cy="485.4" r="5"/><circle cx="1121.5" cy="477.9" r="5"/><circle cx="1093.9" cy="500.6" r="5"/><circle cx="1113.6" cy="476.3" r="5"/><circle cx="1130.4" cy="468.9" r="5"/><circle cx="1107.0" cy="488.7" r="5"/><circle cx="1080.1" cy="496.0" r="5"/><circle cx="1119.3" cy="470.4" r="5"/><circle cx="1093.2" cy="508.2" r="5"/><circle cx="1095.3" cy="500.5" r="5"/><circle cx="1123.5" cy="489.8" r="5"/><circle cx="1102.1" cy="497.7" r="5"/><circle cx="1099.5" cy="476.9" r="5"/><circle cx="1107.6" cy="481.1" r="5"/><circle cx="1106.6" cy="495.7" r="5"/><circle cx="1048.3" cy="498.9" r="5"/><circle cx="1105.1" cy="477.1" r="5"/><circle cx="1093.5" cy="494.3" r="5"/><circle cx="1128.7" cy="487.9" r="5"/><circle cx="1126.4" cy="477.7" r="5"/><circle cx="1072.4" cy="486.2" r="5"/><circle cx="1089.7" cy="505.8" r="5"/><circle cx="1083.2" cy="489.4" r="5"/><circle cx="1077.2" cy="485.5" r="5"/><circle cx="1075.0" cy="507.8" r="5"/><circle cx="1052.3" cy="503.6" r="5"/><circle cx="1079.4" cy="509.9" r="5"/><circle cx="1076.0" cy="491.9" r="5"/><circle cx="1050.8" cy="485.8" r="5"/><circle cx="1088.4" cy="484.0" r="5"/><circle cx="1089.7" cy="497.4" r="5"/><circle cx="1089.9" cy="498.0" r="5"/><circle cx="1069.9" cy="499.2" r="5"/><circle cx="1106.1" cy="515.7" r="5"/><circle cx="1046.1" cy="502.3" r="5"/><circle cx="1134.0" cy="477.2" r="5"/><circle cx="1083.9" cy="474.8" r="5"/><circle cx="1132.3" cy="476.3" r="5"/><circle cx="1083.0" cy="490.3" r="5"/><circle cx="1084.4" cy="506.6" r="5"/><circle cx="1057.5" cy="483.8" r="5"/><circle cx="1080.7" cy="481.5" r="5"/><circle cx="1105.8" cy="509.3" r="5"/><circle cx="1061.1" cy="495.9" r="5"/><circle cx="1084.4" cy="483.0" r="5"/><circle cx="1052.6" cy="499.0" r="5"/><circle cx="1088.4" cy="478.3" r="5"/><circle cx="1054.3" cy="487.3" r="5"/><circle cx="1101.7" cy="488.6" r="5"/><circle cx="1100.3" cy="475.6" r="5"/><circle cx="1056.1" cy="495.0" r="5"/><circle cx="1078.4" cy="491.3" r="5"/><circle cx="1097.3" cy="512.1" r="5"/><circle cx="1085.0" cy="469.4" r="5"/><circle cx="1112.5" cy="477.3" r="5"/><circle cx="1093.1" cy="491.2" r="5"/><circle cx="1052.9" cy="491.4" r="5"/><circle cx="1115.6" cy="482.5" r="5"/><circle cx="1048.7" cy="505.6" r="5"/><circle cx="1081.4" cy="496.9" r="5"/><circle cx="1050.3" cy="502.6" r="5"/><circle cx="1107.4" cy="485.3" r="5"/><circle cx="1043.6" cy="503.2" r="5"/><circle cx="1050.6" cy="500.5" r="5"/><circle cx="1045.1" cy="478.4" r="5"/><circle cx="1094.5" cy="497.7" r="5"/><circle cx="1084.5" cy="476.9" r="5"/><circle cx="1124.9" cy="482.0" r="5"/><circle cx="1132.1" cy="481.3" r="5"/><circle cx="1062.6" cy="496.2" r="5"/><circle cx="1083.7" cy="473.1" r="5"/><circle cx="1035.1" cy="503.7" r="5"/><circle cx="1084.5" cy="514.1" r="5"/><circle cx="1142.2" cy="468.3" r="5"/><circle cx="1086.5" cy="479.2" r="5"/><circle cx="1105.6" cy="491.1" r="5"/><circle cx="1100.6" cy="483.4" r="5"/><circle cx="1102.9" cy="507.1" r="5"/><circle cx="1140.4" cy="468.2" r="5"/><circle cx="1054.1" cy="485.4" r="5"/><circle cx="1088.5" cy="493.4" r="5"/><circle cx="1102.6" cy="506.5" r="5"/><circle cx="1079.3" cy="490.9" r="5"/><circle cx="1110.3" cy="496.0" r="5"/><circle cx="1109.6" cy="500.8" r="5"/><circle cx="1128.7" cy="465.5" r="5"/><circle cx="1112.3" cy="496.1" r="5"/><circle cx="1122.7" cy="487.8" r="5"/><circle cx="1074.9" cy="475.9" r="5"/><circle cx="1124.8" cy="496.2" r="5"/><circle cx="1097.9" cy="482.9" r="5"/><circle cx="1092.1" cy="476.4" r="5"/><circle cx="1102.5" cy="470.9" r="5"/><circle cx="1051.6" cy="497.2" r="5"/><circle cx="1041.9" cy="502.8" r="5"/><circle cx="1063.2" cy="490.6" r="5"/><circle cx="1108.6" cy="487.7" r="5"/><circle cx="1071.5" cy="500.6" r="5"/><circle cx="1046.7" cy="502.0" r="5"/><circle cx="1055.3" cy="488.9" r="5"/><circle cx="1074.0" cy="479.8" r="5"/><circle cx="1084.7" cy="487.9" r="5"/><circle cx="1089.7" cy="470.6" r="5"/><circle cx="1098.0" cy="487.3" r="5"/><circle cx="1126.8" cy="487.3" r="5"/><circle cx="1110.2" cy="488.2" r="5"/><circle cx="1137.8" cy="475.7" r="5"/><circle cx="1085.1" cy="501.4" r="5"/><circle cx="1118.7" cy="501.4" r="5"/><circle cx="1051.3" cy="481.2" r="5"/><circle cx="1061.8" cy="497.5" r="5"/><circle cx="1066.5" cy="499.9" r="5"/><circle cx="1124.1" cy="475.5" r="5"/><circle cx="1120.1" cy="472.8" r="5"/><circle cx="1101.0" cy="511.2" r="5"/><circle cx="1086.5" cy="505.8" r="5"/><circle cx="1045.1" cy="482.2" r="5"/><circle cx="1102.6" cy="475.9" r="5"/><circle cx="1105.1" cy="505.6" r="5"/><circle cx="1083.9" cy="517.3" r="5"/><circle cx="1117.6" cy="482.3" r="5"/><circle cx="1069.7" cy="513.1" r="5"/><circle cx="1100.0" cy="485.7" r="5"/><circle cx="1173.8" cy="465.0" r="5"/><circle cx="1155.0" cy="445.0" r="5"/><circle cx="1143.3" cy="460.8" r="5"/><circle cx="1144.2" cy="490.0" r="5"/><circle cx="1140.8" cy="504.2" r="5"/><circle cx="1137.5" cy="497.5" r="5"/><circle cx="1055.0" cy="403.9" r="5"/><circle cx="1067.2" cy="401.7" r="5"/><circle cx="1034.5" cy="405.8" r="5"/><circle cx="1047.1" cy="400.9" r="5"/><circle cx="1064.9" cy="402.0" r="5"/><circle cx="1070.9" cy="404.7" r="5"/><circle cx="1021.6" cy="418.4" r="5"/><circle cx="1035.7" cy="420.4" r="5"/><circle cx="1051.0" cy="412.5" r="5"/><circle cx="1055.5" cy="412.8" r="5"/><circle cx="1059.5" cy="417.8" r="5"/><circle cx="1070.5" cy="422.7" r="5"/><circle cx="1081.8" cy="417.6" r="5"/><circle cx="1036.6" cy="417.8" r="5"/><circle cx="1045.8" cy="427.4" r="5"/><circle cx="1045.2" cy="428.6" r="5"/><circle cx="1054.8" cy="423.4" r="5"/><circle cx="1074.5" cy="421.9" r="5"/><circle cx="1078.6" cy="423.0" r="5"/><circle cx="1082.7" cy="429.2" r="5"/><circle cx="1025.4" cy="436.5" r="5"/><circle cx="1041.4" cy="437.3" r="5"/><circle cx="1044.5" cy="430.8" r="5"/><circle cx="1056.7" cy="427.2" r="5"/><circle cx="1058.5" cy="430.2" r="5"/><circle cx="1076.3" cy="428.5" r="5"/><circle cx="1086.7" cy="433.9" r="5"/><circle cx="1026.5" cy="442.2" r="5"/><circle cx="1037.3" cy="438.3" r="5"/><circle cx="1043.0" cy="444.4" r="5"/><circle cx="1057.1" cy="436.0" r="5"/><circle cx="1054.6" cy="440.1" r="5"/><circle cx="1068.7" cy="436.2" r="5"/><circle cx="1085.7" cy="438.7" r="5"/><circle cx="1035.0" cy="446.7" r="5"/><circle cx="1052.0" cy="454.7" r="5"/><circle cx="1061.1" cy="443.1" r="5"/><circle cx="1067.0" cy="450.2" r="5"/><circle cx="1079.9" cy="441.9" r="5"/><circle cx="1045.7" cy="455.6" r="5"/><circle cx="1052.4" cy="449.3" r="5"/><circle cx="1058.7" cy="455.7" r="5"/><circle cx="1107.4" cy="436.6" r="5"/><circle cx="1097.7" cy="459.2" r="5"/><circle cx="1115.7" cy="455.9" r="5"/><circle cx="1124.7" cy="454.7" r="5"/><circle cx="1134.3" cy="448.6" r="5"/><circle cx="1098.4" cy="449.9" r="5"/><circle cx="1083.5" cy="463.1" r="5"/><circle cx="1112.9" cy="464.0" r="5"/><circle cx="982.4" cy="443.5" r="5"/><circle cx="968.6" cy="437.0" r="5"/><circle cx="970.7" cy="453.7" r="5"/><circle cx="1002.1" cy="463.3" r="5"/><circle cx="961.6" cy="470.4" r="5"/><circle cx="960.0" cy="477.4" r="5"/><circle cx="1009.6" cy="487.3" r="5"/><circle cx="1021.8" cy="466.1" r="5"/><circle cx="949.1" cy="474.2" r="5"/><circle cx="989.7" cy="490.4" r="5"/><circle cx="1009.6" cy="489.4" r="5"/><circle cx="949.9" cy="491.6" r="5"/><circle cx="963.3" cy="501.2" r="5"/><circle cx="980.0" cy="511.2" r="5"/><circle cx="1002.3" cy="514.4" r="5"/><circle cx="950.7" cy="510.0" r="5"/><circle cx="975.9" cy="538.1" r="5"/><circle cx="983.3" cy="237.3" r="5"/><circle cx="1007.3" cy="245.0" r="5"/><circle cx="964.0" cy="250.0" r="5"/><circle cx="1024.0" cy="248.3" r="5"/><circle cx="937.7" cy="265.0" r="5"/><circle cx="911.7" cy="280.0" r="5"/><circle cx="906.7" cy="281.7" r="5"/><circle cx="884.0" cy="300.0" r="5"/><circle cx="1155.7" cy="313.3" r="5"/><circle cx="1171.0" cy="328.3" r="5"/><circle cx="1145.0" cy="289.3" r="5"/><circle cx="1138.3" cy="291.7" r="5"/><circle cx="1108.3" cy="269.3" r="5"/><circle cx="1068.3" cy="261.7" r="5"/><circle cx="1165.7" cy="410.7" r="5"/><circle cx="1163.3" cy="422.7" r="5"/><circle cx="1175.7" cy="432.0" r="5"/><circle cx="1155.0" cy="441.7" r="5"/><circle cx="1173.3" cy="465.0" r="5"/><circle cx="843.3" cy="368.3" r="5"/><circle cx="858.3" cy="381.7" r="5"/><circle cx="845.7" cy="400.7" r="5"/><circle cx="959.0" cy="480.7" r="5"/><circle cx="1008.3" cy="483.3" r="5"/><circle cx="990.0" cy="453.3" r="5"/><circle cx="996.7" cy="450.0" r="5"/><circle cx="712.2" cy="500.0" r="5"/><circle cx="672.7" cy="503.0" r="5"/><circle cx="693.0" cy="504.5" r="5"/><circle cx="702.4" cy="504.1" r="5"/><circle cx="693.5" cy="503.8" r="5"/><circle cx="697.6" cy="502.4" r="5"/><circle cx="719.3" cy="501.0" r="5"/><circle cx="679.1" cy="504.4" r="5"/><circle cx="696.5" cy="499.5" r="5"/><circle cx="690.1" cy="501.5" r="5"/><circle cx="703.3" cy="498.5" r="5"/><circle cx="672.0" cy="503.7" r="5"/><circle cx="673.0" cy="505.7" r="5"/><circle cx="674.7" cy="502.5" r="5"/><circle cx="698.5" cy="501.1" r="5"/><circle cx="686.3" cy="503.0" r="5"/><circle cx="691.3" cy="501.0" r="5"/><circle cx="675.6" cy="500.8" r="5"/><circle cx="705.5" cy="503.7" r="5"/><circle cx="673.3" cy="505.2" r="5"/><circle cx="705.6" cy="499.1" r="5"/><circle cx="700.5" cy="501.8" r="5"/><circle cx="715.5" cy="499.9" r="5"/><circle cx="672.3" cy="506.1" r="5"/><circle cx="679.4" cy="502.0" r="5"/><circle cx="702.3" cy="502.2" r="5"/><circle cx="674.5" cy="504.2" r="5"/><circle cx="675.6" cy="502.5" r="5"/><circle cx="688.3" cy="500.3" r="5"/><circle cx="697.6" cy="500.4" r="5"/><circle cx="706.0" cy="503.4" r="5"/><circle cx="689.6" cy="500.7" r="5"/><circle cx="691.8" cy="500.9" r="5"/><circle cx="720.3" cy="502.2" r="5"/><circle cx="674.1" cy="502.6" r="5"/><circle cx="716.4" cy="496.9" r="5"/><circle cx="713.4" cy="499.9" r="5"/><circle cx="677.9" cy="502.2" r="5"/><circle cx="680.1" cy="506.8" r="5"/><circle cx="718.8" cy="500.6" r="5"/><circle cx="760.8" cy="510.9" r="5"/><circle cx="724.5" cy="504.3" r="5"/><circle cx="778.4" cy="493.1" r="5"/><circle cx="740.4" cy="505.3" r="5"/><circle cx="765.5" cy="495.5" r="5"/><circle cx="770.5" cy="494.7" r="5"/><circle cx="769.2" cy="505.7" r="5"/><circle cx="767.4" cy="484.1" r="5"/><circle cx="746.6" cy="503.2" r="5"/><circle cx="712.8" cy="493.6" r="5"/><circle cx="700.7" cy="494.5" r="5"/><circle cx="717.6" cy="505.0" r="5"/><circle cx="755.6" cy="486.8" r="5"/><circle cx="723.4" cy="484.8" r="5"/><circle cx="770.5" cy="495.5" r="5"/><circle cx="790.5" cy="499.5" r="5"/><circle cx="778.5" cy="488.3" r="5"/><circle cx="792.1" cy="472.9" r="5"/><circle cx="743.7" cy="495.6" r="5"/><circle cx="785.4" cy="503.3" r="5"/><circle cx="791.9" cy="485.1" r="5"/><circle cx="782.6" cy="490.9" r="5"/><circle cx="786.3" cy="495.9" r="5"/><circle cx="701.9" cy="504.5" r="5"/><circle cx="769.1" cy="489.2" r="5"/><circle cx="727.8" cy="499.2" r="5"/><circle cx="762.5" cy="505.5" r="5"/><circle cx="702.5" cy="492.3" r="5"/><circle cx="741.6" cy="503.5" r="5"/><circle cx="714.2" cy="504.9" r="5"/><circle cx="772.1" cy="496.3" r="5"/><circle cx="785.1" cy="493.1" r="5"/><circle cx="773.3" cy="482.5" r="5"/><circle cx="772.2" cy="492.3" r="5"/><circle cx="755.9" cy="489.8" r="5"/><circle cx="775.5" cy="491.6" r="5"/><circle cx="725.7" cy="486.7" r="5"/><circle cx="780.0" cy="485.4" r="5"/><circle cx="752.0" cy="502.3" r="5"/><circle cx="770.2" cy="494.3" r="5"/><circle cx="718.4" cy="493.6" r="5"/><circle cx="708.7" cy="499.8" r="5"/><circle cx="771.7" cy="512.6" r="5"/><circle cx="770.6" cy="505.4" r="5"/><circle cx="770.0" cy="506.1" r="5"/><circle cx="719.8" cy="485.0" r="5"/><circle cx="779.8" cy="485.3" r="5"/><circle cx="754.5" cy="487.9" r="5"/><circle cx="777.8" cy="500.6" r="5"/><circle cx="798.7" cy="480.3" r="5"/><circle cx="789.2" cy="503.1" r="5"/><circle cx="730.1" cy="497.9" r="5"/><circle cx="757.3" cy="510.2" r="5"/><circle cx="754.0" cy="508.0" r="5"/><circle cx="745.0" cy="495.7" r="5"/><circle cx="779.7" cy="489.0" r="5"/><circle cx="749.8" cy="483.7" r="5"/><circle cx="788.2" cy="485.6" r="5"/><circle cx="754.8" cy="491.4" r="5"/><circle cx="779.8" cy="487.6" r="5"/><circle cx="758.5" cy="496.5" r="5"/><circle cx="703.0" cy="502.9" r="5"/><circle cx="795.8" cy="496.5" r="5"/><circle cx="714.7" cy="496.0" r="5"/><circle cx="774.9" cy="499.9" r="5"/><circle cx="784.6" cy="505.8" r="5"/><circle cx="797.4" cy="491.0" r="5"/><circle cx="773.1" cy="505.6" r="5"/><circle cx="787.6" cy="479.3" r="5"/><circle cx="708.4" cy="496.6" r="5"/><circle cx="796.0" cy="475.8" r="5"/><circle cx="779.8" cy="476.3" r="5"/><circle cx="785.1" cy="492.0" r="5"/><circle cx="770.9" cy="488.6" r="5"/><circle cx="738.7" cy="506.0" r="5"/><circle cx="763.0" cy="492.1" r="5"/><circle cx="755.0" cy="486.9" r="5"/><circle cx="785.6" cy="485.0" r="5"/><circle cx="742.0" cy="501.0" r="5"/><circle cx="786.8" cy="489.1" r="5"/><circle cx="736.9" cy="506.5" r="5"/><circle cx="751.1" cy="502.7" r="5"/><circle cx="797.6" cy="481.3" r="5"/><circle cx="741.6" cy="496.0" r="5"/><circle cx="705.7" cy="504.5" r="5"/><circle cx="800.2" cy="473.2" r="5"/><circle cx="776.0" cy="489.6" r="5"/><circle cx="721.4" cy="487.1" r="5"/><circle cx="784.4" cy="507.0" r="5"/><circle cx="761.9" cy="508.8" r="5"/><circle cx="790.3" cy="514.2" r="5"/><circle cx="820.5" cy="525.2" r="5"/><circle cx="817.5" cy="492.6" r="5"/><circle cx="818.7" cy="502.4" r="5"/><circle cx="829.2" cy="464.8" r="5"/><circle cx="854.9" cy="471.9" r="5"/><circle cx="837.0" cy="464.7" r="5"/><circle cx="871.7" cy="442.5" r="5"/><circle cx="799.3" cy="467.8" r="5"/><circle cx="848.4" cy="458.5" r="5"/><circle cx="832.4" cy="498.6" r="5"/><circle cx="804.4" cy="466.9" r="5"/><circle cx="810.0" cy="502.2" r="5"/><circle cx="837.8" cy="512.2" r="5"/><circle cx="830.4" cy="485.4" r="5"/><circle cx="842.5" cy="457.0" r="5"/><circle cx="831.0" cy="499.8" r="5"/><circle cx="837.7" cy="515.3" r="5"/><circle cx="843.2" cy="469.2" r="5"/><circle cx="865.0" cy="452.4" r="5"/><circle cx="850.0" cy="469.6" r="5"/><circle cx="797.2" cy="491.9" r="5"/><circle cx="811.6" cy="478.7" r="5"/><circle cx="831.8" cy="529.3" r="5"/><circle cx="797.7" cy="503.0" r="5"/><circle cx="843.6" cy="485.2" r="5"/><circle cx="856.9" cy="454.6" r="5"/><circle cx="813.5" cy="488.3" r="5"/><circle cx="794.6" cy="487.9" r="5"/><circle cx="809.0" cy="513.7" r="5"/><circle cx="851.5" cy="456.1" r="5"/><circle cx="796.3" cy="489.3" r="5"/><circle cx="838.9" cy="519.8" r="5"/><circle cx="852.8" cy="458.2" r="5"/><circle cx="785.1" cy="505.9" r="5"/><circle cx="806.8" cy="517.1" r="5"/><circle cx="797.3" cy="495.9" r="5"/><circle cx="807.3" cy="524.5" r="5"/><circle cx="822.5" cy="523.0" r="5"/><circle cx="849.2" cy="508.3" r="5"/><circle cx="814.8" cy="484.0" r="5"/><circle cx="836.0" cy="455.0" r="5"/><circle cx="853.6" cy="472.8" r="5"/><circle cx="859.7" cy="479.4" r="5"/><circle cx="838.8" cy="499.9" r="5"/><circle cx="850.8" cy="457.9" r="5"/><circle cx="817.9" cy="493.9" r="5"/><circle cx="852.0" cy="472.8" r="5"/><circle cx="803.7" cy="493.2" r="5"/><circle cx="815.2" cy="513.6" r="5"/><circle cx="807.2" cy="517.7" r="5"/><circle cx="817.5" cy="519.6" r="5"/><circle cx="823.8" cy="506.1" r="5"/><circle cx="862.6" cy="471.5" r="5"/><circle cx="887.3" cy="442.2" r="5"/><circle cx="840.4" cy="457.0" r="5"/><circle cx="863.3" cy="438.5" r="5"/><circle cx="840.1" cy="486.1" r="5"/><circle cx="819.7" cy="466.0" r="5"/><circle cx="793.2" cy="511.8" r="5"/><circle cx="810.7" cy="509.3" r="5"/><circle cx="893.3" cy="454.0" r="5"/><circle cx="798.2" cy="479.9" r="5"/><circle cx="834.5" cy="510.8" r="5"/><circle cx="802.3" cy="504.7" r="5"/><circle cx="860.7" cy="489.0" r="5"/><circle cx="828.8" cy="475.5" r="5"/><circle cx="837.5" cy="451.5" r="5"/><circle cx="850.0" cy="502.1" r="5"/><circle cx="856.9" cy="469.2" r="5"/><circle cx="823.3" cy="527.4" r="5"/><circle cx="815.2" cy="463.2" r="5"/><circle cx="843.6" cy="501.8" r="5"/><circle cx="837.6" cy="509.0" r="5"/><circle cx="797.4" cy="503.5" r="5"/><circle cx="820.6" cy="502.9" r="5"/><circle cx="876.8" cy="458.8" r="5"/><circle cx="807.1" cy="501.9" r="5"/><circle cx="792.8" cy="487.9" r="5"/><circle cx="806.1" cy="496.5" r="5"/><circle cx="867.9" cy="448.0" r="5"/><circle cx="839.5" cy="501.1" r="5"/><circle cx="862.2" cy="486.7" r="5"/><circle cx="805.6" cy="523.4" r="5"/><circle cx="846.8" cy="502.2" r="5"/><circle cx="863.2" cy="453.8" r="5"/><circle cx="841.5" cy="506.5" r="5"/><circle cx="849.3" cy="490.1" r="5"/><circle cx="806.2" cy="510.3" r="5"/><circle cx="835.8" cy="457.1" r="5"/><circle cx="822.1" cy="516.2" r="5"/><circle cx="850.1" cy="498.5" r="5"/><circle cx="816.6" cy="523.3" r="5"/><circle cx="848.1" cy="457.0" r="5"/><circle cx="837.2" cy="481.7" r="5"/><circle cx="818.7" cy="494.5" r="5"/><circle cx="852.4" cy="439.7" r="5"/><circle cx="868.9" cy="443.6" r="5"/><circle cx="830.2" cy="523.2" r="5"/><circle cx="851.2" cy="496.1" r="5"/><circle cx="885.6" cy="450.7" r="5"/><circle cx="806.3" cy="492.3" r="5"/><circle cx="829.4" cy="501.9" r="5"/><circle cx="857.8" cy="493.7" r="5"/><circle cx="822.7" cy="508.3" r="5"/><circle cx="861.6" cy="438.5" r="5"/><circle cx="864.7" cy="456.1" r="5"/><circle cx="849.7" cy="478.5" r="5"/><circle cx="816.2" cy="532.8" r="5"/><circle cx="846.5" cy="477.3" r="5"/><circle cx="837.8" cy="462.8" r="5"/><circle cx="800.4" cy="518.7" r="5"/><circle cx="806.5" cy="527.5" r="5"/><circle cx="800.4" cy="479.3" r="5"/><circle cx="799.6" cy="499.2" r="5"/><circle cx="845.5" cy="462.8" r="5"/><circle cx="788.1" cy="500.9" r="5"/><circle cx="838.0" cy="464.3" r="5"/><circle cx="827.2" cy="519.4" r="5"/><circle cx="841.3" cy="496.7" r="5"/><circle cx="850.5" cy="447.8" r="5"/><circle cx="812.5" cy="517.5" r="5"/><circle cx="786.2" cy="499.0" r="5"/><circle cx="848.6" cy="456.4" r="5"/><circle cx="803.9" cy="496.1" r="5"/><circle cx="815.2" cy="524.1" r="5"/><circle cx="820.6" cy="509.8" r="5"/><circle cx="793.5" cy="496.0" r="5"/><circle cx="806.2" cy="517.6" r="5"/><circle cx="839.0" cy="453.4" r="5"/><circle cx="891.0" cy="451.7" r="5"/><circle cx="828.9" cy="494.6" r="5"/><circle cx="823.6" cy="531.8" r="5"/><circle cx="791.2" cy="508.3" r="5"/><circle cx="836.8" cy="517.1" r="5"/><circle cx="880.7" cy="457.2" r="5"/><circle cx="842.4" cy="457.7" r="5"/><circle cx="857.2" cy="494.2" r="5"/><circle cx="840.7" cy="501.3" r="5"/><circle cx="859.4" cy="454.1" r="5"/><circle cx="844.6" cy="482.1" r="5"/><circle cx="804.2" cy="517.8" r="5"/><circle cx="845.5" cy="500.3" r="5"/><circle cx="827.8" cy="462.2" r="5"/><circle cx="859.0" cy="449.8" r="5"/><circle cx="872.9" cy="463.5" r="5"/><circle cx="838.5" cy="465.2" r="5"/><circle cx="889.6" cy="455.4" r="5"/><circle cx="830.5" cy="522.7" r="5"/><circle cx="836.1" cy="485.5" r="5"/><circle cx="852.3" cy="461.8" r="5"/><circle cx="840.4" cy="516.8" r="5"/><circle cx="812.7" cy="511.4" r="5"/><circle cx="847.0" cy="506.0" r="5"/><circle cx="811.3" cy="512.3" r="5"/><circle cx="824.9" cy="458.5" r="5"/><circle cx="814.4" cy="481.5" r="5"/><circle cx="818.9" cy="496.3" r="5"/><circle cx="885.6" cy="452.9" r="5"/><circle cx="839.2" cy="519.6" r="5"/><circle cx="856.9" cy="472.4" r="5"/><circle cx="855.0" cy="501.4" r="5"/><circle cx="835.3" cy="464.9" r="5"/><circle cx="824.9" cy="477.1" r="5"/><circle cx="854.7" cy="464.7" r="5"/><circle cx="832.9" cy="491.8" r="5"/><circle cx="823.5" cy="471.8" r="5"/><circle cx="857.4" cy="468.4" r="5"/><circle cx="806.4" cy="490.0" r="5"/><circle cx="845.4" cy="498.7" r="5"/><circle cx="817.2" cy="463.9" r="5"/><circle cx="852.2" cy="463.9" r="5"/><circle cx="880.3" cy="454.5" r="5"/><circle cx="858.4" cy="439.5" r="5"/><circle cx="864.2" cy="480.9" r="5"/><circle cx="856.5" cy="463.4" r="5"/><circle cx="805.4" cy="520.0" r="5"/><circle cx="813.4" cy="501.1" r="5"/><circle cx="810.5" cy="517.0" r="5"/><circle cx="794.1" cy="505.3" r="5"/><circle cx="823.3" cy="470.5" r="5"/><circle cx="797.2" cy="474.0" r="5"/><circle cx="830.9" cy="516.3" r="5"/><circle cx="844.6" cy="475.7" r="5"/><circle cx="810.9" cy="492.0" r="5"/><circle cx="837.1" cy="487.1" r="5"/><circle cx="826.1" cy="508.3" r="5"/><circle cx="828.3" cy="512.8" r="5"/><circle cx="818.2" cy="497.5" r="5"/><circle cx="861.0" cy="472.4" r="5"/><circle cx="829.5" cy="488.3" r="5"/><circle cx="843.7" cy="486.4" r="5"/><circle cx="842.6" cy="509.2" r="5"/><circle cx="845.3" cy="484.6" r="5"/><circle cx="825.4" cy="462.5" r="5"/><circle cx="834.0" cy="475.6" r="5"/><circle cx="819.2" cy="521.0" r="5"/><circle cx="835.3" cy="492.2" r="5"/><circle cx="856.0" cy="478.0" r="5"/><circle cx="803.2" cy="497.1" r="5"/><circle cx="824.1" cy="474.5" r="5"/><circle cx="819.0" cy="504.7" r="5"/><circle cx="829.7" cy="471.0" r="5"/><circle cx="855.8" cy="484.9" r="5"/><circle cx="819.6" cy="504.2" r="5"/><circle cx="851.5" cy="476.5" r="5"/><circle cx="844.4" cy="471.3" r="5"/><circle cx="830.9" cy="511.7" r="5"/><circle cx="821.0" cy="535.2" r="5"/><circle cx="839.4" cy="496.5" r="5"/><circle cx="809.3" cy="481.6" r="5"/><circle cx="853.1" cy="498.4" r="5"/><circle cx="857.9" cy="475.1" r="5"/><circle cx="843.7" cy="496.0" r="5"/><circle cx="808.9" cy="519.3" r="5"/><circle cx="843.5" cy="494.3" r="5"/><circle cx="827.6" cy="493.1" r="5"/><circle cx="824.6" cy="500.2" r="5"/><circle cx="829.8" cy="463.6" r="5"/><circle cx="803.7" cy="515.9" r="5"/><circle cx="811.1" cy="512.6" r="5"/><circle cx="837.5" cy="441.3" r="5"/><circle cx="838.2" cy="447.3" r="5"/><circle cx="797.0" cy="507.3" r="5"/><circle cx="838.3" cy="466.0" r="5"/><circle cx="877.5" cy="450.4" r="5"/><circle cx="842.5" cy="488.3" r="5"/><circle cx="819.5" cy="520.4" r="5"/><circle cx="822.1" cy="462.0" r="5"/><circle cx="813.7" cy="491.8" r="5"/><circle cx="842.6" cy="508.2" r="5"/><circle cx="885.9" cy="455.5" r="5"/><circle cx="845.8" cy="478.8" r="5"/><circle cx="807.6" cy="514.5" r="5"/><circle cx="846.8" cy="501.7" r="5"/><circle cx="833.2" cy="464.9" r="5"/><circle cx="829.1" cy="519.4" r="5"/><circle cx="804.1" cy="505.1" r="5"/><circle cx="817.9" cy="468.2" r="5"/><circle cx="868.1" cy="464.5" r="5"/><circle cx="829.9" cy="518.1" r="5"/><circle cx="835.5" cy="467.3" r="5"/><circle cx="846.9" cy="482.3" r="5"/><circle cx="806.2" cy="472.4" r="5"/><circle cx="805.8" cy="501.8" r="5"/><circle cx="801.4" cy="496.7" r="5"/><circle cx="796.2" cy="482.2" r="5"/><circle cx="867.4" cy="446.6" r="5"/><circle cx="832.2" cy="505.4" r="5"/><circle cx="855.1" cy="456.7" r="5"/><circle cx="835.7" cy="508.8" r="5"/><circle cx="825.0" cy="516.0" r="5"/><circle cx="864.0" cy="443.7" r="5"/><circle cx="820.3" cy="525.5" r="5"/><circle cx="868.0" cy="462.1" r="5"/><circle cx="836.1" cy="480.0" r="5"/><circle cx="867.8" cy="441.2" r="5"/><circle cx="829.8" cy="484.8" r="5"/><circle cx="819.0" cy="526.2" r="5"/><circle cx="842.2" cy="464.6" r="5"/><circle cx="836.5" cy="448.9" r="5"/><circle cx="804.5" cy="499.9" r="5"/><circle cx="818.9" cy="510.5" r="5"/><circle cx="824.9" cy="475.8" r="5"/><circle cx="803.7" cy="513.4" r="5"/><circle cx="835.7" cy="507.8" r="5"/><circle cx="888.5" cy="449.6" r="5"/><circle cx="853.5" cy="451.3" r="5"/><circle cx="820.4" cy="478.6" r="5"/><circle cx="849.8" cy="447.9" r="5"/><circle cx="838.9" cy="501.8" r="5"/><circle cx="822.4" cy="494.1" r="5"/><circle cx="797.4" cy="473.2" r="5"/><circle cx="845.3" cy="462.1" r="5"/><circle cx="836.0" cy="498.5" r="5"/><circle cx="857.1" cy="443.3" r="5"/><circle cx="843.9" cy="465.2" r="5"/><circle cx="862.0" cy="447.0" r="5"/><circle cx="846.3" cy="468.3" r="5"/><circle cx="811.2" cy="485.1" r="5"/><circle cx="873.5" cy="447.6" r="5"/><circle cx="817.4" cy="478.5" r="5"/><circle cx="835.8" cy="460.1" r="5"/><circle cx="829.5" cy="469.5" r="5"/><circle cx="838.9" cy="506.9" r="5"/><circle cx="786.1" cy="509.2" r="5"/><circle cx="819.4" cy="492.8" r="5"/><circle cx="816.3" cy="478.2" r="5"/><circle cx="817.3" cy="479.5" r="5"/><circle cx="821.2" cy="519.3" r="5"/><circle cx="800.2" cy="482.7" r="5"/><circle cx="835.7" cy="515.2" r="5"/><circle cx="807.7" cy="506.8" r="5"/><circle cx="856.3" cy="448.5" r="5"/><circle cx="795.4" cy="487.9" r="5"/><circle cx="818.2" cy="486.6" r="5"/><circle cx="845.1" cy="442.0" r="5"/><circle cx="837.2" cy="445.2" r="5"/><circle cx="832.6" cy="458.5" r="5"/><circle cx="853.4" cy="452.0" r="5"/><circle cx="883.4" cy="448.9" r="5"/><circle cx="800.8" cy="495.9" r="5"/><circle cx="827.0" cy="513.7" r="5"/><circle cx="840.7" cy="442.5" r="5"/><circle cx="798.4" cy="525.0" r="5"/><circle cx="719.2" cy="444.4" r="5"/><circle cx="738.9" cy="462.5" r="5"/><circle cx="793.2" cy="466.0" r="5"/><circle cx="727.6" cy="459.6" r="5"/><circle cx="792.1" cy="458.9" r="5"/><circle cx="895.5" cy="455.6" r="5"/><circle cx="863.1" cy="459.9" r="5"/><circle cx="881.4" cy="472.8" r="5"/><circle cx="894.9" cy="472.9" r="5"/><circle cx="898.7" cy="468.4" r="5"/><circle cx="906.0" cy="472.1" r="5"/><circle cx="859.6" cy="479.4" r="5"/><circle cx="869.6" cy="478.8" r="5"/><circle cx="881.3" cy="469.3" r="5"/><circle cx="902.1" cy="473.6" r="5"/><circle cx="914.4" cy="471.2" r="5"/><circle cx="914.8" cy="478.2" r="5"/><circle cx="863.6" cy="488.3" r="5"/><circle cx="876.9" cy="480.1" r="5"/><circle cx="882.1" cy="491.2" r="5"/><circle cx="893.8" cy="478.7" r="5"/><circle cx="910.4" cy="482.3" r="5"/><circle cx="854.5" cy="490.0" r="5"/><circle cx="851.3" cy="492.1" r="5"/><circle cx="866.5" cy="500.3" r="5"/><circle cx="882.2" cy="498.1" r="5"/><circle cx="900.3" cy="488.2" r="5"/><circle cx="911.2" cy="492.1" r="5"/><circle cx="911.9" cy="489.7" r="5"/><circle cx="927.9" cy="495.0" r="5"/><circle cx="852.1" cy="515.6" r="5"/><circle cx="862.0" cy="504.8" r="5"/><circle cx="871.3" cy="500.7" r="5"/><circle cx="884.1" cy="513.7" r="5"/><circle cx="903.1" cy="496.4" r="5"/><circle cx="923.0" cy="512.1" r="5"/><circle cx="922.9" cy="499.4" r="5"/><circle cx="851.7" cy="511.1" r="5"/><circle cx="866.4" cy="517.4" r="5"/><circle cx="884.6" cy="520.9" r="5"/><circle cx="899.3" cy="511.1" r="5"/><circle cx="923.6" cy="510.5" r="5"/><circle cx="860.7" cy="525.2" r="5"/><circle cx="866.9" cy="520.0" r="5"/><circle cx="891.2" cy="528.7" r="5"/><circle cx="755.7" cy="556.2" r="5"/><circle cx="757.8" cy="563.3" r="5"/><circle cx="730.3" cy="538.9" r="5"/><circle cx="741.0" cy="560.6" r="5"/><circle cx="725.0" cy="546.0" r="5"/><circle cx="737.6" cy="528.9" r="5"/><circle cx="764.1" cy="558.3" r="5"/><circle cx="724.0" cy="538.2" r="5"/><circle cx="741.0" cy="558.1" r="5"/><circle cx="756.0" cy="555.4" r="5"/><circle cx="746.6" cy="546.7" r="5"/><circle cx="732.2" cy="560.6" r="5"/><circle cx="735.9" cy="544.9" r="5"/><circle cx="730.4" cy="540.9" r="5"/><circle cx="746.7" cy="560.3" r="5"/><circle cx="755.9" cy="555.0" r="5"/><circle cx="735.8" cy="549.8" r="5"/><circle cx="736.9" cy="549.0" r="5"/><circle cx="727.3" cy="533.7" r="5"/><circle cx="746.1" cy="542.2" r="5"/><circle cx="720.4" cy="542.1" r="5"/><circle cx="750.8" cy="560.2" r="5"/><circle cx="736.0" cy="543.5" r="5"/><circle cx="757.0" cy="557.3" r="5"/><circle cx="754.7" cy="548.6" r="5"/><circle cx="766.4" cy="541.7" r="5"/><circle cx="771.4" cy="537.3" r="5"/><circle cx="716.1" cy="530.2" r="5"/><circle cx="772.1" cy="552.3" r="5"/><circle cx="730.4" cy="554.0" r="5"/><circle cx="763.9" cy="541.0" r="5"/><circle cx="744.2" cy="554.2" r="5"/><circle cx="769.6" cy="541.8" r="5"/><circle cx="726.2" cy="556.9" r="5"/><circle cx="771.9" cy="555.6" r="5"/><circle cx="743.9" cy="541.0" r="5"/><circle cx="751.3" cy="564.3" r="5"/><circle cx="746.8" cy="535.4" r="5"/><circle cx="733.9" cy="562.7" r="5"/><circle cx="738.2" cy="527.7" r="5"/><circle cx="746.8" cy="556.8" r="5"/><circle cx="738.0" cy="526.7" r="5"/><circle cx="759.7" cy="562.9" r="5"/><circle cx="734.3" cy="550.8" r="5"/><circle cx="751.0" cy="534.2" r="5"/><circle cx="768.3" cy="552.2" r="5"/><circle cx="736.9" cy="553.3" r="5"/><circle cx="722.4" cy="528.1" r="5"/><circle cx="712.5" cy="533.6" r="5"/><circle cx="756.8" cy="554.4" r="5"/><circle cx="744.0" cy="548.8" r="5"/><circle cx="739.8" cy="572.8" r="5"/><circle cx="766.3" cy="563.5" r="5"/><circle cx="745.8" cy="531.6" r="5"/><circle cx="728.3" cy="559.1" r="5"/><circle cx="736.1" cy="542.3" r="5"/><circle cx="735.7" cy="541.0" r="5"/><circle cx="725.5" cy="554.2" r="5"/><circle cx="737.5" cy="557.3" r="5"/><circle cx="715.6" cy="545.3" r="5"/><circle cx="776.0" cy="560.3" r="5"/><circle cx="742.4" cy="541.9" r="5"/><circle cx="733.1" cy="545.5" r="5"/><circle cx="725.4" cy="535.1" r="5"/><circle cx="723.0" cy="543.5" r="5"/><circle cx="738.5" cy="574.5" r="5"/><circle cx="779.2" cy="543.1" r="5"/><circle cx="722.4" cy="554.4" r="5"/><circle cx="742.5" cy="538.5" r="5"/><circle cx="744.9" cy="547.1" r="5"/><circle cx="726.8" cy="549.0" r="5"/><circle cx="774.4" cy="540.3" r="5"/><circle cx="741.6" cy="528.0" r="5"/><circle cx="751.5" cy="550.7" r="5"/><circle cx="757.8" cy="539.6" r="5"/><circle cx="741.6" cy="569.8" r="5"/><circle cx="726.6" cy="530.8" r="5"/><circle cx="776.3" cy="543.5" r="5"/><circle cx="744.3" cy="544.4" r="5"/><circle cx="751.6" cy="554.6" r="5"/><circle cx="764.7" cy="554.0" r="5"/><circle cx="715.2" cy="547.1" r="5"/><circle cx="745.6" cy="560.0" r="5"/><circle cx="720.8" cy="539.9" r="5"/><circle cx="723.3" cy="528.0" r="5"/><circle cx="765.5" cy="556.0" r="5"/><circle cx="726.6" cy="540.4" r="5"/><circle cx="750.2" cy="559.1" r="5"/><circle cx="725.7" cy="538.2" r="5"/><circle cx="716.4" cy="547.9" r="5"/><circle cx="720.2" cy="533.5" r="5"/><circle cx="767.1" cy="543.3" r="5"/><circle cx="768.0" cy="545.5" r="5"/><circle cx="762.7" cy="542.4" r="5"/><circle cx="747.8" cy="531.8" r="5"/><circle cx="751.7" cy="550.7" r="5"/><circle cx="718.1" cy="533.0" r="5"/><circle cx="724.7" cy="545.6" r="5"/><circle cx="742.2" cy="565.3" r="5"/><circle cx="716.3" cy="534.9" r="5"/><circle cx="752.8" cy="560.1" r="5"/><circle cx="731.1" cy="551.5" r="5"/><circle cx="742.5" cy="545.2" r="5"/><circle cx="725.0" cy="533.6" r="5"/><circle cx="729.8" cy="552.7" r="5"/><circle cx="725.1" cy="543.0" r="5"/><circle cx="808.4" cy="587.0" r="5"/><circle cx="807.2" cy="598.6" r="5"/><circle cx="807.4" cy="593.9" r="5"/><circle cx="811.7" cy="576.2" r="5"/><circle cx="808.7" cy="592.5" r="5"/><circle cx="812.5" cy="559.2" r="5"/><circle cx="812.6" cy="570.2" r="5"/><circle cx="804.0" cy="597.2" r="5"/><circle cx="811.3" cy="563.3" r="5"/><circle cx="798.0" cy="611.3" r="5"/><circle cx="817.3" cy="553.6" r="5"/><circle cx="804.6" cy="590.5" r="5"/><circle cx="809.1" cy="586.6" r="5"/><circle cx="806.4" cy="600.2" r="5"/><circle cx="811.6" cy="582.0" r="5"/><circle cx="816.5" cy="559.0" r="5"/><circle cx="821.5" cy="552.3" r="5"/><circle cx="814.9" cy="547.0" r="5"/><circle cx="817.5" cy="551.7" r="5"/><circle cx="810.6" cy="556.4" r="5"/><circle cx="808.8" cy="567.2" r="5"/><circle cx="815.0" cy="555.2" r="5"/><circle cx="811.1" cy="556.0" r="5"/><circle cx="819.3" cy="537.5" r="5"/><circle cx="805.7" cy="601.0" r="5"/><circle cx="811.9" cy="547.8" r="5"/><circle cx="813.6" cy="570.6" r="5"/><circle cx="813.1" cy="581.3" r="5"/><circle cx="806.3" cy="581.2" r="5"/><circle cx="810.0" cy="576.3" r="5"/><circle cx="811.0" cy="572.7" r="5"/><circle cx="797.9" cy="592.5" r="5"/><circle cx="817.9" cy="580.3" r="5"/><circle cx="809.6" cy="550.3" r="5"/><circle cx="804.9" cy="619.6" r="5"/><circle cx="786.9" cy="707.0" r="5"/><circle cx="804.5" cy="655.3" r="5"/><circle cx="804.0" cy="621.4" r="5"/><circle cx="771.3" cy="669.3" r="5"/><circle cx="803.9" cy="639.4" r="5"/><circle cx="831.6" cy="654.2" r="5"/><circle cx="787.0" cy="704.2" r="5"/><circle cx="782.9" cy="653.3" r="5"/><circle cx="765.2" cy="669.1" r="5"/><circle cx="781.7" cy="675.1" r="5"/><circle cx="761.6" cy="635.2" r="5"/><circle cx="812.1" cy="590.9" r="5"/><circle cx="761.4" cy="673.5" r="5"/><circle cx="792.3" cy="701.5" r="5"/><circle cx="827.7" cy="649.3" r="5"/><circle cx="798.4" cy="701.7" r="5"/><circle cx="799.3" cy="662.9" r="5"/><circle cx="793.4" cy="693.7" r="5"/><circle cx="802.7" cy="658.0" r="5"/><circle cx="827.5" cy="660.6" r="5"/><circle cx="773.8" cy="651.3" r="5"/><circle cx="793.0" cy="692.3" r="5"/><circle cx="763.8" cy="624.9" r="5"/><circle cx="802.8" cy="593.4" r="5"/><circle cx="772.0" cy="613.6" r="5"/><circle cx="797.3" cy="647.0" r="5"/><circle cx="777.4" cy="669.3" r="5"/><circle cx="778.4" cy="628.1" r="5"/><circle cx="798.5" cy="660.7" r="5"/><circle cx="774.0" cy="634.9" r="5"/><circle cx="804.9" cy="672.1" r="5"/><circle cx="817.5" cy="632.4" r="5"/><circle cx="772.7" cy="641.2" r="5"/><circle cx="785.7" cy="644.7" r="5"/><circle cx="797.4" cy="597.3" r="5"/><circle cx="778.0" cy="674.6" r="5"/><circle cx="795.4" cy="687.4" r="5"/><circle cx="827.6" cy="631.3" r="5"/><circle cx="829.6" cy="661.7" r="5"/><circle cx="842.7" cy="634.4" r="5"/><circle cx="796.6" cy="714.2" r="5"/><circle cx="782.4" cy="655.4" r="5"/><circle cx="807.4" cy="594.7" r="5"/><circle cx="797.9" cy="657.0" r="5"/><circle cx="836.8" cy="619.2" r="5"/><circle cx="766.7" cy="628.0" r="5"/><circle cx="809.6" cy="680.4" r="5"/><circle cx="796.5" cy="651.1" r="5"/><circle cx="809.9" cy="603.5" r="5"/><circle cx="765.9" cy="672.0" r="5"/><circle cx="774.0" cy="737.2" r="5"/><circle cx="762.1" cy="682.7" r="5"/><circle cx="849.6" cy="637.2" r="5"/><circle cx="785.6" cy="702.8" r="5"/><circle cx="804.2" cy="649.8" r="5"/><circle cx="816.8" cy="632.4" r="5"/><circle cx="798.1" cy="619.9" r="5"/><circle cx="774.3" cy="708.9" r="5"/><circle cx="833.7" cy="655.2" r="5"/><circle cx="798.8" cy="638.8" r="5"/><circle cx="772.7" cy="701.0" r="5"/><circle cx="779.5" cy="679.7" r="5"/><circle cx="810.1" cy="608.2" r="5"/><circle cx="783.1" cy="723.4" r="5"/><circle cx="805.4" cy="602.2" r="5"/><circle cx="770.9" cy="684.6" r="5"/><circle cx="829.2" cy="621.0" r="5"/><circle cx="828.5" cy="643.0" r="5"/><circle cx="811.1" cy="632.2" r="5"/><circle cx="814.9" cy="612.9" r="5"/><circle cx="811.5" cy="631.3" r="5"/><circle cx="772.5" cy="706.1" r="5"/><circle cx="778.6" cy="731.5" r="5"/><circle cx="796.8" cy="630.2" r="5"/><circle cx="814.8" cy="662.6" r="5"/><circle cx="768.1" cy="689.1" r="5"/><circle cx="778.0" cy="705.1" r="5"/><circle cx="763.0" cy="674.7" r="5"/><circle cx="827.4" cy="659.6" r="5"/><circle cx="773.7" cy="683.5" r="5"/><circle cx="787.8" cy="680.9" r="5"/><circle cx="768.0" cy="703.8" r="5"/><circle cx="795.1" cy="613.5" r="5"/><circle cx="772.7" cy="644.7" r="5"/><circle cx="804.4" cy="708.9" r="5"/><circle cx="807.3" cy="627.6" r="5"/><circle cx="795.5" cy="680.0" r="5"/><circle cx="778.4" cy="677.8" r="5"/><circle cx="780.8" cy="703.2" r="5"/><circle cx="787.6" cy="664.9" r="5"/><circle cx="839.9" cy="622.9" r="5"/><circle cx="803.7" cy="627.4" r="5"/><circle cx="790.3" cy="618.7" r="5"/><circle cx="774.7" cy="727.9" r="5"/><circle cx="777.6" cy="632.5" r="5"/><circle cx="813.8" cy="630.2" r="5"/><circle cx="771.5" cy="627.1" r="5"/><circle cx="790.9" cy="707.5" r="5"/><circle cx="797.6" cy="704.3" r="5"/><circle cx="765.0" cy="670.2" r="5"/><circle cx="811.3" cy="629.6" r="5"/><circle cx="806.8" cy="649.9" r="5"/><circle cx="784.9" cy="623.7" r="5"/><circle cx="774.9" cy="724.8" r="5"/><circle cx="822.2" cy="660.0" r="5"/><circle cx="788.9" cy="628.9" r="5"/><circle cx="800.8" cy="591.6" r="5"/><circle cx="805.8" cy="701.1" r="5"/><circle cx="753.4" cy="623.2" r="5"/><circle cx="777.0" cy="646.3" r="5"/><circle cx="802.0" cy="699.2" r="5"/><circle cx="783.6" cy="705.8" r="5"/><circle cx="811.6" cy="658.1" r="5"/><circle cx="804.2" cy="621.3" r="5"/><circle cx="814.8" cy="657.6" r="5"/><circle cx="817.9" cy="659.5" r="5"/><circle cx="808.9" cy="622.6" r="5"/><circle cx="825.0" cy="651.7" r="5"/><circle cx="804.6" cy="692.0" r="5"/><circle cx="773.0" cy="705.9" r="5"/><circle cx="774.4" cy="722.1" r="5"/><circle cx="773.7" cy="705.1" r="5"/><circle cx="801.8" cy="630.6" r="5"/><circle cx="792.7" cy="671.4" r="5"/><circle cx="794.7" cy="599.5" r="5"/><circle cx="792.4" cy="610.7" r="5"/><circle cx="779.7" cy="626.8" r="5"/><circle cx="814.5" cy="612.8" r="5"/><circle cx="773.0" cy="693.1" r="5"/><circle cx="758.6" cy="635.5" r="5"/><circle cx="807.3" cy="639.7" r="5"/><circle cx="829.5" cy="664.1" r="5"/><circle cx="777.3" cy="733.5" r="5"/><circle cx="798.9" cy="630.8" r="5"/><circle cx="773.9" cy="715.1" r="5"/><circle cx="823.6" cy="627.8" r="5"/><circle cx="778.7" cy="660.0" r="5"/><circle cx="808.5" cy="687.9" r="5"/><circle cx="788.1" cy="654.7" r="5"/><circle cx="834.8" cy="622.4" r="5"/><circle cx="797.4" cy="666.4" r="5"/><circle cx="763.1" cy="668.4" r="5"/><circle cx="811.8" cy="610.3" r="5"/><circle cx="786.9" cy="661.9" r="5"/><circle cx="794.3" cy="652.6" r="5"/><circle cx="818.8" cy="619.3" r="5"/><circle cx="779.0" cy="663.0" r="5"/><circle cx="778.9" cy="683.2" r="5"/><circle cx="752.2" cy="614.7" r="5"/><circle cx="798.0" cy="595.6" r="5"/><circle cx="801.4" cy="648.3" r="5"/><circle cx="770.8" cy="665.4" r="5"/><circle cx="835.0" cy="624.3" r="5"/><circle cx="831.3" cy="648.0" r="5"/><circle cx="831.6" cy="655.6" r="5"/><circle cx="773.0" cy="654.1" r="5"/><circle cx="797.2" cy="644.7" r="5"/><circle cx="821.8" cy="636.5" r="5"/><circle cx="756.5" cy="684.4" r="5"/><circle cx="824.3" cy="633.1" r="5"/><circle cx="780.2" cy="638.7" r="5"/><circle cx="791.9" cy="673.9" r="5"/><circle cx="753.5" cy="612.3" r="5"/><circle cx="773.9" cy="709.8" r="5"/><circle cx="799.6" cy="698.5" r="5"/><circle cx="776.6" cy="639.7" r="5"/><circle cx="842.5" cy="656.2" r="5"/><circle cx="783.8" cy="698.5" r="5"/><circle cx="834.4" cy="639.7" r="5"/><circle cx="815.8" cy="636.5" r="5"/><circle cx="808.2" cy="623.8" r="5"/><circle cx="814.7" cy="672.1" r="5"/><circle cx="828.8" cy="645.3" r="5"/><circle cx="806.0" cy="629.1" r="5"/><circle cx="783.4" cy="675.3" r="5"/><circle cx="793.4" cy="651.9" r="5"/><circle cx="798.7" cy="671.0" r="5"/><circle cx="792.9" cy="629.8" r="5"/><circle cx="810.6" cy="676.8" r="5"/><circle cx="777.8" cy="646.6" r="5"/><circle cx="832.4" cy="637.3" r="5"/><circle cx="807.5" cy="686.3" r="5"/><circle cx="785.7" cy="705.8" r="5"/><circle cx="801.5" cy="624.9" r="5"/><circle cx="797.9" cy="656.0" r="5"/><circle cx="766.1" cy="668.5" r="5"/><circle cx="825.7" cy="662.7" r="5"/><circle cx="788.1" cy="645.1" r="5"/><circle cx="776.8" cy="731.3" r="5"/><circle cx="772.7" cy="698.6" r="5"/><circle cx="777.6" cy="654.7" r="5"/><circle cx="782.8" cy="711.1" r="5"/><circle cx="829.8" cy="644.8" r="5"/><circle cx="800.6" cy="691.7" r="5"/><circle cx="837.3" cy="656.0" r="5"/><circle cx="769.3" cy="628.2" r="5"/><circle cx="786.3" cy="689.4" r="5"/><circle cx="787.8" cy="621.0" r="5"/><circle cx="793.6" cy="625.4" r="5"/><circle cx="789.0" cy="659.8" r="5"/><circle cx="809.0" cy="645.3" r="5"/><circle cx="777.4" cy="625.5" r="5"/><circle cx="791.8" cy="694.7" r="5"/><circle cx="800.2" cy="616.5" r="5"/><circle cx="785.2" cy="707.9" r="5"/><circle cx="740.7" cy="675.8" r="5"/><circle cx="787.1" cy="664.8" r="5"/><circle cx="825.3" cy="645.6" r="5"/><circle cx="835.1" cy="662.7" r="5"/><circle cx="774.6" cy="663.5" r="5"/><circle cx="801.7" cy="698.8" r="5"/><circle cx="763.9" cy="614.7" r="5"/><circle cx="765.1" cy="669.2" r="5"/><circle cx="782.1" cy="628.0" r="5"/><circle cx="778.6" cy="626.8" r="5"/><circle cx="776.6" cy="633.9" r="5"/><circle cx="793.1" cy="702.8" r="5"/><circle cx="777.5" cy="659.2" r="5"/><circle cx="799.9" cy="660.3" r="5"/><circle cx="812.6" cy="628.6" r="5"/><circle cx="784.3" cy="677.5" r="5"/><circle cx="836.0" cy="655.9" r="5"/><circle cx="773.4" cy="665.0" r="5"/><circle cx="801.9" cy="642.3" r="5"/><circle cx="836.9" cy="646.8" r="5"/><circle cx="777.6" cy="658.6" r="5"/><circle cx="761.4" cy="679.4" r="5"/><circle cx="833.8" cy="630.0" r="5"/><circle cx="818.5" cy="663.3" r="5"/><circle cx="819.5" cy="633.3" r="5"/><circle cx="799.7" cy="608.4" r="5"/><circle cx="818.2" cy="632.2" r="5"/><circle cx="776.4" cy="717.4" r="5"/><circle cx="825.5" cy="648.8" r="5"/><circle cx="841.5" cy="650.3" r="5"/><circle cx="800.3" cy="686.9" r="5"/><circle cx="811.7" cy="630.5" r="5"/><circle cx="803.4" cy="669.2" r="5"/><circle cx="782.1" cy="645.2" r="5"/><circle cx="780.4" cy="669.5" r="5"/><circle cx="809.2" cy="585.5" r="5"/><circle cx="817.5" cy="627.2" r="5"/><circle cx="803.9" cy="673.7" r="5"/><circle cx="797.9" cy="692.1" r="5"/><circle cx="752.6" cy="676.8" r="5"/><circle cx="818.0" cy="630.1" r="5"/><circle cx="795.9" cy="635.7" r="5"/><circle cx="817.2" cy="658.7" r="5"/><circle cx="796.7" cy="674.8" r="5"/><circle cx="794.3" cy="718.8" r="5"/><circle cx="818.4" cy="623.0" r="5"/><circle cx="783.1" cy="698.7" r="5"/><circle cx="792.9" cy="670.6" r="5"/><circle cx="823.8" cy="660.5" r="5"/><circle cx="777.5" cy="626.9" r="5"/><circle cx="806.4" cy="623.6" r="5"/><circle cx="783.8" cy="687.8" r="5"/><circle cx="780.8" cy="698.0" r="5"/><circle cx="805.3" cy="585.5" r="5"/><circle cx="803.0" cy="701.5" r="5"/><circle cx="786.1" cy="627.0" r="5"/><circle cx="771.0" cy="624.1" r="5"/><circle cx="794.1" cy="679.4" r="5"/><circle cx="807.4" cy="655.7" r="5"/><circle cx="827.6" cy="648.5" r="5"/><circle cx="782.2" cy="656.1" r="5"/><circle cx="807.1" cy="656.4" r="5"/><circle cx="810.6" cy="672.4" r="5"/><circle cx="796.7" cy="610.9" r="5"/><circle cx="800.7" cy="694.0" r="5"/><circle cx="753.4" cy="669.8" r="5"/><circle cx="804.6" cy="605.8" r="5"/><circle cx="759.0" cy="664.6" r="5"/><circle cx="794.1" cy="619.2" r="5"/><circle cx="809.0" cy="642.6" r="5"/><circle cx="796.2" cy="702.6" r="5"/><circle cx="779.4" cy="632.5" r="5"/><circle cx="827.0" cy="630.9" r="5"/><circle cx="791.5" cy="638.3" r="5"/><circle cx="758.1" cy="665.8" r="5"/><circle cx="800.9" cy="713.4" r="5"/><circle cx="779.9" cy="618.9" r="5"/><circle cx="798.5" cy="705.4" r="5"/><circle cx="801.4" cy="701.4" r="5"/><circle cx="794.9" cy="723.6" r="5"/><circle cx="765.9" cy="664.4" r="5"/><circle cx="765.3" cy="714.5" r="5"/><circle cx="822.7" cy="623.9" r="5"/><circle cx="837.9" cy="631.0" r="5"/><circle cx="776.0" cy="728.7" r="5"/><circle cx="816.2" cy="643.4" r="5"/><circle cx="771.6" cy="647.7" r="5"/><circle cx="814.5" cy="613.3" r="5"/><circle cx="806.6" cy="629.0" r="5"/><circle cx="763.1" cy="716.7" r="5"/><circle cx="792.7" cy="700.9" r="5"/><circle cx="783.8" cy="695.4" r="5"/><circle cx="773.3" cy="619.6" r="5"/><circle cx="826.4" cy="635.5" r="5"/><circle cx="771.7" cy="656.6" r="5"/><circle cx="842.8" cy="657.4" r="5"/><circle cx="776.7" cy="709.2" r="5"/><circle cx="807.7" cy="653.2" r="5"/><circle cx="796.2" cy="627.3" r="5"/><circle cx="834.8" cy="645.3" r="5"/><circle cx="777.2" cy="710.0" r="5"/><circle cx="758.2" cy="673.1" r="5"/><circle cx="772.0" cy="668.8" r="5"/><circle cx="784.5" cy="629.2" r="5"/><circle cx="804.7" cy="685.3" r="5"/><circle cx="846.8" cy="635.6" r="5"/><circle cx="806.7" cy="613.8" r="5"/><circle cx="799.0" cy="663.4" r="5"/><circle cx="826.6" cy="663.4" r="5"/><circle cx="833.9" cy="652.1" r="5"/><circle cx="793.0" cy="714.1" r="5"/><circle cx="767.1" cy="633.3" r="5"/><circle cx="779.0" cy="660.7" r="5"/><circle cx="793.6" cy="663.7" r="5"/><circle cx="771.2" cy="631.6" r="5"/><circle cx="807.2" cy="617.9" r="5"/><circle cx="808.2" cy="615.5" r="5"/><circle cx="776.9" cy="712.4" r="5"/><circle cx="774.7" cy="658.9" r="5"/><circle cx="768.7" cy="703.8" r="5"/><circle cx="791.9" cy="600.7" r="5"/><circle cx="813.0" cy="621.3" r="5"/><circle cx="767.6" cy="615.2" r="5"/><circle cx="827.7" cy="621.7" r="5"/><circle cx="766.1" cy="634.8" r="5"/><circle cx="783.8" cy="624.7" r="5"/><circle cx="802.2" cy="666.6" r="5"/><circle cx="775.6" cy="734.6" r="5"/><circle cx="776.4" cy="620.0" r="5"/><circle cx="778.6" cy="640.4" r="5"/><circle cx="790.0" cy="702.1" r="5"/><circle cx="790.2" cy="633.6" r="5"/><circle cx="777.8" cy="669.1" r="5"/><circle cx="815.6" cy="642.8" r="5"/><circle cx="773.3" cy="690.7" r="5"/><circle cx="750.5" cy="671.0" r="5"/><circle cx="809.3" cy="662.7" r="5"/><circle cx="827.6" cy="630.4" r="5"/><circle cx="794.0" cy="682.8" r="5"/><circle cx="789.5" cy="702.4" r="5"/><circle cx="781.6" cy="724.9" r="5"/><circle cx="770.7" cy="678.2" r="5"/><circle cx="763.3" cy="635.1" r="5"/><circle cx="798.6" cy="646.8" r="5"/><circle cx="811.6" cy="629.7" r="5"/><circle cx="832.6" cy="642.4" r="5"/><circle cx="799.5" cy="710.2" r="5"/><circle cx="763.7" cy="699.8" r="5"/><circle cx="759.7" cy="612.6" r="5"/><circle cx="777.0" cy="712.6" r="5"/><circle cx="759.2" cy="682.5" r="5"/><circle cx="815.0" cy="642.9" r="5"/><circle cx="779.0" cy="714.1" r="5"/><circle cx="787.5" cy="649.6" r="5"/><circle cx="800.2" cy="708.8" r="5"/><circle cx="850.3" cy="648.7" r="5"/><circle cx="798.8" cy="606.8" r="5"/><circle cx="769.3" cy="650.6" r="5"/><circle cx="792.4" cy="720.0" r="5"/><circle cx="791.8" cy="639.8" r="5"/><circle cx="789.9" cy="644.9" r="5"/><circle cx="767.3" cy="626.9" r="5"/><circle cx="775.9" cy="679.1" r="5"/><circle cx="781.0" cy="695.5" r="5"/><circle cx="802.9" cy="671.2" r="5"/><circle cx="790.8" cy="631.9" r="5"/><circle cx="781.0" cy="709.6" r="5"/><circle cx="787.3" cy="698.6" r="5"/><circle cx="803.4" cy="641.6" r="5"/><circle cx="802.3" cy="637.8" r="5"/><circle cx="790.7" cy="700.4" r="5"/><circle cx="773.1" cy="729.0" r="5"/><circle cx="844.3" cy="655.3" r="5"/><circle cx="773.7" cy="714.2" r="5"/><circle cx="771.6" cy="618.0" r="5"/><circle cx="785.3" cy="655.2" r="5"/><circle cx="821.3" cy="637.7" r="5"/><circle cx="833.5" cy="646.5" r="5"/><circle cx="810.1" cy="671.4" r="5"/><circle cx="771.4" cy="672.6" r="5"/><circle cx="772.2" cy="688.2" r="5"/><circle cx="827.6" cy="636.3" r="5"/><circle cx="804.8" cy="683.3" r="5"/><circle cx="785.1" cy="624.8" r="5"/><circle cx="791.0" cy="713.5" r="5"/><circle cx="786.3" cy="733.3" r="5"/><circle cx="815.3" cy="664.0" r="5"/><circle cx="816.8" cy="640.2" r="5"/><circle cx="837.9" cy="659.9" r="5"/><circle cx="782.6" cy="671.7" r="5"/><circle cx="805.3" cy="669.4" r="5"/><circle cx="826.9" cy="619.7" r="5"/><circle cx="895.4" cy="690.0" r="5"/><circle cx="897.8" cy="657.9" r="5"/><circle cx="879.0" cy="649.7" r="5"/><circle cx="889.9" cy="696.0" r="5"/><circle cx="891.6" cy="657.7" r="5"/><circle cx="869.9" cy="647.8" r="5"/><circle cx="902.2" cy="650.1" r="5"/><circle cx="915.4" cy="653.4" r="5"/><circle cx="890.8" cy="654.6" r="5"/><circle cx="888.2" cy="664.7" r="5"/><circle cx="912.2" cy="696.7" r="5"/><circle cx="875.7" cy="644.6" r="5"/><circle cx="871.5" cy="701.0" r="5"/><circle cx="888.1" cy="698.7" r="5"/><circle cx="894.8" cy="685.1" r="5"/><circle cx="906.5" cy="645.3" r="5"/><circle cx="900.3" cy="691.3" r="5"/><circle cx="919.7" cy="662.4" r="5"/><circle cx="872.0" cy="684.7" r="5"/><circle cx="878.1" cy="697.4" r="5"/><circle cx="907.2" cy="655.3" r="5"/><circle cx="922.3" cy="666.9" r="5"/><circle cx="890.8" cy="647.6" r="5"/><circle cx="867.2" cy="672.1" r="5"/><circle cx="920.6" cy="670.5" r="5"/><circle cx="899.1" cy="661.3" r="5"/><circle cx="930.6" cy="683.7" r="5"/><circle cx="880.9" cy="668.6" r="5"/><circle cx="898.4" cy="677.0" r="5"/><circle cx="901.8" cy="681.4" r="5"/><circle cx="907.0" cy="696.1" r="5"/><circle cx="908.3" cy="686.4" r="5"/><circle cx="869.9" cy="689.5" r="5"/><circle cx="875.9" cy="669.1" r="5"/><circle cx="894.2" cy="645.5" r="5"/><circle cx="886.1" cy="683.5" r="5"/><circle cx="880.2" cy="668.0" r="5"/><circle cx="885.5" cy="645.3" r="5"/><circle cx="894.0" cy="639.9" r="5"/><circle cx="931.2" cy="677.6" r="5"/><circle cx="911.3" cy="682.4" r="5"/><circle cx="911.7" cy="665.7" r="5"/><circle cx="882.6" cy="652.9" r="5"/><circle cx="877.1" cy="701.6" r="5"/><circle cx="888.5" cy="684.3" r="5"/><circle cx="901.3" cy="683.3" r="5"/><circle cx="875.7" cy="686.8" r="5"/><circle cx="892.5" cy="670.1" r="5"/><circle cx="881.3" cy="694.4" r="5"/><circle cx="897.7" cy="654.2" r="5"/><circle cx="878.1" cy="684.4" r="5"/><circle cx="873.5" cy="680.9" r="5"/><circle cx="876.7" cy="656.8" r="5"/><circle cx="925.9" cy="667.8" r="5"/><circle cx="871.8" cy="696.4" r="5"/><circle cx="889.8" cy="702.0" r="5"/><circle cx="877.8" cy="681.1" r="5"/><circle cx="925.6" cy="679.4" r="5"/><circle cx="883.8" cy="673.5" r="5"/><circle cx="912.8" cy="674.6" r="5"/><circle cx="899.5" cy="692.0" r="5"/><circle cx="928.7" cy="689.1" r="5"/><circle cx="883.4" cy="657.7" r="5"/><circle cx="912.7" cy="652.7" r="5"/><circle cx="888.5" cy="667.8" r="5"/><circle cx="903.3" cy="674.1" r="5"/><circle cx="890.1" cy="655.4" r="5"/><circle cx="902.4" cy="667.2" r="5"/><circle cx="908.1" cy="681.7" r="5"/><circle cx="928.1" cy="685.8" r="5"/><circle cx="917.4" cy="672.9" r="5"/><circle cx="877.7" cy="688.4" r="5"/><circle cx="870.3" cy="665.4" r="5"/><circle cx="874.2" cy="649.3" r="5"/><circle cx="891.1" cy="656.9" r="5"/><circle cx="904.5" cy="638.2" r="5"/><circle cx="898.7" cy="650.2" r="5"/><circle cx="924.0" cy="670.3" r="5"/><circle cx="914.5" cy="658.0" r="5"/><circle cx="875.4" cy="687.7" r="5"/><circle cx="881.4" cy="688.8" r="5"/><circle cx="884.3" cy="671.1" r="5"/><circle cx="912.1" cy="690.2" r="5"/><circle cx="870.9" cy="651.0" r="5"/><circle cx="906.9" cy="659.5" r="5"/><circle cx="896.2" cy="676.9" r="5"/><circle cx="888.3" cy="644.8" r="5"/><circle cx="910.1" cy="690.0" r="5"/><circle cx="926.9" cy="694.6" r="5"/><circle cx="926.1" cy="687.3" r="5"/><circle cx="916.5" cy="665.5" r="5"/><circle cx="887.0" cy="683.0" r="5"/><circle cx="886.9" cy="641.1" r="5"/><circle cx="911.6" cy="673.4" r="5"/><circle cx="888.8" cy="642.3" r="5"/><circle cx="880.6" cy="656.1" r="5"/><circle cx="898.1" cy="662.3" r="5"/><circle cx="907.0" cy="639.1" r="5"/><circle cx="876.7" cy="646.0" r="5"/><circle cx="888.7" cy="656.9" r="5"/><circle cx="887.4" cy="688.8" r="5"/><circle cx="885.2" cy="670.2" r="5"/><circle cx="905.0" cy="652.0" r="5"/><circle cx="910.5" cy="701.4" r="5"/><circle cx="904.1" cy="649.2" r="5"/><circle cx="913.6" cy="651.2" r="5"/><circle cx="886.9" cy="663.9" r="5"/><circle cx="906.0" cy="646.4" r="5"/><circle cx="889.6" cy="678.2" r="5"/><circle cx="915.5" cy="692.7" r="5"/><circle cx="918.3" cy="686.3" r="5"/><circle cx="897.1" cy="675.3" r="5"/><circle cx="912.9" cy="665.8" r="5"/><circle cx="876.5" cy="671.0" r="5"/><circle cx="911.5" cy="667.9" r="5"/><circle cx="900.3" cy="644.5" r="5"/><circle cx="878.0" cy="699.1" r="5"/><circle cx="923.2" cy="671.9" r="5"/><circle cx="912.0" cy="676.4" r="5"/><circle cx="880.8" cy="656.3" r="5"/><circle cx="906.1" cy="665.8" r="5"/><circle cx="889.5" cy="651.5" r="5"/><circle cx="898.4" cy="677.7" r="5"/><circle cx="908.4" cy="679.7" r="5"/><circle cx="911.3" cy="694.8" r="5"/><circle cx="920.7" cy="661.6" r="5"/><circle cx="904.6" cy="651.9" r="5"/><circle cx="887.1" cy="694.4" r="5"/><circle cx="891.0" cy="672.3" r="5"/><circle cx="897.6" cy="644.3" r="5"/><circle cx="869.8" cy="694.9" r="5"/><circle cx="874.1" cy="693.8" r="5"/><circle cx="892.1" cy="676.4" r="5"/><circle cx="885.6" cy="695.2" r="5"/><circle cx="894.9" cy="648.9" r="5"/><circle cx="893.7" cy="693.9" r="5"/><circle cx="887.0" cy="666.0" r="5"/><circle cx="915.9" cy="679.1" r="5"/><circle cx="873.1" cy="676.8" r="5"/><circle cx="872.1" cy="693.7" r="5"/><circle cx="909.0" cy="640.9" r="5"/><circle cx="897.6" cy="676.0" r="5"/><circle cx="887.5" cy="651.8" r="5"/><circle cx="914.2" cy="687.9" r="5"/><circle cx="903.6" cy="673.0" r="5"/><circle cx="888.6" cy="681.0" r="5"/><circle cx="868.4" cy="655.4" r="5"/><circle cx="901.7" cy="648.6" r="5"/><circle cx="918.4" cy="689.7" r="5"/><circle cx="905.5" cy="695.6" r="5"/><circle cx="886.0" cy="682.7" r="5"/><circle cx="880.1" cy="672.7" r="5"/><circle cx="910.8" cy="690.0" r="5"/><circle cx="880.4" cy="654.9" r="5"/><circle cx="906.2" cy="681.5" r="5"/><circle cx="881.7" cy="690.1" r="5"/><circle cx="906.7" cy="656.8" r="5"/><circle cx="916.0" cy="673.6" r="5"/><circle cx="919.5" cy="687.2" r="5"/><circle cx="889.6" cy="688.5" r="5"/><circle cx="887.3" cy="662.3" r="5"/><circle cx="877.8" cy="668.4" r="5"/><circle cx="885.3" cy="679.4" r="5"/><circle cx="885.3" cy="662.4" r="5"/><circle cx="879.3" cy="653.7" r="5"/><circle cx="889.1" cy="682.5" r="5"/><circle cx="878.5" cy="704.5" r="5"/><circle cx="911.1" cy="657.0" r="5"/><circle cx="881.3" cy="689.6" r="5"/><circle cx="879.6" cy="675.5" r="5"/><circle cx="895.6" cy="661.4" r="5"/><circle cx="866.0" cy="645.0" r="5"/><circle cx="907.1" cy="657.7" r="5"/><circle cx="877.3" cy="660.8" r="5"/><circle cx="898.6" cy="689.3" r="5"/><circle cx="912.2" cy="689.0" r="5"/><circle cx="838.3" cy="739.4" r="5"/><circle cx="829.2" cy="736.7" r="5"/><circle cx="842.7" cy="740.0" r="5"/><circle cx="829.8" cy="737.4" r="5"/><circle cx="840.4" cy="741.2" r="5"/><circle cx="843.8" cy="741.7" r="5"/><circle cx="847.1" cy="739.6" r="5"/><circle cx="827.1" cy="737.4" r="5"/><circle cx="835.3" cy="740.3" r="5"/><circle cx="830.1" cy="737.7" r="5"/><circle cx="820.7" cy="681.8" r="5"/><circle cx="847.6" cy="678.3" r="5"/><circle cx="820.3" cy="682.1" r="5"/><circle cx="826.7" cy="687.8" r="5"/><circle cx="850.7" cy="685.9" r="5"/><circle cx="850.4" cy="686.9" r="5"/><circle cx="821.9" cy="688.0" r="5"/><circle cx="834.3" cy="688.2" r="5"/><circle cx="834.1" cy="695.5" r="5"/><circle cx="855.8" cy="684.5" r="5"/><circle cx="857.1" cy="692.3" r="5"/><circle cx="817.8" cy="695.7" r="5"/><circle cx="823.4" cy="708.1" r="5"/><circle cx="842.6" cy="711.4" r="5"/><circle cx="840.6" cy="702.8" r="5"/><circle cx="863.0" cy="708.9" r="5"/><circle cx="810.6" cy="709.2" r="5"/><circle cx="814.5" cy="719.7" r="5"/><circle cx="829.7" cy="722.0" r="5"/><circle cx="841.6" cy="715.2" r="5"/><circle cx="856.1" cy="708.7" r="5"/><circle cx="857.9" cy="706.9" r="5"/><circle cx="824.9" cy="732.8" r="5"/><circle cx="830.9" cy="721.8" r="5"/><circle cx="839.5" cy="727.0" r="5"/><circle cx="841.8" cy="732.0" r="5"/><circle cx="992.5" cy="523.8" r="5"/><circle cx="992.8" cy="528.6" r="5"/><circle cx="1003.0" cy="521.8" r="5"/><circle cx="976.7" cy="535.2" r="5"/><circle cx="989.4" cy="532.6" r="5"/><circle cx="987.8" cy="531.0" r="5"/><circle cx="996.8" cy="526.0" r="5"/><circle cx="977.2" cy="528.6" r="5"/><circle cx="999.6" cy="522.1" r="5"/><circle cx="996.1" cy="522.5" r="5"/><circle cx="989.8" cy="527.4" r="5"/><circle cx="995.3" cy="522.8" r="5"/><circle cx="989.1" cy="533.0" r="5"/><circle cx="971.0" cy="538.1" r="5"/><circle cx="925.2" cy="563.9" r="5"/><circle cx="931.7" cy="574.9" r="5"/><circle cx="932.3" cy="571.7" r="5"/><circle cx="942.4" cy="572.6" r="5"/><circle cx="926.1" cy="568.0" r="5"/><circle cx="926.8" cy="573.2" r="5"/><circle cx="932.3" cy="575.5" r="5"/><circle cx="952.0" cy="564.4" r="5"/><circle cx="934.1" cy="574.3" r="5"/><circle cx="947.4" cy="571.6" r="5"/><circle cx="927.7" cy="564.3" r="5"/><circle cx="927.1" cy="573.7" r="5"/><circle cx="926.1" cy="581.3" r="5"/><circle cx="952.5" cy="566.8" r="5"/><circle cx="929.3" cy="564.4" r="5"/><circle cx="934.5" cy="577.3" r="5"/><circle cx="928.3" cy="566.8" r="5"/><circle cx="918.5" cy="564.6" r="5"/><circle cx="952.3" cy="565.6" r="5"/><circle cx="942.2" cy="575.6" r="5"/><circle cx="890.0" cy="566.7" r="5"/><circle cx="903.3" cy="566.7" r="5"/><circle cx="890.0" cy="583.3" r="5"/><circle cx="895.0" cy="590.0" r="5"/><circle cx="958.3" cy="588.3" r="5"/><circle cx="960.0" cy="595.0" r="5"/><circle cx="985.0" cy="571.7" r="5"/><circle cx="978.3" cy="565.0" r="5"/><circle cx="1001.7" cy="540.0" r="5"/><circle cx="880.0" cy="538.3" r="5"/><circle cx="853.3" cy="553.3" r="5"/><circle cx="843.3" cy="561.7" r="5"/><circle cx="791.7" cy="577.3" r="5"/><circle cx="698.3" cy="548.3" r="5"/><circle cx="716.7" cy="560.0" r="5"/><circle cx="735.0" cy="576.7" r="5"/><circle cx="750.0" cy="611.7" r="5"/><circle cx="760.0" cy="606.7" r="5"/><circle cx="751.7" cy="623.3" r="5"/><circle cx="938.3" cy="463.3" r="5"/><circle cx="960.0" cy="480.0" r="5"/><circle cx="1008.3" cy="483.3" r="5"/><circle cx="1021.7" cy="463.3" r="5"/><circle cx="993.3" cy="453.3" r="5"/><circle cx="913.3" cy="476.7" r="5"/><circle cx="910.0" cy="481.7" r="5"/><circle cx="930.0" cy="501.7" r="5"/><circle cx="723.3" cy="460.7" r="5"/><circle cx="738.3" cy="463.3" r="5"/><circle cx="758.3" cy="471.7" r="5"/><circle cx="711.7" cy="476.0" r="5"/><circle cx="933.3" cy="670.0" r="5"/><circle cx="935.0" cy="691.7" r="5"/><circle cx="743.3" cy="673.3" r="5"/></g>
<g stroke="#000" stroke-width="2.8" fill="none">
<path d="M92.4 11.7V881"/><path d="M91 879.5H1240.7"/>
<path d="M85.3 180.5H92M85.3 430.7H92M85.3 680.8H92"/>
<path d="M385.3 880V886.4M727.2 880V886.4M1068.9 880V886.4"/>
</g>
<g class="tick" text-anchor="end">
<text transform="translate(80.8,189.0) scale(1,1.07)" letter-spacing="1.3">20</text><text transform="translate(79.5,439.1) scale(1,1.07)">0</text><text transform="translate(80.8,689.2) scale(1,1.07)" letter-spacing="1.3">-20</text>
</g>
<g class="tick" text-anchor="middle">
<text transform="translate(386.0,909.0) scale(1,1.07)" letter-spacing="1.3">-20</text><text transform="translate(727.3,909.0) scale(1,1.07)">0</text><text transform="translate(1069.4,909.0) scale(1,1.07)" letter-spacing="1.3">20</text>
</g>
<text class="title" transform="translate(665.2,940.8) scale(1,1.12)" text-anchor="middle">TSNE 1</text>
<text class="title" transform="translate(33.3,446.6) rotate(-90) scale(1,1.12)" text-anchor="middle">TSNE 2</text>
<text class="title" transform="translate(1265.8,421.2) scale(1,1.0)">batch</text>
<g fill="#729ECE" fill-opacity="0.6" stroke="#729ECE" stroke-opacity="0.6" stroke-width="2"><circle cx="1280.2" cy="451.5" r="5"/></g>
<g fill="#FF9E4A" fill-opacity="0.6" stroke="#FF9E4A" stroke-opacity="0.6" stroke-width="2"><circle cx="1280.2" cy="480.7" r="5"/></g>
<text class="tick" transform="translate(1308,460.1) scale(1,1.03)">1</text><text class="tick" transform="translate(1308,488.9) scale(1,1.03)">2</text>
</svg>
</body></html>
